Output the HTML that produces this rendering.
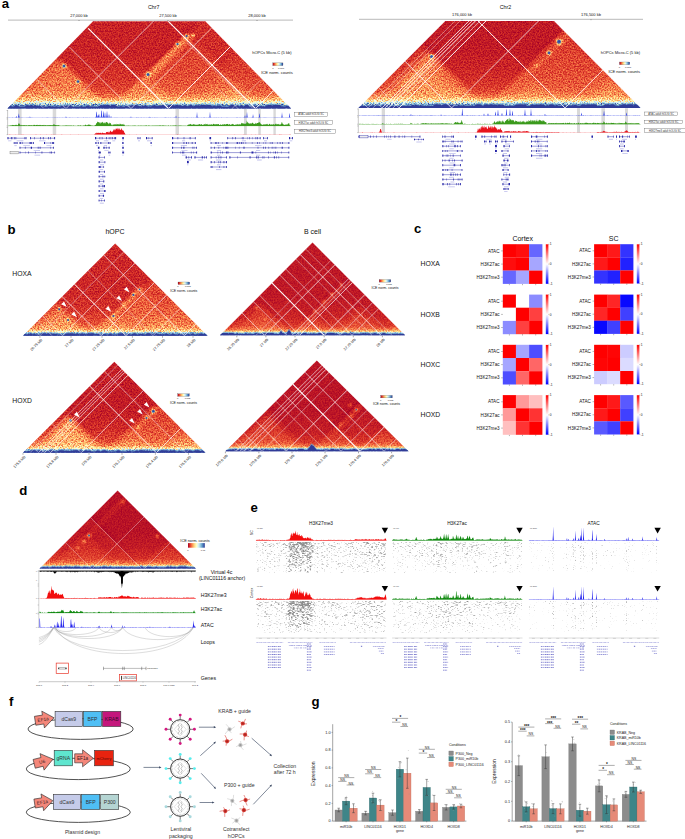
<!DOCTYPE html>
<html><head><meta charset="utf-8"><title>Figure</title>
<style>
html,body{margin:0;padding:0;background:#fff;}
body{width:685px;height:839px;overflow:hidden;font-family:"Liberation Sans",sans-serif;}
svg{display:block;font-family:"Liberation Sans",sans-serif;}
</style></head><body>
<svg width="685" height="839" viewBox="0 0 685 839">
<defs>
<filter id="cm" filterUnits="userSpaceOnUse" x="0" y="0" width="685" height="839" color-interpolation-filters="sRGB">
<feTurbulence type="fractalNoise" baseFrequency="0.71" numOctaves="2" seed="7" result="t"/>
<feColorMatrix in="t" type="matrix" values="2.2 0 0 0 -0.6  2.2 0 0 0 -0.6  2.2 0 0 0 -0.6  0 0 0 0 1" result="n"/>
<feComposite in="SourceGraphic" in2="n" operator="arithmetic" k1="0.74" k2="0.63" k3="0.07" k4="-0.03" result="v"/>
<feComponentTransfer in="v">
<feFuncR type="table" tableValues="0.647 0.843 0.957 0.992 0.996 1 0.878 0.671 0.455 0.271 0.192"/>
<feFuncG type="table" tableValues="0 0.188 0.427 0.682 0.878 1 0.953 0.851 0.678 0.459 0.212"/>
<feFuncB type="table" tableValues="0.149 0.153 0.263 0.380 0.565 0.749 0.973 0.914 0.820 0.706 0.584"/>
</feComponentTransfer>
</filter>
<filter id="cm2" filterUnits="userSpaceOnUse" x="0" y="0" width="685" height="839" color-interpolation-filters="sRGB">
<feTurbulence type="fractalNoise" baseFrequency="0.71" numOctaves="2" seed="9" result="t"/>
<feColorMatrix in="t" type="matrix" values="2.2 0 0 0 -0.6  2.2 0 0 0 -0.6  2.2 0 0 0 -0.6  0 0 0 0 1" result="n"/>
<feComposite in="SourceGraphic" in2="n" operator="arithmetic" k1="0.5" k2="0.75" k3="0.04" k4="-0.02" result="v"/>
<feComponentTransfer in="v">
<feFuncR type="table" tableValues="0.647 0.843 0.957 0.992 0.996 1 0.878 0.671 0.455 0.271 0.192"/>
<feFuncG type="table" tableValues="0 0.188 0.427 0.682 0.878 1 0.953 0.851 0.678 0.459 0.212"/>
<feFuncB type="table" tableValues="0.149 0.153 0.263 0.380 0.565 0.749 0.973 0.914 0.820 0.706 0.584"/>
</feComponentTransfer>
</filter>
<filter id="b1" filterUnits="userSpaceOnUse" x="0" y="0" width="685" height="839"><feGaussianBlur stdDeviation="1"/></filter>
<filter id="b2" filterUnits="userSpaceOnUse" x="0" y="0" width="685" height="839"><feGaussianBlur stdDeviation="2"/></filter>
<filter id="b3" filterUnits="userSpaceOnUse" x="0" y="0" width="685" height="839"><feGaussianBlur stdDeviation="3.5"/></filter>
<filter id="b05" filterUnits="userSpaceOnUse" x="0" y="0" width="685" height="839"><feGaussianBlur stdDeviation="0.5"/></filter>
<linearGradient id="cbar" x1="0" x2="1" y1="0" y2="0">
<stop offset="0" stop-color="#a50026"/><stop offset="0.1" stop-color="#d73027"/><stop offset="0.2" stop-color="#f46d43"/><stop offset="0.3" stop-color="#fdae61"/><stop offset="0.4" stop-color="#fee090"/><stop offset="0.5" stop-color="#ffffbf"/><stop offset="0.6" stop-color="#e0f3f8"/><stop offset="0.7" stop-color="#abd9e9"/><stop offset="0.8" stop-color="#74add1"/><stop offset="0.9" stop-color="#4575b4"/><stop offset="1" stop-color="#313695"/>
</linearGradient>
<linearGradient id="bwr" x1="0" x2="0" y1="0" y2="1">
<stop offset="0" stop-color="#ff0000"/><stop offset="0.5" stop-color="#ffffff"/><stop offset="1" stop-color="#0000ff"/>
</linearGradient>
</defs>

<text x="1.8" y="8.4" font-size="13.2" text-anchor="start" font-weight="bold" fill="#000" >a</text>
<text x="153.7" y="8.6" font-size="5.3" text-anchor="middle" fill="#111" >Chr7</text>
<line x1="8" y1="20.1" x2="293" y2="20.1" stroke="#333" stroke-width="0.35" />
<text x="79" y="16.8" font-size="4" text-anchor="middle" fill="#111" >27,000 kb</text>
<line x1="79" y1="20.1" x2="79" y2="21" stroke="#222" stroke-width="0.4" />
<text x="168" y="16.8" font-size="4" text-anchor="middle" fill="#111" >27,500 kb</text>
<line x1="168" y1="20.1" x2="168" y2="21" stroke="#222" stroke-width="0.4" />
<text x="257" y="16.8" font-size="4" text-anchor="middle" fill="#111" >28,000 kb</text>
<line x1="257" y1="20.1" x2="257" y2="21" stroke="#222" stroke-width="0.4" />
<clipPath id="hc1"><polygon points="7.5,108.6 93,21.3 205.3,21.3 291,108.6"/></clipPath>
<linearGradient id="hc1g" gradientUnits="userSpaceOnUse" x1="0" x2="0" y1="108.6" y2="48.6">
<stop offset="0.000" stop-color="rgb(255,255,255)" stop-opacity="1"/>
<stop offset="0.042" stop-color="rgb(242,242,242)" stop-opacity="1"/>
<stop offset="0.075" stop-color="rgb(184,184,184)" stop-opacity="0.95"/>
<stop offset="0.108" stop-color="rgb(140,140,140)" stop-opacity="0.85"/>
<stop offset="0.150" stop-color="rgb(115,115,115)" stop-opacity="0.6"/>
<stop offset="0.217" stop-color="rgb(102,102,102)" stop-opacity="0.35"/>
<stop offset="0.333" stop-color="rgb(94,94,94)" stop-opacity="0.2"/>
<stop offset="0.567" stop-color="rgb(89,89,89)" stop-opacity="0.1"/>
<stop offset="1.000" stop-color="rgb(76,76,76)" stop-opacity="0"/>
</linearGradient>
<g clip-path="url(#hc1)">
<g filter="url(#cm)">
<rect x="-2.5" y="11.3" width="303.5" height="107.3" fill="rgb(17,17,17)" />
<polygon points="114,108.6 207,201.6 300,108.6 207,15.6" fill="rgb(24,24,24)" filter="url(#b3)"/>
<polygon points="5,111.6 111,111.6 58,58.6" fill="rgb(33,33,33)" filter="url(#b3)"/>
<polygon points="5,111.6 109,111.6 57,59.6" fill="rgb(48,48,48)" filter="url(#b2)" opacity="0.8"/>
<polygon points="21,111.6 109,111.6 65,67.6" fill="rgb(59,59,59)" filter="url(#b3)" opacity="0.7"/>
<polygon points="34,82.6 60,108.6 83,85.6 57,59.6" fill="rgb(44,44,44)" filter="url(#b3)" opacity="0.4"/>
<polygon points="118.5,103.1 124,108.6 193,39.6 187.5,34.1" fill="rgb(53,53,53)" filter="url(#b2)"/>
<polygon points="131.5,90.1 134.5,93.1 190.5,37.1 187.5,34.1" fill="rgb(72,72,72)" filter="url(#b1)" opacity="0.7"/>
<polygon points="109,111.6 185,111.6 147,73.6" fill="rgb(44,44,44)" filter="url(#b3)" opacity="0.8"/>
<polygon points="121,111.6 185,111.6 153,79.6" fill="rgb(57,57,57)" filter="url(#b3)" opacity="0.6"/>
<polygon points="179,111.6 265,111.6 222,68.6" fill="rgb(42,42,42)" filter="url(#b3)" opacity="0.9"/>
<polygon points="207,111.6 265,111.6 236,82.6" fill="rgb(59,59,59)" filter="url(#b3)" opacity="0.7"/>
<polygon points="153,79.6 182,108.6 222,68.6 193,39.6" fill="rgb(33,33,33)" filter="url(#b3)" opacity="0.8"/>
<polygon points="259,111.6 294,111.6 276.5,94.1" fill="rgb(59,59,59)" filter="url(#b2)"/>
<polygon points="222,68.6 262,108.6 281,89.6 241,49.6" fill="rgb(31,31,31)" filter="url(#b3)" opacity="0.7"/>
<circle cx="64" cy="66.1" r="2.3" fill="rgb(115,115,115)" filter="url(#b1)"/>
<circle cx="78" cy="81.6" r="2.1849999999999996" fill="rgb(115,115,115)" filter="url(#b1)"/>
<circle cx="148" cy="74.6" r="2.3" fill="rgb(115,115,115)" filter="url(#b1)"/>
<circle cx="186.5" cy="36.1" r="1.7249999999999999" fill="rgb(115,115,115)" filter="url(#b1)"/>
<circle cx="177.5" cy="44.1" r="1.8399999999999999" fill="rgb(115,115,115)" filter="url(#b1)"/>
<circle cx="193" cy="35.6" r="1.5" fill="rgb(130,130,130)" filter="url(#b1)"/>
<rect x="-2.5" y="48.6" width="303.5" height="61" fill="url(#hc1g)" />
</g>
<circle cx="64" cy="66.1" r="1.5" fill="#3d62ad" filter="url(#b05)"/>
<circle cx="64.2" cy="66" r="0.7" fill="#2f4199"/>
<circle cx="78" cy="81.6" r="1.4" fill="#3d62ad" filter="url(#b05)"/>
<circle cx="78.2" cy="81.5" r="0.6" fill="#2f4199"/>
<circle cx="148" cy="74.6" r="1.5" fill="#3d62ad" filter="url(#b05)"/>
<circle cx="148.2" cy="74.5" r="0.7" fill="#2f4199"/>
<circle cx="186.5" cy="36.1" r="1.1" fill="#3d62ad" filter="url(#b05)"/>
<circle cx="186.7" cy="36" r="0.5" fill="#2f4199"/>
<circle cx="177.5" cy="44.1" r="1.2" fill="#3d62ad" filter="url(#b05)"/>
<circle cx="177.7" cy="44" r="0.5" fill="#2f4199"/>
<polygon points="6,109.6 6,106 7.2,105 8.2,105 9.4,105.8 10.5,105.4 11.9,106.4 12.8,106.8 14.2,106.3 14.9,105.2 16.4,105 17.7,105.8 18.3,105.8 18.9,106.5 19.8,106.8 20.8,106.8 22.3,106.8 23.5,106.8 24.8,106.8 25.7,105.6 27.3,105 28.6,105.4 29.4,105.9 30.1,105.3 31.1,105 32,105 33.5,106.2 34.3,105.2 35.4,105 36.4,106 37.6,105.4 38.5,106.3 39.4,105.2 40.8,106.2 41.6,106.8 42.3,106.1 43,105.9 44.1,106.7 45.4,106.8 46.7,106.8 47.7,106.8 48.6,105.7 50,106.1 51.4,106.8 52.4,105.9 53.7,106.8 55.3,106.8 56.1,106.1 57.1,106.6 57.7,106.8 58.9,106.8 60.1,106.8 61.2,105.7 62.3,105.5 63.7,106.3 64.5,105.3 65.9,105.9 66.7,105.3 68.2,106.1 69.8,105.1 71,105.3 71.7,106.4 73.2,106.8 74.5,106.8 76,106.6 76.9,106.8 78.2,106.8 79,106.7 80.5,106.4 81.3,105.4 82.2,106.5 83,106.7 83.7,106.8 84.6,106.6 85.4,106.8 86.9,105.6 88.1,105.2 89.3,106.1 89.9,106.8 91.5,106.3 93,106.8 94.3,106.8 95.6,106.8 97.2,106.8 98.3,106.2 99.8,105.7 101.1,105 102.7,105.4 103.9,105 105.4,105.2 106.8,105 108,105 109,105 110.2,106 111.4,105 112.9,105 113.9,105 115.1,105.1 116.5,106.1 117.8,106.8 119,106.8 119.9,106.3 121,106 122.5,106.6 123.1,106.8 124.4,106.8 125.1,105.8 126.4,106 127.9,106.4 129.2,106.8 130.2,106.1 131.7,105.2 132.7,105 133.6,105.9 134.7,105.1 136.2,105 137.7,105.5 138.5,105.7 139.4,106.3 140.4,106 141.5,106.5 142.9,105.3 144,106.3 144.6,105.5 145.2,105 146.4,105.5 147.8,106.6 148.5,106.7 149.1,105.9 150,106.8 150.6,106.5 151.7,106.2 152.9,105.4 154.5,105 155.3,105.1 156.1,106.2 157.1,105.7 157.9,106.3 158.9,105.8 160,105.5 161.3,105.8 162.7,105 163.4,105 164.7,105.9 165.8,105.6 167.3,105.9 168.5,105 169.9,105 170.9,105 171.7,105 173.2,105 174.5,105.7 176,105 177.6,105 178.9,105.4 180.5,105 181.4,106 182.4,105.9 183.8,105.9 184.4,105.2 185.1,105 185.9,105.4 187.3,106.3 188,106.2 189.3,105.4 190.6,105 191.7,105 192.4,105.7 193.5,106.2 194.9,105.8 196,105 197.1,105.5 198.1,105 199.6,105.7 201.1,105 202.2,105 203,105 204.1,105 204.7,105 205.8,105.2 207.3,105.1 208.3,105 209,105 210,105 211.5,105.6 212.6,106.4 213.7,105.7 215.2,105.7 216.1,106.5 217.3,105.5 218,105 218.6,105.7 219.5,105.3 220.4,105.6 221.6,106.6 222.9,106.8 224,106.8 224.8,106.7 225.9,106.8 226.9,106.7 227.7,106.8 228.9,106.5 230,105.6 231.2,105 232.1,105 233.5,105 234.4,105.4 235.9,106.1 237.5,105.2 238.2,105.8 239.6,106.4 240.3,105.6 241.3,105 242,105.2 243.3,106.4 244.1,106 245.6,105 246.3,105 247.7,105 249,105.7 249.6,106.7 250.3,106.6 251.4,106.4 252.1,106.8 252.9,106 254.5,105 255.2,106.1 256.8,106.1 258.1,106.6 259.2,106.5 260.2,106.3 260.9,105.8 262.3,106.6 263.4,106 264.4,106.7 265.1,106.7 265.7,105.7 267.1,105.3 268.6,105 269.6,105 270.7,105 272.1,105.6 273.6,105 275,105 276,105 277.5,105 278.9,105 279.9,105 280.5,105.4 281.6,106.6 282.6,106.2 283.8,106.8 285.3,106.4 286.3,106 287.4,105.9 288.4,105 289.7,105 291,105 291.7,105 293,105.6 293,109.6" fill="#6fa3cc" transform="translate(0,-1.3)" opacity="0.75"/>
<polygon points="6,109.6 6,106 7.2,105 8.2,105 9.4,105.8 10.5,105.4 11.9,106.4 12.8,106.8 14.2,106.3 14.9,105.2 16.4,105 17.7,105.8 18.3,105.8 18.9,106.5 19.8,106.8 20.8,106.8 22.3,106.8 23.5,106.8 24.8,106.8 25.7,105.6 27.3,105 28.6,105.4 29.4,105.9 30.1,105.3 31.1,105 32,105 33.5,106.2 34.3,105.2 35.4,105 36.4,106 37.6,105.4 38.5,106.3 39.4,105.2 40.8,106.2 41.6,106.8 42.3,106.1 43,105.9 44.1,106.7 45.4,106.8 46.7,106.8 47.7,106.8 48.6,105.7 50,106.1 51.4,106.8 52.4,105.9 53.7,106.8 55.3,106.8 56.1,106.1 57.1,106.6 57.7,106.8 58.9,106.8 60.1,106.8 61.2,105.7 62.3,105.5 63.7,106.3 64.5,105.3 65.9,105.9 66.7,105.3 68.2,106.1 69.8,105.1 71,105.3 71.7,106.4 73.2,106.8 74.5,106.8 76,106.6 76.9,106.8 78.2,106.8 79,106.7 80.5,106.4 81.3,105.4 82.2,106.5 83,106.7 83.7,106.8 84.6,106.6 85.4,106.8 86.9,105.6 88.1,105.2 89.3,106.1 89.9,106.8 91.5,106.3 93,106.8 94.3,106.8 95.6,106.8 97.2,106.8 98.3,106.2 99.8,105.7 101.1,105 102.7,105.4 103.9,105 105.4,105.2 106.8,105 108,105 109,105 110.2,106 111.4,105 112.9,105 113.9,105 115.1,105.1 116.5,106.1 117.8,106.8 119,106.8 119.9,106.3 121,106 122.5,106.6 123.1,106.8 124.4,106.8 125.1,105.8 126.4,106 127.9,106.4 129.2,106.8 130.2,106.1 131.7,105.2 132.7,105 133.6,105.9 134.7,105.1 136.2,105 137.7,105.5 138.5,105.7 139.4,106.3 140.4,106 141.5,106.5 142.9,105.3 144,106.3 144.6,105.5 145.2,105 146.4,105.5 147.8,106.6 148.5,106.7 149.1,105.9 150,106.8 150.6,106.5 151.7,106.2 152.9,105.4 154.5,105 155.3,105.1 156.1,106.2 157.1,105.7 157.9,106.3 158.9,105.8 160,105.5 161.3,105.8 162.7,105 163.4,105 164.7,105.9 165.8,105.6 167.3,105.9 168.5,105 169.9,105 170.9,105 171.7,105 173.2,105 174.5,105.7 176,105 177.6,105 178.9,105.4 180.5,105 181.4,106 182.4,105.9 183.8,105.9 184.4,105.2 185.1,105 185.9,105.4 187.3,106.3 188,106.2 189.3,105.4 190.6,105 191.7,105 192.4,105.7 193.5,106.2 194.9,105.8 196,105 197.1,105.5 198.1,105 199.6,105.7 201.1,105 202.2,105 203,105 204.1,105 204.7,105 205.8,105.2 207.3,105.1 208.3,105 209,105 210,105 211.5,105.6 212.6,106.4 213.7,105.7 215.2,105.7 216.1,106.5 217.3,105.5 218,105 218.6,105.7 219.5,105.3 220.4,105.6 221.6,106.6 222.9,106.8 224,106.8 224.8,106.7 225.9,106.8 226.9,106.7 227.7,106.8 228.9,106.5 230,105.6 231.2,105 232.1,105 233.5,105 234.4,105.4 235.9,106.1 237.5,105.2 238.2,105.8 239.6,106.4 240.3,105.6 241.3,105 242,105.2 243.3,106.4 244.1,106 245.6,105 246.3,105 247.7,105 249,105.7 249.6,106.7 250.3,106.6 251.4,106.4 252.1,106.8 252.9,106 254.5,105 255.2,106.1 256.8,106.1 258.1,106.6 259.2,106.5 260.2,106.3 260.9,105.8 262.3,106.6 263.4,106 264.4,106.7 265.1,106.7 265.7,105.7 267.1,105.3 268.6,105 269.6,105 270.7,105 272.1,105.6 273.6,105 275,105 276,105 277.5,105 278.9,105 279.9,105 280.5,105.4 281.6,106.6 282.6,106.2 283.8,106.8 285.3,106.4 286.3,106 287.4,105.9 288.4,105 289.7,105 291,105 291.7,105 293,105.6 293,109.6" fill="#303c98" />
<line x1="66" y1="108.6" x2="183" y2="-8.4" stroke="#fff" stroke-width="0.61" />
<line x1="66" y1="108.6" x2="37" y2="79.6" stroke="#fff" stroke-width="0.61" />
<line x1="131" y1="108.6" x2="69.5" y2="47.1" stroke="#fff" stroke-width="0.61" />
<line x1="131" y1="108.6" x2="215.5" y2="24.1" stroke="#fff" stroke-width="0.61" />
<line x1="168.5" y1="108.6" x2="88.2" y2="28.3" stroke="#fff" stroke-width="1.17" />
<line x1="168.5" y1="108.6" x2="234.2" y2="42.8" stroke="#fff" stroke-width="0.95" />
<line x1="255.5" y1="108.6" x2="131.8" y2="-15.2" stroke="#fff" stroke-width="1.06" />
<line x1="255.5" y1="108.6" x2="277.8" y2="86.3" stroke="#fff" stroke-width="0.83" />
<line x1="253" y1="108.6" x2="186.5" y2="42.1" stroke="#fff" stroke-width="0.39" />
<line x1="44" y1="108.6" x2="26" y2="90.6" stroke="#fff" stroke-width="0.39" />
<line x1="232" y1="108.6" x2="266" y2="74.6" stroke="#fff" stroke-width="0.39" />
<line x1="238" y1="108.6" x2="219" y2="89.6" stroke="#fff" stroke-width="0.39" />
</g>
<text x="291.5" y="53.5" font-size="4" text-anchor="end" fill="#111" >hOPCs Micro-C (5 kb)</text>
<rect x="272.8" y="62.9" width="10.2" height="2.7" fill="url(#cbar)" stroke="#333" stroke-width="0.2"/>
<text x="272.8" y="68.6" font-size="2.4" text-anchor="middle" fill="#111" >0</text>
<text x="281" y="68.6" font-size="2.4" text-anchor="middle" fill="#111" >0.008</text>
<text x="292.8" y="73.8" font-size="4.1" text-anchor="end" fill="#111" >ICE norm. counts</text>
<rect x="18" y="109" width="3.6" height="25.8" fill="#d9d9d9" />
<rect x="52.7" y="109" width="3.5" height="25.8" fill="#d9d9d9" />
<rect x="175.5" y="109" width="3.5" height="25.8" fill="#d9d9d9" />
<rect x="244" y="109" width="2.8" height="25.8" fill="#d9d9d9" />
<rect x="258.3" y="109" width="2.5" height="25.8" fill="#d9d9d9" />
<rect x="273.4" y="109" width="2.4" height="25.8" fill="#d9d9d9" />
<line x1="7.6" y1="110" x2="7.6" y2="135" stroke="#444" stroke-width="0.3" />
<line x1="6.6" y1="110.5" x2="7.6" y2="110.5" stroke="#444" stroke-width="0.3" />
<line x1="6.6" y1="117.6" x2="7.6" y2="117.6" stroke="#444" stroke-width="0.3" />
<line x1="6.6" y1="119" x2="7.6" y2="119" stroke="#444" stroke-width="0.3" />
<line x1="6.6" y1="125.9" x2="7.6" y2="125.9" stroke="#444" stroke-width="0.3" />
<line x1="6.6" y1="127.5" x2="7.6" y2="127.5" stroke="#444" stroke-width="0.3" />
<line x1="6.6" y1="134.6" x2="7.6" y2="134.6" stroke="#444" stroke-width="0.3" />
<path d="M8,117.6 L8.0,117.6 L8.2,117.4 L8.5,117.4 L8.8,117.4 L9.0,117.6 L9.2,117.6 L9.5,117.3 L9.8,117.6 L10.0,117.6 L10.2,117.5 L10.5,117.4 L10.8,117.6 L11.0,117.5 L11.2,117.4 L11.5,117.5 L11.8,117.5 L12.0,117.4 L12.2,117.3 L12.5,117.3 L12.8,117.6 L13.0,117.6 L13.2,117.5 L13.5,117.6 L13.8,117.4 L14.0,117.6 L14.2,117.6 L14.5,117.5 L14.8,117.4 L15.0,117.5 L15.2,117.2 L15.5,117.5 L15.8,117.2 L16.0,116.9 L16.2,116.5 L16.5,116.3 L16.8,116.6 L17.0,117.2 L17.2,117.5 L17.5,117.5 L17.8,117.4 L18.0,117.0 L18.2,116.3 L18.5,114.9 L18.8,113.6 L19.0,113.7 L19.2,115.8 L19.5,116.8 L19.8,117.4 L20.0,117.5 L20.2,117.6 L20.5,117.5 L20.8,117.5 L21.0,117.6 L21.2,117.2 L21.5,117.4 L21.8,117.5 L22.0,117.3 L22.2,117.5 L22.5,117.4 L22.8,117.3 L23.0,117.4 L23.2,117.6 L23.5,117.4 L23.8,117.6 L24.0,117.4 L24.2,117.5 L24.5,117.5 L24.8,117.6 L25.0,117.4 L25.2,117.5 L25.5,117.6 L25.8,117.6 L26.0,117.5 L26.2,117.5 L26.5,117.2 L26.8,117.5 L27.0,117.5 L27.2,117.5 L27.5,117.3 L27.8,117.6 L28.0,117.4 L28.2,117.5 L28.5,117.3 L28.8,117.3 L29.0,117.4 L29.2,117.6 L29.5,117.3 L29.8,116.5 L30.0,116.5 L30.2,116.9 L30.5,117.2 L30.8,117.4 L31.0,117.3 L31.2,117.5 L31.5,117.5 L31.8,117.3 L32.0,117.5 L32.2,117.6 L32.5,117.4 L32.8,117.2 L33.0,117.6 L33.2,117.4 L33.5,117.5 L33.8,117.5 L34.0,117.5 L34.2,117.5 L34.5,117.4 L34.8,117.4 L35.0,117.5 L35.2,117.4 L35.5,117.6 L35.8,117.6 L36.0,117.3 L36.2,117.5 L36.5,117.6 L36.8,117.5 L37.0,117.6 L37.2,117.5 L37.5,117.5 L37.8,117.4 L38.0,117.6 L38.2,117.5 L38.5,117.5 L38.8,117.5 L39.0,117.5 L39.2,117.4 L39.5,117.5 L39.8,117.5 L40.0,117.5 L40.2,117.4 L40.5,117.5 L40.8,117.5 L41.0,117.6 L41.2,117.5 L41.5,117.5 L41.8,117.6 L42.0,117.5 L42.2,117.3 L42.5,117.5 L42.8,117.5 L43.0,117.5 L43.2,117.4 L43.5,117.5 L43.8,117.4 L44.0,117.5 L44.2,117.5 L44.5,117.6 L44.8,117.5 L45.0,117.5 L45.2,117.4 L45.5,117.4 L45.8,117.5 L46.0,117.5 L46.2,117.5 L46.5,117.2 L46.8,117.6 L47.0,117.2 L47.2,117.2 L47.5,117.2 L47.8,117.4 L48.0,117.5 L48.2,117.5 L48.5,117.6 L48.8,117.3 L49.0,117.5 L49.2,117.4 L49.5,117.6 L49.8,117.4 L50.0,117.6 L50.2,117.5 L50.5,117.5 L50.8,117.5 L51.0,117.6 L51.2,117.5 L51.5,117.4 L51.8,117.4 L52.0,117.3 L52.2,117.4 L52.5,117.4 L52.8,117.5 L53.0,117.3 L53.2,117.6 L53.5,117.5 L53.8,117.5 L54.0,117.5 L54.2,117.4 L54.5,117.2 L54.8,117.4 L55.0,117.5 L55.2,117.5 L55.5,117.6 L55.8,117.2 L56.0,117.3 L56.2,117.6 L56.5,117.5 L56.8,117.5 L57.0,117.3 L57.2,117.5 L57.5,117.4 L57.8,117.3 L58.0,117.3 L58.2,117.4 L58.5,117.6 L58.8,117.6 L59.0,117.4 L59.2,117.3 L59.5,117.5 L59.8,117.6 L60.0,117.6 L60.2,117.4 L60.5,117.4 L60.8,117.5 L61.0,117.6 L61.2,117.6 L61.5,117.5 L61.8,117.6 L62.0,117.6 L62.2,117.6 L62.5,117.3 L62.8,117.5 L63.0,117.4 L63.2,117.5 L63.5,117.5 L63.8,117.5 L64.0,117.4 L64.2,117.4 L64.5,117.5 L64.8,117.5 L65.0,117.5 L65.2,117.4 L65.5,117.3 L65.8,116.6 L66.0,116.4 L66.2,116.7 L66.5,117.3 L66.8,117.3 L67.0,117.3 L67.2,117.6 L67.5,117.5 L67.8,117.4 L68.0,117.6 L68.2,117.4 L68.5,117.6 L68.8,117.5 L69.0,117.4 L69.2,117.5 L69.5,117.3 L69.8,117.3 L70.0,117.3 L70.2,117.3 L70.5,117.6 L70.8,117.5 L71.0,117.5 L71.2,117.6 L71.5,117.5 L71.8,117.4 L72.0,117.4 L72.2,117.4 L72.5,117.5 L72.8,117.3 L73.0,117.5 L73.2,117.6 L73.5,117.6 L73.8,117.6 L74.0,117.4 L74.2,117.4 L74.5,117.5 L74.8,117.6 L75.0,117.3 L75.2,117.4 L75.5,117.6 L75.8,117.6 L76.0,117.6 L76.2,117.5 L76.5,117.5 L76.8,117.4 L77.0,117.4 L77.2,117.2 L77.5,117.3 L77.8,117.4 L78.0,117.3 L78.2,117.5 L78.5,117.3 L78.8,117.6 L79.0,117.4 L79.2,117.4 L79.5,117.5 L79.8,117.6 L80.0,117.5 L80.2,117.4 L80.5,117.5 L80.8,117.5 L81.0,117.5 L81.2,117.5 L81.5,117.4 L81.8,117.4 L82.0,117.5 L82.2,117.5 L82.5,117.5 L82.8,117.5 L83.0,117.5 L83.2,117.6 L83.5,117.1 L83.8,117.6 L84.0,117.3 L84.2,117.4 L84.5,117.5 L84.8,117.4 L85.0,117.6 L85.2,117.3 L85.5,117.4 L85.8,117.6 L86.0,117.4 L86.2,117.3 L86.5,117.6 L86.8,117.5 L87.0,117.6 L87.2,117.2 L87.5,117.4 L87.8,117.6 L88.0,117.6 L88.2,117.5 L88.5,117.6 L88.8,117.5 L89.0,117.5 L89.2,117.5 L89.5,117.6 L89.8,117.3 L90.0,117.5 L90.2,117.6 L90.5,117.5 L90.8,117.4 L91.0,117.5 L91.2,117.4 L91.5,117.6 L91.8,117.5 L92.0,117.4 L92.2,117.6 L92.5,117.5 L92.8,117.5 L93.0,117.5 L93.2,117.5 L93.5,117.6 L93.8,117.5 L94.0,117.4 L94.2,117.6 L94.5,117.4 L94.8,117.5 L95.0,117.4 L95.2,117.3 L95.5,117.2 L95.8,116.9 L96.0,115.2 L96.2,111.9 L96.5,111.5 L96.8,112.9 L97.0,115.0 L97.2,116.7 L97.5,116.7 L97.8,115.4 L98.0,115.1 L98.2,115.5 L98.5,115.7 L98.8,114.3 L99.0,113.5 L99.2,114.4 L99.5,116.6 L99.8,117.4 L100.0,117.3 L100.2,117.3 L100.5,117.2 L100.8,116.5 L101.0,114.9 L101.2,111.1 L101.5,110.2 L101.8,111.2 L102.0,114.5 L102.2,116.7 L102.5,117.3 L102.8,117.1 L103.0,115.8 L103.2,113.0 L103.5,110.7 L103.8,112.7 L104.0,115.8 L104.2,117.1 L104.5,116.4 L104.8,113.2 L105.0,112.2 L105.2,113.1 L105.5,116.3 L105.8,117.4 L106.0,117.3 L106.2,116.9 L106.5,115.0 L106.8,112.2 L107.0,110.8 L107.2,112.1 L107.5,115.2 L107.8,116.8 L108.0,117.4 L108.2,117.4 L108.5,116.9 L108.8,114.8 L109.0,114.2 L109.2,114.7 L109.5,116.6 L109.8,117.4 L110.0,117.5 L110.2,117.4 L110.5,117.2 L110.8,116.4 L111.0,115.6 L111.2,116.3 L111.5,117.2 L111.8,117.5 L112.0,117.4 L112.2,117.5 L112.5,117.5 L112.8,117.5 L113.0,117.5 L113.2,117.4 L113.5,117.4 L113.8,117.5 L114.0,117.6 L114.2,117.5 L114.5,117.2 L114.8,117.5 L115.0,117.4 L115.2,117.3 L115.5,117.6 L115.8,117.5 L116.0,117.4 L116.2,117.4 L116.5,117.3 L116.8,117.5 L117.0,117.6 L117.2,117.4 L117.5,117.5 L117.8,117.2 L118.0,117.5 L118.2,117.5 L118.5,117.6 L118.8,117.4 L119.0,117.6 L119.2,117.6 L119.5,117.5 L119.8,117.5 L120.0,117.5 L120.2,117.4 L120.5,117.5 L120.8,117.4 L121.0,117.4 L121.2,117.5 L121.5,117.5 L121.8,117.4 L122.0,117.6 L122.2,117.4 L122.5,117.4 L122.8,117.3 L123.0,117.6 L123.2,117.4 L123.5,117.4 L123.8,117.4 L124.0,117.5 L124.2,117.5 L124.5,117.5 L124.8,117.6 L125.0,117.6 L125.2,117.5 L125.5,117.5 L125.8,117.6 L126.0,117.6 L126.2,117.5 L126.5,117.5 L126.8,117.5 L127.0,117.5 L127.2,117.6 L127.5,117.5 L127.8,117.4 L128.0,117.6 L128.2,117.6 L128.5,117.4 L128.8,117.5 L129.0,117.6 L129.2,117.5 L129.5,117.5 L129.8,117.5 L130.0,117.1 L130.2,117.5 L130.5,117.3 L130.8,116.8 L131.0,116.1 L131.2,116.9 L131.5,117.5 L131.8,117.3 L132.0,117.6 L132.2,117.5 L132.5,117.6 L132.8,117.3 L133.0,117.5 L133.2,117.5 L133.5,117.4 L133.8,117.4 L134.0,117.4 L134.2,117.6 L134.5,117.6 L134.8,117.6 L135.0,117.5 L135.2,117.5 L135.5,117.5 L135.8,117.6 L136.0,117.4 L136.2,117.3 L136.5,117.5 L136.8,117.1 L137.0,117.3 L137.2,117.6 L137.5,117.2 L137.8,117.4 L138.0,117.5 L138.2,117.6 L138.5,117.3 L138.8,117.3 L139.0,117.5 L139.2,117.5 L139.5,117.5 L139.8,117.5 L140.0,117.5 L140.2,117.5 L140.5,117.4 L140.8,117.2 L141.0,117.5 L141.2,117.3 L141.5,117.6 L141.8,117.3 L142.0,117.2 L142.2,117.5 L142.5,117.5 L142.8,117.5 L143.0,117.6 L143.2,117.3 L143.5,117.5 L143.8,117.6 L144.0,117.5 L144.2,117.3 L144.5,117.4 L144.8,117.4 L145.0,117.4 L145.2,117.5 L145.5,117.4 L145.8,117.4 L146.0,117.4 L146.2,117.6 L146.5,117.6 L146.8,117.3 L147.0,117.5 L147.2,117.5 L147.5,117.5 L147.8,117.4 L148.0,117.3 L148.2,117.3 L148.5,117.2 L148.8,117.5 L149.0,117.6 L149.2,117.4 L149.5,117.0 L149.8,116.7 L150.0,116.7 L150.2,116.9 L150.5,117.3 L150.8,117.5 L151.0,117.5 L151.2,117.6 L151.5,117.6 L151.8,117.4 L152.0,117.3 L152.2,117.4 L152.5,117.3 L152.8,117.4 L153.0,117.5 L153.2,117.6 L153.5,117.6 L153.8,117.5 L154.0,117.6 L154.2,117.5 L154.5,117.1 L154.8,117.5 L155.0,117.5 L155.2,117.2 L155.5,117.4 L155.8,117.5 L156.0,117.5 L156.2,117.3 L156.5,117.4 L156.8,117.4 L157.0,117.6 L157.2,117.2 L157.5,117.5 L157.8,117.4 L158.0,117.5 L158.2,117.6 L158.5,117.5 L158.8,117.4 L159.0,117.6 L159.2,117.5 L159.5,117.4 L159.8,117.6 L160.0,117.6 L160.2,117.5 L160.5,117.5 L160.8,117.4 L161.0,117.4 L161.2,117.5 L161.5,117.6 L161.8,117.4 L162.0,117.5 L162.2,117.4 L162.5,117.6 L162.8,117.4 L163.0,117.4 L163.2,117.6 L163.5,117.5 L163.8,117.6 L164.0,117.6 L164.2,117.5 L164.5,117.3 L164.8,117.5 L165.0,117.2 L165.2,117.2 L165.5,117.3 L165.8,117.3 L166.0,117.4 L166.2,117.6 L166.5,117.2 L166.8,117.5 L167.0,117.4 L167.2,117.5 L167.5,117.6 L167.8,117.4 L168.0,117.2 L168.2,117.6 L168.5,117.5 L168.8,117.2 L169.0,117.6 L169.2,117.5 L169.5,117.6 L169.8,117.5 L170.0,117.3 L170.2,117.6 L170.5,117.3 L170.8,117.5 L171.0,117.6 L171.2,117.4 L171.5,117.4 L171.8,117.4 L172.0,117.6 L172.2,117.5 L172.5,117.5 L172.8,117.5 L173.0,117.5 L173.2,117.6 L173.5,117.4 L173.8,117.3 L174.0,117.4 L174.2,117.1 L174.5,117.2 L174.8,117.6 L175.0,117.5 L175.2,117.5 L175.5,116.9 L175.8,116.2 L176.0,115.5 L176.2,116.0 L176.5,117.1 L176.8,117.4 L177.0,117.4 L177.2,117.4 L177.5,117.6 L177.8,117.6 L178.0,117.5 L178.2,117.3 L178.5,117.1 L178.8,117.5 L179.0,117.5 L179.2,117.1 L179.5,117.5 L179.8,117.6 L180.0,117.4 L180.2,117.6 L180.5,117.6 L180.8,117.6 L181.0,117.5 L181.2,117.6 L181.5,117.5 L181.8,117.5 L182.0,117.5 L182.2,117.4 L182.5,117.6 L182.8,117.5 L183.0,117.4 L183.2,117.5 L183.5,117.4 L183.8,117.2 L184.0,117.6 L184.2,117.5 L184.5,117.4 L184.8,117.4 L185.0,117.5 L185.2,117.4 L185.5,117.5 L185.8,117.4 L186.0,117.6 L186.2,117.5 L186.5,117.3 L186.8,117.6 L187.0,117.3 L187.2,117.4 L187.5,117.3 L187.8,117.5 L188.0,117.3 L188.2,117.5 L188.5,117.5 L188.8,117.5 L189.0,117.5 L189.2,117.6 L189.5,117.5 L189.8,117.4 L190.0,117.4 L190.2,117.6 L190.5,117.5 L190.8,117.5 L191.0,117.3 L191.2,117.5 L191.5,117.2 L191.8,117.5 L192.0,117.5 L192.2,117.5 L192.5,117.4 L192.8,117.6 L193.0,117.4 L193.2,117.3 L193.5,117.4 L193.8,117.5 L194.0,117.4 L194.2,117.6 L194.5,117.4 L194.8,117.5 L195.0,117.5 L195.2,117.3 L195.5,117.5 L195.8,117.6 L196.0,117.5 L196.2,117.4 L196.5,116.5 L196.8,114.1 L197.0,111.7 L197.2,113.5 L197.5,116.8 L197.8,117.1 L198.0,117.5 L198.2,117.5 L198.5,117.6 L198.8,117.1 L199.0,117.5 L199.2,117.5 L199.5,117.6 L199.8,117.5 L200.0,117.3 L200.2,117.6 L200.5,117.5 L200.8,117.4 L201.0,117.6 L201.2,117.6 L201.5,117.5 L201.8,117.2 L202.0,117.5 L202.2,117.5 L202.5,117.5 L202.8,117.6 L203.0,117.5 L203.2,117.6 L203.5,117.6 L203.8,117.1 L204.0,117.4 L204.2,117.3 L204.5,117.4 L204.8,117.1 L205.0,117.5 L205.2,117.4 L205.5,117.6 L205.8,117.6 L206.0,117.6 L206.2,117.5 L206.5,117.5 L206.8,117.3 L207.0,117.6 L207.2,117.6 L207.5,117.4 L207.8,117.5 L208.0,117.5 L208.2,117.5 L208.5,117.2 L208.8,117.3 L209.0,117.6 L209.2,117.4 L209.5,116.5 L209.8,113.2 L210.0,111.4 L210.2,113.4 L210.5,116.5 L210.8,117.2 L211.0,117.6 L211.2,117.6 L211.5,117.6 L211.8,117.3 L212.0,117.4 L212.2,117.5 L212.5,117.4 L212.8,117.6 L213.0,117.3 L213.2,117.5 L213.5,117.5 L213.8,117.4 L214.0,117.3 L214.2,117.5 L214.5,117.4 L214.8,117.2 L215.0,117.5 L215.2,117.5 L215.5,117.6 L215.8,117.5 L216.0,117.1 L216.2,117.4 L216.5,117.3 L216.8,117.4 L217.0,117.6 L217.2,117.6 L217.5,117.4 L217.8,117.4 L218.0,117.3 L218.2,117.6 L218.5,117.3 L218.8,117.6 L219.0,117.4 L219.2,117.5 L219.5,117.5 L219.8,117.6 L220.0,117.5 L220.2,117.5 L220.5,117.4 L220.8,117.6 L221.0,117.5 L221.2,117.4 L221.5,117.2 L221.8,117.3 L222.0,117.3 L222.2,117.5 L222.5,117.5 L222.8,117.5 L223.0,117.5 L223.2,117.6 L223.5,117.4 L223.8,117.5 L224.0,117.6 L224.2,117.4 L224.5,117.5 L224.8,117.5 L225.0,117.4 L225.2,117.6 L225.5,117.4 L225.8,117.6 L226.0,117.2 L226.2,117.2 L226.5,117.4 L226.8,117.6 L227.0,117.5 L227.2,117.6 L227.5,117.3 L227.8,117.4 L228.0,117.6 L228.2,117.5 L228.5,117.5 L228.8,117.5 L229.0,117.4 L229.2,117.6 L229.5,117.5 L229.8,117.4 L230.0,117.5 L230.2,117.5 L230.5,117.4 L230.8,117.4 L231.0,117.5 L231.2,117.5 L231.5,117.4 L231.8,117.6 L232.0,117.4 L232.2,117.4 L232.5,117.4 L232.8,117.4 L233.0,117.5 L233.2,117.5 L233.5,117.4 L233.8,117.4 L234.0,117.6 L234.2,117.5 L234.5,117.5 L234.8,117.5 L235.0,117.4 L235.2,117.6 L235.5,117.4 L235.8,117.5 L236.0,117.6 L236.2,117.3 L236.5,117.4 L236.8,117.3 L237.0,117.3 L237.2,117.5 L237.5,117.3 L237.8,117.3 L238.0,117.5 L238.2,117.5 L238.5,117.5 L238.8,117.5 L239.0,117.5 L239.2,117.3 L239.5,117.5 L239.8,117.6 L240.0,117.4 L240.2,117.6 L240.5,117.3 L240.8,117.6 L241.0,117.5 L241.2,117.5 L241.5,117.4 L241.8,117.5 L242.0,117.4 L242.2,117.5 L242.5,117.5 L242.8,117.4 L243.0,117.2 L243.2,117.3 L243.5,117.6 L243.8,117.5 L244.0,117.3 L244.2,117.4 L244.5,116.8 L244.8,115.9 L245.0,114.8 L245.2,115.7 L245.5,116.9 L245.8,117.4 L246.0,117.6 L246.2,117.4 L246.5,116.2 L246.8,113.6 L247.0,111.8 L247.2,113.5 L247.5,116.1 L247.8,117.4 L248.0,117.4 L248.2,117.4 L248.5,117.4 L248.8,117.4 L249.0,117.3 L249.2,117.4 L249.5,117.6 L249.8,117.5 L250.0,117.4 L250.2,117.5 L250.5,117.6 L250.8,117.5 L251.0,117.5 L251.2,117.5 L251.5,117.4 L251.8,117.2 L252.0,117.3 L252.2,117.2 L252.5,116.9 L252.8,115.4 L253.0,113.9 L253.2,115.1 L253.5,116.8 L253.8,117.4 L254.0,117.5 L254.2,117.4 L254.5,117.6 L254.8,117.4 L255.0,117.5 L255.2,117.5 L255.5,117.6 L255.8,117.5 L256.0,117.5 L256.2,117.4 L256.5,117.5 L256.8,117.3 L257.0,117.4 L257.2,117.5 L257.5,117.4 L257.8,117.5 L258.0,117.5 L258.2,117.6 L258.5,117.5 L258.8,117.1 L259.0,116.7 L259.2,114.3 L259.5,113.2 L259.8,114.7 L260.0,116.7 L260.2,117.5 L260.5,117.6 L260.8,117.4 L261.0,117.3 L261.2,117.5 L261.5,117.4 L261.8,117.6 L262.0,117.5 L262.2,117.5 L262.5,117.4 L262.8,117.6 L263.0,117.5 L263.2,117.5 L263.5,117.3 L263.8,117.4 L264.0,117.5 L264.2,117.6 L264.5,117.3 L264.8,117.4 L265.0,117.1 L265.2,117.5 L265.5,117.4 L265.8,117.3 L266.0,117.6 L266.2,117.6 L266.5,117.5 L266.8,117.3 L267.0,117.5 L267.2,117.4 L267.5,117.5 L267.8,117.5 L268.0,117.5 L268.2,117.4 L268.5,117.5 L268.8,117.5 L269.0,117.5 L269.2,117.5 L269.5,117.6 L269.8,117.5 L270.0,117.5 L270.2,117.5 L270.5,117.4 L270.8,117.5 L271.0,117.6 L271.2,117.6 L271.5,117.5 L271.8,117.6 L272.0,117.5 L272.2,117.6 L272.5,117.4 L272.8,117.5 L273.0,117.3 L273.2,117.4 L273.5,117.4 L273.8,117.6 L274.0,117.5 L274.2,117.5 L274.5,117.4 L274.8,117.2 L275.0,117.3 L275.2,117.3 L275.5,117.4 L275.8,117.6 L276.0,117.6 L276.2,117.1 L276.5,117.5 L276.8,117.4 L277.0,117.5 L277.2,117.6 L277.5,117.5 L277.8,117.1 L278.0,117.5 L278.2,117.3 L278.5,117.5 L278.8,117.6 L279.0,117.5 L279.2,117.3 L279.5,117.6 L279.8,117.4 L280.0,117.4 L280.2,117.6 L280.5,117.6 L280.8,117.5 L281.0,117.5 L281.2,117.3 L281.5,116.4 L281.8,114.2 L282.0,112.1 L282.2,114.1 L282.5,116.3 L282.8,117.4 L283.0,117.5 L283.2,117.5 L283.5,117.2 L283.8,117.6 L284.0,117.4 L284.2,117.4 L284.5,117.6 L284.8,117.6 L285.0,117.3 L285.2,117.5 L285.5,117.5 L285.8,117.5 L286.0,117.3 L286.2,117.2 L286.5,117.6 L286.8,117.4 L287.0,117.6 L287.2,117.5 L287.5,117.3 L287.8,117.5 L288.0,117.5 L288.2,117.5 L288.5,117.4 L288.8,117.3 L289.0,116.7 L289.2,114.8 L289.5,113.1 L289.8,114.6 L290.0,116.7 L290.2,117.5 L290.5,117.6 L290.8,117.6 L291.0,117.4 L291,117.6 Z" fill="#3b4be8"/>
<line x1="8" y1="117.6" x2="291" y2="117.6" stroke="#3b4be8" stroke-width="0.35" opacity="0.6"/>
<path d="M8,125.9 L8.0,125.9 L8.4,125.8 L8.8,125.8 L9.2,125.8 L9.6,125.6 L10.0,125.8 L10.4,125.6 L10.8,125.2 L11.2,125.6 L11.6,125.4 L12.0,124.8 L12.4,125.0 L12.8,125.3 L13.2,125.1 L13.6,125.2 L14.0,124.9 L14.4,125.4 L14.8,125.1 L15.2,124.7 L15.6,125.0 L16.0,125.2 L16.4,124.6 L16.8,125.2 L17.2,125.3 L17.6,125.3 L18.0,124.7 L18.4,123.7 L18.8,123.3 L19.2,123.3 L19.6,124.2 L20.0,124.5 L20.4,125.0 L20.8,125.4 L21.2,125.5 L21.6,125.0 L22.0,124.7 L22.4,125.5 L22.8,125.2 L23.2,125.2 L23.6,125.1 L24.0,125.5 L24.4,125.2 L24.8,125.0 L25.2,125.3 L25.6,125.5 L26.0,125.3 L26.4,125.4 L26.8,125.0 L27.2,125.4 L27.6,125.5 L28.0,125.4 L28.4,125.2 L28.8,125.0 L29.2,125.6 L29.6,125.0 L30.0,125.1 L30.4,125.2 L30.8,125.6 L31.2,125.1 L31.6,125.2 L32.0,125.5 L32.4,125.5 L32.8,125.2 L33.2,125.4 L33.6,124.7 L34.0,125.0 L34.4,124.8 L34.8,124.9 L35.2,125.6 L35.6,125.2 L36.0,124.8 L36.4,125.0 L36.8,125.1 L37.2,124.8 L37.6,124.9 L38.0,125.5 L38.4,125.0 L38.8,124.9 L39.2,125.2 L39.6,125.1 L40.0,124.8 L40.4,125.1 L40.8,125.2 L41.2,124.9 L41.6,125.5 L42.0,125.1 L42.4,125.0 L42.8,125.2 L43.2,125.3 L43.6,124.7 L44.0,125.4 L44.4,124.8 L44.8,125.4 L45.2,125.3 L45.6,125.0 L46.0,125.2 L46.4,125.4 L46.8,125.2 L47.2,125.2 L47.6,125.3 L48.0,125.2 L48.4,125.1 L48.8,125.4 L49.2,125.0 L49.6,125.3 L50.0,125.2 L50.4,124.9 L50.8,125.3 L51.2,125.0 L51.6,125.3 L52.0,125.4 L52.4,125.3 L52.8,125.1 L53.2,124.7 L53.6,124.3 L54.0,124.5 L54.4,124.6 L54.8,124.8 L55.2,125.1 L55.6,125.1 L56.0,125.1 L56.4,125.3 L56.8,125.2 L57.2,125.0 L57.6,125.5 L58.0,125.2 L58.4,125.2 L58.8,124.9 L59.2,125.5 L59.6,125.4 L60.0,125.7 L60.4,125.8 L60.8,125.8 L61.2,125.7 L61.6,125.8 L62.0,125.9 L62.4,125.4 L62.8,125.7 L63.2,125.7 L63.6,125.4 L64.0,125.7 L64.4,125.8 L64.8,125.6 L65.2,125.7 L65.6,125.3 L66.0,125.6 L66.4,125.8 L66.8,125.1 L67.2,125.6 L67.6,125.6 L68.0,125.7 L68.4,125.5 L68.8,125.5 L69.2,125.5 L69.6,125.7 L70.0,125.2 L70.4,125.6 L70.8,125.7 L71.2,125.5 L71.6,125.6 L72.0,125.8 L72.4,125.7 L72.8,125.7 L73.2,125.5 L73.6,125.3 L74.0,125.9 L74.4,125.7 L74.8,125.7 L75.2,125.8 L75.6,125.7 L76.0,125.9 L76.4,125.9 L76.8,125.7 L77.2,125.6 L77.6,125.8 L78.0,125.5 L78.4,125.4 L78.8,125.3 L79.2,125.8 L79.6,125.8 L80.0,125.2 L80.4,125.6 L80.8,125.2 L81.2,125.8 L81.6,125.7 L82.0,125.7 L82.4,125.7 L82.8,125.8 L83.2,125.8 L83.6,125.2 L84.0,125.5 L84.4,125.4 L84.8,125.4 L85.2,124.5 L85.6,124.8 L86.0,125.0 L86.4,125.3 L86.8,125.5 L87.2,125.4 L87.6,124.8 L88.0,124.9 L88.4,124.5 L88.8,124.6 L89.2,124.5 L89.6,124.7 L90.0,125.0 L90.4,124.8 L90.8,125.4 L91.2,125.2 L91.6,125.7 L92.0,125.5 L92.4,125.6 L92.8,125.7 L93.2,125.7 L93.6,125.7 L94.0,125.7 L94.4,125.3 L94.8,125.8 L95.2,124.9 L95.6,125.1 L96.0,124.2 L96.4,122.8 L96.8,123.5 L97.2,122.3 L97.6,121.6 L98.0,122.1 L98.4,121.9 L98.8,122.6 L99.2,121.8 L99.6,123.4 L100.0,122.6 L100.4,123.9 L100.8,122.1 L101.2,122.6 L101.6,122.6 L102.0,123.0 L102.4,121.9 L102.8,121.7 L103.2,122.7 L103.6,122.7 L104.0,124.0 L104.4,122.6 L104.8,122.6 L105.2,123.8 L105.6,122.4 L106.0,122.0 L106.4,121.9 L106.8,122.2 L107.2,122.3 L107.6,122.9 L108.0,122.6 L108.4,124.4 L108.8,123.4 L109.2,122.2 L109.6,123.7 L110.0,122.9 L110.4,123.4 L110.8,122.7 L111.2,124.7 L111.6,124.5 L112.0,125.8 L112.4,125.2 L112.8,124.3 L113.2,125.0 L113.6,124.4 L114.0,123.8 L114.4,124.7 L114.8,124.2 L115.2,124.6 L115.6,124.0 L116.0,124.7 L116.4,123.5 L116.8,124.9 L117.2,123.9 L117.6,124.2 L118.0,124.5 L118.4,123.7 L118.8,124.7 L119.2,125.0 L119.6,123.4 L120.0,124.2 L120.4,123.6 L120.8,124.5 L121.2,124.0 L121.6,124.5 L122.0,124.8 L122.4,124.5 L122.8,123.9 L123.2,123.7 L123.6,124.9 L124.0,124.4 L124.4,124.5 L124.8,125.5 L125.2,125.9 L125.6,125.8 L126.0,125.5 L126.4,125.8 L126.8,125.8 L127.2,125.8 L127.6,125.7 L128.0,125.5 L128.4,125.8 L128.8,125.6 L129.2,125.8 L129.6,125.9 L130.0,125.3 L130.4,125.9 L130.8,125.8 L131.2,125.8 L131.6,125.7 L132.0,125.9 L132.4,125.5 L132.8,125.8 L133.2,125.5 L133.6,125.7 L134.0,125.7 L134.4,125.7 L134.8,125.2 L135.2,125.8 L135.6,125.6 L136.0,125.7 L136.4,125.9 L136.8,125.7 L137.2,125.9 L137.6,125.7 L138.0,125.5 L138.4,125.6 L138.8,125.8 L139.2,125.7 L139.6,125.8 L140.0,125.8 L140.4,125.6 L140.8,125.7 L141.2,125.7 L141.6,125.6 L142.0,125.8 L142.4,125.7 L142.8,125.8 L143.2,125.4 L143.6,125.8 L144.0,125.9 L144.4,125.6 L144.8,125.7 L145.2,125.7 L145.6,125.3 L146.0,125.7 L146.4,125.1 L146.8,125.8 L147.2,125.7 L147.6,125.9 L148.0,125.6 L148.4,125.6 L148.8,125.5 L149.2,125.6 L149.6,125.6 L150.0,125.9 L150.4,125.8 L150.8,125.7 L151.2,125.7 L151.6,125.8 L152.0,125.8 L152.4,125.6 L152.8,125.7 L153.2,125.5 L153.6,125.8 L154.0,125.7 L154.4,125.7 L154.8,125.6 L155.2,125.2 L155.6,125.7 L156.0,125.9 L156.4,125.6 L156.8,125.5 L157.2,125.8 L157.6,125.5 L158.0,125.5 L158.4,125.8 L158.8,125.6 L159.2,125.4 L159.6,125.5 L160.0,125.2 L160.4,125.4 L160.8,125.6 L161.2,125.5 L161.6,125.8 L162.0,125.8 L162.4,125.6 L162.8,125.3 L163.2,125.3 L163.6,125.6 L164.0,125.8 L164.4,125.5 L164.8,125.7 L165.2,125.8 L165.6,125.6 L166.0,125.8 L166.4,125.8 L166.8,125.7 L167.2,125.7 L167.6,125.9 L168.0,125.6 L168.4,125.2 L168.8,125.7 L169.2,125.7 L169.6,125.9 L170.0,125.9 L170.4,125.3 L170.8,125.8 L171.2,125.8 L171.6,125.8 L172.0,125.8 L172.4,125.9 L172.8,125.3 L173.2,125.6 L173.6,125.8 L174.0,125.3 L174.4,125.4 L174.8,125.7 L175.2,125.7 L175.6,125.3 L176.0,124.9 L176.4,125.4 L176.8,125.9 L177.2,125.9 L177.6,125.8 L178.0,125.5 L178.4,125.8 L178.8,125.8 L179.2,125.6 L179.6,125.6 L180.0,125.7 L180.4,125.6 L180.8,125.5 L181.2,125.8 L181.6,125.6 L182.0,125.8 L182.4,125.8 L182.8,125.8 L183.2,125.9 L183.6,125.6 L184.0,125.8 L184.4,125.7 L184.8,125.8 L185.2,125.8 L185.6,125.8 L186.0,125.8 L186.4,125.7 L186.8,125.9 L187.2,125.7 L187.6,125.1 L188.0,124.7 L188.4,124.3 L188.8,125.1 L189.2,124.3 L189.6,124.4 L190.0,124.3 L190.4,124.2 L190.8,123.7 L191.2,124.6 L191.6,124.8 L192.0,124.8 L192.4,124.8 L192.8,124.6 L193.2,124.5 L193.6,124.1 L194.0,124.3 L194.4,125.1 L194.8,123.9 L195.2,124.2 L195.6,125.3 L196.0,124.8 L196.4,124.7 L196.8,124.7 L197.2,124.7 L197.6,125.1 L198.0,124.1 L198.4,125.2 L198.8,124.1 L199.2,124.2 L199.6,123.9 L200.0,124.3 L200.4,125.0 L200.8,124.3 L201.2,124.3 L201.6,124.1 L202.0,124.7 L202.4,124.8 L202.8,125.1 L203.2,124.7 L203.6,124.3 L204.0,124.9 L204.4,123.9 L204.8,124.0 L205.2,125.0 L205.6,123.6 L206.0,124.0 L206.4,124.4 L206.8,123.9 L207.2,123.8 L207.6,124.7 L208.0,124.2 L208.4,124.5 L208.8,125.0 L209.2,124.5 L209.6,124.6 L210.0,124.6 L210.4,124.2 L210.8,125.1 L211.2,124.6 L211.6,123.9 L212.0,124.8 L212.4,124.8 L212.8,124.4 L213.2,123.8 L213.6,124.1 L214.0,123.7 L214.4,124.7 L214.8,124.1 L215.2,124.3 L215.6,123.9 L216.0,125.0 L216.4,124.1 L216.8,124.1 L217.2,124.2 L217.6,124.3 L218.0,124.3 L218.4,124.0 L218.8,124.1 L219.2,125.2 L219.6,124.7 L220.0,124.9 L220.4,123.9 L220.8,124.7 L221.2,125.1 L221.6,124.8 L222.0,124.8 L222.4,124.3 L222.8,124.6 L223.2,124.7 L223.6,123.9 L224.0,125.0 L224.4,124.1 L224.8,124.0 L225.2,124.4 L225.6,124.6 L226.0,124.6 L226.4,124.0 L226.8,124.0 L227.2,124.0 L227.6,124.0 L228.0,123.7 L228.4,124.9 L228.8,124.6 L229.2,124.1 L229.6,124.3 L230.0,124.5 L230.4,124.9 L230.8,124.8 L231.2,123.9 L231.6,124.7 L232.0,124.6 L232.4,124.1 L232.8,123.8 L233.2,124.5 L233.6,124.1 L234.0,124.9 L234.4,124.9 L234.8,124.7 L235.2,124.9 L235.6,124.5 L236.0,124.3 L236.4,124.5 L236.8,124.8 L237.2,123.8 L237.6,124.3 L238.0,125.1 L238.4,124.2 L238.8,124.4 L239.2,123.8 L239.6,124.3 L240.0,125.2 L240.4,123.9 L240.8,124.4 L241.2,123.6 L241.6,122.7 L242.0,123.0 L242.4,123.7 L242.8,123.0 L243.2,122.9 L243.6,124.1 L244.0,123.5 L244.4,123.9 L244.8,123.6 L245.2,124.0 L245.6,123.4 L246.0,123.5 L246.4,123.3 L246.8,120.2 L247.2,121.8 L247.6,122.6 L248.0,122.6 L248.4,123.1 L248.8,123.5 L249.2,123.6 L249.6,123.5 L250.0,123.7 L250.4,122.8 L250.8,124.1 L251.2,122.8 L251.6,124.2 L252.0,123.0 L252.4,122.4 L252.8,123.0 L253.2,123.3 L253.6,123.8 L254.0,124.0 L254.4,123.9 L254.8,123.7 L255.2,124.1 L255.6,122.7 L256.0,123.1 L256.4,123.7 L256.8,123.4 L257.2,123.0 L257.6,123.0 L258.0,123.0 L258.4,122.8 L258.8,122.2 L259.2,122.1 L259.6,122.6 L260.0,122.5 L260.4,123.2 L260.8,124.1 L261.2,124.2 L261.6,124.3 L262.0,124.9 L262.4,124.7 L262.8,124.8 L263.2,124.4 L263.6,124.4 L264.0,124.2 L264.4,124.6 L264.8,124.5 L265.2,124.0 L265.6,124.7 L266.0,124.3 L266.4,124.4 L266.8,123.8 L267.2,124.6 L267.6,123.6 L268.0,125.0 L268.4,124.6 L268.8,125.1 L269.2,124.0 L269.6,123.8 L270.0,124.0 L270.4,124.6 L270.8,124.9 L271.2,124.0 L271.6,124.8 L272.0,124.4 L272.4,124.2 L272.8,125.0 L273.2,124.0 L273.6,123.9 L274.0,124.9 L274.4,124.4 L274.8,124.5 L275.2,124.3 L275.6,123.6 L276.0,123.9 L276.4,124.8 L276.8,123.6 L277.2,124.3 L277.6,124.3 L278.0,124.3 L278.4,123.8 L278.8,124.5 L279.2,124.8 L279.6,124.6 L280.0,124.2 L280.4,124.4 L280.8,124.4 L281.2,124.0 L281.6,122.5 L282.0,121.7 L282.4,123.5 L282.8,123.7 L283.2,124.2 L283.6,124.4 L284.0,124.7 L284.4,125.0 L284.8,124.8 L285.2,124.5 L285.6,124.8 L286.0,124.5 L286.4,124.9 L286.8,124.1 L287.2,123.7 L287.6,125.0 L288.0,124.0 L288.4,123.5 L288.8,122.9 L289.2,123.2 L289.6,125.1 L290.0,125.6 L290.4,125.9 L290.8,125.7 L291,125.9 Z" fill="#3a9a1c"/>
<line x1="8" y1="125.9" x2="291" y2="125.9" stroke="#3a9a1c" stroke-width="0.35" opacity="0.6"/>
<path d="M8,134.6 L8.0,134.5 L8.4,134.5 L8.8,134.5 L9.2,134.3 L9.6,134.6 L10.0,134.3 L10.4,134.5 L10.8,134.6 L11.2,134.4 L11.6,134.5 L12.0,134.6 L12.4,134.6 L12.8,134.5 L13.2,134.6 L13.6,134.4 L14.0,134.6 L14.4,134.5 L14.8,134.6 L15.2,134.6 L15.6,134.3 L16.0,134.6 L16.4,134.5 L16.8,134.6 L17.2,134.5 L17.6,134.6 L18.0,134.6 L18.4,134.4 L18.8,134.6 L19.2,134.6 L19.6,134.5 L20.0,134.4 L20.4,134.6 L20.8,134.5 L21.2,134.3 L21.6,134.4 L22.0,134.6 L22.4,134.5 L22.8,134.3 L23.2,134.5 L23.6,134.3 L24.0,134.5 L24.4,134.5 L24.8,134.6 L25.2,134.5 L25.6,134.6 L26.0,134.6 L26.4,134.5 L26.8,134.4 L27.2,134.4 L27.6,134.6 L28.0,134.5 L28.4,134.5 L28.8,134.5 L29.2,134.5 L29.6,134.5 L30.0,134.5 L30.4,134.6 L30.8,134.6 L31.2,134.6 L31.6,134.6 L32.0,134.6 L32.4,134.4 L32.8,134.4 L33.2,134.6 L33.6,134.5 L34.0,134.5 L34.4,134.6 L34.8,134.6 L35.2,134.5 L35.6,134.3 L36.0,134.5 L36.4,134.4 L36.8,134.3 L37.2,134.5 L37.6,134.5 L38.0,134.5 L38.4,134.4 L38.8,134.6 L39.2,134.4 L39.6,134.5 L40.0,134.5 L40.4,134.4 L40.8,134.3 L41.2,134.5 L41.6,134.5 L42.0,134.5 L42.4,134.4 L42.8,134.4 L43.2,134.5 L43.6,134.4 L44.0,134.5 L44.4,134.6 L44.8,134.6 L45.2,134.5 L45.6,134.5 L46.0,134.6 L46.4,134.4 L46.8,134.2 L47.2,134.6 L47.6,134.6 L48.0,134.5 L48.4,134.6 L48.8,134.5 L49.2,134.6 L49.6,134.4 L50.0,134.5 L50.4,134.5 L50.8,134.6 L51.2,134.3 L51.6,134.5 L52.0,134.5 L52.4,134.6 L52.8,134.6 L53.2,134.5 L53.6,134.6 L54.0,134.3 L54.4,134.5 L54.8,134.4 L55.2,134.5 L55.6,134.5 L56.0,134.5 L56.4,134.4 L56.8,134.6 L57.2,134.5 L57.6,134.4 L58.0,134.6 L58.4,134.5 L58.8,134.6 L59.2,134.4 L59.6,134.6 L60.0,134.5 L60.4,134.6 L60.8,134.5 L61.2,134.6 L61.6,134.3 L62.0,134.3 L62.4,134.4 L62.8,134.6 L63.2,134.5 L63.6,134.6 L64.0,134.5 L64.4,134.5 L64.8,134.6 L65.2,134.4 L65.6,134.5 L66.0,134.4 L66.4,134.6 L66.8,134.4 L67.2,134.5 L67.6,134.4 L68.0,134.5 L68.4,134.5 L68.8,134.6 L69.2,134.5 L69.6,134.6 L70.0,134.4 L70.4,134.5 L70.8,134.3 L71.2,134.5 L71.6,134.5 L72.0,134.4 L72.4,134.6 L72.8,134.6 L73.2,134.4 L73.6,134.4 L74.0,134.5 L74.4,134.5 L74.8,134.4 L75.2,134.5 L75.6,134.5 L76.0,134.6 L76.4,134.4 L76.8,134.5 L77.2,134.4 L77.6,134.5 L78.0,134.5 L78.4,134.3 L78.8,134.6 L79.2,134.5 L79.6,134.6 L80.0,134.5 L80.4,134.4 L80.8,134.5 L81.2,134.5 L81.6,134.5 L82.0,134.4 L82.4,134.6 L82.8,134.5 L83.2,134.6 L83.6,134.4 L84.0,134.5 L84.4,134.5 L84.8,134.5 L85.2,134.5 L85.6,134.5 L86.0,134.5 L86.4,134.5 L86.8,134.6 L87.2,134.4 L87.6,134.5 L88.0,134.6 L88.4,134.4 L88.8,134.6 L89.2,134.6 L89.6,134.5 L90.0,134.6 L90.4,134.5 L90.8,134.6 L91.2,134.6 L91.6,134.5 L92.0,134.6 L92.4,134.6 L92.8,134.5 L93.2,134.6 L93.6,134.5 L94.0,134.5 L94.4,134.3 L94.8,134.0 L95.2,133.1 L95.6,133.4 L96.0,133.6 L96.4,133.2 L96.8,132.6 L97.2,132.7 L97.6,132.9 L98.0,133.3 L98.4,133.1 L98.8,132.5 L99.2,133.3 L99.6,132.7 L100.0,133.1 L100.4,133.1 L100.8,132.6 L101.2,133.3 L101.6,133.4 L102.0,132.6 L102.4,132.5 L102.8,132.9 L103.2,133.2 L103.6,133.0 L104.0,133.1 L104.4,133.2 L104.8,133.0 L105.2,133.5 L105.6,133.2 L106.0,132.5 L106.4,132.1 L106.8,132.0 L107.2,132.0 L107.6,132.3 L108.0,131.5 L108.4,133.2 L108.8,131.3 L109.2,133.0 L109.6,131.5 L110.0,131.8 L110.4,130.8 L110.8,130.6 L111.2,131.7 L111.6,132.0 L112.0,131.4 L112.4,131.6 L112.8,131.7 L113.2,129.0 L113.6,130.0 L114.0,131.2 L114.4,129.2 L114.8,129.8 L115.2,128.3 L115.6,130.6 L116.0,129.3 L116.4,128.4 L116.8,128.5 L117.2,129.7 L117.6,127.4 L118.0,129.4 L118.4,127.8 L118.8,129.9 L119.2,127.9 L119.6,129.0 L120.0,129.9 L120.4,129.8 L120.8,129.7 L121.2,129.2 L121.6,127.7 L122.0,129.7 L122.4,130.7 L122.8,129.4 L123.2,131.0 L123.6,130.3 L124.0,131.4 L124.4,132.8 L124.8,133.1 L125.2,133.9 L125.6,134.4 L126.0,134.5 L126.4,134.5 L126.8,134.5 L127.2,134.5 L127.6,134.5 L128.0,134.4 L128.4,134.5 L128.8,134.6 L129.2,134.6 L129.6,134.3 L130.0,134.5 L130.4,134.5 L130.8,134.6 L131.2,134.6 L131.6,134.6 L132.0,134.5 L132.4,134.5 L132.8,134.6 L133.2,134.6 L133.6,134.6 L134.0,134.6 L134.4,134.6 L134.8,134.6 L135.2,134.6 L135.6,134.5 L136.0,134.6 L136.4,134.6 L136.8,134.3 L137.2,134.5 L137.6,134.5 L138.0,134.5 L138.4,134.5 L138.8,134.5 L139.2,134.5 L139.6,134.5 L140.0,134.5 L140.4,134.5 L140.8,134.5 L141.2,134.5 L141.6,134.5 L142.0,134.5 L142.4,134.5 L142.8,134.6 L143.2,134.4 L143.6,134.6 L144.0,134.5 L144.4,134.5 L144.8,134.6 L145.2,134.3 L145.6,134.6 L146.0,134.5 L146.4,134.6 L146.8,134.5 L147.2,134.5 L147.6,134.5 L148.0,134.4 L148.4,134.5 L148.8,134.6 L149.2,134.5 L149.6,134.6 L150.0,134.6 L150.4,134.6 L150.8,134.5 L151.2,134.5 L151.6,134.5 L152.0,134.6 L152.4,134.6 L152.8,134.6 L153.2,134.6 L153.6,134.6 L154.0,134.5 L154.4,134.6 L154.8,134.6 L155.2,134.5 L155.6,134.6 L156.0,134.6 L156.4,134.4 L156.8,134.5 L157.2,134.5 L157.6,134.6 L158.0,134.4 L158.4,134.4 L158.8,134.5 L159.2,134.4 L159.6,134.4 L160.0,134.6 L160.4,134.4 L160.8,134.6 L161.2,134.4 L161.6,134.6 L162.0,134.6 L162.4,134.5 L162.8,134.6 L163.2,134.6 L163.6,134.4 L164.0,134.6 L164.4,134.6 L164.8,134.6 L165.2,134.4 L165.6,134.6 L166.0,134.6 L166.4,134.5 L166.8,134.5 L167.2,134.4 L167.6,134.4 L168.0,134.5 L168.4,134.5 L168.8,134.5 L169.2,134.6 L169.6,134.6 L170.0,134.6 L170.4,134.4 L170.8,134.5 L171.2,134.6 L171.6,134.5 L172.0,134.5 L172.4,134.6 L172.8,134.6 L173.2,134.5 L173.6,134.4 L174.0,134.5 L174.4,134.5 L174.8,134.5 L175.2,134.5 L175.6,134.5 L176.0,134.5 L176.4,134.5 L176.8,134.6 L177.2,134.3 L177.6,134.3 L178.0,134.5 L178.4,134.6 L178.8,134.6 L179.2,134.6 L179.6,134.5 L180.0,134.3 L180.4,134.5 L180.8,134.4 L181.2,134.6 L181.6,134.4 L182.0,134.6 L182.4,134.5 L182.8,134.5 L183.2,134.6 L183.6,134.5 L184.0,134.5 L184.4,134.6 L184.8,134.6 L185.2,134.5 L185.6,134.5 L186.0,134.5 L186.4,134.4 L186.8,134.6 L187.2,134.5 L187.6,134.5 L188.0,134.5 L188.4,134.6 L188.8,134.5 L189.2,134.5 L189.6,134.5 L190.0,134.6 L190.4,134.4 L190.8,134.5 L191.2,134.5 L191.6,134.6 L192.0,134.6 L192.4,134.5 L192.8,134.5 L193.2,134.4 L193.6,134.4 L194.0,134.4 L194.4,134.6 L194.8,134.6 L195.2,134.4 L195.6,134.6 L196.0,134.6 L196.4,134.5 L196.8,134.6 L197.2,134.6 L197.6,134.6 L198.0,134.5 L198.4,134.4 L198.8,134.6 L199.2,134.3 L199.6,134.4 L200.0,134.5 L200.4,134.4 L200.8,134.5 L201.2,134.4 L201.6,134.4 L202.0,134.6 L202.4,134.5 L202.8,134.5 L203.2,134.5 L203.6,134.5 L204.0,134.6 L204.4,134.6 L204.8,134.5 L205.2,134.5 L205.6,134.4 L206.0,134.5 L206.4,134.6 L206.8,134.5 L207.2,134.5 L207.6,134.6 L208.0,134.6 L208.4,134.6 L208.8,134.6 L209.2,134.4 L209.6,134.4 L210.0,134.5 L210.4,134.5 L210.8,134.4 L211.2,134.6 L211.6,134.4 L212.0,134.6 L212.4,134.5 L212.8,134.5 L213.2,134.5 L213.6,134.5 L214.0,134.6 L214.4,134.6 L214.8,134.6 L215.2,134.5 L215.6,134.6 L216.0,134.5 L216.4,134.4 L216.8,134.5 L217.2,134.5 L217.6,134.6 L218.0,134.6 L218.4,134.5 L218.8,134.5 L219.2,134.6 L219.6,134.5 L220.0,134.5 L220.4,134.5 L220.8,134.6 L221.2,134.5 L221.6,134.4 L222.0,134.4 L222.4,134.5 L222.8,134.5 L223.2,134.6 L223.6,134.5 L224.0,134.5 L224.4,134.5 L224.8,134.5 L225.2,134.4 L225.6,134.6 L226.0,134.5 L226.4,134.5 L226.8,134.5 L227.2,134.5 L227.6,134.5 L228.0,134.6 L228.4,134.4 L228.8,134.5 L229.2,134.6 L229.6,134.5 L230.0,134.6 L230.4,134.4 L230.8,134.5 L231.2,134.6 L231.6,134.5 L232.0,134.5 L232.4,134.5 L232.8,134.5 L233.2,134.4 L233.6,134.5 L234.0,134.5 L234.4,134.4 L234.8,134.3 L235.2,134.5 L235.6,134.4 L236.0,134.4 L236.4,134.4 L236.8,134.6 L237.2,134.4 L237.6,134.5 L238.0,134.5 L238.4,134.5 L238.8,134.6 L239.2,134.6 L239.6,134.6 L240.0,134.5 L240.4,134.5 L240.8,134.4 L241.2,134.5 L241.6,134.6 L242.0,134.4 L242.4,134.5 L242.8,134.4 L243.2,134.3 L243.6,134.5 L244.0,134.4 L244.4,134.4 L244.8,134.6 L245.2,134.6 L245.6,134.5 L246.0,134.6 L246.4,134.5 L246.8,134.5 L247.2,134.5 L247.6,134.4 L248.0,134.5 L248.4,134.5 L248.8,134.5 L249.2,134.6 L249.6,134.5 L250.0,134.5 L250.4,134.5 L250.8,134.5 L251.2,134.3 L251.6,134.6 L252.0,134.6 L252.4,134.6 L252.8,134.6 L253.2,134.4 L253.6,134.6 L254.0,134.5 L254.4,134.5 L254.8,134.6 L255.2,134.6 L255.6,134.3 L256.0,134.5 L256.4,134.5 L256.8,134.4 L257.2,134.6 L257.6,134.6 L258.0,134.4 L258.4,134.6 L258.8,134.5 L259.2,134.5 L259.6,134.5 L260.0,134.5 L260.4,134.6 L260.8,134.6 L261.2,134.4 L261.6,134.5 L262.0,134.6 L262.4,134.5 L262.8,134.5 L263.2,134.5 L263.6,134.6 L264.0,134.4 L264.4,134.4 L264.8,134.5 L265.2,134.5 L265.6,134.6 L266.0,134.6 L266.4,134.6 L266.8,134.5 L267.2,134.5 L267.6,134.6 L268.0,134.5 L268.4,134.6 L268.8,134.6 L269.2,134.6 L269.6,134.5 L270.0,134.3 L270.4,134.5 L270.8,134.6 L271.2,134.5 L271.6,134.6 L272.0,134.4 L272.4,134.5 L272.8,134.6 L273.2,134.6 L273.6,134.4 L274.0,134.5 L274.4,134.5 L274.8,134.5 L275.2,134.5 L275.6,134.5 L276.0,134.6 L276.4,134.6 L276.8,134.4 L277.2,134.6 L277.6,134.4 L278.0,134.5 L278.4,134.5 L278.8,134.4 L279.2,134.3 L279.6,134.3 L280.0,134.6 L280.4,134.3 L280.8,134.5 L281.2,134.4 L281.6,134.3 L282.0,134.4 L282.4,134.5 L282.8,134.6 L283.2,134.5 L283.6,134.6 L284.0,134.5 L284.4,134.6 L284.8,134.6 L285.2,134.5 L285.6,134.5 L286.0,134.5 L286.4,134.5 L286.8,134.5 L287.2,134.4 L287.6,134.4 L288.0,134.6 L288.4,134.6 L288.8,134.5 L289.2,134.3 L289.6,134.5 L290.0,134.6 L290.4,134.6 L290.8,134.3 L291,134.6 Z" fill="#e8141c"/>
<line x1="8" y1="134.6" x2="291" y2="134.6" stroke="#e8141c" stroke-width="0.35" opacity="0.5"/>
<rect x="294.4" y="112.5" width="33.3" height="3.9" fill="#fff" stroke="#555" stroke-width="0.35"/>
<text x="311" y="115.4" font-size="2.6" text-anchor="middle" fill="#333" >ATAC adult hOLIG SC</text>
<rect x="294.4" y="120.6" width="38.1" height="3.9" fill="#fff" stroke="#555" stroke-width="0.35"/>
<text x="313.4" y="123.5" font-size="2.6" text-anchor="middle" fill="#333" >H3K27ac adult hOLIG SC</text>
<rect x="294.4" y="129.5" width="41.1" height="3.9" fill="#fff" stroke="#555" stroke-width="0.35"/>
<text x="314.9" y="132.4" font-size="2.6" text-anchor="middle" fill="#333" >H3K27me3 adult hOLIG SC</text>
<line x1="7.5" y1="138.2" x2="12.5" y2="138.2" stroke="#2626a8" stroke-width="0.45" />
<path d="M7.5,137.1h1.0v2.1h-1.0zM11.7,137.1h0.7v2.1h-0.7zM10.9,137.1h0.5v2.1h-0.5z" fill="#2626a8"/>
<line x1="8.5" y1="140.8" x2="11.5" y2="140.8" stroke="#4848c8" stroke-width="0.8" opacity="0.6" stroke-dasharray="0.7 0.35"/>
<line x1="13.8" y1="138.2" x2="26.4" y2="138.2" stroke="#2626a8" stroke-width="0.45" />
<path d="M13.8,137.1h0.7v2.1h-0.7zM25.6,137.1h0.8v2.1h-0.8zM24.0,137.1h0.4v2.1h-0.4zM15.6,137.1h0.6v2.1h-0.6z" fill="#2626a8"/>
<line x1="16.8" y1="140.8" x2="23.4" y2="140.8" stroke="#4848c8" stroke-width="0.8" opacity="0.6" stroke-dasharray="0.7 0.35"/>
<line x1="30" y1="138.2" x2="55" y2="138.2" stroke="#2626a8" stroke-width="0.45" />
<path d="M30.0,137.1h0.8v2.1h-0.8zM54.2,137.1h0.9v2.1h-0.9zM50.3,137.1h0.6v2.1h-0.6zM48.3,137.1h0.6v2.1h-0.6zM43.5,137.1h0.3v2.1h-0.3zM42.9,137.1h0.4v2.1h-0.4zM34.3,137.1h0.5v2.1h-0.5zM40.3,137.1h0.6v2.1h-0.6z" fill="#2626a8"/>
<line x1="39.4" y1="140.8" x2="45.6" y2="140.8" stroke="#4848c8" stroke-width="0.8" opacity="0.6" stroke-dasharray="0.7 0.35"/>
<line x1="95" y1="138.2" x2="100.4" y2="138.2" stroke="#2626a8" stroke-width="0.45" />
<path d="M95.0,137.1h1.2v2.1h-1.2zM99.6,137.1h0.7v2.1h-0.7z" fill="#2626a8"/>
<line x1="96.1" y1="140.8" x2="99.3" y2="140.8" stroke="#4848c8" stroke-width="0.8" opacity="0.6" stroke-dasharray="0.7 0.35"/>
<line x1="101.7" y1="138.2" x2="110.5" y2="138.2" stroke="#2626a8" stroke-width="0.45" />
<path d="M101.7,137.1h0.7v2.1h-0.7zM109.7,137.1h0.7v2.1h-0.7zM108.8,137.1h0.3v2.1h-0.3zM106.3,137.1h0.7v2.1h-0.7z" fill="#2626a8"/>
<line x1="103.9" y1="140.8" x2="108.3" y2="140.8" stroke="#4848c8" stroke-width="0.8" opacity="0.6" stroke-dasharray="0.7 0.35"/>
<line x1="111.7" y1="138.2" x2="116" y2="138.2" stroke="#2626a8" stroke-width="0.45" />
<path d="M111.7,137.1h0.9v2.1h-0.9zM115.2,137.1h0.9v2.1h-0.9zM114.2,137.1h0.5v2.1h-0.5zM115.2,137.1h0.6v2.1h-0.6z" fill="#2626a8"/>
<line x1="112.6" y1="140.8" x2="115.1" y2="140.8" stroke="#4848c8" stroke-width="0.8" opacity="0.6" stroke-dasharray="0.7 0.35"/>
<line x1="122.3" y1="138.2" x2="123.7" y2="138.2" stroke="#2626a8" stroke-width="0.45" />
<path d="M122.3,137.1h0.7v2.1h-0.7zM122.9,137.1h0.8v2.1h-0.8zM123.4,137.1h0.4v2.1h-0.4z" fill="#2626a8"/>
<line x1="122.6" y1="140.8" x2="123.4" y2="140.8" stroke="#4848c8" stroke-width="0.8" opacity="0.6" stroke-dasharray="0.7 0.35"/>
<line x1="137.6" y1="138.2" x2="140.6" y2="138.2" stroke="#2626a8" stroke-width="0.45" />
<path d="M137.6,137.1h0.7v2.1h-0.7zM139.8,137.1h0.6v2.1h-0.6z" fill="#2626a8"/>
<line x1="138.2" y1="140.8" x2="140" y2="140.8" stroke="#4848c8" stroke-width="0.8" opacity="0.6" stroke-dasharray="0.7 0.35"/>
<line x1="146" y1="138.2" x2="152.6" y2="138.2" stroke="#2626a8" stroke-width="0.45" />
<path d="M146.0,137.1h1.1v2.1h-1.1zM151.8,137.1h0.7v2.1h-0.7zM148.7,137.1h0.4v2.1h-0.4z" fill="#2626a8"/>
<line x1="147.3" y1="140.8" x2="151.3" y2="140.8" stroke="#4848c8" stroke-width="0.8" opacity="0.6" stroke-dasharray="0.7 0.35"/>
<line x1="13.8" y1="143" x2="17.6" y2="143" stroke="#2626a8" stroke-width="0.45" />
<path d="M13.8,141.9h0.7v2.1h-0.7zM16.8,141.9h0.7v2.1h-0.7zM15.6,141.9h0.6v2.1h-0.6z" fill="#2626a8"/>
<line x1="14.6" y1="145.6" x2="16.8" y2="145.6" stroke="#4848c8" stroke-width="0.8" opacity="0.6" stroke-dasharray="0.7 0.35"/>
<line x1="19.6" y1="143" x2="33.9" y2="143" stroke="#2626a8" stroke-width="0.45" />
<path d="M19.6,141.9h1.1v2.1h-1.1zM33.1,141.9h0.7v2.1h-0.7zM31.0,141.9h0.7v2.1h-0.7zM21.9,141.9h0.5v2.1h-0.5zM29.6,141.9h0.7v2.1h-0.7zM30.6,141.9h0.4v2.1h-0.4z" fill="#2626a8"/>
<line x1="23.6" y1="145.6" x2="29.9" y2="145.6" stroke="#4848c8" stroke-width="0.8" opacity="0.6" stroke-dasharray="0.7 0.35"/>
<line x1="44" y1="143" x2="54" y2="143" stroke="#2626a8" stroke-width="0.45" />
<path d="M44.0,141.9h1.0v2.1h-1.0zM53.2,141.9h0.9v2.1h-0.9zM52.3,141.9h0.7v2.1h-0.7zM50.5,141.9h0.3v2.1h-0.3z" fill="#2626a8"/>
<line x1="46.7" y1="145.6" x2="51.3" y2="145.6" stroke="#4848c8" stroke-width="0.8" opacity="0.6" stroke-dasharray="0.7 0.35"/>
<line x1="95.4" y1="143" x2="99.2" y2="143" stroke="#2626a8" stroke-width="0.45" />
<path d="M95.4,141.9h1.0v2.1h-1.0zM98.4,141.9h0.6v2.1h-0.6z" fill="#2626a8"/>
<line x1="96.2" y1="145.6" x2="98.4" y2="145.6" stroke="#4848c8" stroke-width="0.8" opacity="0.6" stroke-dasharray="0.7 0.35"/>
<line x1="100.4" y1="143" x2="110.5" y2="143" stroke="#2626a8" stroke-width="0.45" />
<path d="M100.4,141.9h0.9v2.1h-0.9zM109.7,141.9h0.7v2.1h-0.7zM108.5,141.9h0.5v2.1h-0.5zM108.3,141.9h0.4v2.1h-0.4z" fill="#2626a8"/>
<line x1="103.9" y1="145.6" x2="107" y2="145.6" stroke="#4848c8" stroke-width="0.8" opacity="0.6" stroke-dasharray="0.7 0.35"/>
<line x1="122.3" y1="143" x2="123.7" y2="143" stroke="#2626a8" stroke-width="0.45" />
<path d="M122.3,141.9h1.1v2.1h-1.1zM122.9,141.9h0.6v2.1h-0.6z" fill="#2626a8"/>
<line x1="122.6" y1="145.6" x2="123.4" y2="145.6" stroke="#4848c8" stroke-width="0.8" opacity="0.6" stroke-dasharray="0.7 0.35"/>
<line x1="150.6" y1="143" x2="151.8" y2="143" stroke="#2626a8" stroke-width="0.45" />
<path d="M150.6,141.9h0.8v2.1h-0.8zM151.0,141.9h0.6v2.1h-0.6z" fill="#2626a8"/>
<line x1="150.8" y1="145.6" x2="151.6" y2="145.6" stroke="#4848c8" stroke-width="0.8" opacity="0.6" stroke-dasharray="0.7 0.35"/>
<line x1="19.6" y1="147.8" x2="54" y2="147.8" stroke="#2626a8" stroke-width="0.45" />
<path d="M19.6,146.7h0.8v2.1h-0.8zM53.2,146.7h0.7v2.1h-0.7zM31.0,146.7h0.5v2.1h-0.5zM38.1,146.7h0.4v2.1h-0.4zM50.0,146.7h0.4v2.1h-0.4zM40.0,146.7h0.5v2.1h-0.5zM31.4,146.7h0.6v2.1h-0.6zM37.8,146.7h0.3v2.1h-0.3zM30.8,146.7h0.6v2.1h-0.6zM24.9,146.7h0.6v2.1h-0.6zM39.7,146.7h0.4v2.1h-0.4z" fill="#2626a8"/>
<line x1="33.8" y1="150.4" x2="39.8" y2="150.4" stroke="#4848c8" stroke-width="0.8" opacity="0.6" stroke-dasharray="0.7 0.35"/>
<line x1="97.9" y1="147.8" x2="99.2" y2="147.8" stroke="#2626a8" stroke-width="0.45" />
<path d="M97.9,146.7h1.3v2.1h-1.3zM98.4,146.7h0.7v2.1h-0.7zM99.0,146.7h0.5v2.1h-0.5z" fill="#2626a8"/>
<line x1="98.2" y1="150.4" x2="98.9" y2="150.4" stroke="#4848c8" stroke-width="0.8" opacity="0.6" stroke-dasharray="0.7 0.35"/>
<line x1="103.4" y1="147.8" x2="109.5" y2="147.8" stroke="#2626a8" stroke-width="0.45" />
<path d="M103.4,146.7h1.2v2.1h-1.2zM108.7,146.7h0.9v2.1h-0.9zM105.9,146.7h0.6v2.1h-0.6z" fill="#2626a8"/>
<line x1="104.6" y1="150.4" x2="108.3" y2="150.4" stroke="#4848c8" stroke-width="0.8" opacity="0.6" stroke-dasharray="0.7 0.35"/>
<line x1="122.3" y1="147.8" x2="123.7" y2="147.8" stroke="#2626a8" stroke-width="0.45" />
<path d="M122.3,146.7h1.1v2.1h-1.1zM122.9,146.7h0.8v2.1h-0.8z" fill="#2626a8"/>
<line x1="122.6" y1="150.4" x2="123.4" y2="150.4" stroke="#4848c8" stroke-width="0.8" opacity="0.6" stroke-dasharray="0.7 0.35"/>
<line x1="19.6" y1="152.6" x2="55.2" y2="152.6" stroke="#2626a8" stroke-width="0.45" />
<path d="M19.6,151.5h0.8v2.1h-0.8zM54.4,151.5h0.5v2.1h-0.5zM51.2,151.5h0.4v2.1h-0.4zM41.0,151.5h0.4v2.1h-0.4zM49.8,151.5h0.5v2.1h-0.5zM28.1,151.5h0.6v2.1h-0.6zM42.1,151.5h0.3v2.1h-0.3zM35.2,151.5h0.4v2.1h-0.4zM25.5,151.5h0.3v2.1h-0.3zM51.2,151.5h0.7v2.1h-0.7z" fill="#2626a8"/>
<line x1="34.7" y1="155.2" x2="40.1" y2="155.2" stroke="#4848c8" stroke-width="0.8" opacity="0.6" stroke-dasharray="0.7 0.35"/>
<line x1="98.7" y1="152.6" x2="101" y2="152.6" stroke="#2626a8" stroke-width="0.45" />
<path d="M98.7,151.5h1.3v2.1h-1.3zM100.2,151.5h0.7v2.1h-0.7z" fill="#2626a8"/>
<line x1="99.2" y1="155.2" x2="100.5" y2="155.2" stroke="#4848c8" stroke-width="0.8" opacity="0.6" stroke-dasharray="0.7 0.35"/>
<line x1="108.4" y1="152.6" x2="110.5" y2="152.6" stroke="#2626a8" stroke-width="0.45" />
<path d="M108.4,151.5h0.7v2.1h-0.7zM109.7,151.5h0.7v2.1h-0.7zM108.6,151.5h0.6v2.1h-0.6z" fill="#2626a8"/>
<line x1="108.8" y1="155.2" x2="110.1" y2="155.2" stroke="#4848c8" stroke-width="0.8" opacity="0.6" stroke-dasharray="0.7 0.35"/>
<line x1="122.3" y1="152.6" x2="123.7" y2="152.6" stroke="#2626a8" stroke-width="0.45" />
<path d="M122.3,151.5h1.1v2.1h-1.1zM122.9,151.5h0.5v2.1h-0.5zM123.5,151.5h0.6v2.1h-0.6z" fill="#2626a8"/>
<line x1="122.6" y1="155.2" x2="123.4" y2="155.2" stroke="#4848c8" stroke-width="0.8" opacity="0.6" stroke-dasharray="0.7 0.35"/>
<line x1="172" y1="138.2" x2="195.7" y2="138.2" stroke="#2626a8" stroke-width="0.45" />
<path d="M172.0,137.1h1.2v2.1h-1.2zM194.9,137.1h0.7v2.1h-0.7zM189.6,137.1h0.3v2.1h-0.3zM183.7,137.1h0.6v2.1h-0.6zM190.2,137.1h0.5v2.1h-0.5zM177.6,137.1h0.6v2.1h-0.6z" fill="#2626a8"/>
<line x1="182.3" y1="140.8" x2="185.4" y2="140.8" stroke="#4848c8" stroke-width="0.8" opacity="0.6" stroke-dasharray="0.7 0.35"/>
<line x1="209.5" y1="138.2" x2="211" y2="138.2" stroke="#2626a8" stroke-width="0.45" />
<path d="M209.5,137.1h0.9v2.1h-0.9zM210.2,137.1h0.9v2.1h-0.9z" fill="#2626a8"/>
<line x1="209.8" y1="140.8" x2="210.7" y2="140.8" stroke="#4848c8" stroke-width="0.8" opacity="0.6" stroke-dasharray="0.7 0.35"/>
<line x1="227.4" y1="138.2" x2="260.6" y2="138.2" stroke="#2626a8" stroke-width="0.45" />
<path d="M227.4,137.1h0.7v2.1h-0.7zM259.8,137.1h0.7v2.1h-0.7zM257.1,137.1h0.6v2.1h-0.6zM249.0,137.1h0.5v2.1h-0.5zM232.5,137.1h0.6v2.1h-0.6zM255.6,137.1h0.6v2.1h-0.6zM235.4,137.1h0.6v2.1h-0.6zM247.0,137.1h0.3v2.1h-0.3zM243.5,137.1h0.4v2.1h-0.4zM252.6,137.1h0.3v2.1h-0.3zM241.9,137.1h0.5v2.1h-0.5z" fill="#2626a8"/>
<line x1="241.9" y1="140.8" x2="246.1" y2="140.8" stroke="#4848c8" stroke-width="0.8" opacity="0.6" stroke-dasharray="0.7 0.35"/>
<line x1="263" y1="138.2" x2="268" y2="138.2" stroke="#2626a8" stroke-width="0.45" />
<path d="M263.0,137.1h0.7v2.1h-0.7zM267.2,137.1h0.7v2.1h-0.7z" fill="#2626a8"/>
<line x1="264" y1="140.8" x2="267" y2="140.8" stroke="#4848c8" stroke-width="0.8" opacity="0.6" stroke-dasharray="0.7 0.35"/>
<line x1="289" y1="138.2" x2="293" y2="138.2" stroke="#2626a8" stroke-width="0.45" />
<path d="M289.0,137.1h1.1v2.1h-1.1zM292.2,137.1h0.8v2.1h-0.8zM292.4,137.1h0.6v2.1h-0.6z" fill="#2626a8"/>
<line x1="289.8" y1="140.8" x2="292.2" y2="140.8" stroke="#4848c8" stroke-width="0.8" opacity="0.6" stroke-dasharray="0.7 0.35"/>
<line x1="172" y1="143" x2="195.7" y2="143" stroke="#2626a8" stroke-width="0.45" />
<path d="M172.0,141.9h1.2v2.1h-1.2zM194.9,141.9h0.8v2.1h-0.8zM192.1,141.9h0.4v2.1h-0.4zM183.2,141.9h0.3v2.1h-0.3zM191.8,141.9h0.6v2.1h-0.6zM186.1,141.9h0.7v2.1h-0.7zM188.6,141.9h0.4v2.1h-0.4zM183.9,141.9h0.4v2.1h-0.4z" fill="#2626a8"/>
<line x1="180.9" y1="145.6" x2="186.8" y2="145.6" stroke="#4848c8" stroke-width="0.8" opacity="0.6" stroke-dasharray="0.7 0.35"/>
<line x1="210.7" y1="143" x2="227" y2="143" stroke="#2626a8" stroke-width="0.45" />
<path d="M210.7,141.9h0.7v2.1h-0.7zM226.2,141.9h0.7v2.1h-0.7zM218.3,141.9h0.5v2.1h-0.5zM216.5,141.9h0.6v2.1h-0.6zM215.0,141.9h0.6v2.1h-0.6zM222.6,141.9h0.3v2.1h-0.3z" fill="#2626a8"/>
<line x1="216.9" y1="145.6" x2="220.8" y2="145.6" stroke="#4848c8" stroke-width="0.8" opacity="0.6" stroke-dasharray="0.7 0.35"/>
<line x1="227.4" y1="143" x2="289.3" y2="143" stroke="#2626a8" stroke-width="0.45" />
<path d="M227.4,141.9h0.7v2.1h-0.7zM288.5,141.9h0.8v2.1h-0.8zM245.7,141.9h0.4v2.1h-0.4zM236.7,141.9h0.5v2.1h-0.5zM239.5,141.9h0.6v2.1h-0.6zM241.0,141.9h0.7v2.1h-0.7zM263.6,141.9h0.3v2.1h-0.3zM259.6,141.9h0.4v2.1h-0.4zM269.9,141.9h0.4v2.1h-0.4zM271.8,141.9h0.7v2.1h-0.7zM277.0,141.9h0.4v2.1h-0.4zM251.9,141.9h0.4v2.1h-0.4zM242.8,141.9h0.6v2.1h-0.6zM279.8,141.9h0.6v2.1h-0.6zM265.7,141.9h0.4v2.1h-0.4zM237.4,141.9h0.7v2.1h-0.7zM282.4,141.9h0.6v2.1h-0.6zM257.4,141.9h0.6v2.1h-0.6z" fill="#2626a8"/>
<line x1="255.4" y1="145.6" x2="261.3" y2="145.6" stroke="#4848c8" stroke-width="0.8" opacity="0.6" stroke-dasharray="0.7 0.35"/>
<line x1="172" y1="147.8" x2="197" y2="147.8" stroke="#2626a8" stroke-width="0.45" />
<path d="M172.0,146.7h1.1v2.1h-1.1zM196.2,146.7h0.7v2.1h-0.7zM193.7,146.7h0.6v2.1h-0.6zM192.4,146.7h0.4v2.1h-0.4zM181.3,146.7h0.6v2.1h-0.6zM184.6,146.7h0.4v2.1h-0.4zM183.1,146.7h0.7v2.1h-0.7zM183.4,146.7h0.3v2.1h-0.3z" fill="#2626a8"/>
<line x1="181.7" y1="150.4" x2="187.3" y2="150.4" stroke="#4848c8" stroke-width="0.8" opacity="0.6" stroke-dasharray="0.7 0.35"/>
<line x1="210.7" y1="147.8" x2="227" y2="147.8" stroke="#2626a8" stroke-width="0.45" />
<path d="M210.7,146.7h0.7v2.1h-0.7zM226.2,146.7h0.7v2.1h-0.7zM218.6,146.7h0.3v2.1h-0.3zM223.6,146.7h0.3v2.1h-0.3zM218.8,146.7h0.3v2.1h-0.3zM225.0,146.7h0.6v2.1h-0.6zM214.2,146.7h0.7v2.1h-0.7z" fill="#2626a8"/>
<line x1="216.9" y1="150.4" x2="220.8" y2="150.4" stroke="#4848c8" stroke-width="0.8" opacity="0.6" stroke-dasharray="0.7 0.35"/>
<line x1="227.4" y1="147.8" x2="289.3" y2="147.8" stroke="#2626a8" stroke-width="0.45" />
<path d="M227.4,146.7h0.9v2.1h-0.9zM288.5,146.7h0.8v2.1h-0.8zM275.6,146.7h0.6v2.1h-0.6zM282.1,146.7h0.6v2.1h-0.6zM235.1,146.7h0.4v2.1h-0.4zM265.4,146.7h0.6v2.1h-0.6zM263.3,146.7h0.6v2.1h-0.6zM268.6,146.7h0.5v2.1h-0.5zM273.8,146.7h0.4v2.1h-0.4zM243.3,146.7h0.5v2.1h-0.5zM281.7,146.7h0.4v2.1h-0.4zM244.3,146.7h0.5v2.1h-0.5zM271.9,146.7h0.5v2.1h-0.5zM257.7,146.7h0.6v2.1h-0.6zM271.8,146.7h0.3v2.1h-0.3zM238.9,146.7h0.4v2.1h-0.4z" fill="#2626a8"/>
<line x1="256.2" y1="150.4" x2="260.5" y2="150.4" stroke="#4848c8" stroke-width="0.8" opacity="0.6" stroke-dasharray="0.7 0.35"/>
<line x1="172" y1="152.6" x2="197" y2="152.6" stroke="#2626a8" stroke-width="0.45" />
<path d="M172.0,151.5h0.8v2.1h-0.8zM196.2,151.5h0.9v2.1h-0.9zM182.9,151.5h0.5v2.1h-0.5zM181.9,151.5h0.7v2.1h-0.7zM183.8,151.5h0.4v2.1h-0.4zM190.9,151.5h0.5v2.1h-0.5zM180.2,151.5h0.4v2.1h-0.4zM193.5,151.5h0.4v2.1h-0.4z" fill="#2626a8"/>
<line x1="182.3" y1="155.2" x2="186.7" y2="155.2" stroke="#4848c8" stroke-width="0.8" opacity="0.6" stroke-dasharray="0.7 0.35"/>
<line x1="210.7" y1="152.6" x2="227" y2="152.6" stroke="#2626a8" stroke-width="0.45" />
<path d="M210.7,151.5h1.1v2.1h-1.1zM226.2,151.5h0.8v2.1h-0.8zM222.2,151.5h0.6v2.1h-0.6zM217.7,151.5h0.4v2.1h-0.4zM220.5,151.5h0.4v2.1h-0.4z" fill="#2626a8"/>
<line x1="217.2" y1="155.2" x2="220.5" y2="155.2" stroke="#4848c8" stroke-width="0.8" opacity="0.6" stroke-dasharray="0.7 0.35"/>
<line x1="227.4" y1="152.6" x2="289.3" y2="152.6" stroke="#2626a8" stroke-width="0.45" />
<path d="M227.4,151.5h1.0v2.1h-1.0zM288.5,151.5h0.7v2.1h-0.7zM252.6,151.5h0.6v2.1h-0.6zM275.1,151.5h0.6v2.1h-0.6zM252.0,151.5h0.7v2.1h-0.7zM277.0,151.5h0.4v2.1h-0.4zM255.7,151.5h0.4v2.1h-0.4zM239.9,151.5h0.4v2.1h-0.4zM253.1,151.5h0.3v2.1h-0.3zM275.2,151.5h0.6v2.1h-0.6zM268.1,151.5h0.6v2.1h-0.6zM281.4,151.5h0.4v2.1h-0.4zM275.0,151.5h0.6v2.1h-0.6zM273.7,151.5h0.4v2.1h-0.4zM270.1,151.5h0.3v2.1h-0.3zM251.0,151.5h0.5v2.1h-0.5zM240.2,151.5h0.6v2.1h-0.6z" fill="#2626a8"/>
<line x1="256.3" y1="155.2" x2="260.4" y2="155.2" stroke="#4848c8" stroke-width="0.8" opacity="0.6" stroke-dasharray="0.7 0.35"/>
<line x1="185.7" y1="157.4" x2="192" y2="157.4" stroke="#2626a8" stroke-width="0.45" />
<path d="M185.7,156.3h1.1v2.1h-1.1zM191.2,156.3h0.8v2.1h-0.8zM188.6,156.3h0.5v2.1h-0.5z" fill="#2626a8"/>
<line x1="187" y1="160" x2="190.7" y2="160" stroke="#4848c8" stroke-width="0.8" opacity="0.6" stroke-dasharray="0.7 0.35"/>
<line x1="194.5" y1="157.4" x2="207" y2="157.4" stroke="#2626a8" stroke-width="0.45" />
<path d="M194.5,156.3h1.0v2.1h-1.0zM206.2,156.3h0.7v2.1h-0.7zM204.3,156.3h0.6v2.1h-0.6zM202.3,156.3h0.5v2.1h-0.5zM201.8,156.3h0.6v2.1h-0.6z" fill="#2626a8"/>
<line x1="198.1" y1="160" x2="203.4" y2="160" stroke="#4848c8" stroke-width="0.8" opacity="0.6" stroke-dasharray="0.7 0.35"/>
<line x1="210.7" y1="157.4" x2="227" y2="157.4" stroke="#2626a8" stroke-width="0.45" />
<path d="M210.7,156.3h0.8v2.1h-0.8zM226.2,156.3h0.7v2.1h-0.7zM215.9,156.3h0.4v2.1h-0.4zM219.8,156.3h0.6v2.1h-0.6zM218.2,156.3h0.5v2.1h-0.5zM221.4,156.3h0.3v2.1h-0.3z" fill="#2626a8"/>
<line x1="216.1" y1="160" x2="221.6" y2="160" stroke="#4848c8" stroke-width="0.8" opacity="0.6" stroke-dasharray="0.7 0.35"/>
<line x1="229.4" y1="157.4" x2="289.3" y2="157.4" stroke="#2626a8" stroke-width="0.45" />
<path d="M229.4,156.3h1.0v2.1h-1.0zM288.5,156.3h0.6v2.1h-0.6zM237.0,156.3h0.4v2.1h-0.4zM268.4,156.3h0.5v2.1h-0.5zM256.0,156.3h0.7v2.1h-0.7zM262.3,156.3h0.4v2.1h-0.4zM250.4,156.3h0.5v2.1h-0.5zM258.4,156.3h0.4v2.1h-0.4zM274.4,156.3h0.5v2.1h-0.5zM276.0,156.3h0.5v2.1h-0.5zM249.4,156.3h0.4v2.1h-0.4zM263.7,156.3h0.6v2.1h-0.6zM278.6,156.3h0.5v2.1h-0.5zM273.9,156.3h0.4v2.1h-0.4zM257.7,156.3h0.5v2.1h-0.5z" fill="#2626a8"/>
<line x1="257" y1="160" x2="261.7" y2="160" stroke="#4848c8" stroke-width="0.8" opacity="0.6" stroke-dasharray="0.7 0.35"/>
<line x1="210.7" y1="162.2" x2="227" y2="162.2" stroke="#2626a8" stroke-width="0.45" />
<path d="M210.7,161.1h0.9v2.1h-0.9zM226.2,161.1h0.8v2.1h-0.8zM219.9,161.1h0.6v2.1h-0.6zM218.6,161.1h0.4v2.1h-0.4zM214.1,161.1h0.5v2.1h-0.5zM223.6,161.1h0.7v2.1h-0.7z" fill="#2626a8"/>
<line x1="217" y1="164.8" x2="220.7" y2="164.8" stroke="#4848c8" stroke-width="0.8" opacity="0.6" stroke-dasharray="0.7 0.35"/>
<line x1="210.7" y1="167" x2="227" y2="167" stroke="#2626a8" stroke-width="0.45" />
<path d="M210.7,165.9h0.8v2.1h-0.8zM226.2,165.9h0.7v2.1h-0.7zM219.4,165.9h0.5v2.1h-0.5zM223.7,165.9h0.5v2.1h-0.5zM212.4,165.9h0.4v2.1h-0.4z" fill="#2626a8"/>
<line x1="216.1" y1="169.6" x2="221.6" y2="169.6" stroke="#4848c8" stroke-width="0.8" opacity="0.6" stroke-dasharray="0.7 0.35"/>
<line x1="187" y1="162.2" x2="189" y2="162.2" stroke="#2626a8" stroke-width="0.45" />
<path d="M187.0,161.1h1.0v2.1h-1.0zM188.2,161.1h0.7v2.1h-0.7z" fill="#2626a8"/>
<line x1="187.4" y1="164.8" x2="188.6" y2="164.8" stroke="#4848c8" stroke-width="0.8" opacity="0.6" stroke-dasharray="0.7 0.35"/>
<line x1="98.7" y1="157.4" x2="104.8" y2="157.4" stroke="#2626a8" stroke-width="0.45" />
<path d="M98.7,156.3h0.8v2.1h-0.8zM104.0,156.3h0.6v2.1h-0.6z" fill="#2626a8"/>
<line x1="100.1" y1="160" x2="103.4" y2="160" stroke="#4848c8" stroke-width="0.8" opacity="0.6" stroke-dasharray="0.7 0.35"/>
<line x1="98.7" y1="162.2" x2="105.4" y2="162.2" stroke="#2626a8" stroke-width="0.45" />
<path d="M98.7,161.1h0.9v2.1h-0.9zM104.6,161.1h0.6v2.1h-0.6z" fill="#2626a8"/>
<line x1="100" y1="164.8" x2="104.1" y2="164.8" stroke="#4848c8" stroke-width="0.8" opacity="0.6" stroke-dasharray="0.7 0.35"/>
<line x1="98.7" y1="167" x2="104.2" y2="167" stroke="#2626a8" stroke-width="0.45" />
<path d="M98.7,165.9h1.1v2.1h-1.1zM103.4,165.9h0.5v2.1h-0.5zM100.2,165.9h0.6v2.1h-0.6z" fill="#2626a8"/>
<line x1="99.8" y1="169.6" x2="103.1" y2="169.6" stroke="#4848c8" stroke-width="0.8" opacity="0.6" stroke-dasharray="0.7 0.35"/>
<line x1="98.7" y1="171.8" x2="104.8" y2="171.8" stroke="#2626a8" stroke-width="0.45" />
<path d="M98.7,170.7h1.1v2.1h-1.1zM104.0,170.7h0.8v2.1h-0.8z" fill="#2626a8"/>
<line x1="100.1" y1="174.4" x2="103.4" y2="174.4" stroke="#4848c8" stroke-width="0.8" opacity="0.6" stroke-dasharray="0.7 0.35"/>
<line x1="98.7" y1="176.6" x2="105.4" y2="176.6" stroke="#2626a8" stroke-width="0.45" />
<path d="M98.7,175.5h0.9v2.1h-0.9zM104.6,175.5h0.5v2.1h-0.5zM102.6,175.5h0.7v2.1h-0.7z" fill="#2626a8"/>
<line x1="100.3" y1="179.2" x2="103.8" y2="179.2" stroke="#4848c8" stroke-width="0.8" opacity="0.6" stroke-dasharray="0.7 0.35"/>
<line x1="98.7" y1="181.4" x2="104.2" y2="181.4" stroke="#2626a8" stroke-width="0.45" />
<path d="M98.7,180.3h0.9v2.1h-0.9zM103.4,180.3h0.8v2.1h-0.8z" fill="#2626a8"/>
<line x1="99.8" y1="184" x2="103.1" y2="184" stroke="#4848c8" stroke-width="0.8" opacity="0.6" stroke-dasharray="0.7 0.35"/>
<line x1="98.7" y1="186.2" x2="104.8" y2="186.2" stroke="#2626a8" stroke-width="0.45" />
<path d="M98.7,185.1h0.7v2.1h-0.7zM104.0,185.1h0.9v2.1h-0.9zM103.1,185.1h0.4v2.1h-0.4zM102.4,185.1h0.5v2.1h-0.5z" fill="#2626a8"/>
<line x1="100" y1="188.8" x2="103.5" y2="188.8" stroke="#4848c8" stroke-width="0.8" opacity="0.6" stroke-dasharray="0.7 0.35"/>
<line x1="98.7" y1="191" x2="105.4" y2="191" stroke="#2626a8" stroke-width="0.45" />
<path d="M98.7,189.9h0.9v2.1h-0.9zM104.6,189.9h0.9v2.1h-0.9zM104.1,189.9h0.4v2.1h-0.4z" fill="#2626a8"/>
<line x1="100" y1="193.6" x2="104.1" y2="193.6" stroke="#4848c8" stroke-width="0.8" opacity="0.6" stroke-dasharray="0.7 0.35"/>
<line x1="98.7" y1="195.8" x2="104.2" y2="195.8" stroke="#2626a8" stroke-width="0.45" />
<path d="M98.7,194.7h0.9v2.1h-0.9zM103.4,194.7h0.6v2.1h-0.6zM102.9,194.7h0.6v2.1h-0.6z" fill="#2626a8"/>
<line x1="99.8" y1="198.4" x2="103.1" y2="198.4" stroke="#4848c8" stroke-width="0.8" opacity="0.6" stroke-dasharray="0.7 0.35"/>
<line x1="98.7" y1="200.6" x2="104.8" y2="200.6" stroke="#2626a8" stroke-width="0.45" />
<path d="M98.7,199.5h0.7v2.1h-0.7zM104.0,199.5h0.6v2.1h-0.6zM101.2,199.5h0.4v2.1h-0.4z" fill="#2626a8"/>
<line x1="99.9" y1="203.2" x2="103.6" y2="203.2" stroke="#4848c8" stroke-width="0.8" opacity="0.6" stroke-dasharray="0.7 0.35"/>
<rect x="10" y="151.3" width="8.6" height="2.6" fill="#eee" stroke="#444" stroke-width="0.3"/>
<text x="505.5" y="8.6" font-size="5.3" text-anchor="middle" fill="#111" >Chr2</text>
<line x1="359" y1="19.3" x2="643" y2="19.3" stroke="#333" stroke-width="0.35" />
<text x="462" y="16.3" font-size="4" text-anchor="middle" fill="#111" >176,000 kb</text>
<line x1="462" y1="19.3" x2="462" y2="20.2" stroke="#222" stroke-width="0.4" />
<text x="591" y="16.3" font-size="4" text-anchor="middle" fill="#111" >176,500 kb</text>
<line x1="591" y1="19.3" x2="591" y2="20.2" stroke="#222" stroke-width="0.4" />
<clipPath id="hc2"><polygon points="358.5,107.9 445.3,21 554,21 640.5,107.9"/></clipPath>
<linearGradient id="hc2g" gradientUnits="userSpaceOnUse" x1="0" x2="0" y1="107.9" y2="47.9">
<stop offset="0.000" stop-color="rgb(255,255,255)" stop-opacity="1"/>
<stop offset="0.042" stop-color="rgb(242,242,242)" stop-opacity="1"/>
<stop offset="0.075" stop-color="rgb(184,184,184)" stop-opacity="0.95"/>
<stop offset="0.108" stop-color="rgb(140,140,140)" stop-opacity="0.85"/>
<stop offset="0.150" stop-color="rgb(115,115,115)" stop-opacity="0.6"/>
<stop offset="0.217" stop-color="rgb(102,102,102)" stop-opacity="0.35"/>
<stop offset="0.333" stop-color="rgb(94,94,94)" stop-opacity="0.2"/>
<stop offset="0.567" stop-color="rgb(89,89,89)" stop-opacity="0.1"/>
<stop offset="1.000" stop-color="rgb(76,76,76)" stop-opacity="0"/>
</linearGradient>
<g clip-path="url(#hc2)">
<g filter="url(#cm)">
<rect x="348.5" y="11" width="302" height="106.9" fill="rgb(13,13,13)" />
<polygon points="356,110.9 487,110.9 421.5,45.4" fill="rgb(29,29,29)" filter="url(#b3)"/>
<polygon points="367,110.9 486,110.9 426.5,51.4" fill="rgb(41,41,41)" filter="url(#b2)" opacity="0.9"/>
<polygon points="376,110.9 486,110.9 431,55.9" fill="rgb(51,51,51)" filter="url(#b3)" opacity="0.8"/>
<polygon points="389,110.9 471,110.9 430,69.9" fill="rgb(66,66,66)" filter="url(#b3)" opacity="0.6"/>
<polygon points="398,85.9 405,92.9 436.5,61.4 429.5,54.4" fill="rgb(69,69,69)" filter="url(#b2)" opacity="0.7"/>
<polygon points="488,107.9 574,193.9 660,107.9 574,21.9" fill="rgb(24,24,24)" filter="url(#b3)"/>
<polygon points="494.5,102.4 500,107.9 572.5,35.4 567,29.9" fill="rgb(44,44,44)" filter="url(#b2)"/>
<polygon points="486,110.9 569,110.9 527.5,69.4" fill="rgb(35,35,35)" filter="url(#b3)" opacity="0.9"/>
<polygon points="502,110.9 569,110.9 535.5,77.4" fill="rgb(53,53,53)" filter="url(#b3)" opacity="0.6"/>
<polygon points="563,110.9 643,110.9 603,70.9" fill="rgb(44,44,44)" filter="url(#b3)" opacity="0.9"/>
<polygon points="582,110.9 643,110.9 612.5,80.4" fill="rgb(59,59,59)" filter="url(#b3)" opacity="0.6"/>
<polygon points="533,74.9 566,107.9 603,70.9 570,37.9" fill="rgb(33,33,33)" filter="url(#b3)" opacity="0.8"/>
<circle cx="431.6" cy="56.7" r="2.415" fill="rgb(115,115,115)" filter="url(#b1)"/>
<circle cx="559" cy="41.7" r="2.9899999999999998" fill="rgb(115,115,115)" filter="url(#b1)"/>
<circle cx="549" cy="52.9" r="2.1849999999999996" fill="rgb(115,115,115)" filter="url(#b1)"/>
<circle cx="536" cy="65.3" r="1.5" fill="rgb(91,91,91)" filter="url(#b1)"/>
<rect x="348.5" y="47.9" width="302" height="61" fill="url(#hc2g)" />
</g>
<circle cx="431.6" cy="56.7" r="1.6" fill="#3d62ad" filter="url(#b05)"/>
<circle cx="431.8" cy="56.6" r="0.7" fill="#2f4199"/>
<circle cx="559" cy="41.7" r="2" fill="#3d62ad" filter="url(#b05)"/>
<circle cx="559.2" cy="41.6" r="0.9" fill="#2f4199"/>
<circle cx="549" cy="52.9" r="1.4" fill="#3d62ad" filter="url(#b05)"/>
<circle cx="549.2" cy="52.8" r="0.6" fill="#2f4199"/>
<polygon points="357,108.9 357,105.3 358.3,104.9 359,106 360,106.1 361.4,105.6 362.6,105.5 363.8,106.1 364.9,106.1 366.4,106.1 367.8,106.1 369.1,106.1 370.1,105.3 370.7,106.1 372.2,106.1 372.9,104.9 374.5,105.8 375.5,106.1 376.4,105.8 377.2,105.3 377.8,106.1 379.2,106.1 380.3,105.9 381.3,106.1 382,105.6 383.5,104.4 384.8,104.8 385.8,104.3 387,105.2 387.9,105.6 389,104.8 390.1,105.9 391.5,106.1 392.6,106.1 393.7,106.1 395,106.1 396.2,106.1 397.5,106.1 398.3,106.1 399.6,106.1 400.6,106.1 401.5,106.1 403.1,106.1 404.6,106.1 406.2,106.1 407,105.5 408.5,106.1 409.3,105.5 410.3,106.1 410.9,106.1 412.1,104.9 413.7,104.9 414.3,105.4 415.7,104.6 417,105.2 418.1,105.3 419.3,105.8 420.9,104.9 421.6,105.4 423.1,105.9 424.6,105.9 425.9,105.4 426.7,105.9 427.6,105.5 428.9,106.1 430.4,106.1 431.2,106.1 432.8,106 434,104.9 435.6,104.3 436.6,104.3 438.1,104.3 439.3,104.7 440.3,104.3 441.4,105.5 442.7,104.5 444.1,104.3 445.6,104.3 447,104.6 447.7,104.9 448.6,104.3 449.9,104.3 451.1,105.2 452.3,104.7 453.3,105.3 454.3,105.8 455.6,106.1 456.3,106.1 457.6,105.5 458.8,104.4 459.8,105.6 460.9,105.7 461.6,105.3 462.6,105.9 463.5,104.9 464.1,105.2 465,105.9 466,106.1 467.6,106.1 468.8,106.1 469.9,105.8 471.4,106.1 472.4,105.2 473.8,105.9 475,105.3 476,104.9 477.2,104.3 478.4,104.3 479.3,104.3 480.3,104.3 481.2,104.8 482,105.4 483.1,106 483.8,105.3 484.6,104.3 485.8,104.6 487.3,104.3 488.2,105.2 489.5,104.4 490.7,104.3 491.7,104.3 492.6,104.5 493.5,104.8 494.5,104.3 495.3,105 496.2,104.3 497.3,105.4 498.7,104.5 500.1,104.8 501.5,105.3 502.2,104.4 503.6,105.1 505.1,106.1 506,106.1 506.8,106.1 508.1,106.1 508.9,106.1 509.8,105.2 511,106.1 512.3,106 513.4,105.9 514.6,105.2 515.7,104.9 516.8,104.6 517.8,104.8 518.9,104.3 519.8,104.3 520.9,104.3 522.2,104.3 523.4,104.5 524.4,104.3 525.8,104.3 526.5,105.4 527.2,106.1 527.9,106.1 528.7,106.1 530,105.8 531.6,104.7 532.9,104.3 533.6,105 535.1,105 535.9,104.4 536.9,104.3 537.8,104.9 538.5,104.7 540.1,104.3 541.4,104.3 542.4,104.8 543.9,104.5 545.2,105.7 546,105.8 547.4,105 548.7,105.4 549.7,104.5 551.3,104.5 552.1,104.3 553.2,104.6 554,104.9 555.3,105.8 556.4,104.7 557.7,105.3 558.8,106.1 560.1,105.8 560.9,105.7 562.1,105.5 563,105.9 564,104.7 564.9,104.7 566,105.5 567,106.1 567.9,106.1 568.9,105 569.8,105.5 571,105.7 572.1,105.3 572.8,104.9 573.5,105.5 574.9,104.4 576.2,105.1 577.2,105.7 578.7,106.1 579.5,105.8 580.7,105.6 581.8,104.5 582.8,104.3 583.8,104.4 584.8,104.3 586.1,104.9 587.3,104.4 588.4,104.3 589.6,104.3 590.5,104.8 591.2,104.3 592.6,104.6 594.1,104.3 594.9,104.3 595.9,104.7 596.8,105 597.4,106 598.1,106.1 598.9,106.1 600.3,106.1 601.4,105.9 602.9,106.1 603.8,105.2 605.3,104.3 606.4,104.6 607.2,104.3 608.6,104.3 610,104.9 611.1,104.3 611.8,104.3 612.6,104.3 614,104.3 615.1,105.4 616.2,105.8 617.2,106.1 618.7,106 619.8,105.2 621.3,105.1 622.5,104.3 623.4,104.3 624.1,104.3 625.2,104.3 626.8,105 627.8,104.3 629.1,104.3 630.5,104.3 632,104.3 633,104.8 633.6,105.7 634.3,104.6 635,104.3 635.8,104.3 636.9,105.1 638.3,104.3 639.9,105 640.9,104.6 641.8,104.4 642.5,108.9" fill="#6fa3cc" transform="translate(0,-1.3)" opacity="0.75"/>
<polygon points="357,108.9 357,105.3 358.3,104.9 359,106 360,106.1 361.4,105.6 362.6,105.5 363.8,106.1 364.9,106.1 366.4,106.1 367.8,106.1 369.1,106.1 370.1,105.3 370.7,106.1 372.2,106.1 372.9,104.9 374.5,105.8 375.5,106.1 376.4,105.8 377.2,105.3 377.8,106.1 379.2,106.1 380.3,105.9 381.3,106.1 382,105.6 383.5,104.4 384.8,104.8 385.8,104.3 387,105.2 387.9,105.6 389,104.8 390.1,105.9 391.5,106.1 392.6,106.1 393.7,106.1 395,106.1 396.2,106.1 397.5,106.1 398.3,106.1 399.6,106.1 400.6,106.1 401.5,106.1 403.1,106.1 404.6,106.1 406.2,106.1 407,105.5 408.5,106.1 409.3,105.5 410.3,106.1 410.9,106.1 412.1,104.9 413.7,104.9 414.3,105.4 415.7,104.6 417,105.2 418.1,105.3 419.3,105.8 420.9,104.9 421.6,105.4 423.1,105.9 424.6,105.9 425.9,105.4 426.7,105.9 427.6,105.5 428.9,106.1 430.4,106.1 431.2,106.1 432.8,106 434,104.9 435.6,104.3 436.6,104.3 438.1,104.3 439.3,104.7 440.3,104.3 441.4,105.5 442.7,104.5 444.1,104.3 445.6,104.3 447,104.6 447.7,104.9 448.6,104.3 449.9,104.3 451.1,105.2 452.3,104.7 453.3,105.3 454.3,105.8 455.6,106.1 456.3,106.1 457.6,105.5 458.8,104.4 459.8,105.6 460.9,105.7 461.6,105.3 462.6,105.9 463.5,104.9 464.1,105.2 465,105.9 466,106.1 467.6,106.1 468.8,106.1 469.9,105.8 471.4,106.1 472.4,105.2 473.8,105.9 475,105.3 476,104.9 477.2,104.3 478.4,104.3 479.3,104.3 480.3,104.3 481.2,104.8 482,105.4 483.1,106 483.8,105.3 484.6,104.3 485.8,104.6 487.3,104.3 488.2,105.2 489.5,104.4 490.7,104.3 491.7,104.3 492.6,104.5 493.5,104.8 494.5,104.3 495.3,105 496.2,104.3 497.3,105.4 498.7,104.5 500.1,104.8 501.5,105.3 502.2,104.4 503.6,105.1 505.1,106.1 506,106.1 506.8,106.1 508.1,106.1 508.9,106.1 509.8,105.2 511,106.1 512.3,106 513.4,105.9 514.6,105.2 515.7,104.9 516.8,104.6 517.8,104.8 518.9,104.3 519.8,104.3 520.9,104.3 522.2,104.3 523.4,104.5 524.4,104.3 525.8,104.3 526.5,105.4 527.2,106.1 527.9,106.1 528.7,106.1 530,105.8 531.6,104.7 532.9,104.3 533.6,105 535.1,105 535.9,104.4 536.9,104.3 537.8,104.9 538.5,104.7 540.1,104.3 541.4,104.3 542.4,104.8 543.9,104.5 545.2,105.7 546,105.8 547.4,105 548.7,105.4 549.7,104.5 551.3,104.5 552.1,104.3 553.2,104.6 554,104.9 555.3,105.8 556.4,104.7 557.7,105.3 558.8,106.1 560.1,105.8 560.9,105.7 562.1,105.5 563,105.9 564,104.7 564.9,104.7 566,105.5 567,106.1 567.9,106.1 568.9,105 569.8,105.5 571,105.7 572.1,105.3 572.8,104.9 573.5,105.5 574.9,104.4 576.2,105.1 577.2,105.7 578.7,106.1 579.5,105.8 580.7,105.6 581.8,104.5 582.8,104.3 583.8,104.4 584.8,104.3 586.1,104.9 587.3,104.4 588.4,104.3 589.6,104.3 590.5,104.8 591.2,104.3 592.6,104.6 594.1,104.3 594.9,104.3 595.9,104.7 596.8,105 597.4,106 598.1,106.1 598.9,106.1 600.3,106.1 601.4,105.9 602.9,106.1 603.8,105.2 605.3,104.3 606.4,104.6 607.2,104.3 608.6,104.3 610,104.9 611.1,104.3 611.8,104.3 612.6,104.3 614,104.3 615.1,105.4 616.2,105.8 617.2,106.1 618.7,106 619.8,105.2 621.3,105.1 622.5,104.3 623.4,104.3 624.1,104.3 625.2,104.3 626.8,105 627.8,104.3 629.1,104.3 630.5,104.3 632,104.3 633,104.8 633.6,105.7 634.3,104.6 635,104.3 635.8,104.3 636.9,105.1 638.3,104.3 639.9,105 640.9,104.6 641.8,104.4 642.5,108.9" fill="#303c98" />
<line x1="382" y1="107.9" x2="541" y2="-51.1" stroke="#fff" stroke-width="0.83" />
<line x1="385" y1="107.9" x2="542.5" y2="-49.6" stroke="#fff" stroke-width="0.72" />
<line x1="388.5" y1="107.9" x2="544.2" y2="-47.8" stroke="#fff" stroke-width="0.95" />
<line x1="393" y1="107.9" x2="546.5" y2="-45.6" stroke="#fff" stroke-width="0.61" />
<line x1="399" y1="107.9" x2="549.5" y2="-42.6" stroke="#fff" stroke-width="0.95" />
<line x1="382" y1="107.9" x2="341" y2="66.9" stroke="#fff" stroke-width="0.5" />
<line x1="388.5" y1="107.9" x2="344.2" y2="63.7" stroke="#fff" stroke-width="0.5" />
<line x1="399" y1="107.9" x2="349.5" y2="58.4" stroke="#fff" stroke-width="0.5" />
<line x1="368" y1="107.9" x2="334" y2="73.9" stroke="#fff" stroke-width="0.5" />
<line x1="368" y1="107.9" x2="534" y2="-58.1" stroke="#fff" stroke-width="0.39" />
<line x1="373" y1="107.9" x2="536.5" y2="-55.6" stroke="#fff" stroke-width="0.39" />
<line x1="451.6" y1="107.9" x2="375.8" y2="32.1" stroke="#fff" stroke-width="0.83" />
<line x1="451.6" y1="107.9" x2="575.8" y2="-16.3" stroke="#fff" stroke-width="0.72" />
<line x1="565" y1="107.9" x2="432.5" y2="-24.6" stroke="#fff" stroke-width="0.95" />
<line x1="565" y1="107.9" x2="632.5" y2="40.4" stroke="#fff" stroke-width="0.83" />
</g>
<text x="640" y="53.5" font-size="4" text-anchor="end" fill="#111" >hOPCs Micro-C (5 kb)</text>
<rect x="619.5" y="62" width="10.2" height="2.7" fill="url(#cbar)" stroke="#333" stroke-width="0.2"/>
<text x="619.5" y="67.7" font-size="2.4" text-anchor="middle" fill="#111" >0</text>
<text x="628" y="67.7" font-size="2.4" text-anchor="middle" fill="#111" >0.008</text>
<text x="640" y="72.8" font-size="4.1" text-anchor="end" fill="#111" >ICE norm. counts</text>
<rect x="381.7" y="108.2" width="3.3" height="24.5" fill="#d9d9d9" />
<rect x="577" y="108.2" width="3" height="24.5" fill="#d9d9d9" />
<rect x="601.4" y="108.2" width="3.6" height="24.5" fill="#d9d9d9" />
<rect x="625" y="108.2" width="3" height="24.5" fill="#d9d9d9" />
<line x1="358.3" y1="108.5" x2="358.3" y2="133" stroke="#444" stroke-width="0.3" />
<line x1="357.3" y1="109" x2="358.3" y2="109" stroke="#444" stroke-width="0.3" />
<line x1="357.3" y1="115.5" x2="358.3" y2="115.5" stroke="#444" stroke-width="0.3" />
<line x1="357.3" y1="117" x2="358.3" y2="117" stroke="#444" stroke-width="0.3" />
<line x1="357.3" y1="124.2" x2="358.3" y2="124.2" stroke="#444" stroke-width="0.3" />
<line x1="357.3" y1="126" x2="358.3" y2="126" stroke="#444" stroke-width="0.3" />
<line x1="357.3" y1="132.6" x2="358.3" y2="132.6" stroke="#444" stroke-width="0.3" />
<path d="M359,115.5 L359.0,115.5 L359.2,115.2 L359.5,115.4 L359.8,115.2 L360.0,115.4 L360.2,115.4 L360.5,115.4 L360.8,115.4 L361.0,115.5 L361.2,115.4 L361.5,115.4 L361.8,115.5 L362.0,115.4 L362.2,115.3 L362.5,115.4 L362.8,115.3 L363.0,115.4 L363.2,115.5 L363.5,115.3 L363.8,115.2 L364.0,115.4 L364.2,115.2 L364.5,115.4 L364.8,115.2 L365.0,115.2 L365.2,115.4 L365.5,115.5 L365.8,115.1 L366.0,115.2 L366.2,115.5 L366.5,115.3 L366.8,115.4 L367.0,115.4 L367.2,115.4 L367.5,115.5 L367.8,115.4 L368.0,115.4 L368.2,115.2 L368.5,115.2 L368.8,115.5 L369.0,115.2 L369.2,115.4 L369.5,115.3 L369.8,115.3 L370.0,115.4 L370.2,115.5 L370.5,115.4 L370.8,115.3 L371.0,115.5 L371.2,115.3 L371.5,115.4 L371.8,115.4 L372.0,115.4 L372.2,115.3 L372.5,115.5 L372.8,115.4 L373.0,115.4 L373.2,115.3 L373.5,115.3 L373.8,115.4 L374.0,115.3 L374.2,115.4 L374.5,115.4 L374.8,115.1 L375.0,115.4 L375.2,115.5 L375.5,115.4 L375.8,115.2 L376.0,115.4 L376.2,115.4 L376.5,115.2 L376.8,115.3 L377.0,115.3 L377.2,115.3 L377.5,115.4 L377.8,115.2 L378.0,115.3 L378.2,115.3 L378.5,115.2 L378.8,115.1 L379.0,115.3 L379.2,115.3 L379.5,115.4 L379.8,115.3 L380.0,115.3 L380.2,115.4 L380.5,115.3 L380.8,115.3 L381.0,115.4 L381.2,115.4 L381.5,115.4 L381.8,115.3 L382.0,115.4 L382.2,115.4 L382.5,115.3 L382.8,115.4 L383.0,115.3 L383.2,115.4 L383.5,115.3 L383.8,115.5 L384.0,115.5 L384.2,115.4 L384.5,114.9 L384.8,115.5 L385.0,115.4 L385.2,115.4 L385.5,115.5 L385.8,115.3 L386.0,115.3 L386.2,115.4 L386.5,115.3 L386.8,115.2 L387.0,115.3 L387.2,115.5 L387.5,115.0 L387.8,115.5 L388.0,115.3 L388.2,115.5 L388.5,115.4 L388.8,115.4 L389.0,115.3 L389.2,115.5 L389.5,115.3 L389.8,115.3 L390.0,115.5 L390.2,115.2 L390.5,115.4 L390.8,115.4 L391.0,115.4 L391.2,115.4 L391.5,115.5 L391.8,115.4 L392.0,115.5 L392.2,115.3 L392.5,115.3 L392.8,115.5 L393.0,115.2 L393.2,115.3 L393.5,115.5 L393.8,115.5 L394.0,115.5 L394.2,115.4 L394.5,115.3 L394.8,115.5 L395.0,115.4 L395.2,115.4 L395.5,115.4 L395.8,115.5 L396.0,115.4 L396.2,115.4 L396.5,115.4 L396.8,115.4 L397.0,115.4 L397.2,115.3 L397.5,115.4 L397.8,115.5 L398.0,115.4 L398.2,115.4 L398.5,115.1 L398.8,115.1 L399.0,115.3 L399.2,115.4 L399.5,115.3 L399.8,115.3 L400.0,115.3 L400.2,115.2 L400.5,115.4 L400.8,115.5 L401.0,115.4 L401.2,115.5 L401.5,115.4 L401.8,115.4 L402.0,115.3 L402.2,115.5 L402.5,115.3 L402.8,115.2 L403.0,115.4 L403.2,115.2 L403.5,115.3 L403.8,115.1 L404.0,115.1 L404.2,115.4 L404.5,115.3 L404.8,115.4 L405.0,115.2 L405.2,115.3 L405.5,115.4 L405.8,115.4 L406.0,115.4 L406.2,115.3 L406.5,115.4 L406.8,115.3 L407.0,115.4 L407.2,115.1 L407.5,115.5 L407.8,115.4 L408.0,115.5 L408.2,115.5 L408.5,115.5 L408.8,115.4 L409.0,115.4 L409.2,115.1 L409.5,115.2 L409.8,115.5 L410.0,115.3 L410.2,115.3 L410.5,115.1 L410.8,114.3 L411.0,113.9 L411.2,114.6 L411.5,115.2 L411.8,115.5 L412.0,115.3 L412.2,115.1 L412.5,115.3 L412.8,115.2 L413.0,115.0 L413.2,115.2 L413.5,115.5 L413.8,115.3 L414.0,115.5 L414.2,115.3 L414.5,115.3 L414.8,115.4 L415.0,115.4 L415.2,115.3 L415.5,115.4 L415.8,115.5 L416.0,115.5 L416.2,115.5 L416.5,115.5 L416.8,115.4 L417.0,115.3 L417.2,115.4 L417.5,115.4 L417.8,115.1 L418.0,115.3 L418.2,115.5 L418.5,115.4 L418.8,115.4 L419.0,115.5 L419.2,115.2 L419.5,115.1 L419.8,115.3 L420.0,115.1 L420.2,115.5 L420.5,115.3 L420.8,115.2 L421.0,115.5 L421.2,115.5 L421.5,115.1 L421.8,115.5 L422.0,115.5 L422.2,115.3 L422.5,115.4 L422.8,115.4 L423.0,115.5 L423.2,115.5 L423.5,115.2 L423.8,115.4 L424.0,115.4 L424.2,115.4 L424.5,115.2 L424.8,115.4 L425.0,115.1 L425.2,115.3 L425.5,115.5 L425.8,115.4 L426.0,115.1 L426.2,115.3 L426.5,115.4 L426.8,115.2 L427.0,115.4 L427.2,115.2 L427.5,115.4 L427.8,115.3 L428.0,115.5 L428.2,115.4 L428.5,115.5 L428.8,115.3 L429.0,115.3 L429.2,115.4 L429.5,115.3 L429.8,115.4 L430.0,115.4 L430.2,115.1 L430.5,115.3 L430.8,115.3 L431.0,115.3 L431.2,115.5 L431.5,115.1 L431.8,115.3 L432.0,115.1 L432.2,115.3 L432.5,115.4 L432.8,115.3 L433.0,115.3 L433.2,115.4 L433.5,115.4 L433.8,115.4 L434.0,115.3 L434.2,115.5 L434.5,115.4 L434.8,115.2 L435.0,115.3 L435.2,115.5 L435.5,115.3 L435.8,115.4 L436.0,115.5 L436.2,115.4 L436.5,115.5 L436.8,115.4 L437.0,115.4 L437.2,115.4 L437.5,115.4 L437.8,115.5 L438.0,115.4 L438.2,115.4 L438.5,115.4 L438.8,115.0 L439.0,115.4 L439.2,115.5 L439.5,115.5 L439.8,115.5 L440.0,115.4 L440.2,115.4 L440.5,115.2 L440.8,114.7 L441.0,114.3 L441.2,114.6 L441.5,115.2 L441.8,115.1 L442.0,115.3 L442.2,115.4 L442.5,115.5 L442.8,115.4 L443.0,115.4 L443.2,115.3 L443.5,115.4 L443.8,115.4 L444.0,115.5 L444.2,115.3 L444.5,115.1 L444.8,115.4 L445.0,115.4 L445.2,115.2 L445.5,115.3 L445.8,115.4 L446.0,115.3 L446.2,115.2 L446.5,115.4 L446.8,115.5 L447.0,115.5 L447.2,115.4 L447.5,115.5 L447.8,115.4 L448.0,115.4 L448.2,115.5 L448.5,115.4 L448.8,115.3 L449.0,115.3 L449.2,115.4 L449.5,115.5 L449.8,115.3 L450.0,115.5 L450.2,115.5 L450.5,115.4 L450.8,115.4 L451.0,115.2 L451.2,115.3 L451.5,115.4 L451.8,115.3 L452.0,115.4 L452.2,115.5 L452.5,115.3 L452.8,115.5 L453.0,115.5 L453.2,115.4 L453.5,115.5 L453.8,115.5 L454.0,115.3 L454.2,115.3 L454.5,115.5 L454.8,115.4 L455.0,115.5 L455.2,115.3 L455.5,115.2 L455.8,115.2 L456.0,115.4 L456.2,115.3 L456.5,115.5 L456.8,115.3 L457.0,115.2 L457.2,115.4 L457.5,115.4 L457.8,115.4 L458.0,115.2 L458.2,115.5 L458.5,115.4 L458.8,115.3 L459.0,115.4 L459.2,115.3 L459.5,115.2 L459.8,115.3 L460.0,115.3 L460.2,115.4 L460.5,115.5 L460.8,115.3 L461.0,115.2 L461.2,115.4 L461.5,115.4 L461.8,114.0 L462.0,111.3 L462.2,108.3 L462.5,109.7 L462.8,113.5 L463.0,114.8 L463.2,115.4 L463.5,115.3 L463.8,115.4 L464.0,115.2 L464.2,115.3 L464.5,115.5 L464.8,115.3 L465.0,115.5 L465.2,115.5 L465.5,115.4 L465.8,115.3 L466.0,115.5 L466.2,115.3 L466.5,115.2 L466.8,115.3 L467.0,115.2 L467.2,115.2 L467.5,115.1 L467.8,115.3 L468.0,115.3 L468.2,115.4 L468.5,115.3 L468.8,115.4 L469.0,115.4 L469.2,115.5 L469.5,115.4 L469.8,115.3 L470.0,115.5 L470.2,115.4 L470.5,115.1 L470.8,115.3 L471.0,115.4 L471.2,115.4 L471.5,115.2 L471.8,115.4 L472.0,115.4 L472.2,115.2 L472.5,115.0 L472.8,115.5 L473.0,115.3 L473.2,115.2 L473.5,115.5 L473.8,115.5 L474.0,115.4 L474.2,115.4 L474.5,115.3 L474.8,115.1 L475.0,115.4 L475.2,115.3 L475.5,115.4 L475.8,115.4 L476.0,115.4 L476.2,115.5 L476.5,115.5 L476.8,115.4 L477.0,115.4 L477.2,115.5 L477.5,115.4 L477.8,115.5 L478.0,115.3 L478.2,115.5 L478.5,115.4 L478.8,115.1 L479.0,115.2 L479.2,115.0 L479.5,115.3 L479.8,115.3 L480.0,115.4 L480.2,115.4 L480.5,115.4 L480.8,115.4 L481.0,115.2 L481.2,115.5 L481.5,115.4 L481.8,115.3 L482.0,115.2 L482.2,115.4 L482.5,115.4 L482.8,115.5 L483.0,115.4 L483.2,115.4 L483.5,115.1 L483.8,114.1 L484.0,113.4 L484.2,114.1 L484.5,115.0 L484.8,115.4 L485.0,115.4 L485.2,115.3 L485.5,115.5 L485.8,115.3 L486.0,115.4 L486.2,115.4 L486.5,115.2 L486.8,115.4 L487.0,115.5 L487.2,115.3 L487.5,114.6 L487.8,113.8 L488.0,113.3 L488.2,113.7 L488.5,114.7 L488.8,115.3 L489.0,115.2 L489.2,115.4 L489.5,115.3 L489.8,115.3 L490.0,115.3 L490.2,115.2 L490.5,115.5 L490.8,115.1 L491.0,115.3 L491.2,115.3 L491.5,115.4 L491.8,115.5 L492.0,115.4 L492.2,115.5 L492.5,115.3 L492.8,115.4 L493.0,115.4 L493.2,115.2 L493.5,115.4 L493.8,115.4 L494.0,115.4 L494.2,115.3 L494.5,115.5 L494.8,115.4 L495.0,114.5 L495.2,112.8 L495.5,111.5 L495.8,113.0 L496.0,114.8 L496.2,115.4 L496.5,115.4 L496.8,115.4 L497.0,115.5 L497.2,115.0 L497.5,113.7 L497.8,110.6 L498.0,109.4 L498.2,110.7 L498.5,113.9 L498.8,115.1 L499.0,115.4 L499.2,115.5 L499.5,115.3 L499.8,115.2 L500.0,115.3 L500.2,115.2 L500.5,115.5 L500.8,115.5 L501.0,115.5 L501.2,115.3 L501.5,114.6 L501.8,113.4 L502.0,112.5 L502.2,113.6 L502.5,114.8 L502.8,115.4 L503.0,115.2 L503.2,115.2 L503.5,115.5 L503.8,115.3 L504.0,115.5 L504.2,115.4 L504.5,115.4 L504.8,115.3 L505.0,115.4 L505.2,115.3 L505.5,115.3 L505.8,115.1 L506.0,113.8 L506.2,110.4 L506.5,108.5 L506.8,110.5 L507.0,114.0 L507.2,115.2 L507.5,115.4 L507.8,115.3 L508.0,115.4 L508.2,115.3 L508.5,115.3 L508.8,115.4 L509.0,115.4 L509.2,115.3 L509.5,113.8 L509.8,110.1 L510.0,108.8 L510.2,110.4 L510.5,113.7 L510.8,115.3 L511.0,115.4 L511.2,115.4 L511.5,115.4 L511.8,115.3 L512.0,114.3 L512.2,112.3 L512.5,110.6 L512.8,112.2 L513.0,114.4 L513.2,115.3 L513.5,115.4 L513.8,115.4 L514.0,115.5 L514.2,115.5 L514.5,115.3 L514.8,115.4 L515.0,115.3 L515.2,115.5 L515.5,115.5 L515.8,115.5 L516.0,115.5 L516.2,115.4 L516.5,115.5 L516.8,115.4 L517.0,115.5 L517.2,115.5 L517.5,115.4 L517.8,115.4 L518.0,115.4 L518.2,115.2 L518.5,115.0 L518.8,115.4 L519.0,115.4 L519.2,115.3 L519.5,115.4 L519.8,115.5 L520.0,115.3 L520.2,115.4 L520.5,115.2 L520.8,115.3 L521.0,115.4 L521.2,115.5 L521.5,115.3 L521.8,115.4 L522.0,115.5 L522.2,115.1 L522.5,115.3 L522.8,115.5 L523.0,115.2 L523.2,115.4 L523.5,115.5 L523.8,115.3 L524.0,115.3 L524.2,115.1 L524.5,113.8 L524.8,110.3 L525.0,109.0 L525.2,110.6 L525.5,113.9 L525.8,115.2 L526.0,115.3 L526.2,115.3 L526.5,115.1 L526.8,115.3 L527.0,115.3 L527.2,115.3 L527.5,115.3 L527.8,115.4 L528.0,115.1 L528.2,115.5 L528.5,115.2 L528.8,115.4 L529.0,115.3 L529.2,115.2 L529.5,115.4 L529.8,115.5 L530.0,115.3 L530.2,115.2 L530.5,114.2 L530.8,110.7 L531.0,108.1 L531.2,110.8 L531.5,113.9 L531.8,115.1 L532.0,115.4 L532.2,115.2 L532.5,115.2 L532.8,115.4 L533.0,115.4 L533.2,115.4 L533.5,115.2 L533.8,115.2 L534.0,115.2 L534.2,115.5 L534.5,115.3 L534.8,115.4 L535.0,115.4 L535.2,115.4 L535.5,115.4 L535.8,115.4 L536.0,115.4 L536.2,115.5 L536.5,115.4 L536.8,115.5 L537.0,115.3 L537.2,115.3 L537.5,115.4 L537.8,115.4 L538.0,115.4 L538.2,115.4 L538.5,115.4 L538.8,115.4 L539.0,115.1 L539.2,115.4 L539.5,115.4 L539.8,115.1 L540.0,115.2 L540.2,115.2 L540.5,115.4 L540.8,115.5 L541.0,115.3 L541.2,115.4 L541.5,115.4 L541.8,115.2 L542.0,115.4 L542.2,115.5 L542.5,115.3 L542.8,115.3 L543.0,115.4 L543.2,115.5 L543.5,115.5 L543.8,115.5 L544.0,115.4 L544.2,115.4 L544.5,115.0 L544.8,114.1 L545.0,113.7 L545.2,114.3 L545.5,115.1 L545.8,115.4 L546.0,115.2 L546.2,115.0 L546.5,115.3 L546.8,115.4 L547.0,115.3 L547.2,115.4 L547.5,115.3 L547.8,115.4 L548.0,115.4 L548.2,115.4 L548.5,115.2 L548.8,115.4 L549.0,115.3 L549.2,115.5 L549.5,115.5 L549.8,115.2 L550.0,115.3 L550.2,115.5 L550.5,115.5 L550.8,115.3 L551.0,115.5 L551.2,115.4 L551.5,115.2 L551.8,115.2 L552.0,115.4 L552.2,115.2 L552.5,115.4 L552.8,115.4 L553.0,115.4 L553.2,115.4 L553.5,115.4 L553.8,115.3 L554.0,115.2 L554.2,115.5 L554.5,115.5 L554.8,115.5 L555.0,115.5 L555.2,115.3 L555.5,115.5 L555.8,115.4 L556.0,115.3 L556.2,115.4 L556.5,115.4 L556.8,115.2 L557.0,115.3 L557.2,115.4 L557.5,115.3 L557.8,115.2 L558.0,115.2 L558.2,115.5 L558.5,115.4 L558.8,115.3 L559.0,115.4 L559.2,115.5 L559.5,115.2 L559.8,115.2 L560.0,115.5 L560.2,115.2 L560.5,115.5 L560.8,115.3 L561.0,115.4 L561.2,115.3 L561.5,115.2 L561.8,115.4 L562.0,115.4 L562.2,115.4 L562.5,115.3 L562.8,115.3 L563.0,115.3 L563.2,115.3 L563.5,115.2 L563.8,115.3 L564.0,115.5 L564.2,115.5 L564.5,115.4 L564.8,115.5 L565.0,115.3 L565.2,115.4 L565.5,115.4 L565.8,115.5 L566.0,115.1 L566.2,115.4 L566.5,115.3 L566.8,115.4 L567.0,115.4 L567.2,115.4 L567.5,115.3 L567.8,115.5 L568.0,115.5 L568.2,115.3 L568.5,115.0 L568.8,115.5 L569.0,115.4 L569.2,115.3 L569.5,115.3 L569.8,115.3 L570.0,115.5 L570.2,115.4 L570.5,115.3 L570.8,115.4 L571.0,115.4 L571.2,115.4 L571.5,115.4 L571.8,115.3 L572.0,115.5 L572.2,115.4 L572.5,115.3 L572.8,115.5 L573.0,115.3 L573.2,115.5 L573.5,115.4 L573.8,115.5 L574.0,115.4 L574.2,115.5 L574.5,115.4 L574.8,115.4 L575.0,115.5 L575.2,115.4 L575.5,115.5 L575.8,115.5 L576.0,115.4 L576.2,115.3 L576.5,115.2 L576.8,115.3 L577.0,115.4 L577.2,115.5 L577.5,115.5 L577.8,115.4 L578.0,115.4 L578.2,115.4 L578.5,115.3 L578.8,115.1 L579.0,115.3 L579.2,114.9 L579.5,115.4 L579.8,115.4 L580.0,115.4 L580.2,115.5 L580.5,115.3 L580.8,115.4 L581.0,114.5 L581.2,113.8 L581.5,112.6 L581.8,114.0 L582.0,114.9 L582.2,115.4 L582.5,115.1 L582.8,115.5 L583.0,115.4 L583.2,115.3 L583.5,115.1 L583.8,115.1 L584.0,115.4 L584.2,115.4 L584.5,115.4 L584.8,115.4 L585.0,115.3 L585.2,115.1 L585.5,115.4 L585.8,115.4 L586.0,115.3 L586.2,115.4 L586.5,115.4 L586.8,115.4 L587.0,115.5 L587.2,115.5 L587.5,115.5 L587.8,115.3 L588.0,115.2 L588.2,115.5 L588.5,115.5 L588.8,115.4 L589.0,115.5 L589.2,115.4 L589.5,115.4 L589.8,115.3 L590.0,115.4 L590.2,115.3 L590.5,115.0 L590.8,115.4 L591.0,115.4 L591.2,115.0 L591.5,115.5 L591.8,115.3 L592.0,115.4 L592.2,115.5 L592.5,115.4 L592.8,115.3 L593.0,115.3 L593.2,115.3 L593.5,115.4 L593.8,115.5 L594.0,115.5 L594.2,115.4 L594.5,115.4 L594.8,115.5 L595.0,115.4 L595.2,115.5 L595.5,115.3 L595.8,115.3 L596.0,115.4 L596.2,115.2 L596.5,115.4 L596.8,115.5 L597.0,115.3 L597.2,115.5 L597.5,115.3 L597.8,115.5 L598.0,115.1 L598.2,115.4 L598.5,115.5 L598.8,115.4 L599.0,115.5 L599.2,115.2 L599.5,115.5 L599.8,115.4 L600.0,115.0 L600.2,115.5 L600.5,115.4 L600.8,115.5 L601.0,115.4 L601.2,115.5 L601.5,115.4 L601.8,115.5 L602.0,115.5 L602.2,115.4 L602.5,115.4 L602.8,115.4 L603.0,115.1 L603.2,115.3 L603.5,114.3 L603.8,112.0 L604.0,110.5 L604.2,111.6 L604.5,114.1 L604.8,115.2 L605.0,115.4 L605.2,115.4 L605.5,115.2 L605.8,115.4 L606.0,115.5 L606.2,115.2 L606.5,115.3 L606.8,115.5 L607.0,115.4 L607.2,115.3 L607.5,115.0 L607.8,115.1 L608.0,115.3 L608.2,115.5 L608.5,115.3 L608.8,115.3 L609.0,115.4 L609.2,115.4 L609.5,115.2 L609.8,115.5 L610.0,115.4 L610.2,115.3 L610.5,115.4 L610.8,115.3 L611.0,115.3 L611.2,115.4 L611.5,115.4 L611.8,115.4 L612.0,115.5 L612.2,115.5 L612.5,115.5 L612.8,115.5 L613.0,115.4 L613.2,115.4 L613.5,115.3 L613.8,115.2 L614.0,115.3 L614.2,115.3 L614.5,115.4 L614.8,115.4 L615.0,115.3 L615.2,115.4 L615.5,115.4 L615.8,115.4 L616.0,115.5 L616.2,115.5 L616.5,115.4 L616.8,115.3 L617.0,115.3 L617.2,115.3 L617.5,115.4 L617.8,115.4 L618.0,115.3 L618.2,115.3 L618.5,115.4 L618.8,115.4 L619.0,115.3 L619.2,115.4 L619.5,115.4 L619.8,115.5 L620.0,115.5 L620.2,115.3 L620.5,115.2 L620.8,115.3 L621.0,115.3 L621.2,115.3 L621.5,115.5 L621.8,115.3 L622.0,115.4 L622.2,115.5 L622.5,115.5 L622.8,115.3 L623.0,115.3 L623.2,115.4 L623.5,115.4 L623.8,115.3 L624.0,115.5 L624.2,115.1 L624.5,115.4 L624.8,115.4 L625.0,115.5 L625.2,115.5 L625.5,115.4 L625.8,115.4 L626.0,114.9 L626.2,113.6 L626.5,112.5 L626.8,113.4 L627.0,114.9 L627.2,115.3 L627.5,115.4 L627.8,115.4 L628.0,115.5 L628.2,115.3 L628.5,115.4 L628.8,115.4 L629.0,115.4 L629.2,115.5 L629.5,115.3 L629.8,115.4 L630.0,115.2 L630.2,115.4 L630.5,115.5 L630.8,115.4 L631.0,115.5 L631.2,115.5 L631.5,115.4 L631.8,115.4 L632.0,115.4 L632.2,115.5 L632.5,115.5 L632.8,115.5 L633.0,115.3 L633.2,115.3 L633.5,115.3 L633.8,115.4 L634.0,115.4 L634.2,115.2 L634.5,115.4 L634.8,115.2 L635.0,115.4 L635.2,115.3 L635.5,115.1 L635.8,115.5 L636.0,115.4 L636.2,115.5 L636.5,115.4 L636.8,115.3 L637.0,115.5 L637.2,115.2 L637.5,115.2 L637.8,115.4 L638.0,115.2 L638.2,115.5 L638.5,115.4 L638.8,115.5 L639.0,115.3 L639.2,115.4 L639.5,115.3 L639.8,115.3 L640.0,115.3 L640.2,115.5 L640.5,115.5 L640.5,115.5 Z" fill="#3b4be8"/>
<line x1="359" y1="115.5" x2="640.5" y2="115.5" stroke="#3b4be8" stroke-width="0.35" opacity="0.6"/>
<path d="M359,124.2 L359.0,123.8 L359.4,123.9 L359.8,123.8 L360.2,123.6 L360.6,124.2 L361.0,124.0 L361.4,124.2 L361.8,123.8 L362.2,124.1 L362.6,123.8 L363.0,123.8 L363.4,123.9 L363.8,124.0 L364.2,124.1 L364.6,124.0 L365.0,124.0 L365.4,124.2 L365.8,123.7 L366.2,124.1 L366.6,124.1 L367.0,123.8 L367.4,124.1 L367.8,124.0 L368.2,123.8 L368.6,124.0 L369.0,124.0 L369.4,124.0 L369.8,124.1 L370.2,123.9 L370.6,124.2 L371.0,123.9 L371.4,124.2 L371.8,123.7 L372.2,123.8 L372.6,124.1 L373.0,124.1 L373.4,123.8 L373.8,124.0 L374.2,124.1 L374.6,124.1 L375.0,123.9 L375.4,123.9 L375.8,124.1 L376.2,123.9 L376.6,124.1 L377.0,123.7 L377.4,124.1 L377.8,124.2 L378.2,124.1 L378.6,124.1 L379.0,124.2 L379.4,124.1 L379.8,124.2 L380.2,124.1 L380.6,124.1 L381.0,124.2 L381.4,123.7 L381.8,124.1 L382.2,123.7 L382.6,123.3 L383.0,123.1 L383.4,123.7 L383.8,123.9 L384.2,124.1 L384.6,123.7 L385.0,124.1 L385.4,124.0 L385.8,124.1 L386.2,123.6 L386.6,123.9 L387.0,124.2 L387.4,123.9 L387.8,124.0 L388.2,123.8 L388.6,124.0 L389.0,124.2 L389.4,124.1 L389.8,124.1 L390.2,123.9 L390.6,123.4 L391.0,124.0 L391.4,124.1 L391.8,123.9 L392.2,124.1 L392.6,124.2 L393.0,124.1 L393.4,124.1 L393.8,124.0 L394.2,124.1 L394.6,123.6 L395.0,124.2 L395.4,124.0 L395.8,123.7 L396.2,123.8 L396.6,124.1 L397.0,123.7 L397.4,123.9 L397.8,123.9 L398.2,123.6 L398.6,123.8 L399.0,124.2 L399.4,123.8 L399.8,124.0 L400.2,124.0 L400.6,123.6 L401.0,123.7 L401.4,123.7 L401.8,124.1 L402.2,123.9 L402.6,123.6 L403.0,124.0 L403.4,124.1 L403.8,123.9 L404.2,124.1 L404.6,124.1 L405.0,124.0 L405.4,124.0 L405.8,124.1 L406.2,124.1 L406.6,124.0 L407.0,124.2 L407.4,123.9 L407.8,123.9 L408.2,124.1 L408.6,124.1 L409.0,124.0 L409.4,124.0 L409.8,124.0 L410.2,124.1 L410.6,123.1 L411.0,122.7 L411.4,123.3 L411.8,123.7 L412.2,123.6 L412.6,123.9 L413.0,124.1 L413.4,124.2 L413.8,123.9 L414.2,123.7 L414.6,124.0 L415.0,123.8 L415.4,124.0 L415.8,123.9 L416.2,124.0 L416.6,123.7 L417.0,123.9 L417.4,123.4 L417.8,123.8 L418.2,123.8 L418.6,123.8 L419.0,124.1 L419.4,124.2 L419.8,124.1 L420.2,123.9 L420.6,123.8 L421.0,123.6 L421.4,123.6 L421.8,123.4 L422.2,123.3 L422.6,123.5 L423.0,122.8 L423.4,123.4 L423.8,122.9 L424.2,123.4 L424.6,123.2 L425.0,123.8 L425.4,123.0 L425.8,123.0 L426.2,123.1 L426.6,123.6 L427.0,123.6 L427.4,123.6 L427.8,123.5 L428.2,123.1 L428.6,123.7 L429.0,123.4 L429.4,123.4 L429.8,123.8 L430.2,123.7 L430.6,123.3 L431.0,123.5 L431.4,123.5 L431.8,123.1 L432.2,123.5 L432.6,123.8 L433.0,123.2 L433.4,123.5 L433.8,123.4 L434.2,123.5 L434.6,123.4 L435.0,123.7 L435.4,123.2 L435.8,123.5 L436.2,123.7 L436.6,123.3 L437.0,123.5 L437.4,123.4 L437.8,123.4 L438.2,123.2 L438.6,123.6 L439.0,123.6 L439.4,123.8 L439.8,123.2 L440.2,123.5 L440.6,123.3 L441.0,123.5 L441.4,123.3 L441.8,123.3 L442.2,123.2 L442.6,122.9 L443.0,123.6 L443.4,123.2 L443.8,123.4 L444.2,123.7 L444.6,123.6 L445.0,123.3 L445.4,123.0 L445.8,123.7 L446.2,123.5 L446.6,123.1 L447.0,123.4 L447.4,123.4 L447.8,123.3 L448.2,123.6 L448.6,123.5 L449.0,123.8 L449.4,123.2 L449.8,123.8 L450.2,123.4 L450.6,123.9 L451.0,123.5 L451.4,123.2 L451.8,124.0 L452.2,124.0 L452.6,123.7 L453.0,124.1 L453.4,123.8 L453.8,123.8 L454.2,123.1 L454.6,123.3 L455.0,121.8 L455.4,122.3 L455.8,122.1 L456.2,122.9 L456.6,122.5 L457.0,121.8 L457.4,123.1 L457.8,121.6 L458.2,122.7 L458.6,123.1 L459.0,122.2 L459.4,123.2 L459.8,123.2 L460.2,122.8 L460.6,122.5 L461.0,122.7 L461.4,120.8 L461.8,119.8 L462.2,121.7 L462.6,122.7 L463.0,123.8 L463.4,124.1 L463.8,124.1 L464.2,123.8 L464.6,123.6 L465.0,123.9 L465.4,123.5 L465.8,124.2 L466.2,124.1 L466.6,124.1 L467.0,124.2 L467.4,124.1 L467.8,123.9 L468.2,124.2 L468.6,124.0 L469.0,124.1 L469.4,124.0 L469.8,123.9 L470.2,124.2 L470.6,124.2 L471.0,124.1 L471.4,124.0 L471.8,123.9 L472.2,124.1 L472.6,123.5 L473.0,124.0 L473.4,124.0 L473.8,124.0 L474.2,124.0 L474.6,124.1 L475.0,124.1 L475.4,124.0 L475.8,123.8 L476.2,124.2 L476.6,124.1 L477.0,123.7 L477.4,123.5 L477.8,124.1 L478.2,123.5 L478.6,124.0 L479.0,124.1 L479.4,123.9 L479.8,123.8 L480.2,123.7 L480.6,123.7 L481.0,124.1 L481.4,124.0 L481.8,124.0 L482.2,123.7 L482.6,124.1 L483.0,124.1 L483.4,123.9 L483.8,124.1 L484.2,123.6 L484.6,123.8 L485.0,124.0 L485.4,124.1 L485.8,123.5 L486.2,123.9 L486.6,124.1 L487.0,123.7 L487.4,123.9 L487.8,123.7 L488.2,123.9 L488.6,124.2 L489.0,124.1 L489.4,124.0 L489.8,123.5 L490.2,123.9 L490.6,124.1 L491.0,124.0 L491.4,124.2 L491.8,124.1 L492.2,124.1 L492.6,123.3 L493.0,123.7 L493.4,123.4 L493.8,122.5 L494.2,121.6 L494.6,121.2 L495.0,121.7 L495.4,122.9 L495.8,122.7 L496.2,121.9 L496.6,121.5 L497.0,122.7 L497.4,121.3 L497.8,121.0 L498.2,122.4 L498.6,120.5 L499.0,121.7 L499.4,120.3 L499.8,121.6 L500.2,120.7 L500.6,121.6 L501.0,122.9 L501.4,122.4 L501.8,120.9 L502.2,120.6 L502.6,120.8 L503.0,122.6 L503.4,122.0 L503.8,120.4 L504.2,122.9 L504.6,122.7 L505.0,121.2 L505.4,120.8 L505.8,121.6 L506.2,119.9 L506.6,120.2 L507.0,119.6 L507.4,119.5 L507.8,118.9 L508.2,118.4 L508.6,120.9 L509.0,120.9 L509.4,120.0 L509.8,117.5 L510.2,119.2 L510.6,119.3 L511.0,120.1 L511.4,119.8 L511.8,120.7 L512.2,120.5 L512.6,119.9 L513.0,119.7 L513.4,120.2 L513.8,120.4 L514.2,121.7 L514.6,122.3 L515.0,120.6 L515.4,120.6 L515.8,121.6 L516.2,120.9 L516.6,121.3 L517.0,120.7 L517.4,122.3 L517.8,121.6 L518.2,121.3 L518.6,122.0 L519.0,121.8 L519.4,122.6 L519.8,120.7 L520.2,122.8 L520.6,121.0 L521.0,120.7 L521.4,122.2 L521.8,122.2 L522.2,121.6 L522.6,120.9 L523.0,122.2 L523.4,120.5 L523.8,121.5 L524.2,122.5 L524.6,121.1 L525.0,122.4 L525.4,122.4 L525.8,122.1 L526.2,120.5 L526.6,121.9 L527.0,122.1 L527.4,121.2 L527.8,121.3 L528.2,122.3 L528.6,119.9 L529.0,120.4 L529.4,121.2 L529.8,120.9 L530.2,120.5 L530.6,119.4 L531.0,122.3 L531.4,121.3 L531.8,119.7 L532.2,121.6 L532.6,119.7 L533.0,120.4 L533.4,120.3 L533.8,121.6 L534.2,121.3 L534.6,120.0 L535.0,120.3 L535.4,120.5 L535.8,122.0 L536.2,121.1 L536.6,120.4 L537.0,119.0 L537.4,121.8 L537.8,121.0 L538.2,121.7 L538.6,119.9 L539.0,120.7 L539.4,119.6 L539.8,120.1 L540.2,120.5 L540.6,120.3 L541.0,120.2 L541.4,121.5 L541.8,120.5 L542.2,121.7 L542.6,119.7 L543.0,121.3 L543.4,120.9 L543.8,119.8 L544.2,121.8 L544.6,120.6 L545.0,122.6 L545.4,121.9 L545.8,122.1 L546.2,121.9 L546.6,123.8 L547.0,124.1 L547.4,123.9 L547.8,123.6 L548.2,123.3 L548.6,123.3 L549.0,122.7 L549.4,123.1 L549.8,123.4 L550.2,123.2 L550.6,123.3 L551.0,123.1 L551.4,123.2 L551.8,123.0 L552.2,123.3 L552.6,123.2 L553.0,123.1 L553.4,123.1 L553.8,123.3 L554.2,123.2 L554.6,123.4 L555.0,122.7 L555.4,123.3 L555.8,123.1 L556.2,123.6 L556.6,122.7 L557.0,122.9 L557.4,123.4 L557.8,123.0 L558.2,123.3 L558.6,123.1 L559.0,123.6 L559.4,122.9 L559.8,123.2 L560.2,122.9 L560.6,123.2 L561.0,123.3 L561.4,123.2 L561.8,123.1 L562.2,123.2 L562.6,122.9 L563.0,123.1 L563.4,122.9 L563.8,122.7 L564.2,123.5 L564.6,123.4 L565.0,123.3 L565.4,122.6 L565.8,123.1 L566.2,123.7 L566.6,123.1 L567.0,123.1 L567.4,122.7 L567.8,123.1 L568.2,122.9 L568.6,123.3 L569.0,122.7 L569.4,122.7 L569.8,122.6 L570.2,123.5 L570.6,123.3 L571.0,123.3 L571.4,123.0 L571.8,123.6 L572.2,123.5 L572.6,123.3 L573.0,123.4 L573.4,123.4 L573.8,123.3 L574.2,123.0 L574.6,123.0 L575.0,123.5 L575.4,123.4 L575.8,123.7 L576.2,123.3 L576.6,123.0 L577.0,123.4 L577.4,123.2 L577.8,123.6 L578.2,122.5 L578.6,122.8 L579.0,123.2 L579.4,123.6 L579.8,123.4 L580.2,123.2 L580.6,123.1 L581.0,122.9 L581.4,123.7 L581.8,122.9 L582.2,123.0 L582.6,123.2 L583.0,123.4 L583.4,123.1 L583.8,123.4 L584.2,123.4 L584.6,122.8 L585.0,123.3 L585.4,122.8 L585.8,122.7 L586.2,122.6 L586.6,123.0 L587.0,122.8 L587.4,123.1 L587.8,123.1 L588.2,123.1 L588.6,123.5 L589.0,123.0 L589.4,123.1 L589.8,123.4 L590.2,123.0 L590.6,123.2 L591.0,123.3 L591.4,123.2 L591.8,123.6 L592.2,123.0 L592.6,123.3 L593.0,122.8 L593.4,123.1 L593.8,122.6 L594.2,122.7 L594.6,123.4 L595.0,122.8 L595.4,123.0 L595.8,123.0 L596.2,123.1 L596.6,123.5 L597.0,123.3 L597.4,122.7 L597.8,123.1 L598.2,123.1 L598.6,122.9 L599.0,123.3 L599.4,123.5 L599.8,122.8 L600.2,123.4 L600.6,123.3 L601.0,122.5 L601.4,122.8 L601.8,123.7 L602.2,123.1 L602.6,123.3 L603.0,123.1 L603.4,122.4 L603.8,121.0 L604.2,122.3 L604.6,122.2 L605.0,123.1 L605.4,123.5 L605.8,123.3 L606.2,123.2 L606.6,122.6 L607.0,123.0 L607.4,123.4 L607.8,123.2 L608.2,122.8 L608.6,123.6 L609.0,123.0 L609.4,123.1 L609.8,123.4 L610.2,123.4 L610.6,123.0 L611.0,122.8 L611.4,122.8 L611.8,123.0 L612.2,123.1 L612.6,122.9 L613.0,122.9 L613.4,122.9 L613.8,122.8 L614.2,123.2 L614.6,122.9 L615.0,123.8 L615.4,123.1 L615.8,123.3 L616.2,123.4 L616.6,123.5 L617.0,123.0 L617.4,123.5 L617.8,123.2 L618.2,123.6 L618.6,123.2 L619.0,122.6 L619.4,123.1 L619.8,123.5 L620.2,123.1 L620.6,123.3 L621.0,123.0 L621.4,122.9 L621.8,123.3 L622.2,123.0 L622.6,123.5 L623.0,122.8 L623.4,123.2 L623.8,123.5 L624.2,123.1 L624.6,123.5 L625.0,122.8 L625.4,122.2 L625.8,121.3 L626.2,122.0 L626.6,123.0 L627.0,123.2 L627.4,123.4 L627.8,123.3 L628.2,123.1 L628.6,123.6 L629.0,123.2 L629.4,123.6 L629.8,122.9 L630.2,123.2 L630.6,123.3 L631.0,122.9 L631.4,123.7 L631.8,122.7 L632.2,123.2 L632.6,123.4 L633.0,123.1 L633.4,123.3 L633.8,123.4 L634.2,123.4 L634.6,123.5 L635.0,122.8 L635.4,123.3 L635.8,123.5 L636.2,123.3 L636.6,123.3 L637.0,123.0 L637.4,123.1 L637.8,123.6 L638.2,123.0 L638.6,123.3 L639.0,123.2 L639.4,123.7 L639.8,123.8 L640.2,124.0 L640.5,124.2 Z" fill="#3a9a1c"/>
<line x1="359" y1="124.2" x2="640.5" y2="124.2" stroke="#3a9a1c" stroke-width="0.35" opacity="0.6"/>
<path d="M359,132.6 L359.0,132.6 L359.4,132.6 L359.8,132.6 L360.2,132.5 L360.6,132.6 L361.0,132.6 L361.4,132.4 L361.8,132.4 L362.2,132.2 L362.6,132.1 L363.0,132.6 L363.4,132.5 L363.8,132.6 L364.2,132.5 L364.6,132.6 L365.0,132.5 L365.4,132.4 L365.8,132.4 L366.2,132.6 L366.6,132.5 L367.0,132.4 L367.4,132.5 L367.8,132.6 L368.2,132.4 L368.6,132.5 L369.0,132.6 L369.4,132.5 L369.8,132.5 L370.2,132.3 L370.6,132.5 L371.0,132.5 L371.4,132.5 L371.8,132.3 L372.2,132.2 L372.6,132.2 L373.0,132.6 L373.4,132.5 L373.8,132.6 L374.2,132.4 L374.6,132.3 L375.0,132.5 L375.4,132.4 L375.8,132.6 L376.2,132.4 L376.6,132.5 L377.0,132.6 L377.4,132.6 L377.8,132.6 L378.2,132.3 L378.6,132.5 L379.0,132.4 L379.4,131.8 L379.8,131.1 L380.2,129.1 L380.6,129.0 L381.0,129.3 L381.4,131.1 L381.8,131.9 L382.2,132.4 L382.6,132.6 L383.0,132.6 L383.4,132.5 L383.8,132.3 L384.2,132.4 L384.6,132.5 L385.0,132.5 L385.4,132.2 L385.8,132.6 L386.2,132.5 L386.6,132.6 L387.0,132.5 L387.4,132.4 L387.8,132.3 L388.2,132.5 L388.6,132.4 L389.0,132.5 L389.4,132.6 L389.8,132.5 L390.2,132.5 L390.6,132.6 L391.0,132.5 L391.4,132.5 L391.8,132.5 L392.2,132.4 L392.6,132.5 L393.0,132.4 L393.4,132.5 L393.8,132.3 L394.2,132.5 L394.6,132.3 L395.0,132.6 L395.4,132.6 L395.8,132.5 L396.2,132.5 L396.6,132.5 L397.0,132.5 L397.4,132.5 L397.8,132.5 L398.2,132.5 L398.6,132.6 L399.0,132.4 L399.4,132.5 L399.8,132.5 L400.2,132.5 L400.6,132.4 L401.0,132.5 L401.4,132.6 L401.8,132.6 L402.2,132.5 L402.6,132.3 L403.0,132.6 L403.4,132.5 L403.8,132.5 L404.2,132.4 L404.6,132.4 L405.0,132.3 L405.4,132.6 L405.8,132.6 L406.2,132.5 L406.6,132.4 L407.0,132.4 L407.4,132.5 L407.8,132.5 L408.2,132.5 L408.6,132.6 L409.0,132.6 L409.4,132.6 L409.8,132.5 L410.2,132.4 L410.6,132.4 L411.0,132.5 L411.4,132.4 L411.8,132.4 L412.2,132.5 L412.6,132.5 L413.0,132.5 L413.4,132.4 L413.8,132.5 L414.2,132.5 L414.6,132.5 L415.0,132.5 L415.4,132.6 L415.8,132.5 L416.2,132.3 L416.6,132.4 L417.0,132.3 L417.4,132.4 L417.8,132.6 L418.2,132.5 L418.6,132.5 L419.0,132.5 L419.4,132.5 L419.8,132.5 L420.2,132.6 L420.6,132.4 L421.0,132.5 L421.4,132.6 L421.8,132.5 L422.2,132.5 L422.6,132.5 L423.0,132.5 L423.4,132.4 L423.8,132.6 L424.2,132.4 L424.6,132.5 L425.0,132.5 L425.4,132.4 L425.8,132.3 L426.2,132.5 L426.6,132.5 L427.0,132.3 L427.4,132.5 L427.8,132.5 L428.2,132.5 L428.6,132.4 L429.0,132.6 L429.4,132.4 L429.8,132.6 L430.2,132.5 L430.6,132.5 L431.0,132.3 L431.4,132.4 L431.8,132.5 L432.2,132.6 L432.6,132.6 L433.0,132.6 L433.4,132.4 L433.8,132.3 L434.2,132.5 L434.6,132.4 L435.0,132.4 L435.4,132.6 L435.8,132.6 L436.2,132.6 L436.6,132.4 L437.0,132.5 L437.4,132.6 L437.8,132.5 L438.2,132.5 L438.6,132.5 L439.0,132.4 L439.4,132.4 L439.8,132.4 L440.2,132.3 L440.6,132.4 L441.0,132.5 L441.4,132.4 L441.8,132.6 L442.2,132.5 L442.6,132.6 L443.0,132.6 L443.4,132.4 L443.8,132.4 L444.2,132.6 L444.6,132.5 L445.0,132.4 L445.4,132.5 L445.8,132.3 L446.2,132.5 L446.6,132.6 L447.0,132.4 L447.4,132.4 L447.8,132.4 L448.2,132.4 L448.6,132.6 L449.0,132.5 L449.4,132.3 L449.8,132.4 L450.2,132.5 L450.6,132.4 L451.0,132.6 L451.4,132.5 L451.8,132.1 L452.2,132.4 L452.6,132.5 L453.0,132.4 L453.4,132.5 L453.8,132.5 L454.2,132.4 L454.6,132.4 L455.0,132.5 L455.4,132.4 L455.8,132.5 L456.2,132.5 L456.6,132.5 L457.0,132.3 L457.4,132.6 L457.8,132.5 L458.2,132.3 L458.6,132.3 L459.0,132.4 L459.4,132.4 L459.8,132.5 L460.2,132.6 L460.6,132.6 L461.0,132.4 L461.4,132.6 L461.8,132.4 L462.2,132.4 L462.6,132.5 L463.0,132.6 L463.4,132.5 L463.8,132.6 L464.2,132.5 L464.6,132.5 L465.0,132.6 L465.4,132.6 L465.8,132.3 L466.2,132.5 L466.6,132.6 L467.0,132.4 L467.4,132.6 L467.8,132.4 L468.2,132.5 L468.6,132.3 L469.0,132.5 L469.4,132.5 L469.8,132.4 L470.2,132.4 L470.6,132.4 L471.0,132.4 L471.4,132.5 L471.8,132.6 L472.2,132.5 L472.6,132.5 L473.0,132.5 L473.4,132.4 L473.8,132.5 L474.2,132.5 L474.6,132.5 L475.0,132.4 L475.4,132.3 L475.8,132.6 L476.2,132.6 L476.6,132.4 L477.0,131.2 L477.4,131.5 L477.8,128.7 L478.2,128.7 L478.6,130.7 L479.0,128.1 L479.4,129.6 L479.8,128.1 L480.2,130.3 L480.6,126.8 L481.0,129.3 L481.4,126.6 L481.8,126.5 L482.2,127.9 L482.6,125.2 L483.0,126.8 L483.4,128.2 L483.8,126.6 L484.2,125.5 L484.6,128.8 L485.0,126.5 L485.4,127.4 L485.8,127.2 L486.2,126.2 L486.6,127.6 L487.0,128.7 L487.4,129.0 L487.8,128.6 L488.2,127.4 L488.6,125.5 L489.0,126.3 L489.4,127.9 L489.8,127.8 L490.2,125.6 L490.6,127.6 L491.0,127.6 L491.4,125.8 L491.8,129.2 L492.2,126.5 L492.6,126.3 L493.0,129.1 L493.4,126.8 L493.8,127.5 L494.2,127.2 L494.6,125.1 L495.0,127.0 L495.4,127.6 L495.8,127.5 L496.2,127.7 L496.6,129.3 L497.0,128.1 L497.4,130.4 L497.8,129.6 L498.2,129.3 L498.6,129.1 L499.0,130.0 L499.4,129.3 L499.8,129.4 L500.2,128.5 L500.6,127.7 L501.0,130.6 L501.4,129.9 L501.8,129.8 L502.2,130.9 L502.6,132.0 L503.0,132.6 L503.4,132.2 L503.8,131.7 L504.2,131.3 L504.6,131.9 L505.0,130.7 L505.4,131.6 L505.8,131.3 L506.2,131.1 L506.6,130.9 L507.0,131.7 L507.4,131.1 L507.8,131.1 L508.2,131.4 L508.6,131.1 L509.0,130.7 L509.4,131.1 L509.8,131.7 L510.2,130.9 L510.6,131.9 L511.0,131.9 L511.4,131.6 L511.8,131.1 L512.2,131.8 L512.6,131.5 L513.0,131.6 L513.4,131.3 L513.8,131.0 L514.2,131.1 L514.6,131.9 L515.0,131.1 L515.4,131.5 L515.8,131.2 L516.2,131.9 L516.6,131.2 L517.0,131.7 L517.4,131.8 L517.8,131.8 L518.2,131.1 L518.6,131.0 L519.0,131.5 L519.4,131.3 L519.8,131.3 L520.2,131.3 L520.6,131.7 L521.0,131.5 L521.4,132.0 L521.8,131.4 L522.2,131.7 L522.6,131.3 L523.0,131.6 L523.4,131.5 L523.8,131.1 L524.2,130.8 L524.6,131.7 L525.0,131.3 L525.4,131.8 L525.8,131.0 L526.2,131.1 L526.6,131.1 L527.0,131.3 L527.4,131.2 L527.8,131.0 L528.2,131.9 L528.6,131.3 L529.0,131.5 L529.4,132.0 L529.8,132.5 L530.2,132.5 L530.6,132.1 L531.0,132.2 L531.4,132.0 L531.8,132.3 L532.2,132.3 L532.6,132.2 L533.0,132.0 L533.4,131.9 L533.8,132.0 L534.2,132.4 L534.6,132.1 L535.0,132.0 L535.4,132.0 L535.8,132.2 L536.2,131.7 L536.6,132.1 L537.0,132.1 L537.4,132.0 L537.8,132.0 L538.2,132.2 L538.6,132.1 L539.0,132.2 L539.4,132.0 L539.8,132.0 L540.2,132.0 L540.6,132.1 L541.0,132.0 L541.4,132.2 L541.8,132.1 L542.2,132.3 L542.6,132.0 L543.0,132.2 L543.4,132.3 L543.8,131.8 L544.2,132.2 L544.6,132.2 L545.0,132.2 L545.4,132.0 L545.8,131.9 L546.2,132.0 L546.6,132.1 L547.0,132.0 L547.4,132.1 L547.8,132.1 L548.2,132.0 L548.6,132.1 L549.0,132.3 L549.4,132.0 L549.8,132.1 L550.2,132.1 L550.6,132.3 L551.0,132.3 L551.4,132.1 L551.8,132.1 L552.2,132.2 L552.6,132.1 L553.0,132.1 L553.4,132.2 L553.8,132.3 L554.2,132.3 L554.6,132.0 L555.0,132.0 L555.4,132.3 L555.8,132.2 L556.2,132.2 L556.6,132.0 L557.0,132.2 L557.4,132.0 L557.8,132.2 L558.2,132.1 L558.6,132.1 L559.0,132.3 L559.4,132.2 L559.8,132.4 L560.2,132.4 L560.6,132.5 L561.0,132.6 L561.4,132.4 L561.8,132.4 L562.2,132.5 L562.6,132.2 L563.0,132.6 L563.4,132.3 L563.8,132.5 L564.2,132.6 L564.6,132.5 L565.0,132.5 L565.4,132.4 L565.8,132.6 L566.2,132.2 L566.6,132.6 L567.0,132.5 L567.4,132.5 L567.8,132.5 L568.2,132.5 L568.6,132.6 L569.0,132.5 L569.4,132.6 L569.8,132.6 L570.2,132.3 L570.6,132.6 L571.0,132.6 L571.4,132.4 L571.8,132.6 L572.2,132.4 L572.6,132.5 L573.0,132.4 L573.4,132.4 L573.8,132.3 L574.2,132.3 L574.6,132.6 L575.0,132.4 L575.4,132.4 L575.8,132.6 L576.2,132.4 L576.6,132.5 L577.0,132.6 L577.4,132.6 L577.8,132.4 L578.2,132.6 L578.6,132.5 L579.0,132.6 L579.4,132.5 L579.8,132.5 L580.2,132.3 L580.6,132.6 L581.0,132.5 L581.4,132.5 L581.8,132.6 L582.2,132.6 L582.6,132.4 L583.0,132.5 L583.4,132.5 L583.8,132.5 L584.2,132.5 L584.6,132.5 L585.0,132.2 L585.4,132.6 L585.8,132.6 L586.2,132.4 L586.6,132.5 L587.0,132.5 L587.4,132.6 L587.8,132.6 L588.2,132.5 L588.6,132.5 L589.0,132.4 L589.4,132.5 L589.8,132.5 L590.2,132.4 L590.6,132.3 L591.0,132.5 L591.4,132.5 L591.8,132.6 L592.2,132.5 L592.6,132.5 L593.0,132.4 L593.4,132.6 L593.8,132.5 L594.2,132.6 L594.6,132.6 L595.0,132.6 L595.4,132.5 L595.8,132.5 L596.2,132.5 L596.6,132.4 L597.0,132.0 L597.4,132.1 L597.8,132.0 L598.2,132.1 L598.6,132.0 L599.0,131.9 L599.4,132.2 L599.8,132.2 L600.2,131.9 L600.6,132.1 L601.0,132.1 L601.4,131.6 L601.8,132.2 L602.2,131.9 L602.6,131.6 L603.0,131.4 L603.4,130.5 L603.8,131.2 L604.2,131.1 L604.6,131.2 L605.0,131.5 L605.4,131.6 L605.8,132.1 L606.2,131.7 L606.6,132.0 L607.0,131.7 L607.4,132.1 L607.8,132.0 L608.2,132.2 L608.6,132.2 L609.0,132.0 L609.4,131.9 L609.8,132.3 L610.2,132.2 L610.6,132.1 L611.0,132.0 L611.4,132.2 L611.8,132.0 L612.2,131.9 L612.6,132.1 L613.0,132.2 L613.4,131.8 L613.8,131.9 L614.2,131.8 L614.6,131.9 L615.0,131.7 L615.4,131.9 L615.8,131.9 L616.2,131.6 L616.6,131.8 L617.0,131.8 L617.4,132.0 L617.8,132.1 L618.2,131.8 L618.6,132.0 L619.0,132.2 L619.4,131.7 L619.8,131.9 L620.2,131.9 L620.6,132.0 L621.0,132.2 L621.4,131.8 L621.8,131.8 L622.2,131.9 L622.6,132.1 L623.0,132.0 L623.4,131.9 L623.8,131.9 L624.2,131.8 L624.6,131.4 L625.0,131.7 L625.4,131.0 L625.8,130.9 L626.2,130.1 L626.6,130.5 L627.0,131.0 L627.4,130.8 L627.8,131.6 L628.2,131.7 L628.6,132.1 L629.0,132.0 L629.4,132.1 L629.8,132.0 L630.2,132.0 L630.6,131.9 L631.0,132.1 L631.4,132.2 L631.8,132.0 L632.2,132.0 L632.6,132.0 L633.0,131.8 L633.4,132.2 L633.8,131.9 L634.2,131.9 L634.6,131.9 L635.0,131.9 L635.4,131.8 L635.8,132.2 L636.2,131.9 L636.6,132.2 L637.0,131.9 L637.4,131.8 L637.8,131.7 L638.2,131.9 L638.6,131.8 L639.0,132.2 L639.4,132.4 L639.8,132.4 L640.2,132.5 L640.5,132.6 Z" fill="#e8141c"/>
<line x1="359" y1="132.6" x2="640.5" y2="132.6" stroke="#e8141c" stroke-width="0.35" opacity="0.5"/>
<rect x="644.5" y="112" width="33.3" height="3.6" fill="#fff" stroke="#555" stroke-width="0.35"/>
<text x="661.1" y="114.7" font-size="2.6" text-anchor="middle" fill="#333" >ATAC adult hOLIG SC</text>
<rect x="644.5" y="120.2" width="38.1" height="3.6" fill="#fff" stroke="#555" stroke-width="0.35"/>
<text x="663.5" y="122.9" font-size="2.6" text-anchor="middle" fill="#333" >H3K27ac adult hOLIG SC</text>
<rect x="644.5" y="128.8" width="41.1" height="3.6" fill="#fff" stroke="#555" stroke-width="0.35"/>
<text x="665" y="131.5" font-size="2.6" text-anchor="middle" fill="#333" >H3K27me3 adult hOLIG SC</text>
<line x1="358.5" y1="136.7" x2="420.4" y2="136.7" stroke="#2626a8" stroke-width="0.45" />
<path d="M358.5,135.6h0.9v2.1h-0.9zM419.6,135.6h0.7v2.1h-0.7zM398.4,135.6h0.3v2.1h-0.3zM395.5,135.6h0.3v2.1h-0.3zM376.2,135.6h0.5v2.1h-0.5zM399.2,135.6h0.4v2.1h-0.4zM390.3,135.6h0.5v2.1h-0.5zM402.0,135.6h0.3v2.1h-0.3zM388.1,135.6h0.3v2.1h-0.3zM384.1,135.6h0.5v2.1h-0.5zM411.7,135.6h0.4v2.1h-0.4zM394.0,135.6h0.5v2.1h-0.5zM373.4,135.6h0.4v2.1h-0.4zM386.3,135.6h0.4v2.1h-0.4zM404.5,135.6h0.6v2.1h-0.6zM370.3,135.6h0.6v2.1h-0.6z" fill="#2626a8"/>
<line x1="387.5" y1="139.3" x2="391.4" y2="139.3" stroke="#4848c8" stroke-width="0.8" opacity="0.6" stroke-dasharray="0.7 0.35"/>
<line x1="442.4" y1="136.7" x2="454" y2="136.7" stroke="#2626a8" stroke-width="0.45" />
<path d="M442.4,135.6h0.6v2.1h-0.6zM453.2,135.6h0.8v2.1h-0.8zM444.4,135.6h0.4v2.1h-0.4zM445.4,135.6h0.4v2.1h-0.4zM451.6,135.6h0.6v2.1h-0.6z" fill="#2626a8"/>
<line x1="445.6" y1="139.3" x2="450.8" y2="139.3" stroke="#4848c8" stroke-width="0.8" opacity="0.6" stroke-dasharray="0.7 0.35"/>
<line x1="475" y1="136.7" x2="476.5" y2="136.7" stroke="#2626a8" stroke-width="0.45" />
<path d="M475.0,135.6h1.2v2.1h-1.2zM475.7,135.6h0.9v2.1h-0.9zM475.7,135.6h0.3v2.1h-0.3z" fill="#2626a8"/>
<line x1="475.3" y1="139.3" x2="476.2" y2="139.3" stroke="#4848c8" stroke-width="0.8" opacity="0.6" stroke-dasharray="0.7 0.35"/>
<line x1="481.5" y1="136.7" x2="496.5" y2="136.7" stroke="#2626a8" stroke-width="0.45" />
<path d="M481.5,135.6h1.0v2.1h-1.0zM495.7,135.6h0.7v2.1h-0.7zM494.4,135.6h0.4v2.1h-0.4zM491.2,135.6h0.5v2.1h-0.5zM484.4,135.6h0.7v2.1h-0.7z" fill="#2626a8"/>
<line x1="486.6" y1="139.3" x2="491.4" y2="139.3" stroke="#4848c8" stroke-width="0.8" opacity="0.6" stroke-dasharray="0.7 0.35"/>
<line x1="500" y1="136.7" x2="508" y2="136.7" stroke="#2626a8" stroke-width="0.45" />
<path d="M500.0,135.6h0.9v2.1h-0.9zM507.2,135.6h0.7v2.1h-0.7zM503.4,135.6h0.7v2.1h-0.7zM502.7,135.6h0.3v2.1h-0.3z" fill="#2626a8"/>
<line x1="501.6" y1="139.3" x2="506.4" y2="139.3" stroke="#4848c8" stroke-width="0.8" opacity="0.6" stroke-dasharray="0.7 0.35"/>
<line x1="510" y1="136.7" x2="511" y2="136.7" stroke="#2626a8" stroke-width="0.45" />
<path d="M510.0,135.6h0.9v2.1h-0.9zM510.2,135.6h0.9v2.1h-0.9z" fill="#2626a8"/>
<line x1="510.2" y1="139.3" x2="510.8" y2="139.3" stroke="#4848c8" stroke-width="0.8" opacity="0.6" stroke-dasharray="0.7 0.35"/>
<line x1="484" y1="141.4" x2="486.5" y2="141.4" stroke="#2626a8" stroke-width="0.45" />
<path d="M484.0,140.4h0.9v2.1h-0.9zM485.7,140.4h0.7v2.1h-0.7z" fill="#2626a8"/>
<line x1="484.5" y1="144" x2="486" y2="144" stroke="#4848c8" stroke-width="0.8" opacity="0.6" stroke-dasharray="0.7 0.35"/>
<line x1="489" y1="141.4" x2="491.5" y2="141.4" stroke="#2626a8" stroke-width="0.45" />
<path d="M489.0,140.4h1.1v2.1h-1.1zM490.7,140.4h0.5v2.1h-0.5zM490.7,140.4h0.7v2.1h-0.7z" fill="#2626a8"/>
<line x1="489.5" y1="144" x2="491" y2="144" stroke="#4848c8" stroke-width="0.8" opacity="0.6" stroke-dasharray="0.7 0.35"/>
<line x1="495" y1="141.4" x2="498" y2="141.4" stroke="#2626a8" stroke-width="0.45" />
<path d="M495.0,140.4h1.2v2.1h-1.2zM497.2,140.4h0.8v2.1h-0.8z" fill="#2626a8"/>
<line x1="495.6" y1="144" x2="497.4" y2="144" stroke="#4848c8" stroke-width="0.8" opacity="0.6" stroke-dasharray="0.7 0.35"/>
<line x1="501.5" y1="141.4" x2="514" y2="141.4" stroke="#2626a8" stroke-width="0.45" />
<path d="M501.5,140.4h0.9v2.1h-0.9zM513.2,140.4h0.6v2.1h-0.6zM506.0,140.4h0.4v2.1h-0.4zM505.3,140.4h0.7v2.1h-0.7z" fill="#2626a8"/>
<line x1="505.2" y1="144" x2="510.3" y2="144" stroke="#4848c8" stroke-width="0.8" opacity="0.6" stroke-dasharray="0.7 0.35"/>
<line x1="495" y1="146.2" x2="497" y2="146.2" stroke="#2626a8" stroke-width="0.45" />
<path d="M495.0,145.1h1.1v2.1h-1.1zM496.2,145.1h0.8v2.1h-0.8zM496.5,145.1h0.4v2.1h-0.4z" fill="#2626a8"/>
<line x1="495.4" y1="148.8" x2="496.6" y2="148.8" stroke="#4848c8" stroke-width="0.8" opacity="0.6" stroke-dasharray="0.7 0.35"/>
<line x1="495" y1="150.9" x2="497" y2="150.9" stroke="#2626a8" stroke-width="0.45" />
<path d="M495.0,149.9h1.1v2.1h-1.1zM496.2,149.9h0.7v2.1h-0.7zM496.1,149.9h0.4v2.1h-0.4z" fill="#2626a8"/>
<line x1="495.4" y1="153.5" x2="496.6" y2="153.5" stroke="#4848c8" stroke-width="0.8" opacity="0.6" stroke-dasharray="0.7 0.35"/>
<line x1="531" y1="136.7" x2="547.7" y2="136.7" stroke="#2626a8" stroke-width="0.45" />
<path d="M531.0,135.6h1.1v2.1h-1.1zM546.9,135.6h0.9v2.1h-0.9zM535.8,135.6h0.6v2.1h-0.6zM536.7,135.6h0.6v2.1h-0.6zM544.3,135.6h0.4v2.1h-0.4zM536.2,135.6h0.4v2.1h-0.4z" fill="#2626a8"/>
<line x1="536.5" y1="139.3" x2="542.2" y2="139.3" stroke="#4848c8" stroke-width="0.8" opacity="0.6" stroke-dasharray="0.7 0.35"/>
<line x1="591.5" y1="136.7" x2="593" y2="136.7" stroke="#2626a8" stroke-width="0.45" />
<path d="M591.5,135.6h1.3v2.1h-1.3zM592.2,135.6h0.8v2.1h-0.8z" fill="#2626a8"/>
<line x1="591.8" y1="139.3" x2="592.7" y2="139.3" stroke="#4848c8" stroke-width="0.8" opacity="0.6" stroke-dasharray="0.7 0.35"/>
<line x1="607.6" y1="136.7" x2="614" y2="136.7" stroke="#2626a8" stroke-width="0.45" />
<path d="M607.6,135.6h0.8v2.1h-0.8zM613.2,135.6h0.5v2.1h-0.5z" fill="#2626a8"/>
<line x1="608.9" y1="139.3" x2="612.7" y2="139.3" stroke="#4848c8" stroke-width="0.8" opacity="0.6" stroke-dasharray="0.7 0.35"/>
<line x1="616" y1="136.7" x2="617" y2="136.7" stroke="#2626a8" stroke-width="0.45" />
<path d="M616.0,135.6h1.0v2.1h-1.0zM616.2,135.6h0.8v2.1h-0.8z" fill="#2626a8"/>
<line x1="616.2" y1="139.3" x2="616.8" y2="139.3" stroke="#4848c8" stroke-width="0.8" opacity="0.6" stroke-dasharray="0.7 0.35"/>
<line x1="619" y1="136.7" x2="630" y2="136.7" stroke="#2626a8" stroke-width="0.45" />
<path d="M619.0,135.6h1.0v2.1h-1.0zM629.2,135.6h0.6v2.1h-0.6zM622.6,135.6h0.5v2.1h-0.5zM622.1,135.6h0.5v2.1h-0.5zM627.0,135.6h0.4v2.1h-0.4z" fill="#2626a8"/>
<line x1="621.9" y1="139.3" x2="627.1" y2="139.3" stroke="#4848c8" stroke-width="0.8" opacity="0.6" stroke-dasharray="0.7 0.35"/>
<line x1="635" y1="136.7" x2="636.5" y2="136.7" stroke="#2626a8" stroke-width="0.45" />
<path d="M635.0,135.6h0.6v2.1h-0.6zM635.7,135.6h0.8v2.1h-0.8zM636.1,135.6h0.7v2.1h-0.7z" fill="#2626a8"/>
<line x1="635.3" y1="139.3" x2="636.2" y2="139.3" stroke="#4848c8" stroke-width="0.8" opacity="0.6" stroke-dasharray="0.7 0.35"/>
<line x1="619" y1="141.4" x2="625" y2="141.4" stroke="#2626a8" stroke-width="0.45" />
<path d="M619.0,140.4h0.8v2.1h-0.8zM624.2,140.4h0.8v2.1h-0.8zM621.3,140.4h0.5v2.1h-0.5zM622.9,140.4h0.7v2.1h-0.7z" fill="#2626a8"/>
<line x1="620.2" y1="144" x2="623.8" y2="144" stroke="#4848c8" stroke-width="0.8" opacity="0.6" stroke-dasharray="0.7 0.35"/>
<line x1="619" y1="146.2" x2="625" y2="146.2" stroke="#2626a8" stroke-width="0.45" />
<path d="M619.0,145.1h0.8v2.1h-0.8zM624.2,145.1h0.8v2.1h-0.8z" fill="#2626a8"/>
<line x1="620.2" y1="148.8" x2="623.8" y2="148.8" stroke="#4848c8" stroke-width="0.8" opacity="0.6" stroke-dasharray="0.7 0.35"/>
<line x1="621" y1="150.9" x2="629" y2="150.9" stroke="#2626a8" stroke-width="0.45" />
<path d="M621.0,149.9h1.0v2.1h-1.0zM628.2,149.9h0.7v2.1h-0.7zM627.2,149.9h0.6v2.1h-0.6zM622.4,149.9h0.4v2.1h-0.4z" fill="#2626a8"/>
<line x1="622.6" y1="153.5" x2="627.4" y2="153.5" stroke="#4848c8" stroke-width="0.8" opacity="0.6" stroke-dasharray="0.7 0.35"/>
<line x1="442.4" y1="141.4" x2="462.5" y2="141.4" stroke="#2626a8" stroke-width="0.45" />
<path d="M442.4,140.4h1.2v2.1h-1.2zM461.7,140.4h0.7v2.1h-0.7zM444.8,140.4h0.5v2.1h-0.5zM453.4,140.4h0.5v2.1h-0.5zM451.6,140.4h0.7v2.1h-0.7zM460.2,140.4h0.3v2.1h-0.3zM457.8,140.4h0.5v2.1h-0.5z" fill="#2626a8"/>
<line x1="449.5" y1="144" x2="455.4" y2="144" stroke="#4848c8" stroke-width="0.8" opacity="0.6" stroke-dasharray="0.7 0.35"/>
<line x1="442.4" y1="146.2" x2="461" y2="146.2" stroke="#2626a8" stroke-width="0.45" />
<path d="M442.4,145.1h0.9v2.1h-0.9zM460.2,145.1h0.6v2.1h-0.6zM454.3,145.1h0.5v2.1h-0.5zM457.0,145.1h0.6v2.1h-0.6zM448.3,145.1h0.4v2.1h-0.4zM454.9,145.1h0.7v2.1h-0.7zM446.1,145.1h0.4v2.1h-0.4z" fill="#2626a8"/>
<line x1="449.6" y1="148.8" x2="453.8" y2="148.8" stroke="#4848c8" stroke-width="0.8" opacity="0.6" stroke-dasharray="0.7 0.35"/>
<line x1="442.4" y1="150.9" x2="462.5" y2="150.9" stroke="#2626a8" stroke-width="0.45" />
<path d="M442.4,149.9h0.7v2.1h-0.7zM461.7,149.9h0.8v2.1h-0.8zM456.9,149.9h0.5v2.1h-0.5zM444.9,149.9h0.5v2.1h-0.5zM457.7,149.9h0.4v2.1h-0.4zM446.9,149.9h0.5v2.1h-0.5z" fill="#2626a8"/>
<line x1="449.5" y1="153.5" x2="455.4" y2="153.5" stroke="#4848c8" stroke-width="0.8" opacity="0.6" stroke-dasharray="0.7 0.35"/>
<line x1="442.4" y1="155.7" x2="461" y2="155.7" stroke="#2626a8" stroke-width="0.45" />
<path d="M442.4,154.6h0.9v2.1h-0.9zM460.2,154.6h0.5v2.1h-0.5zM452.8,154.6h0.7v2.1h-0.7zM447.6,154.6h0.6v2.1h-0.6zM445.9,154.6h0.4v2.1h-0.4zM450.4,154.6h0.3v2.1h-0.3z" fill="#2626a8"/>
<line x1="449.6" y1="158.3" x2="453.8" y2="158.3" stroke="#4848c8" stroke-width="0.8" opacity="0.6" stroke-dasharray="0.7 0.35"/>
<line x1="442.4" y1="160.4" x2="462.5" y2="160.4" stroke="#2626a8" stroke-width="0.45" />
<path d="M442.4,159.4h0.6v2.1h-0.6zM461.7,159.4h0.8v2.1h-0.8zM454.1,159.4h0.7v2.1h-0.7zM449.6,159.4h0.3v2.1h-0.3zM448.7,159.4h0.6v2.1h-0.6zM444.8,159.4h0.5v2.1h-0.5zM452.4,159.4h0.4v2.1h-0.4z" fill="#2626a8"/>
<line x1="449.7" y1="163" x2="455.2" y2="163" stroke="#4848c8" stroke-width="0.8" opacity="0.6" stroke-dasharray="0.7 0.35"/>
<line x1="442.4" y1="165.2" x2="461" y2="165.2" stroke="#2626a8" stroke-width="0.45" />
<path d="M442.4,164.1h0.8v2.1h-0.8zM460.2,164.1h0.8v2.1h-0.8zM454.6,164.1h0.6v2.1h-0.6zM453.7,164.1h0.4v2.1h-0.4zM454.3,164.1h0.3v2.1h-0.3z" fill="#2626a8"/>
<line x1="449.6" y1="167.8" x2="453.8" y2="167.8" stroke="#4848c8" stroke-width="0.8" opacity="0.6" stroke-dasharray="0.7 0.35"/>
<line x1="442.4" y1="169.9" x2="462.5" y2="169.9" stroke="#2626a8" stroke-width="0.45" />
<path d="M442.4,168.9h1.1v2.1h-1.1zM461.7,168.9h0.6v2.1h-0.6zM451.8,168.9h0.5v2.1h-0.5zM445.6,168.9h0.5v2.1h-0.5zM447.4,168.9h0.3v2.1h-0.3zM447.6,168.9h0.5v2.1h-0.5z" fill="#2626a8"/>
<line x1="449.8" y1="172.5" x2="455.1" y2="172.5" stroke="#4848c8" stroke-width="0.8" opacity="0.6" stroke-dasharray="0.7 0.35"/>
<line x1="442.4" y1="174.7" x2="461" y2="174.7" stroke="#2626a8" stroke-width="0.45" />
<path d="M442.4,173.6h1.0v2.1h-1.0zM460.2,173.6h0.7v2.1h-0.7zM455.5,173.6h0.6v2.1h-0.6zM452.9,173.6h0.6v2.1h-0.6zM451.1,173.6h0.5v2.1h-0.5zM450.2,173.6h0.6v2.1h-0.6zM457.4,173.6h0.5v2.1h-0.5z" fill="#2626a8"/>
<line x1="449.4" y1="177.3" x2="454" y2="177.3" stroke="#4848c8" stroke-width="0.8" opacity="0.6" stroke-dasharray="0.7 0.35"/>
<line x1="442.4" y1="179.4" x2="462.5" y2="179.4" stroke="#2626a8" stroke-width="0.45" />
<path d="M442.4,178.4h1.0v2.1h-1.0zM461.7,178.4h0.7v2.1h-0.7zM459.7,178.4h0.5v2.1h-0.5zM457.8,178.4h0.6v2.1h-0.6zM453.3,178.4h0.7v2.1h-0.7zM446.4,178.4h0.4v2.1h-0.4z" fill="#2626a8"/>
<line x1="450.7" y1="182" x2="454.2" y2="182" stroke="#4848c8" stroke-width="0.8" opacity="0.6" stroke-dasharray="0.7 0.35"/>
<line x1="442.4" y1="184.2" x2="461" y2="184.2" stroke="#2626a8" stroke-width="0.45" />
<path d="M442.4,183.1h1.2v2.1h-1.2zM460.2,183.1h0.8v2.1h-0.8zM456.4,183.1h0.5v2.1h-0.5zM449.6,183.1h0.5v2.1h-0.5zM447.0,183.1h0.6v2.1h-0.6zM458.2,183.1h0.5v2.1h-0.5z" fill="#2626a8"/>
<line x1="448.5" y1="186.8" x2="454.9" y2="186.8" stroke="#4848c8" stroke-width="0.8" opacity="0.6" stroke-dasharray="0.7 0.35"/>
<line x1="503.5" y1="146.2" x2="510" y2="146.2" stroke="#2626a8" stroke-width="0.45" />
<path d="M503.5,145.1h1.1v2.1h-1.1zM509.2,145.1h0.6v2.1h-0.6z" fill="#2626a8"/>
<line x1="504.8" y1="148.8" x2="508.7" y2="148.8" stroke="#4848c8" stroke-width="0.8" opacity="0.6" stroke-dasharray="0.7 0.35"/>
<line x1="501.5" y1="150.9" x2="508.5" y2="150.9" stroke="#2626a8" stroke-width="0.45" />
<path d="M501.5,149.9h1.0v2.1h-1.0zM507.7,149.9h0.6v2.1h-0.6z" fill="#2626a8"/>
<line x1="502.9" y1="153.5" x2="507.1" y2="153.5" stroke="#4848c8" stroke-width="0.8" opacity="0.6" stroke-dasharray="0.7 0.35"/>
<line x1="502.5" y1="155.7" x2="510" y2="155.7" stroke="#2626a8" stroke-width="0.45" />
<path d="M502.5,154.6h1.1v2.1h-1.1zM509.2,154.6h0.7v2.1h-0.7zM508.9,154.6h0.6v2.1h-0.6z" fill="#2626a8"/>
<line x1="504" y1="158.3" x2="508.5" y2="158.3" stroke="#4848c8" stroke-width="0.8" opacity="0.6" stroke-dasharray="0.7 0.35"/>
<line x1="503.5" y1="160.4" x2="508.5" y2="160.4" stroke="#2626a8" stroke-width="0.45" />
<path d="M503.5,159.4h0.9v2.1h-0.9zM507.7,159.4h0.7v2.1h-0.7zM504.2,159.4h0.5v2.1h-0.5zM507.0,159.4h0.6v2.1h-0.6z" fill="#2626a8"/>
<line x1="504.5" y1="163" x2="507.5" y2="163" stroke="#4848c8" stroke-width="0.8" opacity="0.6" stroke-dasharray="0.7 0.35"/>
<line x1="501.5" y1="165.2" x2="510" y2="165.2" stroke="#2626a8" stroke-width="0.45" />
<path d="M501.5,164.1h0.8v2.1h-0.8zM509.2,164.1h0.7v2.1h-0.7zM502.8,164.1h0.4v2.1h-0.4zM505.5,164.1h0.4v2.1h-0.4zM503.9,164.1h0.5v2.1h-0.5z" fill="#2626a8"/>
<line x1="503.2" y1="167.8" x2="508.3" y2="167.8" stroke="#4848c8" stroke-width="0.8" opacity="0.6" stroke-dasharray="0.7 0.35"/>
<line x1="502.5" y1="169.9" x2="508.5" y2="169.9" stroke="#2626a8" stroke-width="0.45" />
<path d="M502.5,168.9h1.1v2.1h-1.1zM507.7,168.9h0.8v2.1h-0.8z" fill="#2626a8"/>
<line x1="503.7" y1="172.5" x2="507.3" y2="172.5" stroke="#4848c8" stroke-width="0.8" opacity="0.6" stroke-dasharray="0.7 0.35"/>
<line x1="503.5" y1="174.7" x2="510" y2="174.7" stroke="#2626a8" stroke-width="0.45" />
<path d="M503.5,173.6h0.6v2.1h-0.6zM509.2,173.6h0.9v2.1h-0.9zM506.6,173.6h0.4v2.1h-0.4z" fill="#2626a8"/>
<line x1="504.8" y1="177.3" x2="508.7" y2="177.3" stroke="#4848c8" stroke-width="0.8" opacity="0.6" stroke-dasharray="0.7 0.35"/>
<line x1="501.5" y1="179.4" x2="508.5" y2="179.4" stroke="#2626a8" stroke-width="0.45" />
<path d="M501.5,178.4h0.8v2.1h-0.8zM507.7,178.4h0.7v2.1h-0.7zM507.2,178.4h0.3v2.1h-0.3zM505.8,178.4h0.7v2.1h-0.7z" fill="#2626a8"/>
<line x1="502.9" y1="182" x2="507.1" y2="182" stroke="#4848c8" stroke-width="0.8" opacity="0.6" stroke-dasharray="0.7 0.35"/>
<line x1="502.5" y1="184.2" x2="510" y2="184.2" stroke="#2626a8" stroke-width="0.45" />
<path d="M502.5,183.1h0.9v2.1h-0.9zM509.2,183.1h0.8v2.1h-0.8zM508.5,183.1h0.4v2.1h-0.4zM508.9,183.1h0.5v2.1h-0.5z" fill="#2626a8"/>
<line x1="504" y1="186.8" x2="508.5" y2="186.8" stroke="#4848c8" stroke-width="0.8" opacity="0.6" stroke-dasharray="0.7 0.35"/>
<line x1="503.5" y1="188.9" x2="508.5" y2="188.9" stroke="#2626a8" stroke-width="0.45" />
<path d="M503.5,187.9h1.0v2.1h-1.0zM507.7,187.9h0.9v2.1h-0.9zM505.6,187.9h0.6v2.1h-0.6z" fill="#2626a8"/>
<line x1="504.5" y1="191.5" x2="507.5" y2="191.5" stroke="#4848c8" stroke-width="0.8" opacity="0.6" stroke-dasharray="0.7 0.35"/>
<line x1="531" y1="141.4" x2="547.7" y2="141.4" stroke="#2626a8" stroke-width="0.45" />
<path d="M531.0,140.4h0.9v2.1h-0.9zM546.9,140.4h0.5v2.1h-0.5zM538.6,140.4h0.6v2.1h-0.6zM536.9,140.4h0.7v2.1h-0.7zM534.8,140.4h0.7v2.1h-0.7z" fill="#2626a8"/>
<line x1="536.5" y1="144" x2="542.2" y2="144" stroke="#4848c8" stroke-width="0.8" opacity="0.6" stroke-dasharray="0.7 0.35"/>
<line x1="531" y1="146.2" x2="547.7" y2="146.2" stroke="#2626a8" stroke-width="0.45" />
<path d="M531.0,145.1h1.0v2.1h-1.0zM546.9,145.1h0.7v2.1h-0.7zM538.0,145.1h0.6v2.1h-0.6zM545.7,145.1h0.4v2.1h-0.4zM540.8,145.1h0.4v2.1h-0.4z" fill="#2626a8"/>
<line x1="536.2" y1="148.8" x2="542.5" y2="148.8" stroke="#4848c8" stroke-width="0.8" opacity="0.6" stroke-dasharray="0.7 0.35"/>
<line x1="531" y1="150.9" x2="547.7" y2="150.9" stroke="#2626a8" stroke-width="0.45" />
<path d="M531.0,149.9h0.6v2.1h-0.6zM546.9,149.9h0.6v2.1h-0.6zM538.7,149.9h0.6v2.1h-0.6zM536.0,149.9h0.3v2.1h-0.3zM545.6,149.9h0.3v2.1h-0.3zM536.5,149.9h0.5v2.1h-0.5z" fill="#2626a8"/>
<line x1="536.2" y1="153.5" x2="542.5" y2="153.5" stroke="#4848c8" stroke-width="0.8" opacity="0.6" stroke-dasharray="0.7 0.35"/>
<line x1="531" y1="155.7" x2="547.7" y2="155.7" stroke="#2626a8" stroke-width="0.45" />
<path d="M531.0,154.6h1.1v2.1h-1.1zM546.9,154.6h0.9v2.1h-0.9zM540.9,154.6h0.4v2.1h-0.4zM545.3,154.6h0.4v2.1h-0.4zM539.8,154.6h0.3v2.1h-0.3zM545.4,154.6h0.7v2.1h-0.7zM544.6,154.6h0.4v2.1h-0.4z" fill="#2626a8"/>
<line x1="536.4" y1="158.3" x2="542.3" y2="158.3" stroke="#4848c8" stroke-width="0.8" opacity="0.6" stroke-dasharray="0.7 0.35"/>
<line x1="414" y1="139.4" x2="424" y2="139.4" stroke="#2626a8" stroke-width="0.45" />
<path d="M414.0,138.7h1.0v1.5h-1.0zM423.2,138.7h0.8v1.5h-0.8zM421.0,138.7h0.3v1.5h-0.3zM418.0,138.7h0.6v1.5h-0.6z" fill="#2626a8"/>
<line x1="416.6" y1="142" x2="421.4" y2="142" stroke="#4848c8" stroke-width="0.8" opacity="0.6" stroke-dasharray="0.7 0.35"/>
<rect x="359.5" y="135.6" width="8.5" height="2.3" fill="#eee" stroke="#2626a8" stroke-width="0.4"/>
<text x="7.6" y="233.6" font-size="13.2" text-anchor="start" font-weight="bold" fill="#000" >b</text>
<text x="115" y="234.2" font-size="7" text-anchor="middle" fill="#111" >hOPC</text>
<text x="312.5" y="234.2" font-size="7" text-anchor="middle" fill="#111" >B cell</text>
<text x="12.3" y="276.3" font-size="6.8" text-anchor="start" fill="#111" >HOXA</text>
<text x="12.3" y="402.6" font-size="6.8" text-anchor="start" fill="#111" >HOXD</text>
<clipPath id="hc3"><polygon points="23,335.7 115.2,243.6 207.5,335.7"/></clipPath>
<linearGradient id="hc3g" gradientUnits="userSpaceOnUse" x1="0" x2="0" y1="335.7" y2="290.7">
<stop offset="0.000" stop-color="rgb(255,255,255)" stop-opacity="1"/>
<stop offset="0.033" stop-color="rgb(242,242,242)" stop-opacity="1"/>
<stop offset="0.067" stop-color="rgb(178,178,178)" stop-opacity="0.9"/>
<stop offset="0.100" stop-color="rgb(128,128,128)" stop-opacity="0.7"/>
<stop offset="0.156" stop-color="rgb(107,107,107)" stop-opacity="0.45"/>
<stop offset="0.267" stop-color="rgb(97,97,97)" stop-opacity="0.25"/>
<stop offset="0.533" stop-color="rgb(89,89,89)" stop-opacity="0.1"/>
<stop offset="1.000" stop-color="rgb(76,76,76)" stop-opacity="0"/>
</linearGradient>
<g clip-path="url(#hc3)">
<g filter="url(#cm)">
<rect x="13" y="233.6" width="204.5" height="112.1" fill="rgb(19,19,19)" />
<polygon points="97,335.7 163.5,402.2 230,335.7 163.5,269.2" fill="rgb(36,36,36)" filter="url(#b3)"/>
<polygon points="20,338.7 91,338.7 55.5,303.2" fill="rgb(43,43,43)" filter="url(#b3)"/>
<polygon points="27,338.7 90,338.7 58.5,307.2" fill="rgb(51,51,51)" filter="url(#b2)" opacity="0.8"/>
<polygon points="37,338.7 89,338.7 63,312.7" fill="rgb(61,61,61)" filter="url(#b3)" opacity="0.6"/>
<polygon points="95,331.7 99,335.7 145.5,289.2 141.5,285.2" fill="rgb(51,51,51)" filter="url(#b2)"/>
<polygon points="106,321.7 108,323.7 143,288.7 141,286.7" fill="rgb(71,71,71)" filter="url(#b1)" opacity="0.6"/>
<polygon points="88,338.7 137,338.7 112.5,314.2" fill="rgb(46,46,46)" filter="url(#b3)" opacity="0.8"/>
<polygon points="96,338.7 137,338.7 116.5,318.2" fill="rgb(59,59,59)" filter="url(#b3)" opacity="0.6"/>
<polygon points="131,338.7 191,338.7 161,308.7" fill="rgb(51,51,51)" filter="url(#b3)" opacity="0.9"/>
<polygon points="147,338.7 191,338.7 169,316.7" fill="rgb(59,59,59)" filter="url(#b3)" opacity="0.7"/>
<polygon points="116.5,318.2 134,335.7 161,308.7 143.5,291.2" fill="rgb(43,43,43)" filter="url(#b3)" opacity="0.8"/>
<polygon points="185,338.7 210.5,338.7 197.8,325.9" fill="rgb(56,56,56)" filter="url(#b2)"/>
<polygon points="161,308.7 188,335.7 201.5,322.2 174.5,295.2" fill="rgb(41,41,41)" filter="url(#b3)" opacity="0.7"/>
<circle cx="59.2" cy="309.3" r="1.7249999999999999" fill="rgb(115,115,115)" filter="url(#b1)"/>
<circle cx="68" cy="320" r="1.6099999999999999" fill="rgb(115,115,115)" filter="url(#b1)"/>
<circle cx="113.4" cy="316" r="1.7249999999999999" fill="rgb(115,115,115)" filter="url(#b1)"/>
<circle cx="133.4" cy="294.9" r="1.7249999999999999" fill="rgb(115,115,115)" filter="url(#b1)"/>
<circle cx="139.5" cy="289.4" r="1.15" fill="rgb(115,115,115)" filter="url(#b1)"/>
<circle cx="124" cy="304.7" r="1.3" fill="rgb(108,108,108)" filter="url(#b1)"/>
<rect x="13" y="290.7" width="204.5" height="46" fill="url(#hc3g)" />
</g>
<circle cx="59.2" cy="309.3" r="1.1" fill="#3d62ad" filter="url(#b05)"/>
<circle cx="59.4" cy="309.2" r="0.5" fill="#2f4199"/>
<circle cx="68" cy="320" r="1" fill="#3d62ad" filter="url(#b05)"/>
<circle cx="68.2" cy="319.9" r="0.5" fill="#2f4199"/>
<circle cx="113.4" cy="316" r="1.1" fill="#3d62ad" filter="url(#b05)"/>
<circle cx="113.6" cy="315.9" r="0.5" fill="#2f4199"/>
<circle cx="133.4" cy="294.9" r="1.1" fill="#3d62ad" filter="url(#b05)"/>
<circle cx="133.6" cy="294.8" r="0.5" fill="#2f4199"/>
<circle cx="139.5" cy="289.4" r="0.8" fill="#3d62ad" filter="url(#b05)"/>
<circle cx="139.7" cy="289.3" r="0.3" fill="#2f4199"/>
<polygon points="21,336.7 21,334.5 22.3,334.2 23.4,334.5 24.8,333.8 25.9,333.7 26.7,334.5 27.7,334.3 28.4,333.6 29.2,334.2 29.8,333.2 31.2,333.2 32.4,334.3 33.3,334.3 34,333.2 35,334.1 36.4,334.5 37.9,334.5 39.1,334.5 40.2,334.5 40.8,333.6 41.6,333.2 42.5,333.2 43.9,333.2 45.3,333.2 46.6,334.1 47.7,333.3 48.5,333.2 50,333.4 51,333.5 52,333.2 52.9,334.3 53.6,333.8 55.2,333.8 56.3,333.7 57.7,334.4 58.9,334.2 60.1,334.5 60.9,334.5 62.4,334.5 63.6,334.5 64.3,334.5 65.7,333.8 66.7,333.4 68,333.2 69.5,333.4 71.1,333.2 72.3,333.2 73.4,333.5 74.2,333.2 75,334.2 76.4,333.6 77.5,333.2 78.1,333.8 79,334 79.8,334.5 80.7,333.5 82.3,333.2 83.4,333.8 85,333.7 86.3,334.5 87.1,333.7 88.5,333.2 89.7,333.4 90.9,333.2 91.8,333.2 92.7,333.2 93.3,333.2 94.8,334.3 96,334 97.5,333.8 98.3,334 99.9,333.2 100.6,334.2 101.3,334.5 102.4,334.5 103.8,334.1 104.6,334 105.5,334 106.3,334.5 107.1,334.5 108.4,334.4 109,333.9 110.5,333.2 111.9,334.4 113,334.5 114.3,334.5 115.6,334.5 116.9,334.5 117.6,334.5 118.5,333.5 119.4,333.5 120.5,333.2 121.2,333.2 122.3,333.2 123.9,333.7 125.2,333.6 126.4,334.5 127.8,333.4 128.7,333.8 130.3,334.5 131,334.5 132.4,333.9 133.5,333.6 134.1,333.2 135.1,333.2 136.1,333.4 137,334.5 138,334.5 139.3,333.7 140.6,333.8 141.5,334.1 142.5,333.8 144.1,334.5 145.2,334.5 146.5,333.6 147.9,333.3 149.2,333.2 150.7,333.2 152,333.8 153.5,334.1 154.7,333.3 156.3,333.2 156.9,333.6 157.8,333.9 158.5,333.8 159.2,334.3 160.8,333.7 161.8,334.5 163.4,334 164.2,334.4 165.4,334 166.3,333.2 167.2,333.8 168.7,334.5 169.9,334.5 171.1,334.5 172.1,333.4 173.2,333.6 174.4,334.1 175.2,334.4 176,334.5 177.6,334.5 179,333.5 180.3,334.5 181.4,334.5 182.6,334 183.5,334.5 184.6,334.5 185.5,334.5 187,334.5 187.7,333.8 189.2,333.7 189.8,334.5 190.8,334.4 191.6,333.6 193.1,333.2 194.6,334.4 195.8,334.5 197.3,333.9 198.6,334.5 199.3,333.7 200.5,333.5 201.6,333.2 202.5,333.8 203.4,334.2 204.7,333.3 205.3,334.3 206.5,333.9 207.2,334.5 207.9,334.5 209,334.1 209.5,336.7" fill="#6fa3cc" transform="translate(0,-1.3)" opacity="0.75"/>
<polygon points="21,336.7 21,334.5 22.3,334.2 23.4,334.5 24.8,333.8 25.9,333.7 26.7,334.5 27.7,334.3 28.4,333.6 29.2,334.2 29.8,333.2 31.2,333.2 32.4,334.3 33.3,334.3 34,333.2 35,334.1 36.4,334.5 37.9,334.5 39.1,334.5 40.2,334.5 40.8,333.6 41.6,333.2 42.5,333.2 43.9,333.2 45.3,333.2 46.6,334.1 47.7,333.3 48.5,333.2 50,333.4 51,333.5 52,333.2 52.9,334.3 53.6,333.8 55.2,333.8 56.3,333.7 57.7,334.4 58.9,334.2 60.1,334.5 60.9,334.5 62.4,334.5 63.6,334.5 64.3,334.5 65.7,333.8 66.7,333.4 68,333.2 69.5,333.4 71.1,333.2 72.3,333.2 73.4,333.5 74.2,333.2 75,334.2 76.4,333.6 77.5,333.2 78.1,333.8 79,334 79.8,334.5 80.7,333.5 82.3,333.2 83.4,333.8 85,333.7 86.3,334.5 87.1,333.7 88.5,333.2 89.7,333.4 90.9,333.2 91.8,333.2 92.7,333.2 93.3,333.2 94.8,334.3 96,334 97.5,333.8 98.3,334 99.9,333.2 100.6,334.2 101.3,334.5 102.4,334.5 103.8,334.1 104.6,334 105.5,334 106.3,334.5 107.1,334.5 108.4,334.4 109,333.9 110.5,333.2 111.9,334.4 113,334.5 114.3,334.5 115.6,334.5 116.9,334.5 117.6,334.5 118.5,333.5 119.4,333.5 120.5,333.2 121.2,333.2 122.3,333.2 123.9,333.7 125.2,333.6 126.4,334.5 127.8,333.4 128.7,333.8 130.3,334.5 131,334.5 132.4,333.9 133.5,333.6 134.1,333.2 135.1,333.2 136.1,333.4 137,334.5 138,334.5 139.3,333.7 140.6,333.8 141.5,334.1 142.5,333.8 144.1,334.5 145.2,334.5 146.5,333.6 147.9,333.3 149.2,333.2 150.7,333.2 152,333.8 153.5,334.1 154.7,333.3 156.3,333.2 156.9,333.6 157.8,333.9 158.5,333.8 159.2,334.3 160.8,333.7 161.8,334.5 163.4,334 164.2,334.4 165.4,334 166.3,333.2 167.2,333.8 168.7,334.5 169.9,334.5 171.1,334.5 172.1,333.4 173.2,333.6 174.4,334.1 175.2,334.4 176,334.5 177.6,334.5 179,333.5 180.3,334.5 181.4,334.5 182.6,334 183.5,334.5 184.6,334.5 185.5,334.5 187,334.5 187.7,333.8 189.2,333.7 189.8,334.5 190.8,334.4 191.6,333.6 193.1,333.2 194.6,334.4 195.8,334.5 197.3,333.9 198.6,334.5 199.3,333.7 200.5,333.5 201.6,333.2 202.5,333.8 203.4,334.2 204.7,333.3 205.3,334.3 206.5,333.9 207.2,334.5 207.9,334.5 209,334.1 209.5,336.7" fill="#303c98" />
<line x1="52" y1="335.7" x2="26" y2="309.7" stroke="#fff" stroke-width="0.5" />
<line x1="62.5" y1="335.7" x2="181.2" y2="216.9" stroke="#fff" stroke-width="0.61" />
<line x1="62.5" y1="335.7" x2="31.2" y2="304.4" stroke="#fff" stroke-width="0.5" />
<line x1="101.3" y1="335.7" x2="50.6" y2="285.1" stroke="#fff" stroke-width="0.72" />
<line x1="101.3" y1="335.7" x2="200.7" y2="236.3" stroke="#fff" stroke-width="0.61" />
<line x1="126" y1="335.7" x2="63" y2="272.7" stroke="#fff" stroke-width="0.95" />
<line x1="126" y1="335.7" x2="213" y2="248.7" stroke="#fff" stroke-width="0.72" />
<line x1="184.3" y1="335.7" x2="92.2" y2="243.5" stroke="#fff" stroke-width="0.72" />
<line x1="184.3" y1="335.7" x2="242.2" y2="277.9" stroke="#fff" stroke-width="0.61" />
<line x1="153" y1="335.7" x2="226.5" y2="262.2" stroke="#fff" stroke-width="0.5" />
<line x1="153" y1="335.7" x2="76.5" y2="259.2" stroke="#fff" stroke-width="0.39" />
<line x1="40" y1="335.7" x2="20" y2="315.7" stroke="#fff" stroke-width="0.39" />
<line x1="40" y1="335.7" x2="170" y2="205.7" stroke="#fff" stroke-width="0.39" />
</g>
<polygon points="66.8,307.1 61.2,304.3 64,301.5" fill="#fff" />
<polygon points="76.9,317.2 71.3,314.4 74.1,311.6" fill="#fff" />
<polygon points="111.2,311.7 105.6,308.9 108.4,306.1" fill="#fff" />
<polygon points="122,301 116.4,298.2 119.2,295.4" fill="#fff" />
<polygon points="129.6,292.4 124,289.6 126.8,286.8" fill="#fff" />
<line x1="39.9" y1="336.2" x2="39.9" y2="337.7" stroke="#222" stroke-width="0.4" />
<text transform="translate(42.5,340.3) rotate(-45)" font-size="3.7" text-anchor="end" fill="#111">26.75 Mb</text>
<line x1="71" y1="336.2" x2="71" y2="337.7" stroke="#222" stroke-width="0.4" />
<text transform="translate(73.6,340.3) rotate(-45)" font-size="3.7" text-anchor="end" fill="#111">27 Mb</text>
<line x1="102" y1="336.2" x2="102" y2="337.7" stroke="#222" stroke-width="0.4" />
<text transform="translate(104.6,340.3) rotate(-45)" font-size="3.7" text-anchor="end" fill="#111">27.25 Mb</text>
<line x1="132.4" y1="336.2" x2="132.4" y2="337.7" stroke="#222" stroke-width="0.4" />
<text transform="translate(135,340.3) rotate(-45)" font-size="3.7" text-anchor="end" fill="#111">27.5 Mb</text>
<line x1="162.5" y1="336.2" x2="162.5" y2="337.7" stroke="#222" stroke-width="0.4" />
<text transform="translate(165.1,340.3) rotate(-45)" font-size="3.7" text-anchor="end" fill="#111">27.75 Mb</text>
<line x1="193" y1="336.2" x2="193" y2="337.7" stroke="#222" stroke-width="0.4" />
<text transform="translate(195.6,340.3) rotate(-45)" font-size="3.7" text-anchor="end" fill="#111">28 Mb</text>
<rect x="178" y="282" width="11.6" height="2.5" fill="url(#cbar)" stroke="#333" stroke-width="0.2"/>
<text x="178" y="287.3" font-size="2.3" text-anchor="middle" fill="#111" >0</text>
<text x="187.8" y="287.3" font-size="2.3" text-anchor="middle" fill="#111" >0.005</text>
<text x="183.8" y="291.8" font-size="3.5" text-anchor="middle" fill="#111" >ICE norm. counts</text>
<clipPath id="hc4"><polygon points="220,335.3 312.5,242.5 405,335.3"/></clipPath>
<linearGradient id="hc4g" gradientUnits="userSpaceOnUse" x1="0" x2="0" y1="335.3" y2="295.3">
<stop offset="0.000" stop-color="rgb(255,255,255)" stop-opacity="1"/>
<stop offset="0.037" stop-color="rgb(242,242,242)" stop-opacity="1"/>
<stop offset="0.065" stop-color="rgb(178,178,178)" stop-opacity="0.9"/>
<stop offset="0.090" stop-color="rgb(128,128,128)" stop-opacity="0.7"/>
<stop offset="0.138" stop-color="rgb(102,102,102)" stop-opacity="0.45"/>
<stop offset="0.225" stop-color="rgb(84,84,84)" stop-opacity="0.25"/>
<stop offset="0.450" stop-color="rgb(76,76,76)" stop-opacity="0.1"/>
<stop offset="1.000" stop-color="rgb(64,64,64)" stop-opacity="0"/>
</linearGradient>
<g clip-path="url(#hc4)">
<g filter="url(#cm2)">
<rect x="210" y="232.5" width="205" height="112.8" fill="rgb(13,13,13)" />
<polygon points="294,335.3 357,398.3 420,335.3 357,272.3" fill="rgb(17,17,17)" filter="url(#b3)"/>
<polygon points="225,338.3 293,338.3 259,304.3" fill="rgb(23,23,23)" filter="url(#b3)"/>
<polygon points="232,338.3 291,338.3 261.5,308.8" fill="rgb(33,33,33)" filter="url(#b3)" opacity="0.7"/>
<polygon points="293.5,331.8 297,335.3 343.5,288.8 340,285.3" fill="rgb(23,23,23)" filter="url(#b2)"/>
<polygon points="289,338.3 335,338.3 312,315.3" fill="rgb(26,26,26)" filter="url(#b3)" opacity="0.8"/>
<polygon points="329,338.3 389,338.3 359,308.3" fill="rgb(26,26,26)" filter="url(#b3)" opacity="0.8"/>
<polygon points="383,338.3 408,338.3 395.5,325.8" fill="rgb(41,41,41)" filter="url(#b2)"/>
<circle cx="256.8" cy="308.1" r="1.3" fill="rgb(69,69,69)" filter="url(#b1)"/>
<circle cx="265.2" cy="318.6" r="1.3" fill="rgb(69,69,69)" filter="url(#b1)"/>
<circle cx="324" cy="301.6" r="1.3" fill="rgb(65,65,65)" filter="url(#b1)"/>
<circle cx="331.8" cy="294.1" r="1.3" fill="rgb(65,65,65)" filter="url(#b1)"/>
<circle cx="341" cy="284.8" r="1.3" fill="rgb(65,65,65)" filter="url(#b1)"/>
<circle cx="314.5" cy="311.8" r="1.2" fill="rgb(65,65,65)" filter="url(#b1)"/>
<rect x="210" y="295.3" width="205" height="41" fill="url(#hc4g)" />
</g>
<polygon points="218,336.3 218,333.1 218.7,334.1 220.3,334.1 221.1,333.7 222,333.1 222.8,333.1 223.8,333.1 225.3,333.1 226.8,333.1 227.5,333.1 228.7,333.6 229.4,333.1 230.6,333.1 232,333.1 233.2,333.1 234.4,333.7 235.9,334.1 237.3,333.1 238.6,334 240,333.6 240.8,334.1 241.9,334.1 243.4,334.1 244.5,334.1 245.8,333.1 246.7,333.4 247.9,333.9 249.1,333.8 250.1,333.4 251.3,334.1 252.9,334.1 253.9,334.1 255.4,333.1 256.5,333.3 257.2,333.1 258,333.1 258.9,333.5 259.9,334.1 260.5,334 261.9,333.7 262.7,333.2 263.4,333.4 264.8,333.1 265.9,333.1 267,333.1 268.2,333.1 269.5,333.2 270.8,333.1 271.8,333.1 273.2,333.1 274.7,334.1 275.8,333.8 276.8,334.1 278.1,334.1 278.9,333.9 279.9,332.8 280.8,331.1 281.6,331.6 282.4,332.9 284,333.3 284.6,333.6 286.1,334.1 287.1,332.8 288.5,330.6 289.3,330.3 290.6,332 291.8,334.1 293,334.1 294.1,334.1 295.5,334.1 296.7,333.1 298.1,333.7 299.3,334.1 300.2,333.2 301.6,334.1 302.6,333.8 303.4,333.1 304.9,333.1 305.8,333.1 307,333.8 307.8,334.1 309.3,334.1 310.6,333.3 312.1,334.1 313.1,333.2 314.5,333.4 315.8,334.1 316.5,334.1 317.5,334.1 318.6,333.1 319.4,333.1 320.8,333.1 322,333.1 322.6,333.1 323.9,333.1 325.3,334.1 326,334.1 327.1,333.1 328.6,333.3 329.8,333.1 330.7,333.1 332.3,333.1 333.8,333.1 335,333.5 335.9,334.1 336.6,333.1 337.5,334.1 338.4,334.1 339.4,334.1 340.2,334.1 341.2,334.1 342.6,334.1 343.8,333.2 345.3,333.5 346,333.1 347.1,333.8 347.8,334.1 348.7,334.1 350.3,332.3 351.4,333.1 352.1,333.5 353.1,333.1 354.2,333.2 355.5,334.1 356.8,333.4 358,333.7 358.9,334.1 359.6,334.1 360.6,333.4 361.5,333.5 362.7,333.2 363.3,333.1 364.5,333.6 365.3,333.1 366.9,333.5 367.9,333.4 368.7,333.6 370.2,333.5 371.6,334 373.1,333.4 373.9,333.3 375.2,333.1 376.4,333.7 377.5,334.1 378.9,334.1 380.5,333.9 381.3,334.1 382.1,333.5 382.7,333.3 383.6,333.1 384.3,333.1 385.7,333.7 386.4,334 387.6,334.1 388.2,334.1 389.6,334.1 391.2,334.1 391.9,334.1 392.9,334.1 393.7,334.1 394.8,334.1 395.8,334.1 397.1,333.9 398,334.1 399.4,334.1 400.1,334.1 401.6,334 403.1,333.7 404,333.9 405.4,334.1 406.8,334.1 407,336.3" fill="#6fa3cc" transform="translate(0,-1.3)" opacity="0.75"/>
<polygon points="218,336.3 218,333.1 218.7,334.1 220.3,334.1 221.1,333.7 222,333.1 222.8,333.1 223.8,333.1 225.3,333.1 226.8,333.1 227.5,333.1 228.7,333.6 229.4,333.1 230.6,333.1 232,333.1 233.2,333.1 234.4,333.7 235.9,334.1 237.3,333.1 238.6,334 240,333.6 240.8,334.1 241.9,334.1 243.4,334.1 244.5,334.1 245.8,333.1 246.7,333.4 247.9,333.9 249.1,333.8 250.1,333.4 251.3,334.1 252.9,334.1 253.9,334.1 255.4,333.1 256.5,333.3 257.2,333.1 258,333.1 258.9,333.5 259.9,334.1 260.5,334 261.9,333.7 262.7,333.2 263.4,333.4 264.8,333.1 265.9,333.1 267,333.1 268.2,333.1 269.5,333.2 270.8,333.1 271.8,333.1 273.2,333.1 274.7,334.1 275.8,333.8 276.8,334.1 278.1,334.1 278.9,333.9 279.9,332.8 280.8,331.1 281.6,331.6 282.4,332.9 284,333.3 284.6,333.6 286.1,334.1 287.1,332.8 288.5,330.6 289.3,330.3 290.6,332 291.8,334.1 293,334.1 294.1,334.1 295.5,334.1 296.7,333.1 298.1,333.7 299.3,334.1 300.2,333.2 301.6,334.1 302.6,333.8 303.4,333.1 304.9,333.1 305.8,333.1 307,333.8 307.8,334.1 309.3,334.1 310.6,333.3 312.1,334.1 313.1,333.2 314.5,333.4 315.8,334.1 316.5,334.1 317.5,334.1 318.6,333.1 319.4,333.1 320.8,333.1 322,333.1 322.6,333.1 323.9,333.1 325.3,334.1 326,334.1 327.1,333.1 328.6,333.3 329.8,333.1 330.7,333.1 332.3,333.1 333.8,333.1 335,333.5 335.9,334.1 336.6,333.1 337.5,334.1 338.4,334.1 339.4,334.1 340.2,334.1 341.2,334.1 342.6,334.1 343.8,333.2 345.3,333.5 346,333.1 347.1,333.8 347.8,334.1 348.7,334.1 350.3,332.3 351.4,333.1 352.1,333.5 353.1,333.1 354.2,333.2 355.5,334.1 356.8,333.4 358,333.7 358.9,334.1 359.6,334.1 360.6,333.4 361.5,333.5 362.7,333.2 363.3,333.1 364.5,333.6 365.3,333.1 366.9,333.5 367.9,333.4 368.7,333.6 370.2,333.5 371.6,334 373.1,333.4 373.9,333.3 375.2,333.1 376.4,333.7 377.5,334.1 378.9,334.1 380.5,333.9 381.3,334.1 382.1,333.5 382.7,333.3 383.6,333.1 384.3,333.1 385.7,333.7 386.4,334 387.6,334.1 388.2,334.1 389.6,334.1 391.2,334.1 391.9,334.1 392.9,334.1 393.7,334.1 394.8,334.1 395.8,334.1 397.1,333.9 398,334.1 399.4,334.1 400.1,334.1 401.6,334 403.1,333.7 404,333.9 405.4,334.1 406.8,334.1 407,336.3" fill="#303c98" />
<line x1="324.2" y1="335.3" x2="162.1" y2="173.2" stroke="#fff" stroke-width="1.06" />
<line x1="324.2" y1="335.3" x2="412.1" y2="247.4" stroke="#fff" stroke-width="0.72" />
<line x1="381" y1="335.3" x2="190.5" y2="144.8" stroke="#fff" stroke-width="0.72" />
<line x1="264.4" y1="335.3" x2="382.2" y2="217.5" stroke="#fff" stroke-width="0.72" />
<line x1="264.4" y1="335.3" x2="132.2" y2="203.1" stroke="#fff" stroke-width="0.61" />
<line x1="292" y1="335.3" x2="396" y2="231.3" stroke="#fff" stroke-width="0.61" />
<line x1="299.6" y1="335.3" x2="399.8" y2="235.1" stroke="#fff" stroke-width="0.72" />
<line x1="299.6" y1="335.3" x2="149.8" y2="185.5" stroke="#fff" stroke-width="0.5" />
<line x1="296" y1="335.3" x2="398" y2="233.3" stroke="#fff" stroke-width="0.5" />
<line x1="340" y1="335.3" x2="170" y2="165.3" stroke="#fff" stroke-width="0.5" />
<line x1="340" y1="335.3" x2="420" y2="255.3" stroke="#fff" stroke-width="0.5" />
<line x1="352" y1="335.3" x2="176" y2="159.3" stroke="#fff" stroke-width="0.5" />
<line x1="352" y1="335.3" x2="426" y2="261.3" stroke="#fff" stroke-width="0.5" />
<line x1="256" y1="335.3" x2="378" y2="213.3" stroke="#fff" stroke-width="0.39" />
<line x1="372" y1="335.3" x2="186" y2="149.3" stroke="#fff" stroke-width="0.39" />
<line x1="392" y1="335.3" x2="196" y2="139.3" stroke="#fff" stroke-width="0.39" />
<line x1="287" y1="335.3" x2="143.5" y2="191.8" stroke="#fff" stroke-width="0.5" />
</g>
<line x1="236.8" y1="335.8" x2="236.8" y2="337.3" stroke="#222" stroke-width="0.4" />
<text transform="translate(239.4,339.9) rotate(-45)" font-size="3.7" text-anchor="end" fill="#111">26.75 Mb</text>
<line x1="265.9" y1="335.8" x2="265.9" y2="337.3" stroke="#222" stroke-width="0.4" />
<text transform="translate(268.5,339.9) rotate(-45)" font-size="3.7" text-anchor="end" fill="#111">27 Mb</text>
<line x1="295" y1="335.8" x2="295" y2="337.3" stroke="#222" stroke-width="0.4" />
<text transform="translate(297.6,339.9) rotate(-45)" font-size="3.7" text-anchor="end" fill="#111">27.25 Mb</text>
<line x1="324.2" y1="335.8" x2="324.2" y2="337.3" stroke="#222" stroke-width="0.4" />
<text transform="translate(326.8,339.9) rotate(-45)" font-size="3.7" text-anchor="end" fill="#111">27.5 Mb</text>
<line x1="353.3" y1="335.8" x2="353.3" y2="337.3" stroke="#222" stroke-width="0.4" />
<text transform="translate(355.9,339.9) rotate(-45)" font-size="3.7" text-anchor="end" fill="#111">27.75 Mb</text>
<line x1="382.4" y1="335.8" x2="382.4" y2="337.3" stroke="#222" stroke-width="0.4" />
<text transform="translate(385,339.9) rotate(-45)" font-size="3.7" text-anchor="end" fill="#111">28 Mb</text>
<rect x="379.2" y="279.6" width="11.6" height="2.5" fill="url(#cbar)" stroke="#333" stroke-width="0.2"/>
<text x="379.2" y="284.9" font-size="2.3" text-anchor="middle" fill="#111" >0</text>
<text x="389" y="284.9" font-size="2.3" text-anchor="middle" fill="#111" >0.005</text>
<text x="385" y="289.4" font-size="3.5" text-anchor="middle" fill="#111" >ICE norm. counts</text>
<clipPath id="hc5"><polygon points="23,452.7 114.3,361.8 205.5,452.7"/></clipPath>
<linearGradient id="hc5g" gradientUnits="userSpaceOnUse" x1="0" x2="0" y1="452.7" y2="407.7">
<stop offset="0.000" stop-color="rgb(255,255,255)" stop-opacity="1"/>
<stop offset="0.033" stop-color="rgb(242,242,242)" stop-opacity="1"/>
<stop offset="0.067" stop-color="rgb(178,178,178)" stop-opacity="0.9"/>
<stop offset="0.100" stop-color="rgb(128,128,128)" stop-opacity="0.7"/>
<stop offset="0.156" stop-color="rgb(107,107,107)" stop-opacity="0.45"/>
<stop offset="0.267" stop-color="rgb(97,97,97)" stop-opacity="0.25"/>
<stop offset="0.533" stop-color="rgb(89,89,89)" stop-opacity="0.1"/>
<stop offset="1.000" stop-color="rgb(76,76,76)" stop-opacity="0"/>
</linearGradient>
<g clip-path="url(#hc5)">
<g filter="url(#cm)">
<rect x="13" y="351.8" width="202.5" height="110.9" fill="rgb(14,14,14)" />
<polygon points="20,455.7 108,455.7 64,411.7" fill="rgb(31,31,31)" filter="url(#b3)"/>
<polygon points="28,455.7 107,455.7 67.5,416.2" fill="rgb(51,51,51)" filter="url(#b2)" opacity="0.9"/>
<polygon points="34,455.7 106,455.7 70,419.7" fill="rgb(66,66,66)" filter="url(#b3)" opacity="0.8"/>
<polygon points="42,455.7 101,455.7 71.5,426.2" fill="rgb(76,76,76)" filter="url(#b3)" opacity="0.6"/>
<polygon points="49,439.7 55,445.7 75.5,425.2 69.5,419.2" fill="rgb(76,76,76)" filter="url(#b2)" opacity="0.7"/>
<polygon points="108,452.7 169,513.7 230,452.7 169,391.7" fill="rgb(26,26,26)" filter="url(#b3)"/>
<polygon points="112.2,448.9 116,452.7 160.5,408.2 156.8,404.4" fill="rgb(43,43,43)" filter="url(#b2)"/>
<polygon points="105,455.7 160,455.7 132.5,428.2" fill="rgb(38,38,38)" filter="url(#b3)" opacity="0.9"/>
<polygon points="115,455.7 160,455.7 137.5,433.2" fill="rgb(54,54,54)" filter="url(#b3)" opacity="0.6"/>
<polygon points="154,455.7 208.5,455.7 181.2,428.4" fill="rgb(43,43,43)" filter="url(#b3)" opacity="0.9"/>
<polygon points="163,455.7 208.5,455.7 185.8,432.9" fill="rgb(59,59,59)" filter="url(#b3)" opacity="0.6"/>
<polygon points="136.5,432.2 157,452.7 181,428.7 160.5,408.2" fill="rgb(36,36,36)" filter="url(#b3)" opacity="0.8"/>
<circle cx="70.5" cy="420.5" r="1.8399999999999999" fill="rgb(115,115,115)" filter="url(#b1)"/>
<circle cx="153.3" cy="411.3" r="2.3" fill="rgb(115,115,115)" filter="url(#b1)"/>
<circle cx="146.5" cy="418" r="1.4949999999999999" fill="rgb(115,115,115)" filter="url(#b1)"/>
<circle cx="138.6" cy="427.3" r="1.5" fill="rgb(108,108,108)" filter="url(#b1)"/>
<rect x="13" y="407.7" width="202.5" height="46" fill="url(#hc5g)" />
</g>
<circle cx="70.5" cy="420.5" r="1.2" fill="#3d62ad" filter="url(#b05)"/>
<circle cx="70.7" cy="420.4" r="0.5" fill="#2f4199"/>
<circle cx="153.3" cy="411.3" r="1.5" fill="#3d62ad" filter="url(#b05)"/>
<circle cx="153.5" cy="411.2" r="0.7" fill="#2f4199"/>
<circle cx="146.5" cy="418" r="1" fill="#3d62ad" filter="url(#b05)"/>
<circle cx="146.7" cy="417.9" r="0.4" fill="#2f4199"/>
<polygon points="21,453.7 21,450.2 22.5,450.2 23.2,450.2 24.3,450.2 25,450.9 26,451.5 27.1,451.5 27.8,451 28.8,451 30.1,451.3 30.8,450.6 32,450.2 33.2,450.2 34.2,450.2 35.1,450.2 36.4,450.6 37.1,450.7 38.4,450.5 39.4,450.2 40.2,451 41.1,450.2 41.9,451.1 42.6,451.5 43.5,451.3 44.9,451.5 45.9,451.5 46.8,450.8 48,451.4 48.7,450.7 50,450.2 50.8,450.2 52.3,450.2 53.9,451 55.4,451.5 56.5,451.5 57.9,451.1 59.4,450.3 61,450.2 62.6,450.2 63.5,450.2 64.5,450.9 65.2,451 66,450.2 67.5,450.9 68.2,450.8 69,450.7 70.4,451.3 71.4,450.3 72.5,450.7 74,450.2 75.5,450.2 76.5,450.2 77.9,450.2 78.8,450.7 79.8,450.2 80.9,450.2 82.3,451.1 83.6,451.5 84.7,450.7 85.6,450.2 86.3,450.2 87.4,450.8 88.6,450.9 89.6,450.4 90.2,450.7 91.6,451.5 93.1,451.5 94.4,451.5 95.4,451.5 96.1,451 97.2,450.6 98.3,450.4 99.4,450.9 100.9,451.5 102.4,450.6 103.5,450.2 104.8,450.2 105.7,450.6 106.6,451.1 108.2,451.5 109.2,451.5 110.6,451.5 111.7,451.5 112.6,451.5 113.4,451.5 114.9,451.5 115.6,451.5 116.3,451.3 117.4,450.5 118.2,450.2 119.1,450.2 120.3,451.3 121.7,451.5 122.7,451.5 124.1,451.5 125.4,451.5 126.7,451.5 127.4,450.5 128.7,451.3 130.2,450.3 131,451.5 132.2,451.5 133.6,451.5 134.9,451.3 136.2,450.6 137.4,450.3 138.4,451.2 139.1,450.4 139.9,450.5 140.8,450.3 141.9,450.2 143,450.5 144.2,450.2 145.7,450.7 147.2,450.2 148.8,451.1 149.8,450.4 151.2,451.5 152.2,451 153.6,450.9 154.4,451.1 155,451.5 156.1,450.7 157.2,450.9 158.1,451.4 159.4,451.5 160.1,450.7 161.3,450.2 162.4,450.2 163.5,450.2 165,450.2 166.3,450.4 166.9,450.2 167.9,450.5 168.6,451.5 169.6,450.4 170.9,450.2 172.2,450.7 172.9,450.5 173.6,450.3 174.7,450.2 175.4,451.2 176.5,451.5 177.7,451.5 179,450.9 180.2,450.8 181,451.2 182.6,451.5 183.4,451.5 184.6,450.8 185.5,450.2 186.1,450.2 187.3,450.2 188,450.2 189.6,450.2 190.3,450.2 191.9,451.1 193.3,451.5 194,450.8 195.3,450.2 196.5,450.2 197.4,450.2 199,450.2 200.5,450.9 201.8,450.4 202.5,450.2 203.2,450.9 203.9,450.5 204.6,450.2 205.2,450.2 206.6,450.2 207.5,453.7" fill="#6fa3cc" transform="translate(0,-1.3)" opacity="0.75"/>
<polygon points="21,453.7 21,450.2 22.5,450.2 23.2,450.2 24.3,450.2 25,450.9 26,451.5 27.1,451.5 27.8,451 28.8,451 30.1,451.3 30.8,450.6 32,450.2 33.2,450.2 34.2,450.2 35.1,450.2 36.4,450.6 37.1,450.7 38.4,450.5 39.4,450.2 40.2,451 41.1,450.2 41.9,451.1 42.6,451.5 43.5,451.3 44.9,451.5 45.9,451.5 46.8,450.8 48,451.4 48.7,450.7 50,450.2 50.8,450.2 52.3,450.2 53.9,451 55.4,451.5 56.5,451.5 57.9,451.1 59.4,450.3 61,450.2 62.6,450.2 63.5,450.2 64.5,450.9 65.2,451 66,450.2 67.5,450.9 68.2,450.8 69,450.7 70.4,451.3 71.4,450.3 72.5,450.7 74,450.2 75.5,450.2 76.5,450.2 77.9,450.2 78.8,450.7 79.8,450.2 80.9,450.2 82.3,451.1 83.6,451.5 84.7,450.7 85.6,450.2 86.3,450.2 87.4,450.8 88.6,450.9 89.6,450.4 90.2,450.7 91.6,451.5 93.1,451.5 94.4,451.5 95.4,451.5 96.1,451 97.2,450.6 98.3,450.4 99.4,450.9 100.9,451.5 102.4,450.6 103.5,450.2 104.8,450.2 105.7,450.6 106.6,451.1 108.2,451.5 109.2,451.5 110.6,451.5 111.7,451.5 112.6,451.5 113.4,451.5 114.9,451.5 115.6,451.5 116.3,451.3 117.4,450.5 118.2,450.2 119.1,450.2 120.3,451.3 121.7,451.5 122.7,451.5 124.1,451.5 125.4,451.5 126.7,451.5 127.4,450.5 128.7,451.3 130.2,450.3 131,451.5 132.2,451.5 133.6,451.5 134.9,451.3 136.2,450.6 137.4,450.3 138.4,451.2 139.1,450.4 139.9,450.5 140.8,450.3 141.9,450.2 143,450.5 144.2,450.2 145.7,450.7 147.2,450.2 148.8,451.1 149.8,450.4 151.2,451.5 152.2,451 153.6,450.9 154.4,451.1 155,451.5 156.1,450.7 157.2,450.9 158.1,451.4 159.4,451.5 160.1,450.7 161.3,450.2 162.4,450.2 163.5,450.2 165,450.2 166.3,450.4 166.9,450.2 167.9,450.5 168.6,451.5 169.6,450.4 170.9,450.2 172.2,450.7 172.9,450.5 173.6,450.3 174.7,450.2 175.4,451.2 176.5,451.5 177.7,451.5 179,450.9 180.2,450.8 181,451.2 182.6,451.5 183.4,451.5 184.6,450.8 185.5,450.2 186.1,450.2 187.3,450.2 188,450.2 189.6,450.2 190.3,450.2 191.9,451.1 193.3,451.5 194,450.8 195.3,450.2 196.5,450.2 197.4,450.2 199,450.2 200.5,450.9 201.8,450.4 202.5,450.2 203.2,450.9 203.9,450.5 204.6,450.2 205.2,450.2 206.6,450.2 207.5,453.7" fill="#303c98" />
<line x1="38.5" y1="452.7" x2="169.2" y2="321.9" stroke="#fff" stroke-width="0.61" />
<line x1="41.5" y1="452.7" x2="170.8" y2="323.4" stroke="#fff" stroke-width="0.5" />
<line x1="44.5" y1="452.7" x2="172.2" y2="324.9" stroke="#fff" stroke-width="0.61" />
<line x1="50.5" y1="452.7" x2="175.2" y2="327.9" stroke="#fff" stroke-width="0.72" />
<line x1="38.5" y1="452.7" x2="19.2" y2="433.4" stroke="#fff" stroke-width="0.39" />
<line x1="44.5" y1="452.7" x2="22.2" y2="430.4" stroke="#fff" stroke-width="0.39" />
<line x1="50.5" y1="452.7" x2="25.2" y2="427.4" stroke="#fff" stroke-width="0.39" />
<line x1="156.3" y1="452.7" x2="78.2" y2="374.5" stroke="#fff" stroke-width="0.83" />
<line x1="156.3" y1="452.7" x2="228.2" y2="380.9" stroke="#fff" stroke-width="0.72" />
<line x1="81.2" y1="452.7" x2="190.6" y2="343.3" stroke="#fff" stroke-width="0.61" />
<line x1="81.2" y1="452.7" x2="40.6" y2="412.1" stroke="#fff" stroke-width="0.39" />
<line x1="186" y1="452.7" x2="93" y2="359.7" stroke="#fff" stroke-width="0.5" />
<line x1="186" y1="452.7" x2="243" y2="395.7" stroke="#fff" stroke-width="0.39" />
<line x1="30" y1="452.7" x2="165" y2="317.7" stroke="#fff" stroke-width="0.39" />
</g>
<polygon points="79.7,417.4 74.1,414.6 76.9,411.8" fill="#fff" />
<polygon points="149.5,407.6 143.9,404.8 146.7,402" fill="#fff" />
<polygon points="142.8,414.6 137.2,411.8 140,409" fill="#fff" />
<polygon points="134.8,423.5 129.2,420.7 132,417.9" fill="#fff" />
<line x1="23" y1="453.2" x2="23" y2="454.7" stroke="#222" stroke-width="0.4" />
<text transform="translate(25.6,457.3) rotate(-45)" font-size="3.7" text-anchor="end" fill="#111">175.6 Mb</text>
<line x1="56" y1="453.2" x2="56" y2="454.7" stroke="#222" stroke-width="0.4" />
<text transform="translate(58.6,457.3) rotate(-45)" font-size="3.7" text-anchor="end" fill="#111">175.8 Mb</text>
<line x1="89" y1="453.2" x2="89" y2="454.7" stroke="#222" stroke-width="0.4" />
<text transform="translate(91.6,457.3) rotate(-45)" font-size="3.7" text-anchor="end" fill="#111">176 Mb</text>
<line x1="122" y1="453.2" x2="122" y2="454.7" stroke="#222" stroke-width="0.4" />
<text transform="translate(124.6,457.3) rotate(-45)" font-size="3.7" text-anchor="end" fill="#111">176.2 Mb</text>
<line x1="155.4" y1="453.2" x2="155.4" y2="454.7" stroke="#222" stroke-width="0.4" />
<text transform="translate(158,457.3) rotate(-45)" font-size="3.7" text-anchor="end" fill="#111">176.4 Mb</text>
<line x1="188.5" y1="453.2" x2="188.5" y2="454.7" stroke="#222" stroke-width="0.4" />
<text transform="translate(191.1,457.3) rotate(-45)" font-size="3.7" text-anchor="end" fill="#111">176.6 Mb</text>
<rect x="177.7" y="393.8" width="11.6" height="2.5" fill="url(#cbar)" stroke="#333" stroke-width="0.2"/>
<text x="177.7" y="399.1" font-size="2.3" text-anchor="middle" fill="#111" >0</text>
<text x="187.5" y="399.1" font-size="2.3" text-anchor="middle" fill="#111" >0.005</text>
<text x="183.5" y="403.6" font-size="3.5" text-anchor="middle" fill="#111" >ICE norm. counts</text>
<clipPath id="hc6"><polygon points="225.4,451.3 316.8,360.6 408.5,451.3"/></clipPath>
<linearGradient id="hc6g" gradientUnits="userSpaceOnUse" x1="0" x2="0" y1="451.3" y2="411.3">
<stop offset="0.000" stop-color="rgb(255,255,255)" stop-opacity="1"/>
<stop offset="0.037" stop-color="rgb(242,242,242)" stop-opacity="1"/>
<stop offset="0.065" stop-color="rgb(178,178,178)" stop-opacity="0.9"/>
<stop offset="0.090" stop-color="rgb(128,128,128)" stop-opacity="0.7"/>
<stop offset="0.138" stop-color="rgb(102,102,102)" stop-opacity="0.45"/>
<stop offset="0.225" stop-color="rgb(84,84,84)" stop-opacity="0.25"/>
<stop offset="0.450" stop-color="rgb(76,76,76)" stop-opacity="0.1"/>
<stop offset="1.000" stop-color="rgb(64,64,64)" stop-opacity="0"/>
</linearGradient>
<g clip-path="url(#hc6)">
<g filter="url(#cm2)">
<rect x="215.4" y="350.6" width="203.1" height="110.7" fill="rgb(11,11,11)" />
<polygon points="222,454.3 311,454.3 266.5,409.8" fill="rgb(18,18,18)" filter="url(#b3)"/>
<polygon points="229,454.3 303,454.3 266,417.3" fill="rgb(26,26,26)" filter="url(#b3)" opacity="0.7"/>
<polygon points="312,451.3 371,510.3 430,451.3 371,392.3" fill="rgb(15,15,15)" filter="url(#b3)"/>
<polygon points="321,442.3 324.5,445.8 362,408.3 358.5,404.8" fill="rgb(23,23,23)" filter="url(#b2)"/>
<polygon points="309,454.3 364,454.3 336.5,426.8" fill="rgb(22,22,22)" filter="url(#b3)" opacity="0.8"/>
<polygon points="358,454.3 411,454.3 384.5,427.8" fill="rgb(26,26,26)" filter="url(#b3)" opacity="0.8"/>
<circle cx="356.3" cy="409.8" r="1.265" fill="rgb(115,115,115)" filter="url(#b1)"/>
<circle cx="350.2" cy="405.2" r="1.3" fill="rgb(65,65,65)" filter="url(#b1)"/>
<circle cx="351.7" cy="416" r="1.4" fill="rgb(65,65,65)" filter="url(#b1)"/>
<circle cx="341" cy="425" r="1.4" fill="rgb(65,65,65)" filter="url(#b1)"/>
<circle cx="273.5" cy="439.8" r="1.2" fill="rgb(76,76,76)" filter="url(#b1)"/>
<rect x="215.4" y="411.3" width="203.1" height="41" fill="url(#hc6g)" />
</g>
<circle cx="356.3" cy="409.8" r="0.8" fill="#3d62ad" filter="url(#b05)"/>
<circle cx="356.5" cy="409.7" r="0.4" fill="#2f4199"/>
<polygon points="223.4,452.3 223.4,449.1 224.8,449.9 226.4,450.1 227.7,450.1 229.1,450.1 230.4,449.6 231.7,449.7 233.2,449.1 233.9,449.1 235.5,449.1 236.5,449.6 238.1,450.1 239.4,449.3 240.2,449.7 241.1,449.6 242.1,449.1 243.6,449.5 245.1,450.1 245.8,449.7 247.2,449.1 248.8,449.1 249.6,449.1 251.2,450.1 252.3,450.1 253,450.1 254.3,449.1 255,449.1 256.6,449.1 257.7,449.7 259,450.1 260.2,449.7 261.2,449.1 262.2,449.2 263.6,449.8 264.4,449.6 265.5,449.1 266.3,449.4 267,449.5 267.9,449.6 269.2,450.1 270.8,449.6 272.2,449.5 273.4,449.7 274.4,450.1 275.3,450.1 276.3,449.1 277.6,449.1 278.3,449.7 279.4,449.2 280.4,449.1 281.9,449.7 282.9,449.1 283.8,449.1 284.8,450.1 285.9,450.1 287.3,449.3 288.4,449.1 289.2,449.2 290,450.1 291.4,450.1 293,450 294.3,450.1 295.8,449.4 296.5,450.1 297.2,450.1 297.9,449.4 299,449.1 299.8,449.1 300.9,449.1 301.9,449.1 303.3,449.1 304.3,449.8 305,450.1 306.6,450.1 307.4,449.8 308.4,448.4 309.9,447 310.6,445.5 311.7,444.8 313.1,445.9 313.7,446 315.1,448.1 316,448.7 316.8,450.1 318.4,450 319.9,450.1 321.1,449.9 322.7,450.1 323.5,449.3 325,449.3 326,450.1 327,449.1 328,449.2 329.1,449.9 329.8,449.8 331.4,449.1 332.3,449.1 333.7,449.1 334.7,449.8 336,449.4 336.8,450.1 337.5,449.3 339,449.3 340.2,449.1 341,449.1 342,449.1 342.8,449.1 343.5,449.1 345,450.1 346.1,450.1 347.2,450.1 348.8,450.1 350.3,449.5 351.7,449.9 352.4,449.6 353.1,449.3 353.9,449.1 355.3,449.1 356.1,449.9 357.1,449.1 358,449.2 359,450.1 360.1,450.1 361.2,449.5 362.4,450.1 363.7,450 365,450.1 365.9,449.7 367.1,449.7 368.2,449.4 369.5,449.1 370.9,449.1 372.1,449.9 373.1,449.1 374.4,449.1 375.2,449.9 376.4,450.1 377.2,449.1 378,449.1 379.3,449.1 380.6,449.8 381.5,449.1 382.5,449.1 383.8,449.1 385.2,449.1 386,449.1 386.8,449.1 388.2,450 388.8,449.1 389.6,449.1 390.4,450 391.3,450.1 392.7,449.5 394.1,450.1 395.1,450.1 396.5,449.1 398.1,449.1 399.3,449.1 400,450.1 401.2,449.1 402.8,449.3 403.9,449.1 404.8,449.1 406,449.3 407,450.1 407.7,450.1 409.3,449.3 409.9,449.1 410.5,452.3" fill="#6fa3cc" transform="translate(0,-1.3)" opacity="0.75"/>
<polygon points="223.4,452.3 223.4,449.1 224.8,449.9 226.4,450.1 227.7,450.1 229.1,450.1 230.4,449.6 231.7,449.7 233.2,449.1 233.9,449.1 235.5,449.1 236.5,449.6 238.1,450.1 239.4,449.3 240.2,449.7 241.1,449.6 242.1,449.1 243.6,449.5 245.1,450.1 245.8,449.7 247.2,449.1 248.8,449.1 249.6,449.1 251.2,450.1 252.3,450.1 253,450.1 254.3,449.1 255,449.1 256.6,449.1 257.7,449.7 259,450.1 260.2,449.7 261.2,449.1 262.2,449.2 263.6,449.8 264.4,449.6 265.5,449.1 266.3,449.4 267,449.5 267.9,449.6 269.2,450.1 270.8,449.6 272.2,449.5 273.4,449.7 274.4,450.1 275.3,450.1 276.3,449.1 277.6,449.1 278.3,449.7 279.4,449.2 280.4,449.1 281.9,449.7 282.9,449.1 283.8,449.1 284.8,450.1 285.9,450.1 287.3,449.3 288.4,449.1 289.2,449.2 290,450.1 291.4,450.1 293,450 294.3,450.1 295.8,449.4 296.5,450.1 297.2,450.1 297.9,449.4 299,449.1 299.8,449.1 300.9,449.1 301.9,449.1 303.3,449.1 304.3,449.8 305,450.1 306.6,450.1 307.4,449.8 308.4,448.4 309.9,447 310.6,445.5 311.7,444.8 313.1,445.9 313.7,446 315.1,448.1 316,448.7 316.8,450.1 318.4,450 319.9,450.1 321.1,449.9 322.7,450.1 323.5,449.3 325,449.3 326,450.1 327,449.1 328,449.2 329.1,449.9 329.8,449.8 331.4,449.1 332.3,449.1 333.7,449.1 334.7,449.8 336,449.4 336.8,450.1 337.5,449.3 339,449.3 340.2,449.1 341,449.1 342,449.1 342.8,449.1 343.5,449.1 345,450.1 346.1,450.1 347.2,450.1 348.8,450.1 350.3,449.5 351.7,449.9 352.4,449.6 353.1,449.3 353.9,449.1 355.3,449.1 356.1,449.9 357.1,449.1 358,449.2 359,450.1 360.1,450.1 361.2,449.5 362.4,450.1 363.7,450 365,450.1 365.9,449.7 367.1,449.7 368.2,449.4 369.5,449.1 370.9,449.1 372.1,449.9 373.1,449.1 374.4,449.1 375.2,449.9 376.4,450.1 377.2,449.1 378,449.1 379.3,449.1 380.6,449.8 381.5,449.1 382.5,449.1 383.8,449.1 385.2,449.1 386,449.1 386.8,449.1 388.2,450 388.8,449.1 389.6,449.1 390.4,450 391.3,450.1 392.7,449.5 394.1,450.1 395.1,450.1 396.5,449.1 398.1,449.1 399.3,449.1 400,450.1 401.2,449.1 402.8,449.3 403.9,449.1 404.8,449.1 406,449.3 407,450.1 407.7,450.1 409.3,449.3 409.9,449.1 410.5,452.3" fill="#303c98" />
<line x1="236" y1="451.3" x2="368" y2="319.3" stroke="#fff" stroke-width="0.61" />
<line x1="240" y1="451.3" x2="370" y2="321.3" stroke="#fff" stroke-width="0.61" />
<line x1="244" y1="451.3" x2="372" y2="323.3" stroke="#fff" stroke-width="0.72" />
<line x1="250" y1="451.3" x2="375" y2="326.3" stroke="#fff" stroke-width="0.61" />
<line x1="236" y1="451.3" x2="118" y2="333.3" stroke="#fff" stroke-width="0.39" />
<line x1="244" y1="451.3" x2="122" y2="329.3" stroke="#fff" stroke-width="0.39" />
<line x1="250" y1="451.3" x2="125" y2="326.3" stroke="#fff" stroke-width="0.39" />
<line x1="360" y1="451.3" x2="180" y2="271.3" stroke="#fff" stroke-width="1.17" />
<line x1="360" y1="451.3" x2="430" y2="381.3" stroke="#fff" stroke-width="0.83" />
<line x1="341" y1="451.3" x2="170.5" y2="280.8" stroke="#fff" stroke-width="0.61" />
<line x1="341" y1="451.3" x2="420.5" y2="371.8" stroke="#fff" stroke-width="0.5" />
<line x1="286" y1="451.3" x2="143" y2="308.3" stroke="#fff" stroke-width="0.61" />
<line x1="286" y1="451.3" x2="393" y2="344.3" stroke="#fff" stroke-width="0.72" />
<line x1="262" y1="451.3" x2="131" y2="320.3" stroke="#fff" stroke-width="0.5" />
<line x1="262" y1="451.3" x2="381" y2="332.3" stroke="#fff" stroke-width="0.39" />
<line x1="384" y1="451.3" x2="192" y2="259.3" stroke="#fff" stroke-width="0.61" />
<line x1="384" y1="451.3" x2="442" y2="393.3" stroke="#fff" stroke-width="0.5" />
<line x1="326" y1="451.3" x2="163" y2="288.3" stroke="#fff" stroke-width="0.39" />
<line x1="326" y1="451.3" x2="413" y2="364.3" stroke="#fff" stroke-width="0.39" />
</g>
<line x1="225.4" y1="451.8" x2="225.4" y2="453.3" stroke="#222" stroke-width="0.4" />
<text transform="translate(228,455.9) rotate(-45)" font-size="3.7" text-anchor="end" fill="#111">175.6 Mb</text>
<line x1="258.9" y1="451.8" x2="258.9" y2="453.3" stroke="#222" stroke-width="0.4" />
<text transform="translate(261.5,455.9) rotate(-45)" font-size="3.7" text-anchor="end" fill="#111">175.8 Mb</text>
<line x1="292" y1="451.8" x2="292" y2="453.3" stroke="#222" stroke-width="0.4" />
<text transform="translate(294.6,455.9) rotate(-45)" font-size="3.7" text-anchor="end" fill="#111">176 Mb</text>
<line x1="325" y1="451.8" x2="325" y2="453.3" stroke="#222" stroke-width="0.4" />
<text transform="translate(327.6,455.9) rotate(-45)" font-size="3.7" text-anchor="end" fill="#111">176.2 Mb</text>
<line x1="358.5" y1="451.8" x2="358.5" y2="453.3" stroke="#222" stroke-width="0.4" />
<text transform="translate(361.1,455.9) rotate(-45)" font-size="3.7" text-anchor="end" fill="#111">176.4 Mb</text>
<line x1="391.6" y1="451.8" x2="391.6" y2="453.3" stroke="#222" stroke-width="0.4" />
<text transform="translate(394.2,455.9) rotate(-45)" font-size="3.7" text-anchor="end" fill="#111">176.6 Mb</text>
<rect x="380.7" y="395.4" width="11.6" height="2.5" fill="url(#cbar)" stroke="#333" stroke-width="0.2"/>
<text x="380.7" y="400.7" font-size="2.3" text-anchor="middle" fill="#111" >0</text>
<text x="390.5" y="400.7" font-size="2.3" text-anchor="middle" fill="#111" >0.005</text>
<text x="386.5" y="405.2" font-size="3.5" text-anchor="middle" fill="#111" >ICE norm. counts</text>
<text x="414" y="232.9" font-size="13.2" text-anchor="start" font-weight="bold" fill="#000" >c</text>
<text x="522.7" y="241.2" font-size="7" text-anchor="middle" fill="#111" >Cortex</text>
<text x="613.6" y="241.2" font-size="7" text-anchor="middle" fill="#111" >SC</text>
<text x="420.6" y="266.4" font-size="6.8" text-anchor="start" fill="#111" >HOXA</text>
<rect x="502.8" y="244.2" width="13.3" height="13.3" fill="rgb(255,0,0)" />
<rect x="515.9" y="244.2" width="13.3" height="13.3" fill="rgb(255,13,13)" />
<rect x="529.1" y="244.2" width="13.3" height="13.3" fill="rgb(102,102,255)" />
<line x1="501.2" y1="250.9" x2="502.8" y2="250.9" stroke="#222" stroke-width="0.35" />
<line x1="509.4" y1="283.8" x2="509.4" y2="285.2" stroke="#222" stroke-width="0.35" />
<text x="499.5" y="252.5" font-size="4.6" text-anchor="end" fill="#111" >ATAC</text>
<rect x="502.8" y="257.4" width="13.3" height="13.3" fill="rgb(255,13,13)" />
<rect x="515.9" y="257.4" width="13.3" height="13.3" fill="rgb(255,0,0)" />
<rect x="529.1" y="257.4" width="13.3" height="13.3" fill="rgb(166,166,255)" />
<line x1="501.2" y1="264.1" x2="502.8" y2="264.1" stroke="#222" stroke-width="0.35" />
<line x1="522.5" y1="283.8" x2="522.5" y2="285.2" stroke="#222" stroke-width="0.35" />
<text x="499.5" y="265.7" font-size="4.6" text-anchor="end" fill="#111" >H3K27ac</text>
<rect x="502.8" y="270.6" width="13.3" height="13.3" fill="rgb(102,102,255)" />
<rect x="515.9" y="270.6" width="13.3" height="13.3" fill="rgb(166,166,255)" />
<rect x="529.1" y="270.6" width="13.3" height="13.3" fill="rgb(255,0,0)" />
<line x1="501.2" y1="277.2" x2="502.8" y2="277.2" stroke="#222" stroke-width="0.35" />
<line x1="535.7" y1="283.8" x2="535.7" y2="285.2" stroke="#222" stroke-width="0.35" />
<text x="499.5" y="278.8" font-size="4.6" text-anchor="end" fill="#111" >H3K27me3</text>
<rect x="545.8" y="244.3" width="2.6" height="39.5" fill="url(#bwr)" />
<line x1="548.4" y1="244.3" x2="549.3" y2="244.3" stroke="#222" stroke-width="0.3" />
<text x="549.7" y="245.4" font-size="3.2" text-anchor="start" fill="#111" >1</text>
<line x1="548.4" y1="264.1" x2="549.3" y2="264.1" stroke="#222" stroke-width="0.3" />
<text x="549.7" y="265.2" font-size="3.2" text-anchor="start" fill="#111" >0</text>
<line x1="548.4" y1="283.8" x2="549.3" y2="283.8" stroke="#222" stroke-width="0.3" />
<text x="549.7" y="284.9" font-size="3.2" text-anchor="start" fill="#111" >-1</text>
<rect x="594.1" y="244.2" width="13.2" height="13.2" fill="rgb(255,0,0)" />
<rect x="607.1" y="244.2" width="13.2" height="13.2" fill="rgb(255,25,25)" />
<rect x="620.2" y="244.2" width="13.2" height="13.2" fill="rgb(51,51,255)" />
<line x1="592.5" y1="250.8" x2="594.1" y2="250.8" stroke="#222" stroke-width="0.35" />
<line x1="600.6" y1="283.5" x2="600.6" y2="284.9" stroke="#222" stroke-width="0.35" />
<text x="590.8" y="252.4" font-size="4.6" text-anchor="end" fill="#111" >ATAC</text>
<rect x="594.1" y="257.3" width="13.2" height="13.2" fill="rgb(255,25,25)" />
<rect x="607.1" y="257.3" width="13.2" height="13.2" fill="rgb(255,0,0)" />
<rect x="620.2" y="257.3" width="13.2" height="13.2" fill="rgb(33,33,255)" />
<line x1="592.5" y1="263.9" x2="594.1" y2="263.9" stroke="#222" stroke-width="0.35" />
<line x1="613.7" y1="283.5" x2="613.7" y2="284.9" stroke="#222" stroke-width="0.35" />
<text x="590.8" y="265.5" font-size="4.6" text-anchor="end" fill="#111" >H3K27ac</text>
<rect x="594.1" y="270.4" width="13.2" height="13.2" fill="rgb(51,51,255)" />
<rect x="607.1" y="270.4" width="13.2" height="13.2" fill="rgb(33,33,255)" />
<rect x="620.2" y="270.4" width="13.2" height="13.2" fill="rgb(255,0,0)" />
<line x1="592.5" y1="277" x2="594.1" y2="277" stroke="#222" stroke-width="0.35" />
<line x1="626.8" y1="283.5" x2="626.8" y2="284.9" stroke="#222" stroke-width="0.35" />
<text x="590.8" y="278.6" font-size="4.6" text-anchor="end" fill="#111" >H3K27me3</text>
<rect x="636.8" y="244.3" width="2.6" height="39.2" fill="url(#bwr)" />
<line x1="639.4" y1="244.3" x2="640.3" y2="244.3" stroke="#222" stroke-width="0.3" />
<text x="640.7" y="245.4" font-size="3.2" text-anchor="start" fill="#111" >1</text>
<line x1="639.4" y1="263.9" x2="640.3" y2="263.9" stroke="#222" stroke-width="0.3" />
<text x="640.7" y="265" font-size="3.2" text-anchor="start" fill="#111" >0</text>
<line x1="639.4" y1="283.5" x2="640.3" y2="283.5" stroke="#222" stroke-width="0.3" />
<text x="640.7" y="284.6" font-size="3.2" text-anchor="start" fill="#111" >-1</text>
<text x="420.6" y="316.7" font-size="6.8" text-anchor="start" fill="#111" >HOXB</text>
<rect x="502.8" y="294.6" width="13.3" height="13.3" fill="rgb(255,0,0)" />
<rect x="515.9" y="294.6" width="13.3" height="13.3" fill="rgb(255,255,255)" />
<rect x="529.1" y="294.6" width="13.3" height="13.3" fill="rgb(140,140,255)" />
<line x1="501.2" y1="301.2" x2="502.8" y2="301.2" stroke="#222" stroke-width="0.35" />
<line x1="509.4" y1="334.1" x2="509.4" y2="335.5" stroke="#222" stroke-width="0.35" />
<text x="499.5" y="302.8" font-size="4.6" text-anchor="end" fill="#111" >ATAC</text>
<rect x="502.8" y="307.7" width="13.3" height="13.3" fill="rgb(255,255,255)" />
<rect x="515.9" y="307.7" width="13.3" height="13.3" fill="rgb(255,0,0)" />
<rect x="529.1" y="307.7" width="13.3" height="13.3" fill="rgb(255,64,64)" />
<line x1="501.2" y1="314.4" x2="502.8" y2="314.4" stroke="#222" stroke-width="0.35" />
<line x1="522.5" y1="334.1" x2="522.5" y2="335.5" stroke="#222" stroke-width="0.35" />
<text x="499.5" y="316" font-size="4.6" text-anchor="end" fill="#111" >H3K27ac</text>
<rect x="502.8" y="320.9" width="13.3" height="13.3" fill="rgb(140,140,255)" />
<rect x="515.9" y="320.9" width="13.3" height="13.3" fill="rgb(255,64,64)" />
<rect x="529.1" y="320.9" width="13.3" height="13.3" fill="rgb(255,0,0)" />
<line x1="501.2" y1="327.5" x2="502.8" y2="327.5" stroke="#222" stroke-width="0.35" />
<line x1="535.7" y1="334.1" x2="535.7" y2="335.5" stroke="#222" stroke-width="0.35" />
<text x="499.5" y="329.1" font-size="4.6" text-anchor="end" fill="#111" >H3K27me3</text>
<rect x="545.8" y="294.6" width="2.6" height="39.5" fill="url(#bwr)" />
<line x1="548.4" y1="294.6" x2="549.3" y2="294.6" stroke="#222" stroke-width="0.3" />
<text x="549.7" y="295.7" font-size="3.2" text-anchor="start" fill="#111" >1</text>
<line x1="548.4" y1="314.4" x2="549.3" y2="314.4" stroke="#222" stroke-width="0.3" />
<text x="549.7" y="315.5" font-size="3.2" text-anchor="start" fill="#111" >0</text>
<line x1="548.4" y1="334.1" x2="549.3" y2="334.1" stroke="#222" stroke-width="0.3" />
<text x="549.7" y="335.2" font-size="3.2" text-anchor="start" fill="#111" >-1</text>
<rect x="594.1" y="294.6" width="13.2" height="13.2" fill="rgb(255,0,0)" />
<rect x="607.1" y="294.6" width="13.2" height="13.2" fill="rgb(255,38,38)" />
<rect x="620.2" y="294.6" width="13.2" height="13.2" fill="rgb(8,8,255)" />
<line x1="592.5" y1="301.1" x2="594.1" y2="301.1" stroke="#222" stroke-width="0.35" />
<line x1="600.6" y1="333.8" x2="600.6" y2="335.2" stroke="#222" stroke-width="0.35" />
<text x="590.8" y="302.7" font-size="4.6" text-anchor="end" fill="#111" >ATAC</text>
<rect x="594.1" y="307.6" width="13.2" height="13.2" fill="rgb(255,38,38)" />
<rect x="607.1" y="307.6" width="13.2" height="13.2" fill="rgb(255,0,0)" />
<rect x="620.2" y="307.6" width="13.2" height="13.2" fill="rgb(64,64,255)" />
<line x1="592.5" y1="314.2" x2="594.1" y2="314.2" stroke="#222" stroke-width="0.35" />
<line x1="613.7" y1="333.8" x2="613.7" y2="335.2" stroke="#222" stroke-width="0.35" />
<text x="590.8" y="315.8" font-size="4.6" text-anchor="end" fill="#111" >H3K27ac</text>
<rect x="594.1" y="320.7" width="13.2" height="13.2" fill="rgb(8,8,255)" />
<rect x="607.1" y="320.7" width="13.2" height="13.2" fill="rgb(64,64,255)" />
<rect x="620.2" y="320.7" width="13.2" height="13.2" fill="rgb(255,0,0)" />
<line x1="592.5" y1="327.3" x2="594.1" y2="327.3" stroke="#222" stroke-width="0.35" />
<line x1="626.8" y1="333.8" x2="626.8" y2="335.2" stroke="#222" stroke-width="0.35" />
<text x="590.8" y="328.9" font-size="4.6" text-anchor="end" fill="#111" >H3K27me3</text>
<rect x="636.8" y="294.6" width="2.6" height="39.2" fill="url(#bwr)" />
<line x1="639.4" y1="294.6" x2="640.3" y2="294.6" stroke="#222" stroke-width="0.3" />
<text x="640.7" y="295.7" font-size="3.2" text-anchor="start" fill="#111" >1</text>
<line x1="639.4" y1="314.2" x2="640.3" y2="314.2" stroke="#222" stroke-width="0.3" />
<text x="640.7" y="315.3" font-size="3.2" text-anchor="start" fill="#111" >0</text>
<line x1="639.4" y1="333.8" x2="640.3" y2="333.8" stroke="#222" stroke-width="0.3" />
<text x="640.7" y="334.9" font-size="3.2" text-anchor="start" fill="#111" >-1</text>
<text x="420.6" y="367" font-size="6.8" text-anchor="start" fill="#111" >HOXC</text>
<rect x="502.8" y="344.8" width="13.3" height="13.3" fill="rgb(255,0,0)" />
<rect x="515.9" y="344.8" width="13.3" height="13.3" fill="rgb(166,166,255)" />
<rect x="529.1" y="344.8" width="13.3" height="13.3" fill="rgb(77,77,255)" />
<line x1="501.2" y1="351.5" x2="502.8" y2="351.5" stroke="#222" stroke-width="0.35" />
<line x1="509.4" y1="384.4" x2="509.4" y2="385.8" stroke="#222" stroke-width="0.35" />
<text x="499.5" y="353.1" font-size="4.6" text-anchor="end" fill="#111" >ATAC</text>
<rect x="502.8" y="358" width="13.3" height="13.3" fill="rgb(166,166,255)" />
<rect x="515.9" y="358" width="13.3" height="13.3" fill="rgb(255,0,0)" />
<rect x="529.1" y="358" width="13.3" height="13.3" fill="rgb(255,102,102)" />
<line x1="501.2" y1="364.6" x2="502.8" y2="364.6" stroke="#222" stroke-width="0.35" />
<line x1="522.5" y1="384.4" x2="522.5" y2="385.8" stroke="#222" stroke-width="0.35" />
<text x="499.5" y="366.2" font-size="4.6" text-anchor="end" fill="#111" >H3K27ac</text>
<rect x="502.8" y="371.2" width="13.3" height="13.3" fill="rgb(77,77,255)" />
<rect x="515.9" y="371.2" width="13.3" height="13.3" fill="rgb(255,102,102)" />
<rect x="529.1" y="371.2" width="13.3" height="13.3" fill="rgb(255,0,0)" />
<line x1="501.2" y1="377.8" x2="502.8" y2="377.8" stroke="#222" stroke-width="0.35" />
<line x1="535.7" y1="384.4" x2="535.7" y2="385.8" stroke="#222" stroke-width="0.35" />
<text x="499.5" y="379.4" font-size="4.6" text-anchor="end" fill="#111" >H3K27me3</text>
<rect x="545.8" y="344.9" width="2.6" height="39.5" fill="url(#bwr)" />
<line x1="548.4" y1="344.9" x2="549.3" y2="344.9" stroke="#222" stroke-width="0.3" />
<text x="549.7" y="346" font-size="3.2" text-anchor="start" fill="#111" >1</text>
<line x1="548.4" y1="364.6" x2="549.3" y2="364.6" stroke="#222" stroke-width="0.3" />
<text x="549.7" y="365.8" font-size="3.2" text-anchor="start" fill="#111" >0</text>
<line x1="548.4" y1="384.4" x2="549.3" y2="384.4" stroke="#222" stroke-width="0.3" />
<text x="549.7" y="385.5" font-size="3.2" text-anchor="start" fill="#111" >-1</text>
<rect x="594.1" y="344.8" width="13.2" height="13.2" fill="rgb(255,0,0)" />
<rect x="607.1" y="344.8" width="13.2" height="13.2" fill="rgb(255,5,5)" />
<rect x="620.2" y="344.8" width="13.2" height="13.2" fill="rgb(204,204,255)" />
<line x1="592.5" y1="351.4" x2="594.1" y2="351.4" stroke="#222" stroke-width="0.35" />
<line x1="600.6" y1="384.1" x2="600.6" y2="385.5" stroke="#222" stroke-width="0.35" />
<text x="590.8" y="353" font-size="4.6" text-anchor="end" fill="#111" >ATAC</text>
<rect x="594.1" y="357.9" width="13.2" height="13.2" fill="rgb(255,5,5)" />
<rect x="607.1" y="357.9" width="13.2" height="13.2" fill="rgb(255,0,0)" />
<rect x="620.2" y="357.9" width="13.2" height="13.2" fill="rgb(219,219,255)" />
<line x1="592.5" y1="364.5" x2="594.1" y2="364.5" stroke="#222" stroke-width="0.35" />
<line x1="613.7" y1="384.1" x2="613.7" y2="385.5" stroke="#222" stroke-width="0.35" />
<text x="590.8" y="366.1" font-size="4.6" text-anchor="end" fill="#111" >H3K27ac</text>
<rect x="594.1" y="371" width="13.2" height="13.2" fill="rgb(204,204,255)" />
<rect x="607.1" y="371" width="13.2" height="13.2" fill="rgb(219,219,255)" />
<rect x="620.2" y="371" width="13.2" height="13.2" fill="rgb(255,0,0)" />
<line x1="592.5" y1="377.6" x2="594.1" y2="377.6" stroke="#222" stroke-width="0.35" />
<line x1="626.8" y1="384.1" x2="626.8" y2="385.5" stroke="#222" stroke-width="0.35" />
<text x="590.8" y="379.2" font-size="4.6" text-anchor="end" fill="#111" >H3K27me3</text>
<rect x="636.8" y="344.9" width="2.6" height="39.2" fill="url(#bwr)" />
<line x1="639.4" y1="344.9" x2="640.3" y2="344.9" stroke="#222" stroke-width="0.3" />
<text x="640.7" y="346" font-size="3.2" text-anchor="start" fill="#111" >1</text>
<line x1="639.4" y1="364.5" x2="640.3" y2="364.5" stroke="#222" stroke-width="0.3" />
<text x="640.7" y="365.6" font-size="3.2" text-anchor="start" fill="#111" >0</text>
<line x1="639.4" y1="384.1" x2="640.3" y2="384.1" stroke="#222" stroke-width="0.3" />
<text x="640.7" y="385.2" font-size="3.2" text-anchor="start" fill="#111" >-1</text>
<text x="420.6" y="417.3" font-size="6.8" text-anchor="start" fill="#111" >HOXD</text>
<rect x="502.8" y="395.1" width="13.3" height="13.3" fill="rgb(255,0,0)" />
<rect x="515.9" y="395.1" width="13.3" height="13.3" fill="rgb(255,153,153)" />
<rect x="529.1" y="395.1" width="13.3" height="13.3" fill="rgb(255,191,191)" />
<line x1="501.2" y1="401.8" x2="502.8" y2="401.8" stroke="#222" stroke-width="0.35" />
<line x1="509.4" y1="434.7" x2="509.4" y2="436.1" stroke="#222" stroke-width="0.35" />
<text x="499.5" y="403.4" font-size="4.6" text-anchor="end" fill="#111" >ATAC</text>
<rect x="502.8" y="408.3" width="13.3" height="13.3" fill="rgb(255,153,153)" />
<rect x="515.9" y="408.3" width="13.3" height="13.3" fill="rgb(255,0,0)" />
<rect x="529.1" y="408.3" width="13.3" height="13.3" fill="rgb(255,51,51)" />
<line x1="501.2" y1="414.9" x2="502.8" y2="414.9" stroke="#222" stroke-width="0.35" />
<line x1="522.5" y1="434.7" x2="522.5" y2="436.1" stroke="#222" stroke-width="0.35" />
<text x="499.5" y="416.6" font-size="4.6" text-anchor="end" fill="#111" >H3K27ac</text>
<rect x="502.8" y="421.5" width="13.3" height="13.3" fill="rgb(255,191,191)" />
<rect x="515.9" y="421.5" width="13.3" height="13.3" fill="rgb(255,51,51)" />
<rect x="529.1" y="421.5" width="13.3" height="13.3" fill="rgb(255,0,0)" />
<line x1="501.2" y1="428.1" x2="502.8" y2="428.1" stroke="#222" stroke-width="0.35" />
<line x1="535.7" y1="434.7" x2="535.7" y2="436.1" stroke="#222" stroke-width="0.35" />
<text x="499.5" y="429.7" font-size="4.6" text-anchor="end" fill="#111" >H3K27me3</text>
<rect x="545.8" y="395.2" width="2.6" height="39.5" fill="url(#bwr)" />
<line x1="548.4" y1="395.2" x2="549.3" y2="395.2" stroke="#222" stroke-width="0.3" />
<text x="549.7" y="396.3" font-size="3.2" text-anchor="start" fill="#111" >1</text>
<line x1="548.4" y1="414.9" x2="549.3" y2="414.9" stroke="#222" stroke-width="0.3" />
<text x="549.7" y="416.1" font-size="3.2" text-anchor="start" fill="#111" >0</text>
<line x1="548.4" y1="434.7" x2="549.3" y2="434.7" stroke="#222" stroke-width="0.3" />
<text x="549.7" y="435.8" font-size="3.2" text-anchor="start" fill="#111" >-1</text>
<rect x="594.1" y="395.1" width="13.2" height="13.2" fill="rgb(255,0,0)" />
<rect x="607.1" y="395.1" width="13.2" height="13.2" fill="rgb(255,25,25)" />
<rect x="620.2" y="395.1" width="13.2" height="13.2" fill="rgb(89,89,255)" />
<line x1="592.5" y1="401.7" x2="594.1" y2="401.7" stroke="#222" stroke-width="0.35" />
<line x1="600.6" y1="434.4" x2="600.6" y2="435.8" stroke="#222" stroke-width="0.35" />
<text x="590.8" y="403.3" font-size="4.6" text-anchor="end" fill="#111" >ATAC</text>
<rect x="594.1" y="408.2" width="13.2" height="13.2" fill="rgb(255,25,25)" />
<rect x="607.1" y="408.2" width="13.2" height="13.2" fill="rgb(255,0,0)" />
<rect x="620.2" y="408.2" width="13.2" height="13.2" fill="rgb(64,64,255)" />
<line x1="592.5" y1="414.8" x2="594.1" y2="414.8" stroke="#222" stroke-width="0.35" />
<line x1="613.7" y1="434.4" x2="613.7" y2="435.8" stroke="#222" stroke-width="0.35" />
<text x="590.8" y="416.4" font-size="4.6" text-anchor="end" fill="#111" >H3K27ac</text>
<rect x="594.1" y="421.3" width="13.2" height="13.2" fill="rgb(89,89,255)" />
<rect x="607.1" y="421.3" width="13.2" height="13.2" fill="rgb(64,64,255)" />
<rect x="620.2" y="421.3" width="13.2" height="13.2" fill="rgb(255,0,0)" />
<line x1="592.5" y1="427.9" x2="594.1" y2="427.9" stroke="#222" stroke-width="0.35" />
<line x1="626.8" y1="434.4" x2="626.8" y2="435.8" stroke="#222" stroke-width="0.35" />
<text x="590.8" y="429.5" font-size="4.6" text-anchor="end" fill="#111" >H3K27me3</text>
<rect x="636.8" y="395.2" width="2.6" height="39.2" fill="url(#bwr)" />
<line x1="639.4" y1="395.2" x2="640.3" y2="395.2" stroke="#222" stroke-width="0.3" />
<text x="640.7" y="396.3" font-size="3.2" text-anchor="start" fill="#111" >1</text>
<line x1="639.4" y1="414.8" x2="640.3" y2="414.8" stroke="#222" stroke-width="0.3" />
<text x="640.7" y="415.9" font-size="3.2" text-anchor="start" fill="#111" >0</text>
<line x1="639.4" y1="434.4" x2="640.3" y2="434.4" stroke="#222" stroke-width="0.3" />
<text x="640.7" y="435.5" font-size="3.2" text-anchor="start" fill="#111" >-1</text>
<text x="19.2" y="495.2" font-size="13.2" text-anchor="start" font-weight="bold" fill="#000" >d</text>
<clipPath id="hc7"><polygon points="39.6,568.6 117.6,490.6 195.8,568.6"/></clipPath>
<linearGradient id="hc7g" gradientUnits="userSpaceOnUse" x1="0" x2="0" y1="568.6" y2="532.6">
<stop offset="0.000" stop-color="rgb(255,255,255)" stop-opacity="1"/>
<stop offset="0.033" stop-color="rgb(230,230,230)" stop-opacity="1"/>
<stop offset="0.061" stop-color="rgb(153,153,153)" stop-opacity="0.9"/>
<stop offset="0.097" stop-color="rgb(107,107,107)" stop-opacity="0.7"/>
<stop offset="0.167" stop-color="rgb(92,92,92)" stop-opacity="0.45"/>
<stop offset="0.278" stop-color="rgb(76,76,76)" stop-opacity="0.25"/>
<stop offset="0.556" stop-color="rgb(71,71,71)" stop-opacity="0.1"/>
<stop offset="1.000" stop-color="rgb(64,64,64)" stop-opacity="0"/>
</linearGradient>
<g clip-path="url(#hc7)">
<g filter="url(#cm2)">
<rect x="29.6" y="480.6" width="176.2" height="98" fill="rgb(10,10,10)" />
<polygon points="37,571.6 145,571.6 91,517.6" fill="rgb(15,15,15)" filter="url(#b3)"/>
<polygon points="47,571.6 123,571.6 85,533.6" fill="rgb(22,22,22)" filter="url(#b3)" opacity="0.8"/>
<polygon points="139,571.6 199,571.6 169,541.6" fill="rgb(18,18,18)" filter="url(#b3)" opacity="0.8"/>
<polygon points="56.5,565.1 58.5,567.1 126.5,499.1 124.5,497.1" fill="rgb(28,28,28)" filter="url(#b2)" opacity="0.8"/>
<circle cx="89" cy="535.4" r="1.4949999999999999" fill="rgb(115,115,115)" filter="url(#b1)"/>
<circle cx="84" cy="541.4" r="1.2" fill="rgb(108,108,108)" filter="url(#b1)"/>
<circle cx="122.6" cy="501.8" r="1.3" fill="rgb(72,72,72)" filter="url(#b1)"/>
<circle cx="157.2" cy="536.4" r="1.3" fill="rgb(72,72,72)" filter="url(#b1)"/>
<circle cx="78" cy="548.2" r="1.2" fill="rgb(76,76,76)" filter="url(#b1)"/>
<circle cx="105" cy="562.6" r="1.5" fill="rgb(87,87,87)" filter="url(#b1)"/>
<circle cx="117.5" cy="562.1" r="1.5" fill="rgb(87,87,87)" filter="url(#b1)"/>
<rect x="29.6" y="532.6" width="176.2" height="37" fill="url(#hc7g)" />
</g>
<circle cx="89" cy="535.4" r="1" fill="#3d62ad" filter="url(#b05)"/>
<circle cx="89.2" cy="535.3" r="0.4" fill="#2f4199"/>
<polygon points="37.6,569.6 37.6,567.6 38.3,567.6 39.6,567.6 40.3,567.6 41.7,567.6 43,567.2 43.7,567.1 44.8,567.3 46.4,567.6 47,566.6 48,567.3 48.9,567.6 50.5,567.6 51.3,567.4 52.5,566.6 53.9,566.9 54.7,566.6 56.3,567.6 57.6,566.7 58.9,567.4 60.3,566.8 61.1,566.6 61.9,567.6 62.8,567.6 63.8,567.2 65.3,566.6 66.8,566.6 68.2,567.1 69,566.8 70.1,566.6 70.8,567.3 72.4,567.1 73.7,567.6 74.7,566.6 75.9,566.6 76.7,566.7 78.1,566.8 79.5,566.7 80.2,567.6 81.8,567.6 82.6,567.6 83.9,566.8 85,566.8 86.4,567.3 87.3,567 88.6,567.6 89.3,567.6 90.6,567.1 92.2,566.6 93,566.6 94.6,567 95.2,567.3 96.1,567.6 96.8,567.6 98.2,567.6 99.4,567.6 100.2,566.8 101.1,567.6 102.2,567.1 103.3,566.6 104.3,566.6 105.6,566.7 106.9,566.8 107.7,567.6 109.1,567 110.6,566.6 111.8,567.4 113.2,567.6 114.3,567.6 115.2,567.6 116.3,567.1 117.4,567.6 118.8,567 120.2,567.6 121.4,566.7 122.3,567.4 123.7,567.6 124.7,566.8 125.7,567.6 126.5,567.6 127.8,567.6 129.2,567.6 130,567.3 131.1,567.3 132.6,567.6 133.4,567.6 134.5,567.6 135.6,567.6 136.2,567.6 137.5,567.6 139,567.4 140,566.7 140.9,566.6 142.3,566.6 143.2,567.6 144.4,567.6 145.4,567.5 146.9,567.1 148.1,566.6 149,566.9 150.2,566.7 151.1,567 152.5,567.6 153.8,567.6 155.3,567.2 156.3,566.6 157.7,567.6 158.5,567.6 160.1,567.6 160.8,567.6 161.4,567.6 162.5,567.6 163.3,567.6 164.7,567.6 165.8,567.6 167.1,566.6 168.5,566.6 169.4,567.4 170.1,566.6 170.8,566.6 172.3,567 173.3,567.2 174.8,566.8 176.2,567.6 177.6,567.6 178.6,566.8 179.9,566.6 181.3,566.6 182.3,566.6 183.7,566.7 184.4,566.6 185.9,566.6 186.6,566.9 187.4,567.3 189,567.5 189.9,567.6 190.9,567.2 191.9,567.6 192.7,567.6 194.2,567.6 195.6,567.6 197,567.6 197.8,569.6" fill="#6fa3cc" transform="translate(0,-1.3)" opacity="0.75"/>
<polygon points="37.6,569.6 37.6,567.6 38.3,567.6 39.6,567.6 40.3,567.6 41.7,567.6 43,567.2 43.7,567.1 44.8,567.3 46.4,567.6 47,566.6 48,567.3 48.9,567.6 50.5,567.6 51.3,567.4 52.5,566.6 53.9,566.9 54.7,566.6 56.3,567.6 57.6,566.7 58.9,567.4 60.3,566.8 61.1,566.6 61.9,567.6 62.8,567.6 63.8,567.2 65.3,566.6 66.8,566.6 68.2,567.1 69,566.8 70.1,566.6 70.8,567.3 72.4,567.1 73.7,567.6 74.7,566.6 75.9,566.6 76.7,566.7 78.1,566.8 79.5,566.7 80.2,567.6 81.8,567.6 82.6,567.6 83.9,566.8 85,566.8 86.4,567.3 87.3,567 88.6,567.6 89.3,567.6 90.6,567.1 92.2,566.6 93,566.6 94.6,567 95.2,567.3 96.1,567.6 96.8,567.6 98.2,567.6 99.4,567.6 100.2,566.8 101.1,567.6 102.2,567.1 103.3,566.6 104.3,566.6 105.6,566.7 106.9,566.8 107.7,567.6 109.1,567 110.6,566.6 111.8,567.4 113.2,567.6 114.3,567.6 115.2,567.6 116.3,567.1 117.4,567.6 118.8,567 120.2,567.6 121.4,566.7 122.3,567.4 123.7,567.6 124.7,566.8 125.7,567.6 126.5,567.6 127.8,567.6 129.2,567.6 130,567.3 131.1,567.3 132.6,567.6 133.4,567.6 134.5,567.6 135.6,567.6 136.2,567.6 137.5,567.6 139,567.4 140,566.7 140.9,566.6 142.3,566.6 143.2,567.6 144.4,567.6 145.4,567.5 146.9,567.1 148.1,566.6 149,566.9 150.2,566.7 151.1,567 152.5,567.6 153.8,567.6 155.3,567.2 156.3,566.6 157.7,567.6 158.5,567.6 160.1,567.6 160.8,567.6 161.4,567.6 162.5,567.6 163.3,567.6 164.7,567.6 165.8,567.6 167.1,566.6 168.5,566.6 169.4,567.4 170.1,566.6 170.8,566.6 172.3,567 173.3,567.2 174.8,566.8 176.2,567.6 177.6,567.6 178.6,566.8 179.9,566.6 181.3,566.6 182.3,566.6 183.7,566.7 184.4,566.6 185.9,566.6 186.6,566.9 187.4,567.3 189,567.5 189.9,567.6 190.9,567.2 191.9,567.6 192.7,567.6 194.2,567.6 195.6,567.6 197,567.6 197.8,569.6" fill="#303c98" />
<line x1="141.5" y1="568.6" x2="70.8" y2="497.9" stroke="#fff" stroke-width="0.39" />
<line x1="92.3" y1="568.6" x2="196.2" y2="464.8" stroke="#fff" stroke-width="0.39" />
<line x1="91.5" y1="568.6" x2="45.8" y2="522.9" stroke="#fff" stroke-width="0.33" />
<line x1="144.4" y1="568.6" x2="222.2" y2="490.8" stroke="#fff" stroke-width="0.39" />
</g>
<text x="195" y="541.6" font-size="3.8" text-anchor="middle" fill="#111" >ICE norm. counts</text>
<rect x="188" y="543.1" width="16.8" height="4.6" fill="url(#cbar)" />
<text x="188" y="551.3" font-size="2.3" text-anchor="middle" fill="#111" >0</text>
<text x="203" y="551.3" font-size="2.3" text-anchor="middle" fill="#111" >0.01</text>
<line x1="38.8" y1="570" x2="38.8" y2="628" stroke="#666" stroke-width="0.3" />
<line x1="37.6" y1="571.2" x2="38.8" y2="571.2" stroke="#666" stroke-width="0.3" />
<line x1="37.6" y1="584" x2="38.8" y2="584" stroke="#666" stroke-width="0.3" />
<line x1="37.6" y1="598.5" x2="38.8" y2="598.5" stroke="#666" stroke-width="0.3" />
<line x1="37.6" y1="586" x2="38.8" y2="586" stroke="#666" stroke-width="0.3" />
<line x1="37.6" y1="613" x2="38.8" y2="613" stroke="#666" stroke-width="0.3" />
<line x1="37.6" y1="605" x2="38.8" y2="605" stroke="#666" stroke-width="0.3" />
<line x1="37.6" y1="627.4" x2="38.8" y2="627.4" stroke="#666" stroke-width="0.3" />
<line x1="37.6" y1="614" x2="38.8" y2="614" stroke="#666" stroke-width="0.3" />
<text x="37" y="572" font-size="1.8" text-anchor="end" fill="#555" >0</text>
<text x="37" y="580.5" font-size="1.8" text-anchor="end" fill="#555" >0</text>
<text x="37" y="599" font-size="1.8" text-anchor="end" fill="#555" >0</text>
<text x="37" y="613.5" font-size="1.8" text-anchor="end" fill="#555" >0</text>
<text x="37" y="628" font-size="1.8" text-anchor="end" fill="#555" >0</text>
<path d="M39.5,571.2 L39.5,571.4 L39.9,571.4 L40.3,571.7 L40.7,572.1 L41.1,571.8 L41.5,571.5 L41.9,571.6 L42.3,571.3 L42.7,571.3 L43.1,571.8 L43.5,571.3 L43.9,571.8 L44.3,571.5 L44.7,571.6 L45.1,571.3 L45.5,571.4 L45.9,571.2 L46.3,571.5 L46.7,571.6 L47.1,571.7 L47.5,571.9 L47.9,571.5 L48.3,572.1 L48.7,571.4 L49.1,571.4 L49.5,571.5 L49.9,571.3 L50.3,571.9 L50.7,571.7 L51.1,571.7 L51.5,571.9 L51.9,571.9 L52.3,571.6 L52.7,571.4 L53.1,571.8 L53.5,572.6 L53.9,572.6 L54.3,573.3 L54.7,573.8 L55.1,573.3 L55.5,573.5 L55.9,572.4 L56.3,572.6 L56.7,571.7 L57.1,571.4 L57.5,571.3 L57.9,571.7 L58.3,571.6 L58.7,571.6 L59.1,571.5 L59.5,571.2 L59.9,571.7 L60.3,571.6 L60.7,571.5 L61.1,571.4 L61.5,571.9 L61.9,571.7 L62.3,572.1 L62.7,571.2 L63.1,571.9 L63.5,571.5 L63.9,571.3 L64.3,571.3 L64.7,571.8 L65.1,571.3 L65.5,571.9 L65.9,571.8 L66.3,571.7 L66.7,572.2 L67.1,571.5 L67.5,572.2 L67.9,571.9 L68.3,571.5 L68.7,571.6 L69.1,571.9 L69.5,571.6 L69.9,571.8 L70.3,572.4 L70.7,572.0 L71.1,572.2 L71.5,571.8 L71.9,571.8 L72.3,571.8 L72.7,572.3 L73.1,571.9 L73.5,571.8 L73.9,572.1 L74.3,571.9 L74.7,572.4 L75.1,571.9 L75.5,572.4 L75.9,571.8 L76.3,571.9 L76.7,572.0 L77.1,571.8 L77.5,572.5 L77.9,571.9 L78.3,572.0 L78.7,571.5 L79.1,571.6 L79.5,571.7 L79.9,571.6 L80.3,571.6 L80.7,571.9 L81.1,571.5 L81.5,571.6 L81.9,571.6 L82.3,572.1 L82.7,571.6 L83.1,571.5 L83.5,571.9 L83.9,571.3 L84.3,571.3 L84.7,571.4 L85.1,571.4 L85.5,571.4 L85.9,571.4 L86.3,571.5 L86.7,572.2 L87.1,571.9 L87.5,571.6 L87.9,571.3 L88.3,571.6 L88.7,571.5 L89.1,571.3 L89.5,571.9 L89.9,571.4 L90.3,571.5 L90.7,571.4 L91.1,571.6 L91.5,572.1 L91.9,571.8 L92.3,571.4 L92.7,571.6 L93.1,571.3 L93.5,571.9 L93.9,571.5 L94.3,571.9 L94.7,572.4 L95.1,571.5 L95.5,572.0 L95.9,571.6 L96.3,571.9 L96.7,572.0 L97.1,572.5 L97.5,572.2 L97.9,572.3 L98.3,573.1 L98.7,572.2 L99.1,572.0 L99.5,572.2 L99.9,572.8 L100.3,572.1 L100.7,572.0 L101.1,572.0 L101.5,572.5 L101.9,572.1 L102.3,572.1 L102.7,572.1 L103.1,571.8 L103.5,571.9 L103.9,572.0 L104.3,571.9 L104.7,571.6 L105.1,571.6 L105.5,571.6 L105.9,571.9 L106.3,571.8 L106.7,571.5 L107.1,571.7 L107.5,571.4 L107.9,571.9 L108.3,571.9 L108.7,571.8 L109.1,571.9 L109.5,571.6 L109.9,572.5 L110.3,572.1 L110.7,571.7 L111.1,571.9 L111.5,572.2 L111.9,571.9 L112.3,571.9 L112.7,571.9 L113.1,572.0 L113.5,572.0 L113.9,572.6 L114.3,572.2 L114.7,572.6 L115.1,572.9 L115.5,572.9 L115.9,573.3 L116.3,573.7 L116.7,573.2 L117.1,573.5 L117.5,573.3 L117.9,573.9 L118.3,573.8 L118.7,574.2 L119.1,575.1 L119.5,575.7 L119.9,576.4 L120.3,576.1 L120.7,577.0 L121.1,578.4 L121.5,584.1 L121.9,588.5 L122.3,584.9 L122.7,578.5 L123.1,576.3 L123.5,576.6 L123.9,576.4 L124.3,575.4 L124.7,574.8 L125.1,574.9 L125.5,573.8 L125.9,573.5 L126.3,574.1 L126.7,573.3 L127.1,573.5 L127.5,573.6 L127.9,573.1 L128.3,573.0 L128.7,572.7 L129.1,572.5 L129.5,572.2 L129.9,572.4 L130.3,572.2 L130.7,572.2 L131.1,572.5 L131.5,572.8 L131.9,572.0 L132.3,571.9 L132.7,572.6 L133.1,572.2 L133.5,572.0 L133.9,571.6 L134.3,571.6 L134.7,571.6 L135.1,572.4 L135.5,571.6 L135.9,571.7 L136.3,571.5 L136.7,571.6 L137.1,571.8 L137.5,571.9 L137.9,571.4 L138.3,571.4 L138.7,571.7 L139.1,571.3 L139.5,571.4 L139.9,571.6 L140.3,571.5 L140.7,571.5 L141.1,571.7 L141.5,571.4 L141.9,571.6 L142.3,571.7 L142.7,572.2 L143.1,571.7 L143.5,571.9 L143.9,571.8 L144.3,571.8 L144.7,571.6 L145.1,571.5 L145.5,571.7 L145.9,571.6 L146.3,571.8 L146.7,571.7 L147.1,571.8 L147.5,572.1 L147.9,571.8 L148.3,571.7 L148.7,572.7 L149.1,572.1 L149.5,572.1 L149.9,571.9 L150.3,571.9 L150.7,572.1 L151.1,571.8 L151.5,572.2 L151.9,571.8 L152.3,571.8 L152.7,572.4 L153.1,572.9 L153.5,571.8 L153.9,572.2 L154.3,571.7 L154.7,571.8 L155.1,571.6 L155.5,571.6 L155.9,571.4 L156.3,571.4 L156.7,571.4 L157.1,571.6 L157.5,571.4 L157.9,572.1 L158.3,571.2 L158.7,571.8 L159.1,571.4 L159.5,571.4 L159.9,571.5 L160.3,572.3 L160.7,571.5 L161.1,571.2 L161.5,571.5 L161.9,571.6 L162.3,571.7 L162.7,571.7 L163.1,571.3 L163.5,571.3 L163.9,571.7 L164.3,571.2 L164.7,571.5 L165.1,571.7 L165.5,571.4 L165.9,571.9 L166.3,571.4 L166.7,571.4 L167.1,571.7 L167.5,571.3 L167.9,571.4 L168.3,571.7 L168.7,571.4 L169.1,571.5 L169.5,571.2 L169.9,571.5 L170.3,571.5 L170.7,571.7 L171.1,571.4 L171.5,571.9 L171.9,571.6 L172.3,572.0 L172.7,571.7 L173.1,571.7 L173.5,571.5 L173.9,571.3 L174.3,571.6 L174.7,571.7 L175.1,571.2 L175.5,571.6 L175.9,571.4 L176.3,572.2 L176.7,572.0 L177.1,572.3 L177.5,571.4 L177.9,571.9 L178.3,571.3 L178.7,571.4 L179.1,571.9 L179.5,571.4 L179.9,571.6 L180.3,571.6 L180.7,571.8 L181.1,572.3 L181.5,571.4 L181.9,571.5 L182.3,571.4 L182.7,571.4 L183.1,571.4 L183.5,572.0 L183.9,571.6 L184.3,572.1 L184.7,571.3 L185.1,571.5 L185.5,571.6 L185.9,571.5 L186.3,571.2 L186.7,571.2 L187.1,571.3 L187.5,571.2 L187.9,571.4 L188.3,571.4 L188.7,571.6 L189.1,571.3 L189.5,571.4 L189.9,571.2 L190.3,571.6 L190.7,571.6 L191.1,571.5 L191.5,572.7 L191.9,571.3 L192.3,571.3 L192.7,571.8 L193.1,571.4 L193.5,571.6 L193.9,571.5 L194.3,571.8 L194.7,571.6 L195.1,571.3 L195.5,571.6 L195.8,571.2 Z" fill="#000"/>
<line x1="39.5" y1="571.2" x2="195.8" y2="571.2" stroke="#000" stroke-width="0.35" opacity="1"/>
<line x1="39.5" y1="570.9" x2="195.8" y2="570.9" stroke="#000" stroke-width="0.6" />
<rect x="121.1" y="571" width="1.7" height="12.6" fill="#000" />
<rect x="120.5" y="571" width="2.9" height="5" fill="#000" />
<path d="M39.5,598.5 L39.5,598.5 L39.9,598.5 L40.3,598.5 L40.7,598.4 L41.1,598.5 L41.5,598.2 L41.9,598.4 L42.3,598.4 L42.7,598.5 L43.1,598.5 L43.5,598.5 L43.9,598.3 L44.3,598.4 L44.7,598.5 L45.1,598.4 L45.5,598.3 L45.9,598.2 L46.3,597.9 L46.7,597.7 L47.1,597.0 L47.5,595.2 L47.9,593.2 L48.3,592.9 L48.7,591.9 L49.1,590.3 L49.5,591.0 L49.9,592.8 L50.3,593.9 L50.7,591.2 L51.1,589.7 L51.5,585.5 L51.9,590.1 L52.3,589.6 L52.7,589.8 L53.1,591.1 L53.5,589.9 L53.9,590.5 L54.3,593.9 L54.7,593.9 L55.1,593.1 L55.5,592.6 L55.9,593.6 L56.3,592.9 L56.7,592.2 L57.1,593.6 L57.5,594.8 L57.9,594.6 L58.3,593.3 L58.7,593.7 L59.1,594.2 L59.5,595.1 L59.9,595.3 L60.3,594.3 L60.7,594.8 L61.1,594.3 L61.5,594.9 L61.9,594.8 L62.3,593.9 L62.7,593.7 L63.1,595.3 L63.5,596.6 L63.9,597.3 L64.3,597.9 L64.7,598.2 L65.1,598.0 L65.5,598.1 L65.9,597.9 L66.3,598.1 L66.7,598.1 L67.1,597.9 L67.5,598.1 L67.9,598.2 L68.3,598.1 L68.7,598.1 L69.1,598.0 L69.5,598.0 L69.9,598.2 L70.3,598.0 L70.7,598.2 L71.1,598.0 L71.5,597.9 L71.9,598.0 L72.3,598.2 L72.7,598.1 L73.1,598.0 L73.5,598.0 L73.9,598.0 L74.3,597.8 L74.7,598.1 L75.1,598.3 L75.5,598.1 L75.9,597.9 L76.3,598.1 L76.7,598.0 L77.1,598.2 L77.5,598.2 L77.9,597.7 L78.3,598.3 L78.7,598.2 L79.1,598.1 L79.5,598.1 L79.9,598.1 L80.3,598.3 L80.7,598.1 L81.1,597.9 L81.5,598.1 L81.9,598.2 L82.3,598.0 L82.7,598.0 L83.1,597.9 L83.5,598.2 L83.9,598.0 L84.3,598.1 L84.7,598.0 L85.1,597.8 L85.5,597.7 L85.9,598.0 L86.3,598.1 L86.7,598.0 L87.1,597.9 L87.5,598.1 L87.9,598.0 L88.3,598.2 L88.7,597.9 L89.1,598.3 L89.5,598.2 L89.9,597.9 L90.3,597.9 L90.7,598.0 L91.1,598.1 L91.5,598.0 L91.9,598.3 L92.3,598.2 L92.7,598.2 L93.1,598.2 L93.5,598.1 L93.9,598.1 L94.3,598.0 L94.7,597.8 L95.1,598.2 L95.5,598.3 L95.9,598.1 L96.3,598.3 L96.7,598.3 L97.1,598.5 L97.5,598.3 L97.9,598.1 L98.3,598.0 L98.7,597.1 L99.1,596.9 L99.5,597.3 L99.9,597.9 L100.3,597.4 L100.7,597.1 L101.1,597.6 L101.5,597.5 L101.9,597.5 L102.3,597.7 L102.7,597.4 L103.1,597.1 L103.5,597.8 L103.9,597.5 L104.3,597.4 L104.7,597.1 L105.1,597.2 L105.5,597.7 L105.9,597.7 L106.3,597.1 L106.7,596.9 L107.1,597.9 L107.5,596.9 L107.9,597.4 L108.3,597.0 L108.7,597.5 L109.1,596.9 L109.5,597.1 L109.9,597.0 L110.3,597.1 L110.7,597.1 L111.1,597.1 L111.5,597.7 L111.9,597.5 L112.3,597.2 L112.7,597.4 L113.1,597.5 L113.5,597.8 L113.9,597.9 L114.3,597.1 L114.7,597.0 L115.1,597.2 L115.5,597.7 L115.9,596.9 L116.3,596.9 L116.7,596.9 L117.1,597.7 L117.5,596.9 L117.9,597.4 L118.3,597.4 L118.7,596.3 L119.1,596.8 L119.5,596.4 L119.9,596.6 L120.3,596.3 L120.7,596.0 L121.1,596.0 L121.5,595.0 L121.9,596.0 L122.3,595.6 L122.7,595.5 L123.1,596.3 L123.5,595.9 L123.9,596.9 L124.3,596.3 L124.7,596.2 L125.1,596.4 L125.5,596.3 L125.9,596.5 L126.3,596.8 L126.7,596.7 L127.1,596.3 L127.5,595.5 L127.9,596.3 L128.3,595.8 L128.7,596.3 L129.1,596.4 L129.5,596.2 L129.9,596.7 L130.3,597.0 L130.7,596.7 L131.1,597.4 L131.5,596.7 L131.9,597.3 L132.3,597.5 L132.7,597.2 L133.1,597.2 L133.5,596.5 L133.9,597.1 L134.3,597.8 L134.7,596.7 L135.1,597.7 L135.5,597.4 L135.9,597.0 L136.3,597.0 L136.7,597.2 L137.1,596.9 L137.5,596.9 L137.9,597.3 L138.3,597.0 L138.7,597.7 L139.1,597.8 L139.5,598.2 L139.9,598.4 L140.3,598.2 L140.7,598.2 L141.1,598.0 L141.5,597.6 L141.9,597.6 L142.3,597.7 L142.7,597.7 L143.1,597.8 L143.5,597.9 L143.9,597.9 L144.3,597.8 L144.7,597.8 L145.1,597.6 L145.5,597.5 L145.9,597.9 L146.3,598.2 L146.7,597.9 L147.1,598.1 L147.5,597.6 L147.9,597.6 L148.3,597.8 L148.7,598.2 L149.1,597.9 L149.5,597.5 L149.9,597.8 L150.3,597.7 L150.7,597.9 L151.1,597.8 L151.5,597.7 L151.9,597.9 L152.3,597.6 L152.7,597.9 L153.1,597.6 L153.5,597.8 L153.9,597.3 L154.3,597.9 L154.7,597.9 L155.1,597.8 L155.5,597.9 L155.9,597.7 L156.3,597.7 L156.7,598.1 L157.1,597.8 L157.5,598.1 L157.9,597.9 L158.3,597.6 L158.7,598.0 L159.1,597.7 L159.5,597.6 L159.9,598.1 L160.3,597.8 L160.7,597.5 L161.1,597.6 L161.5,597.5 L161.9,597.7 L162.3,597.9 L162.7,597.6 L163.1,598.0 L163.5,597.6 L163.9,597.7 L164.3,597.9 L164.7,597.7 L165.1,597.8 L165.5,598.1 L165.9,598.0 L166.3,597.6 L166.7,597.5 L167.1,597.7 L167.5,597.6 L167.9,597.5 L168.3,597.9 L168.7,597.9 L169.1,597.7 L169.5,597.6 L169.9,597.7 L170.3,597.8 L170.7,597.6 L171.1,597.9 L171.5,597.7 L171.9,597.5 L172.3,597.9 L172.7,597.7 L173.1,598.2 L173.5,597.8 L173.9,597.4 L174.3,597.5 L174.7,597.8 L175.1,597.7 L175.5,597.5 L175.9,598.1 L176.3,598.0 L176.7,598.0 L177.1,597.6 L177.5,598.1 L177.9,597.5 L178.3,597.9 L178.7,597.9 L179.1,598.0 L179.5,597.8 L179.9,597.7 L180.3,597.9 L180.7,597.9 L181.1,597.8 L181.5,597.9 L181.9,597.9 L182.3,597.9 L182.7,597.9 L183.1,597.4 L183.5,597.7 L183.9,597.5 L184.3,597.6 L184.7,598.1 L185.1,597.6 L185.5,597.9 L185.9,598.0 L186.3,597.6 L186.7,597.6 L187.1,597.7 L187.5,597.6 L187.9,597.6 L188.3,597.8 L188.7,597.6 L189.1,597.7 L189.5,598.0 L189.9,597.5 L190.3,597.8 L190.7,597.8 L191.1,597.6 L191.5,597.5 L191.9,598.0 L192.3,597.8 L192.7,597.4 L193.1,597.5 L193.5,597.5 L193.9,597.7 L194.3,598.0 L194.7,597.7 L195.1,598.1 L195.5,597.9 L195.8,598.5 Z" fill="#f20d0d"/>
<line x1="39.5" y1="598.5" x2="195.8" y2="598.5" stroke="#f20d0d" stroke-width="0.35" opacity="0.6"/>
<path d="M39.5,613 L39.5,612.5 L39.9,611.2 L40.3,612.1 L40.7,612.6 L41.1,612.7 L41.5,613.0 L41.9,612.7 L42.3,612.6 L42.7,612.6 L43.1,612.9 L43.5,612.9 L43.9,612.9 L44.3,612.7 L44.7,612.6 L45.1,612.9 L45.5,612.9 L45.9,612.7 L46.3,613.0 L46.7,613.0 L47.1,612.6 L47.5,612.6 L47.9,612.6 L48.3,612.0 L48.7,611.7 L49.1,611.8 L49.5,612.1 L49.9,612.2 L50.3,611.9 L50.7,612.2 L51.1,611.6 L51.5,611.9 L51.9,611.8 L52.3,612.0 L52.7,612.3 L53.1,611.6 L53.5,612.1 L53.9,611.4 L54.3,612.0 L54.7,611.5 L55.1,612.3 L55.5,612.0 L55.9,612.4 L56.3,612.1 L56.7,612.1 L57.1,611.9 L57.5,611.8 L57.9,611.5 L58.3,611.6 L58.7,611.9 L59.1,612.0 L59.5,611.5 L59.9,611.8 L60.3,612.0 L60.7,611.3 L61.1,611.0 L61.5,609.6 L61.9,610.4 L62.3,610.5 L62.7,610.2 L63.1,609.8 L63.5,610.9 L63.9,611.7 L64.3,612.5 L64.7,612.4 L65.1,612.2 L65.5,612.3 L65.9,612.1 L66.3,611.9 L66.7,612.3 L67.1,612.0 L67.5,612.5 L67.9,611.7 L68.3,612.1 L68.7,612.2 L69.1,612.0 L69.5,611.5 L69.9,610.6 L70.3,610.2 L70.7,610.2 L71.1,611.0 L71.5,611.1 L71.9,611.4 L72.3,611.9 L72.7,611.9 L73.1,611.3 L73.5,611.2 L73.9,610.9 L74.3,611.1 L74.7,611.7 L75.1,611.9 L75.5,612.2 L75.9,612.0 L76.3,611.5 L76.7,610.8 L77.1,611.0 L77.5,611.6 L77.9,611.9 L78.3,612.1 L78.7,612.2 L79.1,612.1 L79.5,612.3 L79.9,611.7 L80.3,611.6 L80.7,610.8 L81.1,611.0 L81.5,611.5 L81.9,611.5 L82.3,611.6 L82.7,611.8 L83.1,612.5 L83.5,612.6 L83.9,612.8 L84.3,612.8 L84.7,612.5 L85.1,612.4 L85.5,612.5 L85.9,612.6 L86.3,612.3 L86.7,612.5 L87.1,612.5 L87.5,612.3 L87.9,612.7 L88.3,612.8 L88.7,612.5 L89.1,612.7 L89.5,612.6 L89.9,612.5 L90.3,612.4 L90.7,612.5 L91.1,612.6 L91.5,612.6 L91.9,612.8 L92.3,612.5 L92.7,612.8 L93.1,612.4 L93.5,612.5 L93.9,612.1 L94.3,612.3 L94.7,612.4 L95.1,612.4 L95.5,612.6 L95.9,612.8 L96.3,612.7 L96.7,612.7 L97.1,612.5 L97.5,612.7 L97.9,612.6 L98.3,612.1 L98.7,611.7 L99.1,611.4 L99.5,611.9 L99.9,612.2 L100.3,612.5 L100.7,612.4 L101.1,612.6 L101.5,612.3 L101.9,612.4 L102.3,612.6 L102.7,612.5 L103.1,612.3 L103.5,612.6 L103.9,612.8 L104.3,612.6 L104.7,612.5 L105.1,612.3 L105.5,612.6 L105.9,612.6 L106.3,612.4 L106.7,612.5 L107.1,612.6 L107.5,612.4 L107.9,612.4 L108.3,612.4 L108.7,612.5 L109.1,612.3 L109.5,612.6 L109.9,612.6 L110.3,612.3 L110.7,611.1 L111.1,610.9 L111.5,612.1 L111.9,612.6 L112.3,612.5 L112.7,612.7 L113.1,612.4 L113.5,611.9 L113.9,612.1 L114.3,612.4 L114.7,612.6 L115.1,612.5 L115.5,612.4 L115.9,612.5 L116.3,612.4 L116.7,612.5 L117.1,612.5 L117.5,612.6 L117.9,612.5 L118.3,612.6 L118.7,612.6 L119.1,612.8 L119.5,612.5 L119.9,612.8 L120.3,612.7 L120.7,612.7 L121.1,612.3 L121.5,612.7 L121.9,612.3 L122.3,612.7 L122.7,612.3 L123.1,612.6 L123.5,612.4 L123.9,612.0 L124.3,612.5 L124.7,612.5 L125.1,612.3 L125.5,612.4 L125.9,612.5 L126.3,612.3 L126.7,612.5 L127.1,612.5 L127.5,612.5 L127.9,612.6 L128.3,612.6 L128.7,612.5 L129.1,612.5 L129.5,612.4 L129.9,612.7 L130.3,612.4 L130.7,612.6 L131.1,612.4 L131.5,612.5 L131.9,612.7 L132.3,612.7 L132.7,612.3 L133.1,612.5 L133.5,612.4 L133.9,612.4 L134.3,612.7 L134.7,612.4 L135.1,612.6 L135.5,612.4 L135.9,612.4 L136.3,612.6 L136.7,612.4 L137.1,612.6 L137.5,612.6 L137.9,612.4 L138.3,612.8 L138.7,612.3 L139.1,612.7 L139.5,612.1 L139.9,612.5 L140.3,612.6 L140.7,612.4 L141.1,612.5 L141.5,612.5 L141.9,612.8 L142.3,612.6 L142.7,612.5 L143.1,612.5 L143.5,612.6 L143.9,612.8 L144.3,612.3 L144.7,612.2 L145.1,612.6 L145.5,612.5 L145.9,612.6 L146.3,612.5 L146.7,612.2 L147.1,612.6 L147.5,612.6 L147.9,612.7 L148.3,612.8 L148.7,612.3 L149.1,612.6 L149.5,612.7 L149.9,612.5 L150.3,612.3 L150.7,612.7 L151.1,612.7 L151.5,612.5 L151.9,612.6 L152.3,612.5 L152.7,612.4 L153.1,612.5 L153.5,612.3 L153.9,612.5 L154.3,612.6 L154.7,612.8 L155.1,612.5 L155.5,612.7 L155.9,612.2 L156.3,612.8 L156.7,612.6 L157.1,612.6 L157.5,612.2 L157.9,612.4 L158.3,612.1 L158.7,612.7 L159.1,612.7 L159.5,612.4 L159.9,612.3 L160.3,612.6 L160.7,612.5 L161.1,612.6 L161.5,612.3 L161.9,612.3 L162.3,612.1 L162.7,612.6 L163.1,612.6 L163.5,612.3 L163.9,612.7 L164.3,612.5 L164.7,612.4 L165.1,612.7 L165.5,612.5 L165.9,612.2 L166.3,612.8 L166.7,612.5 L167.1,612.5 L167.5,612.3 L167.9,612.7 L168.3,612.5 L168.7,612.6 L169.1,612.6 L169.5,612.7 L169.9,612.6 L170.3,612.8 L170.7,612.2 L171.1,612.6 L171.5,612.8 L171.9,612.8 L172.3,612.4 L172.7,612.3 L173.1,612.5 L173.5,612.3 L173.9,612.3 L174.3,612.5 L174.7,612.5 L175.1,612.3 L175.5,612.5 L175.9,612.5 L176.3,612.6 L176.7,612.5 L177.1,612.7 L177.5,612.6 L177.9,612.2 L178.3,612.5 L178.7,612.7 L179.1,612.7 L179.5,612.7 L179.9,612.6 L180.3,612.2 L180.7,612.5 L181.1,612.6 L181.5,612.4 L181.9,612.6 L182.3,612.5 L182.7,612.7 L183.1,612.1 L183.5,612.3 L183.9,612.5 L184.3,612.4 L184.7,612.5 L185.1,612.8 L185.5,612.3 L185.9,612.5 L186.3,612.6 L186.7,612.4 L187.1,612.7 L187.5,612.5 L187.9,612.3 L188.3,612.4 L188.7,612.5 L189.1,612.6 L189.5,612.5 L189.9,612.6 L190.3,612.4 L190.7,612.6 L191.1,612.4 L191.5,612.6 L191.9,612.2 L192.3,612.6 L192.7,612.7 L193.1,612.6 L193.5,611.6 L193.9,610.5 L194.3,610.4 L194.7,612.2 L195.1,612.5 L195.5,612.9 L195.8,613 Z" fill="#118a11"/>
<line x1="39.5" y1="613" x2="195.8" y2="613" stroke="#118a11" stroke-width="0.35" opacity="0.6"/>
<path d="M39.5,627.4 L39.5,619.4 L39.9,617.7 L40.3,626.7 L40.7,627.4 L41.1,627.3 L41.5,627.3 L41.9,627.2 L42.3,627.4 L42.7,627.3 L43.1,627.3 L43.5,627.4 L43.9,627.3 L44.3,627.2 L44.7,627.3 L45.1,627.4 L45.5,627.4 L45.9,627.4 L46.3,627.4 L46.7,627.3 L47.1,627.4 L47.5,627.2 L47.9,627.2 L48.3,627.3 L48.7,627.4 L49.1,627.1 L49.5,627.4 L49.9,627.4 L50.3,627.1 L50.7,626.4 L51.1,626.3 L51.5,626.8 L51.9,627.1 L52.3,627.3 L52.7,627.3 L53.1,627.2 L53.5,627.3 L53.9,627.2 L54.3,626.4 L54.7,624.6 L55.1,625.0 L55.5,626.7 L55.9,627.2 L56.3,627.3 L56.7,626.3 L57.1,621.6 L57.5,622.5 L57.9,626.3 L58.3,625.8 L58.7,622.8 L59.1,625.8 L59.5,627.3 L59.9,627.2 L60.3,627.1 L60.7,623.6 L61.1,616.3 L61.5,616.3 L61.9,624.0 L62.3,627.1 L62.7,626.5 L63.1,620.4 L63.5,616.9 L63.9,624.4 L64.3,627.0 L64.7,627.3 L65.1,627.2 L65.5,627.4 L65.9,627.4 L66.3,627.2 L66.7,627.4 L67.1,627.4 L67.5,627.4 L67.9,627.3 L68.3,627.2 L68.7,627.2 L69.1,627.4 L69.5,627.3 L69.9,627.3 L70.3,626.4 L70.7,619.9 L71.1,618.9 L71.5,624.1 L71.9,624.9 L72.3,623.9 L72.7,626.4 L73.1,627.3 L73.5,627.0 L73.9,623.7 L74.3,621.6 L74.7,625.9 L75.1,627.3 L75.5,627.3 L75.9,627.3 L76.3,627.4 L76.7,627.3 L77.1,627.3 L77.5,627.3 L77.9,627.3 L78.3,627.2 L78.7,627.2 L79.1,627.4 L79.5,627.4 L79.9,627.4 L80.3,627.3 L80.7,627.3 L81.1,627.2 L81.5,627.1 L81.9,626.5 L82.3,627.0 L82.7,627.4 L83.1,627.3 L83.5,627.2 L83.9,627.3 L84.3,627.4 L84.7,627.3 L85.1,627.3 L85.5,627.3 L85.9,627.3 L86.3,627.3 L86.7,627.4 L87.1,627.2 L87.5,627.3 L87.9,627.3 L88.3,627.3 L88.7,627.3 L89.1,627.4 L89.5,627.3 L89.9,627.3 L90.3,627.2 L90.7,627.2 L91.1,627.4 L91.5,627.4 L91.9,627.4 L92.3,627.4 L92.7,627.3 L93.1,627.3 L93.5,627.4 L93.9,627.3 L94.3,627.4 L94.7,627.2 L95.1,627.4 L95.5,627.4 L95.9,627.3 L96.3,627.3 L96.7,627.3 L97.1,627.3 L97.5,627.2 L97.9,627.3 L98.3,627.0 L98.7,626.2 L99.1,625.5 L99.5,626.6 L99.9,627.1 L100.3,627.1 L100.7,627.4 L101.1,627.3 L101.5,627.4 L101.9,627.4 L102.3,627.1 L102.7,627.3 L103.1,627.4 L103.5,627.4 L103.9,627.4 L104.3,627.2 L104.7,627.4 L105.1,627.2 L105.5,627.3 L105.9,627.1 L106.3,627.4 L106.7,627.4 L107.1,627.3 L107.5,627.3 L107.9,627.3 L108.3,627.4 L108.7,627.4 L109.1,627.2 L109.5,627.4 L109.9,627.4 L110.3,627.4 L110.7,627.3 L111.1,626.8 L111.5,624.2 L111.9,626.0 L112.3,627.2 L112.7,627.3 L113.1,627.3 L113.5,627.4 L113.9,627.3 L114.3,627.3 L114.7,627.3 L115.1,627.4 L115.5,627.4 L115.9,627.3 L116.3,627.4 L116.7,627.2 L117.1,627.4 L117.5,627.4 L117.9,627.2 L118.3,627.4 L118.7,627.3 L119.1,627.4 L119.5,627.2 L119.9,627.4 L120.3,627.4 L120.7,627.4 L121.1,627.4 L121.5,627.3 L121.9,627.3 L122.3,626.9 L122.7,625.1 L123.1,627.0 L123.5,627.3 L123.9,627.4 L124.3,627.2 L124.7,625.8 L125.1,627.2 L125.5,627.3 L125.9,627.2 L126.3,627.4 L126.7,627.3 L127.1,627.4 L127.5,627.4 L127.9,627.1 L128.3,627.4 L128.7,627.3 L129.1,627.4 L129.5,627.4 L129.9,627.1 L130.3,627.2 L130.7,627.2 L131.1,627.3 L131.5,627.4 L131.9,627.2 L132.3,627.3 L132.7,627.2 L133.1,627.1 L133.5,627.4 L133.9,627.3 L134.3,627.4 L134.7,627.3 L135.1,627.3 L135.5,627.3 L135.9,627.3 L136.3,627.3 L136.7,627.3 L137.1,627.4 L137.5,627.4 L137.9,627.4 L138.3,627.4 L138.7,627.3 L139.1,627.3 L139.5,627.3 L139.9,627.4 L140.3,627.3 L140.7,627.3 L141.1,627.3 L141.5,627.3 L141.9,627.4 L142.3,627.4 L142.7,627.3 L143.1,627.3 L143.5,627.3 L143.9,627.3 L144.3,627.4 L144.7,627.3 L145.1,627.3 L145.5,627.4 L145.9,627.3 L146.3,627.3 L146.7,627.3 L147.1,627.2 L147.5,627.1 L147.9,627.3 L148.3,627.3 L148.7,627.4 L149.1,627.3 L149.5,627.2 L149.9,626.5 L150.3,626.9 L150.7,627.4 L151.1,627.3 L151.5,627.4 L151.9,627.2 L152.3,627.3 L152.7,627.2 L153.1,627.2 L153.5,627.2 L153.9,627.3 L154.3,627.4 L154.7,627.3 L155.1,627.4 L155.5,627.3 L155.9,627.3 L156.3,627.4 L156.7,627.2 L157.1,627.4 L157.5,627.2 L157.9,627.3 L158.3,627.4 L158.7,627.3 L159.1,627.3 L159.5,627.3 L159.9,627.4 L160.3,627.3 L160.7,627.4 L161.1,627.1 L161.5,627.4 L161.9,627.4 L162.3,627.4 L162.7,627.4 L163.1,627.4 L163.5,627.3 L163.9,627.3 L164.3,627.3 L164.7,627.4 L165.1,627.1 L165.5,627.3 L165.9,627.4 L166.3,627.4 L166.7,627.4 L167.1,627.3 L167.5,627.4 L167.9,627.4 L168.3,627.3 L168.7,627.3 L169.1,627.3 L169.5,627.0 L169.9,626.6 L170.3,626.9 L170.7,627.3 L171.1,627.4 L171.5,627.4 L171.9,627.3 L172.3,627.3 L172.7,627.3 L173.1,627.4 L173.5,627.3 L173.9,627.4 L174.3,627.3 L174.7,627.3 L175.1,627.3 L175.5,627.4 L175.9,627.3 L176.3,627.3 L176.7,627.4 L177.1,627.3 L177.5,627.2 L177.9,627.3 L178.3,627.3 L178.7,627.2 L179.1,627.3 L179.5,627.3 L179.9,627.4 L180.3,627.4 L180.7,627.2 L181.1,627.3 L181.5,627.3 L181.9,627.4 L182.3,627.2 L182.7,627.2 L183.1,627.3 L183.5,627.4 L183.9,627.3 L184.3,627.2 L184.7,627.3 L185.1,627.4 L185.5,627.4 L185.9,627.3 L186.3,627.4 L186.7,627.4 L187.1,627.3 L187.5,627.4 L187.9,627.3 L188.3,627.3 L188.7,627.3 L189.1,627.4 L189.5,627.3 L189.9,627.3 L190.3,627.2 L190.7,627.3 L191.1,627.4 L191.5,627.4 L191.9,627.3 L192.3,627.1 L192.7,627.0 L193.1,624.4 L193.5,620.3 L193.9,624.3 L194.3,626.9 L194.7,625.2 L195.1,626.2 L195.5,627.3 L195.8,627.4 Z" fill="#2a2aee"/>
<line x1="39.5" y1="627.4" x2="195.8" y2="627.4" stroke="#2a2aee" stroke-width="0.35" opacity="0.6"/>
<path d="M54,627.6 C59.4,636.9 93.6,636.9 99,627.6" fill="none" stroke="#8a8a8a" stroke-width="0.3"/>
<path d="M54.5,627.6 C61.4,639.6 104.7,639.6 111.6,627.6" fill="none" stroke="#8a8a8a" stroke-width="0.3"/>
<path d="M55,627.6 C63.1,642.2 114.6,642.2 122.7,627.6" fill="none" stroke="#8a8a8a" stroke-width="0.3"/>
<path d="M55.5,627.6 C72,662.2 176.5,662.2 193,627.6" fill="none" stroke="#8a8a8a" stroke-width="0.3"/>
<path d="M53.5,627.6 C70.1,658.2 175.4,658.2 192,627.6" fill="none" stroke="#8a8a8a" stroke-width="0.3"/>
<path d="M122.7,627.6 C131.1,643.6 184.6,643.6 193,627.6" fill="none" stroke="#8a8a8a" stroke-width="0.3"/>
<path d="M145,627.6 C150.8,639.6 187.7,639.6 193.5,627.6" fill="none" stroke="#8a8a8a" stroke-width="0.3"/>
<path d="M99,627.6 C101.8,634.2 119.2,634.2 122,627.6" fill="none" stroke="#8a8a8a" stroke-width="0.3"/>
<path d="M111.6,627.6 C112.9,631.6 121.4,631.6 122.7,627.6" fill="none" stroke="#8a8a8a" stroke-width="0.3"/>
<path d="M56,627.6 C58.4,632.9 73.6,632.9 76,627.6" fill="none" stroke="#8a8a8a" stroke-width="0.3"/>
<path d="M38.9,637.6 C46,635.6 51,631.6 53,627.6" fill="none" stroke="#8a8a8a" stroke-width="0.3"/>
<path d="M38.9,639.1 C46,637.1 51,631.6 53.3,627.6" fill="none" stroke="#8a8a8a" stroke-width="0.3"/>
<path d="M38.9,640.6 C46,638.6 51,631.6 53.6,627.6" fill="none" stroke="#8a8a8a" stroke-width="0.3"/>
<path d="M38.9,642.1 C46,640.1 51,631.6 53.9,627.6" fill="none" stroke="#8a8a8a" stroke-width="0.3"/>
<path d="M38.9,644.6 C46,642.6 51,631.6 54.2,627.6" fill="none" stroke="#8a8a8a" stroke-width="0.3"/>
<rect x="56.2" y="663.1" width="12.3" height="10.4" fill="none" stroke="#e8382c" stroke-width="0.7"/>
<line x1="58.2" y1="668.4" x2="66.6" y2="668.4" stroke="#222" stroke-width="1.6" />
<rect x="59.2" y="667.6" width="6.2" height="1.6" fill="#ddd" />
<line x1="103.5" y1="668.4" x2="146" y2="668.4" stroke="#444" stroke-width="0.35" />
<line x1="103.5" y1="666.7" x2="103.5" y2="670.1" stroke="#333" stroke-width="0.4" />
<line x1="122.7" y1="666.7" x2="122.7" y2="670.1" stroke="#333" stroke-width="0.4" />
<line x1="124.3" y1="666.7" x2="124.3" y2="670.1" stroke="#333" stroke-width="0.4" />
<line x1="141.7" y1="666.7" x2="141.7" y2="670.1" stroke="#333" stroke-width="0.4" />
<line x1="146" y1="666.7" x2="146" y2="670.1" stroke="#333" stroke-width="0.4" />
<text x="147" y="669.2" font-size="2.2" text-anchor="start" fill="#333" >LINC01117</text>
<rect x="119.4" y="674.6" width="17" height="6.3" fill="none" stroke="#e8382c" stroke-width="0.7"/>
<line x1="121.5" y1="675.9" x2="121.5" y2="679.9" stroke="#111" stroke-width="0.8" />
<text x="122.8" y="679" font-size="2.7" text-anchor="start" fill="#333" >LINC01116</text>
<line x1="39" y1="681.7" x2="195.8" y2="681.7" stroke="#444" stroke-width="0.3" />
<line x1="39" y1="681.7" x2="39" y2="682.6" stroke="#444" stroke-width="0.3" />
<text x="39" y="686.2" font-size="2.4" text-anchor="middle" fill="#333" >175.0</text>
<line x1="65" y1="681.7" x2="65" y2="682.6" stroke="#444" stroke-width="0.3" />
<text x="65" y="686.2" font-size="2.4" text-anchor="middle" fill="#333" >175.2</text>
<line x1="91" y1="681.7" x2="91" y2="682.6" stroke="#444" stroke-width="0.3" />
<text x="91" y="686.2" font-size="2.4" text-anchor="middle" fill="#333" >175.4</text>
<line x1="117" y1="681.7" x2="117" y2="682.6" stroke="#444" stroke-width="0.3" />
<text x="117" y="686.2" font-size="2.4" text-anchor="middle" fill="#333" >175.6</text>
<line x1="143" y1="681.7" x2="143" y2="682.6" stroke="#444" stroke-width="0.3" />
<text x="143" y="686.2" font-size="2.4" text-anchor="middle" fill="#333" >175.8</text>
<line x1="169" y1="681.7" x2="169" y2="682.6" stroke="#444" stroke-width="0.3" />
<text x="169" y="686.2" font-size="2.4" text-anchor="middle" fill="#333" >177.0 Mbp</text>
<line x1="195" y1="681.7" x2="195" y2="682.6" stroke="#444" stroke-width="0.3" />
<text x="195" y="686.2" font-size="2.4" text-anchor="middle" fill="#333" >177.2</text>
<text x="221.5" y="573.6" font-size="5.2" text-anchor="middle" fill="#111" >Virtual 4c</text>
<text x="222" y="580" font-size="5.2" text-anchor="middle" fill="#111" >(LINC01116 anchor)</text>
<text x="200.7" y="596.5" font-size="5.2" text-anchor="start" fill="#111" >H3K27me3</text>
<text x="200.7" y="611.4" font-size="5.2" text-anchor="start" fill="#111" >H3K27ac</text>
<text x="200.7" y="626.5" font-size="5.2" text-anchor="start" fill="#111" >ATAC</text>
<text x="200.7" y="643.8" font-size="5.2" text-anchor="start" fill="#111" >Loops</text>
<text x="200.7" y="680.4" font-size="5.2" text-anchor="start" fill="#111" >Genes</text>
<text x="250.6" y="511.6" font-size="13.2" text-anchor="start" font-weight="bold" fill="#000" >e</text>
<text x="321" y="524.6" font-size="4.8" text-anchor="middle" fill="#111" >H3K27me3</text>
<text x="457" y="524.6" font-size="4.8" text-anchor="middle" fill="#111" >H3K27ac</text>
<text x="593.6" y="524.6" font-size="4.8" text-anchor="middle" fill="#111" >ATAC</text>
<text transform="translate(252.8,532.7) rotate(-90)" font-size="3.6" text-anchor="middle" fill="#222">SC</text>
<text transform="translate(252.8,593) rotate(-90)" font-size="3.6" text-anchor="middle" fill="#222">Cortex</text>
<text x="257.1" y="528.6" font-size="2.2" text-anchor="start" fill="#333" >[0-80]</text>
<path d="M255.9,540.4 L255.9,540.3 L256.3,539.9 L256.7,539.8 L257.1,539.9 L257.5,539.8 L257.9,539.7 L258.3,540.2 L258.7,539.4 L259.1,539.8 L259.5,539.7 L259.9,539.6 L260.3,539.9 L260.7,540.0 L261.1,539.8 L261.5,540.0 L261.9,539.6 L262.3,539.4 L262.7,539.6 L263.1,539.8 L263.5,540.0 L263.9,539.9 L264.3,539.5 L264.7,539.9 L265.1,540.1 L265.5,539.9 L265.9,539.7 L266.3,539.5 L266.7,539.9 L267.1,539.9 L267.5,539.8 L267.9,540.0 L268.3,540.4 L268.7,539.6 L269.1,540.1 L269.5,540.0 L269.9,540.0 L270.3,540.3 L270.7,540.0 L271.1,540.3 L271.5,540.4 L271.9,540.3 L272.3,540.4 L272.7,539.7 L273.1,540.1 L273.5,539.9 L273.9,540.2 L274.3,540.4 L274.7,540.2 L275.1,540.1 L275.5,540.3 L275.9,540.1 L276.3,540.2 L276.7,540.2 L277.1,540.0 L277.5,540.4 L277.9,540.4 L278.3,540.2 L278.7,540.0 L279.1,540.4 L279.5,540.4 L279.9,540.3 L280.3,540.1 L280.7,540.1 L281.1,539.9 L281.5,540.3 L281.9,540.2 L282.3,540.0 L282.7,540.3 L283.1,540.2 L283.5,540.1 L283.9,540.3 L284.3,539.9 L284.7,539.9 L285.1,540.2 L285.5,540.2 L285.9,540.4 L286.3,540.1 L286.7,539.8 L287.1,539.9 L287.5,539.7 L287.9,539.4 L288.3,539.3 L288.7,539.8 L289.1,539.7 L289.5,539.2 L289.9,538.3 L290.3,537.9 L290.7,535.1 L291.1,534.2 L291.5,532.6 L291.9,535.4 L292.3,536.3 L292.7,533.8 L293.1,533.3 L293.5,532.2 L293.9,534.3 L294.3,533.5 L294.7,533.5 L295.1,532.8 L295.5,530.5 L295.9,533.5 L296.3,535.1 L296.7,535.1 L297.1,531.4 L297.5,534.5 L297.9,535.2 L298.3,535.4 L298.7,535.1 L299.1,534.0 L299.5,534.6 L299.9,536.0 L300.3,535.9 L300.7,535.7 L301.1,536.7 L301.5,535.1 L301.9,535.3 L302.3,536.2 L302.7,536.5 L303.1,538.6 L303.5,537.5 L303.9,538.0 L304.3,538.1 L304.7,538.6 L305.1,537.8 L305.5,538.2 L305.9,537.6 L306.3,538.2 L306.7,539.1 L307.1,537.0 L307.5,538.0 L307.9,536.8 L308.3,537.8 L308.7,538.2 L309.1,538.5 L309.5,538.8 L309.9,537.2 L310.3,537.7 L310.7,538.8 L311.1,538.4 L311.5,539.5 L311.9,539.5 L312.3,539.6 L312.7,539.3 L313.1,539.9 L313.5,540.3 L313.9,539.7 L314.3,540.4 L314.7,540.2 L315.1,540.3 L315.5,540.2 L315.9,540.0 L316.3,539.8 L316.7,540.1 L317.1,539.9 L317.5,540.0 L317.9,540.0 L318.3,540.2 L318.7,539.9 L319.1,540.0 L319.5,540.2 L319.9,540.0 L320.3,540.0 L320.7,540.0 L321.1,539.9 L321.5,539.7 L321.9,540.1 L322.3,540.2 L322.7,540.0 L323.1,540.0 L323.5,540.0 L323.9,539.8 L324.3,540.1 L324.7,540.0 L325.1,540.1 L325.5,540.0 L325.9,540.1 L326.3,540.0 L326.7,540.0 L327.1,539.9 L327.5,540.0 L327.9,539.9 L328.3,539.7 L328.7,539.8 L329.1,539.9 L329.5,540.0 L329.9,539.7 L330.3,539.8 L330.7,540.0 L331.1,540.2 L331.5,539.9 L331.9,539.8 L332.3,540.0 L332.7,540.1 L333.1,540.1 L333.5,540.2 L333.9,539.5 L334.3,539.8 L334.7,540.2 L335.1,540.1 L335.5,540.1 L335.9,540.1 L336.3,540.0 L336.7,539.9 L337.1,539.9 L337.5,539.8 L337.9,540.2 L338.3,539.8 L338.7,540.0 L339.1,539.8 L339.5,540.0 L339.9,540.2 L340.3,539.7 L340.7,540.2 L341.1,539.7 L341.5,540.0 L341.9,540.2 L342.3,539.7 L342.7,539.9 L343.1,540.1 L343.5,540.0 L343.9,539.9 L344.3,539.8 L344.7,540.2 L345.1,539.8 L345.5,540.2 L345.9,540.0 L346.3,540.1 L346.7,539.9 L347.1,540.2 L347.5,539.9 L347.9,539.9 L348.3,540.2 L348.7,540.1 L349.1,540.1 L349.5,540.0 L349.9,540.1 L350.3,539.7 L350.7,539.7 L351.1,540.1 L351.5,539.9 L351.9,540.1 L352.3,540.0 L352.7,540.2 L353.1,540.0 L353.5,540.1 L353.9,540.0 L354.3,540.1 L354.7,539.8 L355.1,538.9 L355.5,539.3 L355.9,539.5 L356.3,538.9 L356.7,539.5 L357.1,539.6 L357.5,539.6 L357.9,539.6 L358.3,539.7 L358.7,539.4 L359.1,539.2 L359.5,539.4 L359.9,539.8 L360.3,539.6 L360.7,539.7 L361.1,539.7 L361.5,539.1 L361.9,539.7 L362.3,539.5 L362.7,539.0 L363.1,539.6 L363.5,539.8 L363.9,539.3 L364.3,539.9 L364.7,539.3 L365.1,538.8 L365.5,539.5 L365.9,539.2 L366.3,539.5 L366.7,539.0 L367.1,539.8 L367.5,539.6 L367.9,539.7 L368.3,539.4 L368.7,539.5 L369.1,539.3 L369.5,539.1 L369.9,539.4 L370.3,539.5 L370.7,539.7 L371.1,539.6 L371.5,539.2 L371.9,539.8 L372.3,539.5 L372.7,539.5 L373.1,539.4 L373.5,539.0 L373.9,539.7 L374.3,539.9 L374.7,539.5 L375.1,539.7 L375.5,539.3 L375.9,538.9 L376.3,538.9 L376.7,539.4 L377.1,539.7 L377.5,539.2 L377.9,539.4 L378.3,539.3 L378.7,539.1 L379.1,539.4 L379.5,539.7 L379.9,539.4 L380.3,539.9 L380.7,539.1 L381.1,539.7 L381.5,539.5 L381.9,539.2 L382.3,540.0 L382.7,539.4 L383.1,539.5 L383.5,539.7 L383.9,539.4 L384.3,539.7 L384.7,538.8 L385.1,538.2 L385.5,538.5 L385.9,539.1 L386.3,539.9 L386.5,540.4 Z" fill="#f20d0d"/>
<line x1="255.9" y1="540.4" x2="386.5" y2="540.4" stroke="#f20d0d" stroke-width="0.35" opacity="0.9"/>
<filter id="rd00" filterUnits="userSpaceOnUse" x="255.9" y="541.6" width="130.6" height="31.9" color-interpolation-filters="sRGB">
<feTurbulence type="fractalNoise" baseFrequency="0.42 1.9" numOctaves="2" seed="70"/>
<feColorMatrix type="matrix" values="0 0 0 0 0.55  0 0 0 0 0.55  0 0 0 0 0.55  1 0 0 0 0"/>
<feComposite in2="SourceGraphic" operator="arithmetic" k1="1" k2="0" k3="0" k4="0"/>
<feComponentTransfer><feFuncA type="linear" slope="4.0" intercept="-1.6"/></feComponentTransfer></filter>
<g filter="url(#rd00)">
<linearGradient id="rd00g0" gradientUnits="userSpaceOnUse" x1="0" x2="0" y1="541.6" y2="573.5"><stop offset="0" stop-color="#fff" stop-opacity="0.75"/><stop offset="1" stop-color="#fff" stop-opacity="0.64"/></linearGradient>
<rect x="255.9" y="541.6" width="130.6" height="31.9" fill="url(#rd00g0)" />
<linearGradient id="rd00g1" gradientUnits="userSpaceOnUse" x1="0" x2="0" y1="541.6" y2="572.5"><stop offset="0" stop-color="#fff" stop-opacity="0.2"/><stop offset="1" stop-color="#fff" stop-opacity="0.103"/></linearGradient>
<rect x="285.9" y="541.6" width="2.5" height="30.9" fill="url(#rd00g1)" />
<linearGradient id="rd00g2" gradientUnits="userSpaceOnUse" x1="0" x2="0" y1="541.6" y2="572.5"><stop offset="0" stop-color="#fff" stop-opacity="1.0"/><stop offset="1" stop-color="#fff" stop-opacity="0.327"/></linearGradient>
<rect x="288.4" y="541.6" width="24" height="30.9" fill="url(#rd00g2)" />
<linearGradient id="rd00g3" gradientUnits="userSpaceOnUse" x1="0" x2="0" y1="541.6" y2="572.5"><stop offset="0" stop-color="#fff" stop-opacity="0.2"/><stop offset="1" stop-color="#fff" stop-opacity="0.103"/></linearGradient>
<rect x="312.4" y="541.6" width="2.5" height="30.9" fill="url(#rd00g3)" />
<linearGradient id="rd00g4" gradientUnits="userSpaceOnUse" x1="0" x2="0" y1="541.6" y2="573.5"><stop offset="0" stop-color="#fff" stop-opacity="0.12"/><stop offset="1" stop-color="#fff" stop-opacity="0.056"/></linearGradient>
<rect x="351.9" y="541.6" width="16" height="31.9" fill="url(#rd00g4)" />
<linearGradient id="rd00g5" gradientUnits="userSpaceOnUse" x1="0" x2="0" y1="541.6" y2="573.5"><stop offset="0" stop-color="#fff" stop-opacity="0.24"/><stop offset="1" stop-color="#fff" stop-opacity="0.083"/></linearGradient>
<rect x="367.9" y="541.6" width="18.6" height="31.9" fill="url(#rd00g5)" />
</g>
<filter id="rx00" filterUnits="userSpaceOnUse" x="289.1" y="541.6" width="22.3" height="14" color-interpolation-filters="sRGB">
<feTurbulence type="fractalNoise" baseFrequency="0.42 1.9" numOctaves="2" seed="90"/>
<feColorMatrix type="matrix" values="0 0 0 0 0.55  0 0 0 0 0.55  0 0 0 0 0.55  1 0 0 0 0"/>
<feComposite in2="SourceGraphic" operator="arithmetic" k1="1" k2="0" k3="0" k4="0"/>
<feComponentTransfer><feFuncA type="linear" slope="4.0" intercept="-1.6"/></feComponentTransfer></filter>
<g filter="url(#rx00)">
<linearGradient id="rx00g0" gradientUnits="userSpaceOnUse" x1="0" x2="0" y1="541.6" y2="555.6"><stop offset="0" stop-color="#fff" stop-opacity="1.0"/><stop offset="1" stop-color="#fff" stop-opacity="0.6"/></linearGradient>
<rect x="289.1" y="541.6" width="22.3" height="14" fill="url(#rx00g0)" />
</g>
<polygon points="381.7,527.8 388.1,527.8 384.9,533.4" fill="#000" />
<text x="257.1" y="587.4" font-size="2.2" text-anchor="start" fill="#333" >[0-80]</text>
<path d="M255.9,599.5 L255.9,599.1 L256.3,599.3 L256.7,598.9 L257.1,598.6 L257.5,598.8 L257.9,598.6 L258.3,598.4 L258.7,598.6 L259.1,598.5 L259.5,598.9 L259.9,598.7 L260.3,597.7 L260.7,598.4 L261.1,598.7 L261.5,598.8 L261.9,598.8 L262.3,598.9 L262.7,598.8 L263.1,598.2 L263.5,598.2 L263.9,598.9 L264.3,598.7 L264.7,598.8 L265.1,598.8 L265.5,598.8 L265.9,599.0 L266.3,598.6 L266.7,598.6 L267.1,599.0 L267.5,599.3 L267.9,599.3 L268.3,599.3 L268.7,599.1 L269.1,598.9 L269.5,599.1 L269.9,598.6 L270.3,599.2 L270.7,598.8 L271.1,598.9 L271.5,599.1 L271.9,599.2 L272.3,599.1 L272.7,598.5 L273.1,598.8 L273.5,599.1 L273.9,599.2 L274.3,599.1 L274.7,599.2 L275.1,598.5 L275.5,598.9 L275.9,599.2 L276.3,598.9 L276.7,599.0 L277.1,598.8 L277.5,599.1 L277.9,599.0 L278.3,598.9 L278.7,599.0 L279.1,599.0 L279.5,598.4 L279.9,599.0 L280.3,599.0 L280.7,598.8 L281.1,598.8 L281.5,598.9 L281.9,598.8 L282.3,599.0 L282.7,599.1 L283.1,599.2 L283.5,598.7 L283.9,598.8 L284.3,598.9 L284.7,599.1 L285.1,599.3 L285.5,599.2 L285.9,599.4 L286.3,599.1 L286.7,598.9 L287.1,598.4 L287.5,598.7 L287.9,598.6 L288.3,599.0 L288.7,598.5 L289.1,598.4 L289.5,598.0 L289.9,596.1 L290.3,593.8 L290.7,593.5 L291.1,591.7 L291.5,590.7 L291.9,592.4 L292.3,593.8 L292.7,589.9 L293.1,587.9 L293.5,592.1 L293.9,590.6 L294.3,594.2 L294.7,592.5 L295.1,591.1 L295.5,590.2 L295.9,589.9 L296.3,592.9 L296.7,591.7 L297.1,588.8 L297.5,588.2 L297.9,590.9 L298.3,592.8 L298.7,594.9 L299.1,592.0 L299.5,592.6 L299.9,588.2 L300.3,592.0 L300.7,593.1 L301.1,593.4 L301.5,592.9 L301.9,591.0 L302.3,594.1 L302.7,592.9 L303.1,592.5 L303.5,590.8 L303.9,594.8 L304.3,596.3 L304.7,596.5 L305.1,594.7 L305.5,593.7 L305.9,592.0 L306.3,591.8 L306.7,593.9 L307.1,592.6 L307.5,595.4 L307.9,594.9 L308.3,595.5 L308.7,594.4 L309.1,594.3 L309.5,592.7 L309.9,595.1 L310.3,594.7 L310.7,596.8 L311.1,597.5 L311.5,597.0 L311.9,597.8 L312.3,598.7 L312.7,598.5 L313.1,598.5 L313.5,598.9 L313.9,598.8 L314.3,599.0 L314.7,599.2 L315.1,599.3 L315.5,599.3 L315.9,599.2 L316.3,599.3 L316.7,598.8 L317.1,599.1 L317.5,598.6 L317.9,599.0 L318.3,598.9 L318.7,599.2 L319.1,599.2 L319.5,598.8 L319.9,598.7 L320.3,598.7 L320.7,598.7 L321.1,599.0 L321.5,599.0 L321.9,598.9 L322.3,599.0 L322.7,598.9 L323.1,598.7 L323.5,598.4 L323.9,599.2 L324.3,599.1 L324.7,598.5 L325.1,598.7 L325.5,598.7 L325.9,598.9 L326.3,599.1 L326.7,598.9 L327.1,599.1 L327.5,598.7 L327.9,599.2 L328.3,599.1 L328.7,599.0 L329.1,599.0 L329.5,598.8 L329.9,598.7 L330.3,598.9 L330.7,598.7 L331.1,599.0 L331.5,599.0 L331.9,599.0 L332.3,598.8 L332.7,598.9 L333.1,599.1 L333.5,598.9 L333.9,599.2 L334.3,599.1 L334.7,599.2 L335.1,598.8 L335.5,598.9 L335.9,598.4 L336.3,598.9 L336.7,598.9 L337.1,598.6 L337.5,598.9 L337.9,598.9 L338.3,599.1 L338.7,598.6 L339.1,598.4 L339.5,598.9 L339.9,599.1 L340.3,599.0 L340.7,598.6 L341.1,598.9 L341.5,598.7 L341.9,599.0 L342.3,598.9 L342.7,598.8 L343.1,598.9 L343.5,599.0 L343.9,599.1 L344.3,598.5 L344.7,599.0 L345.1,598.9 L345.5,599.1 L345.9,599.1 L346.3,599.0 L346.7,599.2 L347.1,598.8 L347.5,598.7 L347.9,599.1 L348.3,598.7 L348.7,599.1 L349.1,599.2 L349.5,599.0 L349.9,599.0 L350.3,599.2 L350.7,599.1 L351.1,599.0 L351.5,598.9 L351.9,599.0 L352.3,598.9 L352.7,598.8 L353.1,599.2 L353.5,599.1 L353.9,599.3 L354.3,599.2 L354.7,599.1 L355.1,599.0 L355.5,598.4 L355.9,598.7 L356.3,598.4 L356.7,598.3 L357.1,598.2 L357.5,598.0 L357.9,597.3 L358.3,598.3 L358.7,597.6 L359.1,597.4 L359.5,597.9 L359.9,596.8 L360.3,597.4 L360.7,597.2 L361.1,597.3 L361.5,597.1 L361.9,597.4 L362.3,597.4 L362.7,598.2 L363.1,597.3 L363.5,598.4 L363.9,597.9 L364.3,597.6 L364.7,598.5 L365.1,597.8 L365.5,598.0 L365.9,598.7 L366.3,598.3 L366.7,598.4 L367.1,597.9 L367.5,598.4 L367.9,598.3 L368.3,598.5 L368.7,597.7 L369.1,598.5 L369.5,598.0 L369.9,597.5 L370.3,597.8 L370.7,598.2 L371.1,597.9 L371.5,597.4 L371.9,597.6 L372.3,598.3 L372.7,597.8 L373.1,597.6 L373.5,597.9 L373.9,597.2 L374.3,596.7 L374.7,597.6 L375.1,597.0 L375.5,596.6 L375.9,596.4 L376.3,596.9 L376.7,596.2 L377.1,595.7 L377.5,596.8 L377.9,596.8 L378.3,596.3 L378.7,597.1 L379.1,596.2 L379.5,596.6 L379.9,597.1 L380.3,597.1 L380.7,596.9 L381.1,597.5 L381.5,597.2 L381.9,597.0 L382.3,597.0 L382.7,597.4 L383.1,598.1 L383.5,597.2 L383.9,597.7 L384.3,597.2 L384.7,596.9 L385.1,594.5 L385.5,594.6 L385.9,595.9 L386.3,597.5 L386.5,599.5 Z" fill="#f20d0d"/>
<line x1="255.9" y1="599.5" x2="386.5" y2="599.5" stroke="#f20d0d" stroke-width="0.35" opacity="0.9"/>
<filter id="rd01" filterUnits="userSpaceOnUse" x="255.9" y="600.8" width="130.6" height="32.2" color-interpolation-filters="sRGB">
<feTurbulence type="fractalNoise" baseFrequency="0.42 1.9" numOctaves="2" seed="71"/>
<feColorMatrix type="matrix" values="0 0 0 0 0.55  0 0 0 0 0.55  0 0 0 0 0.55  1 0 0 0 0"/>
<feComposite in2="SourceGraphic" operator="arithmetic" k1="1" k2="0" k3="0" k4="0"/>
<feComponentTransfer><feFuncA type="linear" slope="4.0" intercept="-1.6"/></feComponentTransfer></filter>
<g filter="url(#rd01)">
<linearGradient id="rd01g0" gradientUnits="userSpaceOnUse" x1="0" x2="0" y1="600.8" y2="633"><stop offset="0" stop-color="#fff" stop-opacity="0.75"/><stop offset="1" stop-color="#fff" stop-opacity="0.64"/></linearGradient>
<rect x="255.9" y="600.8" width="130.6" height="32.2" fill="url(#rd01g0)" />
<linearGradient id="rd01g1" gradientUnits="userSpaceOnUse" x1="0" x2="0" y1="600.8" y2="632"><stop offset="0" stop-color="#fff" stop-opacity="0.2"/><stop offset="1" stop-color="#fff" stop-opacity="0.103"/></linearGradient>
<rect x="285.9" y="600.8" width="2.5" height="31.2" fill="url(#rd01g1)" />
<linearGradient id="rd01g2" gradientUnits="userSpaceOnUse" x1="0" x2="0" y1="600.8" y2="632"><stop offset="0" stop-color="#fff" stop-opacity="1.0"/><stop offset="1" stop-color="#fff" stop-opacity="0.327"/></linearGradient>
<rect x="288.4" y="600.8" width="24" height="31.2" fill="url(#rd01g2)" />
<linearGradient id="rd01g3" gradientUnits="userSpaceOnUse" x1="0" x2="0" y1="600.8" y2="632"><stop offset="0" stop-color="#fff" stop-opacity="0.2"/><stop offset="1" stop-color="#fff" stop-opacity="0.103"/></linearGradient>
<rect x="312.4" y="600.8" width="2.5" height="31.2" fill="url(#rd01g3)" />
<linearGradient id="rd01g4" gradientUnits="userSpaceOnUse" x1="0" x2="0" y1="600.8" y2="633"><stop offset="0" stop-color="#fff" stop-opacity="0.12"/><stop offset="1" stop-color="#fff" stop-opacity="0.056"/></linearGradient>
<rect x="351.9" y="600.8" width="16" height="32.2" fill="url(#rd01g4)" />
<linearGradient id="rd01g5" gradientUnits="userSpaceOnUse" x1="0" x2="0" y1="600.8" y2="633"><stop offset="0" stop-color="#fff" stop-opacity="0.24"/><stop offset="1" stop-color="#fff" stop-opacity="0.083"/></linearGradient>
<rect x="367.9" y="600.8" width="18.6" height="32.2" fill="url(#rd01g5)" />
</g>
<filter id="rx01" filterUnits="userSpaceOnUse" x="289.1" y="600.8" width="22.3" height="14" color-interpolation-filters="sRGB">
<feTurbulence type="fractalNoise" baseFrequency="0.42 1.9" numOctaves="2" seed="91"/>
<feColorMatrix type="matrix" values="0 0 0 0 0.55  0 0 0 0 0.55  0 0 0 0 0.55  1 0 0 0 0"/>
<feComposite in2="SourceGraphic" operator="arithmetic" k1="1" k2="0" k3="0" k4="0"/>
<feComponentTransfer><feFuncA type="linear" slope="4.0" intercept="-1.6"/></feComponentTransfer></filter>
<g filter="url(#rx01)">
<linearGradient id="rx01g0" gradientUnits="userSpaceOnUse" x1="0" x2="0" y1="600.8" y2="614.8"><stop offset="0" stop-color="#fff" stop-opacity="1.0"/><stop offset="1" stop-color="#fff" stop-opacity="0.6"/></linearGradient>
<rect x="289.1" y="600.8" width="22.3" height="14" fill="url(#rx01g0)" />
</g>
<polygon points="381.7,585.9 388.1,585.9 384.9,591.5" fill="#000" />
<line x1="255.9" y1="638" x2="386.5" y2="638" stroke="#888" stroke-width="0.3" />
<line x1="258.9" y1="638.4" x2="386.5" y2="638.4" stroke="#aaa" stroke-width="0.4" stroke-dasharray="3 5.1"/>
<line x1="256.4" y1="642.7" x2="283.2" y2="642.7" stroke="#2a2ab0" stroke-width="0.45" stroke-dasharray="2.2 0.5 0.8 0.4" opacity="0.8"/>
<line x1="287.9" y1="642.7" x2="312.4" y2="642.7" stroke="#2a2ab0" stroke-width="0.45" stroke-dasharray="2.2 0.5 0.8 0.4" opacity="0.8"/>
<line x1="319.4" y1="642.7" x2="335.9" y2="642.7" stroke="#2a2ab0" stroke-width="0.45" stroke-dasharray="2.2 0.5 0.8 0.4" opacity="0.8"/>
<line x1="349.9" y1="642.7" x2="385.9" y2="642.7" stroke="#2a2ab0" stroke-width="0.45" stroke-dasharray="2.2 0.5 0.8 0.4" opacity="0.8"/>
<line x1="267.9" y1="646.6" x2="280.9" y2="646.6" stroke="#2a2ab0" stroke-width="0.7" stroke-dasharray="1.6 0.5 0.7 0.9 2 0.4" opacity="0.85"/>
<line x1="267.9" y1="649.2" x2="280.9" y2="649.2" stroke="#2a2ab0" stroke-width="0.7" stroke-dasharray="1.6 0.5 0.7 0.9 2 0.4" opacity="0.85"/>
<line x1="267.9" y1="651.9" x2="280.9" y2="651.9" stroke="#2a2ab0" stroke-width="0.7" stroke-dasharray="1.6 0.5 0.7 0.9 2 0.4" opacity="0.85"/>
<line x1="267.9" y1="654.5" x2="280.9" y2="654.5" stroke="#2a2ab0" stroke-width="0.7" stroke-dasharray="1.6 0.5 0.7 0.9 2 0.4" opacity="0.85"/>
<line x1="267.9" y1="657.1" x2="280.9" y2="657.1" stroke="#2a2ab0" stroke-width="0.7" stroke-dasharray="1.6 0.5 0.7 0.9 2 0.4" opacity="0.85"/>
<line x1="267.9" y1="659.7" x2="280.9" y2="659.7" stroke="#2a2ab0" stroke-width="0.7" stroke-dasharray="1.6 0.5 0.7 0.9 2 0.4" opacity="0.85"/>
<line x1="267.9" y1="662.3" x2="280.9" y2="662.3" stroke="#2a2ab0" stroke-width="0.7" stroke-dasharray="1.6 0.5 0.7 0.9 2 0.4" opacity="0.85"/>
<line x1="267.9" y1="665" x2="280.9" y2="665" stroke="#2a2ab0" stroke-width="0.7" stroke-dasharray="1.6 0.5 0.7 0.9 2 0.4" opacity="0.85"/>
<line x1="267.9" y1="667.6" x2="280.9" y2="667.6" stroke="#2a2ab0" stroke-width="0.7" stroke-dasharray="1.6 0.5 0.7 0.9 2 0.4" opacity="0.85"/>
<line x1="306.9" y1="644" x2="310.9" y2="644" stroke="#2a2ab0" stroke-width="0.7" stroke-dasharray="1.2 0.4" opacity="0.8"/>
<line x1="306.9" y1="646.6" x2="311.9" y2="646.6" stroke="#2a2ab0" stroke-width="0.7" stroke-dasharray="1.2 0.4" opacity="0.8"/>
<line x1="306.9" y1="649.2" x2="310.9" y2="649.2" stroke="#2a2ab0" stroke-width="0.7" stroke-dasharray="1.2 0.4" opacity="0.8"/>
<line x1="306.9" y1="651.9" x2="311.9" y2="651.9" stroke="#2a2ab0" stroke-width="0.7" stroke-dasharray="1.2 0.4" opacity="0.8"/>
<line x1="306.9" y1="654.5" x2="310.9" y2="654.5" stroke="#2a2ab0" stroke-width="0.7" stroke-dasharray="1.2 0.4" opacity="0.8"/>
<line x1="306.9" y1="657.1" x2="311.9" y2="657.1" stroke="#2a2ab0" stroke-width="0.7" stroke-dasharray="1.2 0.4" opacity="0.8"/>
<line x1="306.9" y1="659.7" x2="310.9" y2="659.7" stroke="#2a2ab0" stroke-width="0.7" stroke-dasharray="1.2 0.4" opacity="0.8"/>
<line x1="306.9" y1="662.3" x2="311.9" y2="662.3" stroke="#2a2ab0" stroke-width="0.7" stroke-dasharray="1.2 0.4" opacity="0.8"/>
<line x1="306.9" y1="665" x2="310.9" y2="665" stroke="#2a2ab0" stroke-width="0.7" stroke-dasharray="1.2 0.4" opacity="0.8"/>
<line x1="306.9" y1="667.6" x2="311.9" y2="667.6" stroke="#2a2ab0" stroke-width="0.7" stroke-dasharray="1.2 0.4" opacity="0.8"/>
<line x1="306.9" y1="670.2" x2="310.9" y2="670.2" stroke="#2a2ab0" stroke-width="0.7" stroke-dasharray="1.2 0.4" opacity="0.8"/>
<line x1="323.9" y1="646.6" x2="334.6" y2="646.6" stroke="#2a2ab0" stroke-width="0.6" stroke-dasharray="1 0.6 2 0.5" opacity="0.8"/>
<line x1="323.9" y1="649.2" x2="334.6" y2="649.2" stroke="#2a2ab0" stroke-width="0.6" stroke-dasharray="1 0.6 2 0.5" opacity="0.8"/>
<line x1="323.9" y1="651.9" x2="334.6" y2="651.9" stroke="#2a2ab0" stroke-width="0.6" stroke-dasharray="1 0.6 2 0.5" opacity="0.8"/>
<line x1="323.9" y1="654.5" x2="334.6" y2="654.5" stroke="#2a2ab0" stroke-width="0.6" stroke-dasharray="1 0.6 2 0.5" opacity="0.8"/>
<line x1="288.9" y1="645.3" x2="311.9" y2="645.3" stroke="#2a2ab0" stroke-width="0.6" stroke-dasharray="0.8 0.5 3 0.4 1.5 0.8" opacity="0.75"/>
<line x1="293.9" y1="647.9" x2="311.9" y2="647.9" stroke="#2a2ab0" stroke-width="0.5" stroke-dasharray="0.8 0.8 2 0.9" opacity="0.7"/>
<line x1="360.9" y1="646.3" x2="362.2" y2="646.3" stroke="#2a2ab0" stroke-width="0.7" />
<line x1="372.9" y1="646.3" x2="384.9" y2="646.3" stroke="#2a2ab0" stroke-width="0.55" stroke-dasharray="1 0.5 2 0.4" opacity="0.8"/>
<line x1="377.9" y1="648.7" x2="383.9" y2="648.7" stroke="#2a2ab0" stroke-width="0.55" stroke-dasharray="1 0.5 2 0.4" opacity="0.8"/>
<line x1="378.9" y1="651.1" x2="383.4" y2="651.1" stroke="#2a2ab0" stroke-width="0.55" stroke-dasharray="1 0.5 2 0.4" opacity="0.8"/>
<line x1="380.9" y1="653.5" x2="383.9" y2="653.5" stroke="#2a2ab0" stroke-width="0.55" stroke-dasharray="1 0.5 2 0.4" opacity="0.8"/>
<text x="393.3" y="528.6" font-size="2.2" text-anchor="start" fill="#333" >[0-40]</text>
<path d="M392.1,540.4 L392.1,540.2 L392.5,540.2 L392.9,539.4 L393.3,539.8 L393.7,539.1 L394.1,539.3 L394.5,539.6 L394.9,539.4 L395.3,539.8 L395.7,539.6 L396.1,539.4 L396.5,539.6 L396.9,539.7 L397.3,539.8 L397.7,539.7 L398.1,539.8 L398.5,539.9 L398.9,539.5 L399.3,539.7 L399.7,539.8 L400.1,539.4 L400.5,539.4 L400.9,539.6 L401.3,539.4 L401.7,539.6 L402.1,539.6 L402.5,539.4 L402.9,539.8 L403.3,539.7 L403.7,540.0 L404.1,539.7 L404.5,539.7 L404.9,539.8 L405.3,539.6 L405.7,539.5 L406.1,538.5 L406.5,539.1 L406.9,539.3 L407.3,539.5 L407.7,539.6 L408.1,540.0 L408.5,539.4 L408.9,539.8 L409.3,539.6 L409.7,540.2 L410.1,540.0 L410.5,540.3 L410.9,540.1 L411.3,540.0 L411.7,539.9 L412.1,539.9 L412.5,539.8 L412.9,539.7 L413.3,540.1 L413.7,539.7 L414.1,540.0 L414.5,539.7 L414.9,540.0 L415.3,539.6 L415.7,538.5 L416.1,537.0 L416.5,537.5 L416.9,539.1 L417.3,539.8 L417.7,539.8 L418.1,539.5 L418.5,540.2 L418.9,539.9 L419.3,539.8 L419.7,540.0 L420.1,539.9 L420.5,539.8 L420.9,539.7 L421.3,540.1 L421.7,539.6 L422.1,540.0 L422.5,539.9 L422.9,540.1 L423.3,539.6 L423.7,539.6 L424.1,539.9 L424.5,540.0 L424.9,539.8 L425.3,540.2 L425.7,540.3 L426.1,540.0 L426.5,539.6 L426.9,539.8 L427.3,539.9 L427.7,539.2 L428.1,539.1 L428.5,539.6 L428.9,538.9 L429.3,538.8 L429.7,539.5 L430.1,538.8 L430.5,539.3 L430.9,538.5 L431.3,539.0 L431.7,539.3 L432.1,539.0 L432.5,539.4 L432.9,539.7 L433.3,538.8 L433.7,538.7 L434.1,539.0 L434.5,538.7 L434.9,539.1 L435.3,538.8 L435.7,538.8 L436.1,538.8 L436.5,538.2 L436.9,536.4 L437.3,537.3 L437.7,538.4 L438.1,538.9 L438.5,539.2 L438.9,538.3 L439.3,538.8 L439.7,538.7 L440.1,537.9 L440.5,535.7 L440.9,537.2 L441.3,538.1 L441.7,539.0 L442.1,538.4 L442.5,539.0 L442.9,539.1 L443.3,538.1 L443.7,536.2 L444.1,533.6 L444.5,536.3 L444.9,538.5 L445.3,538.9 L445.7,537.2 L446.1,533.9 L446.5,535.6 L446.9,538.5 L447.3,538.8 L447.7,536.9 L448.1,533.8 L448.5,536.5 L448.9,538.3 L449.3,539.6 L449.7,539.4 L450.1,539.2 L450.5,539.5 L450.9,538.7 L451.3,538.8 L451.7,539.1 L452.1,538.8 L452.5,539.0 L452.9,536.1 L453.3,536.6 L453.7,538.1 L454.1,539.4 L454.5,538.2 L454.9,539.0 L455.3,539.2 L455.7,538.4 L456.1,535.4 L456.5,534.6 L456.9,537.9 L457.3,539.0 L457.7,537.1 L458.1,535.6 L458.5,538.0 L458.9,539.3 L459.3,539.0 L459.7,538.0 L460.1,537.6 L460.5,535.9 L460.9,536.5 L461.3,538.1 L461.7,539.4 L462.1,539.0 L462.5,538.2 L462.9,536.7 L463.3,537.3 L463.7,538.5 L464.1,538.9 L464.5,539.2 L464.9,538.8 L465.3,539.1 L465.7,539.2 L466.1,538.6 L466.5,538.3 L466.9,538.8 L467.3,536.1 L467.7,535.8 L468.1,537.5 L468.5,539.0 L468.9,538.2 L469.3,535.5 L469.7,536.7 L470.1,537.3 L470.5,539.3 L470.9,539.3 L471.3,538.9 L471.7,539.6 L472.1,538.4 L472.5,537.8 L472.9,537.7 L473.3,537.5 L473.7,539.4 L474.1,540.1 L474.5,540.2 L474.9,540.0 L475.3,540.1 L475.7,539.8 L476.1,539.5 L476.5,539.9 L476.9,539.1 L477.3,539.2 L477.7,539.8 L478.1,539.2 L478.5,539.4 L478.9,539.8 L479.3,538.9 L479.7,540.0 L480.1,539.1 L480.5,539.9 L480.9,539.8 L481.3,539.5 L481.7,539.6 L482.1,539.7 L482.5,539.0 L482.9,539.2 L483.3,539.8 L483.7,539.7 L484.1,539.5 L484.5,539.7 L484.9,539.9 L485.3,539.7 L485.7,539.7 L486.1,539.4 L486.5,539.7 L486.9,539.7 L487.3,539.7 L487.7,539.5 L488.1,539.3 L488.5,539.8 L488.9,539.6 L489.3,539.8 L489.7,538.9 L490.1,538.0 L490.5,538.4 L490.9,539.1 L491.3,539.3 L491.7,539.7 L492.1,539.2 L492.5,539.7 L492.9,539.3 L493.3,539.8 L493.7,539.5 L494.1,539.4 L494.5,539.6 L494.9,539.7 L495.3,539.7 L495.7,539.6 L496.1,538.9 L496.5,539.4 L496.9,539.8 L497.3,539.4 L497.7,539.2 L498.1,539.6 L498.5,539.9 L498.9,539.7 L499.3,539.5 L499.7,539.7 L500.1,539.7 L500.5,540.0 L500.9,539.6 L501.3,539.1 L501.7,539.3 L502.1,539.5 L502.5,539.6 L502.9,539.7 L503.3,539.5 L503.7,539.5 L504.1,539.6 L504.5,539.0 L504.9,536.5 L505.3,536.9 L505.7,539.3 L506.1,539.8 L506.5,539.3 L506.9,539.5 L507.3,539.8 L507.7,539.5 L508.1,539.9 L508.5,539.0 L508.9,539.5 L509.3,539.7 L509.7,539.5 L510.1,539.8 L510.5,539.7 L510.9,539.4 L511.3,539.1 L511.7,539.7 L512.1,539.8 L512.5,539.5 L512.9,539.8 L513.3,539.6 L513.7,539.9 L514.1,539.3 L514.5,539.6 L514.9,539.7 L515.3,539.3 L515.7,538.8 L516.1,540.0 L516.5,539.4 L516.9,540.0 L517.3,539.5 L517.7,539.8 L518.1,539.5 L518.5,539.5 L518.9,539.4 L519.3,539.3 L519.7,539.9 L520.1,539.3 L520.5,540.0 L520.9,539.8 L521.3,539.6 L521.7,540.0 L522.1,540.3 L522.5,540.4 L522.5,540.4 Z" fill="#118a11"/>
<line x1="392.1" y1="540.4" x2="522.5" y2="540.4" stroke="#118a11" stroke-width="0.35" opacity="0.9"/>
<filter id="rd10" filterUnits="userSpaceOnUse" x="392.1" y="541.6" width="130.4" height="31.9" color-interpolation-filters="sRGB">
<feTurbulence type="fractalNoise" baseFrequency="0.42 1.9" numOctaves="2" seed="72"/>
<feColorMatrix type="matrix" values="0 0 0 0 0.55  0 0 0 0 0.55  0 0 0 0 0.55  1 0 0 0 0"/>
<feComposite in2="SourceGraphic" operator="arithmetic" k1="1" k2="0" k3="0" k4="0"/>
<feComponentTransfer><feFuncA type="linear" slope="4.0" intercept="-1.6"/></feComponentTransfer></filter>
<g filter="url(#rd10)">
<linearGradient id="rd10g0" gradientUnits="userSpaceOnUse" x1="0" x2="0" y1="541.6" y2="573.5"><stop offset="0" stop-color="#fff" stop-opacity="0.71"/><stop offset="1" stop-color="#fff" stop-opacity="0.62"/></linearGradient>
<rect x="392.1" y="541.6" width="130.4" height="31.9" fill="url(#rd10g0)" />
<linearGradient id="rd10g1" gradientUnits="userSpaceOnUse" x1="0" x2="0" y1="541.6" y2="570.5"><stop offset="0" stop-color="#fff" stop-opacity="0.276"/><stop offset="1" stop-color="#fff" stop-opacity="0.085"/></linearGradient>
<rect x="436.1" y="541.6" width="14" height="28.9" fill="url(#rd10g1)" />
<linearGradient id="rd10g2" gradientUnits="userSpaceOnUse" x1="0" x2="0" y1="541.6" y2="569.5"><stop offset="0" stop-color="#fff" stop-opacity="0.241"/><stop offset="1" stop-color="#fff" stop-opacity="0.051"/></linearGradient>
<rect x="454.1" y="541.6" width="18" height="27.9" fill="url(#rd10g2)" />
<linearGradient id="rd10g3" gradientUnits="userSpaceOnUse" x1="0" x2="0" y1="541.6" y2="568.5"><stop offset="0" stop-color="#fff" stop-opacity="0.207"/><stop offset="1" stop-color="#fff" stop-opacity="0.043"/></linearGradient>
<rect x="414.1" y="541.6" width="4" height="26.9" fill="url(#rd10g3)" />
<linearGradient id="rd10g4" gradientUnits="userSpaceOnUse" x1="0" x2="0" y1="541.6" y2="568.5"><stop offset="0" stop-color="#fff" stop-opacity="0.207"/><stop offset="1" stop-color="#fff" stop-opacity="0.043"/></linearGradient>
<rect x="503.1" y="541.6" width="4" height="26.9" fill="url(#rd10g4)" />
<linearGradient id="rd10g5" gradientUnits="userSpaceOnUse" x1="0" x2="0" y1="541.6" y2="573.5"><stop offset="0" stop-color="#fff" stop-opacity="0.103"/><stop offset="1" stop-color="#fff" stop-opacity="0.026"/></linearGradient>
<rect x="425.1" y="541.6" width="11" height="31.9" fill="url(#rd10g5)" />
<linearGradient id="rd10g6" gradientUnits="userSpaceOnUse" x1="0" x2="0" y1="541.6" y2="573.5"><stop offset="0" stop-color="#fff" stop-opacity="0.103"/><stop offset="1" stop-color="#fff" stop-opacity="0.026"/></linearGradient>
<rect x="450.1" y="541.6" width="4" height="31.9" fill="url(#rd10g6)" />
<linearGradient id="rd10g7" gradientUnits="userSpaceOnUse" x1="0" x2="0" y1="541.6" y2="573.5"><stop offset="0" stop-color="#fff" stop-opacity="0.103"/><stop offset="1" stop-color="#fff" stop-opacity="0.026"/></linearGradient>
<rect x="472.1" y="541.6" width="4" height="31.9" fill="url(#rd10g7)" />
</g>
<polygon points="516.3,527.8 522.7,527.8 519.5,533.4" fill="#000" />
<text x="393.3" y="587.4" font-size="2.2" text-anchor="start" fill="#333" >[0-40]</text>
<path d="M392.1,599.5 L392.1,599.2 L392.5,599.3 L392.9,598.8 L393.3,598.9 L393.7,598.3 L394.1,598.7 L394.5,598.7 L394.9,598.4 L395.3,598.6 L395.7,598.2 L396.1,598.7 L396.5,598.5 L396.9,598.5 L397.3,598.9 L397.7,599.0 L398.1,599.0 L398.5,598.7 L398.9,598.7 L399.3,598.4 L399.7,598.5 L400.1,598.8 L400.5,598.9 L400.9,598.3 L401.3,598.9 L401.7,598.6 L402.1,598.6 L402.5,598.2 L402.9,599.0 L403.3,598.8 L403.7,598.7 L404.1,598.7 L404.5,598.8 L404.9,599.0 L405.3,598.8 L405.7,598.8 L406.1,598.9 L406.5,598.8 L406.9,598.5 L407.3,598.8 L407.7,598.6 L408.1,598.9 L408.5,599.0 L408.9,598.2 L409.3,598.6 L409.7,599.0 L410.1,599.4 L410.5,599.2 L410.9,599.3 L411.3,598.4 L411.7,598.5 L412.1,599.0 L412.5,599.1 L412.9,599.1 L413.3,598.8 L413.7,598.5 L414.1,599.1 L414.5,599.1 L414.9,599.0 L415.3,598.1 L415.7,597.4 L416.1,595.8 L416.5,597.1 L416.9,598.5 L417.3,599.0 L417.7,598.8 L418.1,598.9 L418.5,598.9 L418.9,599.1 L419.3,598.7 L419.7,599.0 L420.1,598.9 L420.5,598.8 L420.9,599.2 L421.3,599.1 L421.7,599.1 L422.1,599.0 L422.5,599.2 L422.9,598.8 L423.3,598.9 L423.7,599.1 L424.1,598.7 L424.5,599.0 L424.9,599.0 L425.3,599.2 L425.7,599.2 L426.1,599.4 L426.5,599.2 L426.9,598.3 L427.3,598.0 L427.7,598.7 L428.1,598.2 L428.5,598.4 L428.9,598.2 L429.3,597.4 L429.7,598.5 L430.1,597.9 L430.5,598.3 L430.9,598.3 L431.3,598.1 L431.7,597.9 L432.1,598.3 L432.5,598.2 L432.9,598.0 L433.3,598.2 L433.7,597.7 L434.1,597.5 L434.5,598.3 L434.9,598.2 L435.3,598.7 L435.7,598.2 L436.1,598.6 L436.5,596.4 L436.9,595.7 L437.3,596.6 L437.7,597.0 L438.1,597.8 L438.5,598.1 L438.9,597.6 L439.3,598.2 L439.7,598.5 L440.1,597.3 L440.5,595.4 L440.9,596.5 L441.3,598.2 L441.7,598.2 L442.1,597.8 L442.5,598.2 L442.9,598.3 L443.3,597.9 L443.7,595.5 L444.1,593.9 L444.5,595.5 L444.9,597.5 L445.3,598.1 L445.7,595.0 L446.1,593.3 L446.5,595.6 L446.9,598.4 L447.3,597.2 L447.7,595.4 L448.1,593.8 L448.5,594.7 L448.9,598.4 L449.3,597.9 L449.7,597.8 L450.1,597.8 L450.5,597.7 L450.9,597.4 L451.3,597.8 L451.7,598.1 L452.1,598.0 L452.5,597.5 L452.9,595.8 L453.3,595.6 L453.7,596.8 L454.1,598.5 L454.5,598.2 L454.9,597.6 L455.3,598.1 L455.7,597.5 L456.1,592.2 L456.5,590.7 L456.9,597.2 L457.3,597.4 L457.7,595.6 L458.1,594.8 L458.5,596.2 L458.9,598.4 L459.3,597.8 L459.7,597.7 L460.1,596.9 L460.5,594.1 L460.9,594.5 L461.3,597.7 L461.7,598.3 L462.1,598.0 L462.5,597.4 L462.9,596.4 L463.3,596.1 L463.7,597.5 L464.1,597.6 L464.5,598.4 L464.9,598.1 L465.3,598.2 L465.7,598.3 L466.1,598.5 L466.5,597.8 L466.9,597.7 L467.3,594.9 L467.7,593.3 L468.1,595.8 L468.5,598.0 L468.9,597.3 L469.3,594.9 L469.7,594.4 L470.1,596.1 L470.5,598.1 L470.9,597.7 L471.3,598.4 L471.7,598.4 L472.1,597.6 L472.5,597.3 L472.9,597.0 L473.3,596.7 L473.7,598.6 L474.1,599.4 L474.5,599.2 L474.9,599.1 L475.3,598.9 L475.7,598.5 L476.1,598.9 L476.5,598.5 L476.9,598.5 L477.3,598.4 L477.7,598.6 L478.1,598.7 L478.5,598.7 L478.9,599.0 L479.3,599.0 L479.7,598.9 L480.1,598.4 L480.5,599.0 L480.9,598.5 L481.3,598.5 L481.7,598.9 L482.1,598.7 L482.5,598.7 L482.9,598.5 L483.3,598.6 L483.7,598.7 L484.1,598.7 L484.5,598.7 L484.9,598.5 L485.3,598.9 L485.7,598.3 L486.1,597.9 L486.5,598.7 L486.9,598.6 L487.3,598.4 L487.7,598.5 L488.1,598.8 L488.5,597.8 L488.9,598.8 L489.3,598.9 L489.7,597.8 L490.1,596.9 L490.5,598.0 L490.9,598.1 L491.3,598.1 L491.7,598.8 L492.1,598.5 L492.5,598.8 L492.9,598.5 L493.3,598.9 L493.7,599.1 L494.1,598.5 L494.5,598.4 L494.9,598.9 L495.3,598.5 L495.7,598.2 L496.1,598.7 L496.5,598.4 L496.9,598.0 L497.3,598.8 L497.7,598.0 L498.1,598.1 L498.5,598.3 L498.9,599.1 L499.3,598.6 L499.7,598.7 L500.1,598.8 L500.5,598.9 L500.9,598.8 L501.3,598.6 L501.7,598.5 L502.1,598.2 L502.5,598.8 L502.9,598.9 L503.3,598.7 L503.7,598.7 L504.1,598.6 L504.5,597.5 L504.9,595.2 L505.3,597.5 L505.7,598.5 L506.1,599.0 L506.5,598.9 L506.9,598.5 L507.3,598.8 L507.7,598.6 L508.1,598.7 L508.5,598.6 L508.9,598.7 L509.3,598.2 L509.7,598.4 L510.1,598.8 L510.5,598.4 L510.9,598.3 L511.3,598.4 L511.7,598.7 L512.1,598.4 L512.5,598.6 L512.9,598.9 L513.3,598.3 L513.7,598.7 L514.1,598.9 L514.5,599.1 L514.9,598.8 L515.3,598.8 L515.7,598.5 L516.1,599.0 L516.5,598.5 L516.9,598.7 L517.3,598.0 L517.7,598.6 L518.1,598.6 L518.5,598.7 L518.9,598.9 L519.3,599.0 L519.7,598.5 L520.1,598.6 L520.5,598.1 L520.9,598.9 L521.3,598.8 L521.7,599.2 L522.1,599.4 L522.5,599.4 L522.5,599.5 Z" fill="#118a11"/>
<line x1="392.1" y1="599.5" x2="522.5" y2="599.5" stroke="#118a11" stroke-width="0.35" opacity="0.9"/>
<filter id="rd11" filterUnits="userSpaceOnUse" x="392.1" y="600.8" width="130.4" height="32.2" color-interpolation-filters="sRGB">
<feTurbulence type="fractalNoise" baseFrequency="0.42 1.9" numOctaves="2" seed="73"/>
<feColorMatrix type="matrix" values="0 0 0 0 0.55  0 0 0 0 0.55  0 0 0 0 0.55  1 0 0 0 0"/>
<feComposite in2="SourceGraphic" operator="arithmetic" k1="1" k2="0" k3="0" k4="0"/>
<feComponentTransfer><feFuncA type="linear" slope="4.0" intercept="-1.6"/></feComponentTransfer></filter>
<g filter="url(#rd11)">
<linearGradient id="rd11g0" gradientUnits="userSpaceOnUse" x1="0" x2="0" y1="600.8" y2="633"><stop offset="0" stop-color="#fff" stop-opacity="0.71"/><stop offset="1" stop-color="#fff" stop-opacity="0.62"/></linearGradient>
<rect x="392.1" y="600.8" width="130.4" height="32.2" fill="url(#rd11g0)" />
<linearGradient id="rd11g1" gradientUnits="userSpaceOnUse" x1="0" x2="0" y1="600.8" y2="630"><stop offset="0" stop-color="#fff" stop-opacity="0.276"/><stop offset="1" stop-color="#fff" stop-opacity="0.085"/></linearGradient>
<rect x="436.1" y="600.8" width="14" height="29.2" fill="url(#rd11g1)" />
<linearGradient id="rd11g2" gradientUnits="userSpaceOnUse" x1="0" x2="0" y1="600.8" y2="629"><stop offset="0" stop-color="#fff" stop-opacity="0.241"/><stop offset="1" stop-color="#fff" stop-opacity="0.051"/></linearGradient>
<rect x="454.1" y="600.8" width="18" height="28.2" fill="url(#rd11g2)" />
<linearGradient id="rd11g3" gradientUnits="userSpaceOnUse" x1="0" x2="0" y1="600.8" y2="628"><stop offset="0" stop-color="#fff" stop-opacity="0.207"/><stop offset="1" stop-color="#fff" stop-opacity="0.044"/></linearGradient>
<rect x="414.1" y="600.8" width="4" height="27.2" fill="url(#rd11g3)" />
<linearGradient id="rd11g4" gradientUnits="userSpaceOnUse" x1="0" x2="0" y1="600.8" y2="628"><stop offset="0" stop-color="#fff" stop-opacity="0.207"/><stop offset="1" stop-color="#fff" stop-opacity="0.044"/></linearGradient>
<rect x="503.1" y="600.8" width="4" height="27.2" fill="url(#rd11g4)" />
<linearGradient id="rd11g5" gradientUnits="userSpaceOnUse" x1="0" x2="0" y1="600.8" y2="633"><stop offset="0" stop-color="#fff" stop-opacity="0.103"/><stop offset="1" stop-color="#fff" stop-opacity="0.026"/></linearGradient>
<rect x="425.1" y="600.8" width="11" height="32.2" fill="url(#rd11g5)" />
<linearGradient id="rd11g6" gradientUnits="userSpaceOnUse" x1="0" x2="0" y1="600.8" y2="633"><stop offset="0" stop-color="#fff" stop-opacity="0.103"/><stop offset="1" stop-color="#fff" stop-opacity="0.026"/></linearGradient>
<rect x="450.1" y="600.8" width="4" height="32.2" fill="url(#rd11g6)" />
<linearGradient id="rd11g7" gradientUnits="userSpaceOnUse" x1="0" x2="0" y1="600.8" y2="633"><stop offset="0" stop-color="#fff" stop-opacity="0.103"/><stop offset="1" stop-color="#fff" stop-opacity="0.026"/></linearGradient>
<rect x="472.1" y="600.8" width="4" height="32.2" fill="url(#rd11g7)" />
</g>
<polygon points="516.3,585.9 522.7,585.9 519.5,591.5" fill="#000" />
<line x1="392.1" y1="638" x2="522.5" y2="638" stroke="#888" stroke-width="0.3" />
<line x1="395.1" y1="638.4" x2="522.5" y2="638.4" stroke="#aaa" stroke-width="0.4" stroke-dasharray="3 5.1"/>
<line x1="392.6" y1="642.7" x2="419.4" y2="642.7" stroke="#2a2ab0" stroke-width="0.45" stroke-dasharray="2.2 0.5 0.8 0.4" opacity="0.8"/>
<line x1="424.1" y1="642.7" x2="448.6" y2="642.7" stroke="#2a2ab0" stroke-width="0.45" stroke-dasharray="2.2 0.5 0.8 0.4" opacity="0.8"/>
<line x1="455.6" y1="642.7" x2="472.1" y2="642.7" stroke="#2a2ab0" stroke-width="0.45" stroke-dasharray="2.2 0.5 0.8 0.4" opacity="0.8"/>
<line x1="486.1" y1="642.7" x2="522.1" y2="642.7" stroke="#2a2ab0" stroke-width="0.45" stroke-dasharray="2.2 0.5 0.8 0.4" opacity="0.8"/>
<line x1="404.1" y1="646.6" x2="417.1" y2="646.6" stroke="#2a2ab0" stroke-width="0.7" stroke-dasharray="1.6 0.5 0.7 0.9 2 0.4" opacity="0.85"/>
<line x1="404.1" y1="649.2" x2="417.1" y2="649.2" stroke="#2a2ab0" stroke-width="0.7" stroke-dasharray="1.6 0.5 0.7 0.9 2 0.4" opacity="0.85"/>
<line x1="404.1" y1="651.9" x2="417.1" y2="651.9" stroke="#2a2ab0" stroke-width="0.7" stroke-dasharray="1.6 0.5 0.7 0.9 2 0.4" opacity="0.85"/>
<line x1="404.1" y1="654.5" x2="417.1" y2="654.5" stroke="#2a2ab0" stroke-width="0.7" stroke-dasharray="1.6 0.5 0.7 0.9 2 0.4" opacity="0.85"/>
<line x1="404.1" y1="657.1" x2="417.1" y2="657.1" stroke="#2a2ab0" stroke-width="0.7" stroke-dasharray="1.6 0.5 0.7 0.9 2 0.4" opacity="0.85"/>
<line x1="404.1" y1="659.7" x2="417.1" y2="659.7" stroke="#2a2ab0" stroke-width="0.7" stroke-dasharray="1.6 0.5 0.7 0.9 2 0.4" opacity="0.85"/>
<line x1="404.1" y1="662.3" x2="417.1" y2="662.3" stroke="#2a2ab0" stroke-width="0.7" stroke-dasharray="1.6 0.5 0.7 0.9 2 0.4" opacity="0.85"/>
<line x1="404.1" y1="665" x2="417.1" y2="665" stroke="#2a2ab0" stroke-width="0.7" stroke-dasharray="1.6 0.5 0.7 0.9 2 0.4" opacity="0.85"/>
<line x1="404.1" y1="667.6" x2="417.1" y2="667.6" stroke="#2a2ab0" stroke-width="0.7" stroke-dasharray="1.6 0.5 0.7 0.9 2 0.4" opacity="0.85"/>
<line x1="443.1" y1="644" x2="447.1" y2="644" stroke="#2a2ab0" stroke-width="0.7" stroke-dasharray="1.2 0.4" opacity="0.8"/>
<line x1="443.1" y1="646.6" x2="448.1" y2="646.6" stroke="#2a2ab0" stroke-width="0.7" stroke-dasharray="1.2 0.4" opacity="0.8"/>
<line x1="443.1" y1="649.2" x2="447.1" y2="649.2" stroke="#2a2ab0" stroke-width="0.7" stroke-dasharray="1.2 0.4" opacity="0.8"/>
<line x1="443.1" y1="651.9" x2="448.1" y2="651.9" stroke="#2a2ab0" stroke-width="0.7" stroke-dasharray="1.2 0.4" opacity="0.8"/>
<line x1="443.1" y1="654.5" x2="447.1" y2="654.5" stroke="#2a2ab0" stroke-width="0.7" stroke-dasharray="1.2 0.4" opacity="0.8"/>
<line x1="443.1" y1="657.1" x2="448.1" y2="657.1" stroke="#2a2ab0" stroke-width="0.7" stroke-dasharray="1.2 0.4" opacity="0.8"/>
<line x1="443.1" y1="659.7" x2="447.1" y2="659.7" stroke="#2a2ab0" stroke-width="0.7" stroke-dasharray="1.2 0.4" opacity="0.8"/>
<line x1="443.1" y1="662.3" x2="448.1" y2="662.3" stroke="#2a2ab0" stroke-width="0.7" stroke-dasharray="1.2 0.4" opacity="0.8"/>
<line x1="443.1" y1="665" x2="447.1" y2="665" stroke="#2a2ab0" stroke-width="0.7" stroke-dasharray="1.2 0.4" opacity="0.8"/>
<line x1="443.1" y1="667.6" x2="448.1" y2="667.6" stroke="#2a2ab0" stroke-width="0.7" stroke-dasharray="1.2 0.4" opacity="0.8"/>
<line x1="443.1" y1="670.2" x2="447.1" y2="670.2" stroke="#2a2ab0" stroke-width="0.7" stroke-dasharray="1.2 0.4" opacity="0.8"/>
<line x1="460.1" y1="646.6" x2="470.8" y2="646.6" stroke="#2a2ab0" stroke-width="0.6" stroke-dasharray="1 0.6 2 0.5" opacity="0.8"/>
<line x1="460.1" y1="649.2" x2="470.8" y2="649.2" stroke="#2a2ab0" stroke-width="0.6" stroke-dasharray="1 0.6 2 0.5" opacity="0.8"/>
<line x1="460.1" y1="651.9" x2="470.8" y2="651.9" stroke="#2a2ab0" stroke-width="0.6" stroke-dasharray="1 0.6 2 0.5" opacity="0.8"/>
<line x1="460.1" y1="654.5" x2="470.8" y2="654.5" stroke="#2a2ab0" stroke-width="0.6" stroke-dasharray="1 0.6 2 0.5" opacity="0.8"/>
<line x1="425.1" y1="645.3" x2="448.1" y2="645.3" stroke="#2a2ab0" stroke-width="0.6" stroke-dasharray="0.8 0.5 3 0.4 1.5 0.8" opacity="0.75"/>
<line x1="430.1" y1="647.9" x2="448.1" y2="647.9" stroke="#2a2ab0" stroke-width="0.5" stroke-dasharray="0.8 0.8 2 0.9" opacity="0.7"/>
<line x1="497.1" y1="646.3" x2="498.4" y2="646.3" stroke="#2a2ab0" stroke-width="0.7" />
<line x1="509.1" y1="646.3" x2="521.1" y2="646.3" stroke="#2a2ab0" stroke-width="0.55" stroke-dasharray="1 0.5 2 0.4" opacity="0.8"/>
<line x1="514.1" y1="648.7" x2="520.1" y2="648.7" stroke="#2a2ab0" stroke-width="0.55" stroke-dasharray="1 0.5 2 0.4" opacity="0.8"/>
<line x1="515.1" y1="651.1" x2="519.6" y2="651.1" stroke="#2a2ab0" stroke-width="0.55" stroke-dasharray="1 0.5 2 0.4" opacity="0.8"/>
<line x1="517.1" y1="653.5" x2="520.1" y2="653.5" stroke="#2a2ab0" stroke-width="0.55" stroke-dasharray="1 0.5 2 0.4" opacity="0.8"/>
<text x="530.1" y="528.6" font-size="2.2" text-anchor="start" fill="#333" >[0-167]</text>
<path d="M528.9,540.4 L528.9,540.3 L529.2,540.4 L529.5,540.2 L529.8,540.3 L530.1,540.1 L530.4,540.4 L530.7,540.3 L531.0,540.2 L531.3,540.4 L531.6,540.3 L531.9,540.3 L532.2,540.3 L532.5,540.3 L532.8,540.2 L533.1,540.3 L533.4,540.3 L533.7,540.3 L534.0,540.3 L534.3,540.4 L534.6,540.4 L534.9,540.4 L535.2,540.4 L535.5,540.3 L535.8,540.4 L536.1,540.3 L536.4,540.2 L536.7,540.4 L537.0,540.3 L537.3,540.4 L537.6,540.2 L537.9,540.3 L538.2,540.4 L538.5,540.4 L538.8,540.3 L539.1,540.3 L539.4,540.4 L539.7,540.3 L540.0,540.4 L540.3,540.4 L540.6,540.4 L540.9,540.4 L541.2,540.3 L541.5,540.4 L541.8,540.4 L542.1,540.4 L542.4,540.3 L542.7,540.3 L543.0,540.2 L543.3,540.4 L543.6,540.3 L543.9,540.3 L544.2,540.4 L544.5,540.3 L544.8,540.4 L545.1,540.3 L545.4,540.4 L545.7,540.4 L546.0,540.2 L546.3,540.4 L546.6,540.3 L546.9,540.4 L547.2,540.2 L547.5,540.4 L547.8,540.4 L548.1,540.2 L548.4,540.3 L548.7,540.3 L549.0,540.4 L549.3,540.3 L549.6,540.3 L549.9,540.3 L550.2,540.2 L550.5,540.3 L550.8,540.4 L551.1,540.4 L551.4,540.3 L551.7,540.2 L552.0,540.4 L552.3,540.3 L552.6,540.1 L552.9,535.5 L553.2,526.3 L553.5,535.2 L553.8,540.0 L554.1,540.4 L554.4,540.4 L554.7,540.3 L555.0,540.2 L555.3,540.3 L555.6,540.3 L555.9,540.3 L556.2,540.1 L556.5,540.4 L556.8,540.2 L557.1,540.3 L557.4,540.4 L557.7,540.3 L558.0,540.4 L558.3,540.1 L558.6,540.4 L558.9,540.3 L559.2,540.3 L559.5,540.4 L559.8,540.3 L560.1,540.1 L560.4,540.4 L560.7,540.4 L561.0,540.4 L561.3,540.4 L561.6,540.3 L561.9,540.2 L562.2,540.4 L562.5,540.2 L562.8,540.2 L563.1,540.3 L563.4,540.3 L563.7,540.4 L564.0,540.4 L564.3,540.4 L564.6,540.2 L564.9,540.3 L565.2,540.3 L565.5,540.4 L565.8,540.4 L566.1,540.4 L566.4,540.2 L566.7,538.9 L567.0,538.1 L567.3,539.9 L567.6,540.2 L567.9,540.3 L568.2,539.3 L568.5,539.0 L568.8,540.1 L569.1,540.4 L569.4,540.2 L569.7,540.4 L570.0,540.4 L570.3,540.4 L570.6,540.4 L570.9,540.3 L571.2,540.4 L571.5,540.4 L571.8,540.4 L572.1,540.3 L572.4,540.3 L572.7,540.3 L573.0,539.8 L573.3,538.0 L573.6,538.9 L573.9,540.2 L574.2,540.4 L574.5,540.4 L574.8,540.0 L575.1,536.9 L575.4,530.4 L575.7,536.7 L576.0,540.2 L576.3,540.4 L576.6,540.4 L576.9,540.4 L577.2,540.3 L577.5,540.3 L577.8,540.3 L578.1,539.2 L578.4,537.5 L578.7,539.3 L579.0,540.1 L579.3,540.2 L579.6,540.2 L579.9,539.2 L580.2,534.7 L580.5,536.2 L580.8,539.6 L581.1,535.6 L581.4,527.3 L581.7,535.7 L582.0,540.1 L582.3,540.4 L582.6,540.3 L582.9,540.0 L583.2,535.6 L583.5,527.1 L583.8,535.5 L584.1,540.1 L584.4,540.4 L584.7,540.2 L585.0,540.3 L585.3,540.2 L585.6,540.4 L585.9,540.4 L586.2,540.4 L586.5,540.3 L586.8,540.3 L587.1,540.3 L587.4,540.3 L587.7,540.3 L588.0,540.4 L588.3,540.3 L588.6,539.9 L588.9,539.2 L589.2,539.9 L589.5,540.3 L589.8,540.2 L590.1,540.2 L590.4,540.3 L590.7,540.4 L591.0,540.4 L591.3,540.3 L591.6,540.4 L591.9,539.6 L592.2,532.3 L592.5,529.4 L592.8,538.3 L593.1,540.3 L593.4,540.4 L593.7,540.4 L594.0,540.3 L594.3,540.3 L594.6,540.4 L594.9,540.3 L595.2,540.4 L595.5,540.4 L595.8,540.2 L596.1,537.7 L596.4,533.7 L596.7,538.0 L597.0,540.2 L597.3,540.4 L597.6,540.3 L597.9,540.4 L598.2,540.3 L598.5,540.4 L598.8,540.3 L599.1,540.3 L599.4,540.3 L599.7,540.4 L600.0,540.1 L600.3,540.1 L600.6,540.4 L600.9,540.3 L601.2,540.1 L601.5,540.2 L601.8,540.4 L602.1,540.2 L602.4,540.3 L602.7,540.4 L603.0,540.4 L603.3,540.4 L603.6,540.4 L603.9,540.4 L604.2,540.0 L604.5,539.1 L604.8,539.2 L605.1,540.3 L605.4,540.3 L605.7,540.3 L606.0,540.3 L606.3,540.4 L606.6,540.4 L606.9,540.4 L607.2,540.4 L607.5,540.4 L607.8,540.3 L608.1,540.2 L608.4,540.4 L608.7,540.2 L609.0,540.3 L609.3,540.2 L609.6,540.3 L609.9,540.4 L610.2,540.4 L610.5,540.4 L610.8,540.3 L611.1,540.2 L611.4,540.3 L611.7,540.4 L612.0,540.4 L612.3,540.4 L612.6,540.3 L612.9,540.2 L613.2,540.4 L613.5,540.4 L613.8,540.3 L614.1,540.2 L614.4,540.4 L614.7,540.3 L615.0,540.3 L615.3,540.3 L615.6,540.3 L615.9,540.3 L616.2,540.3 L616.5,540.4 L616.8,540.4 L617.1,540.1 L617.4,540.4 L617.7,540.4 L618.0,540.3 L618.3,540.3 L618.6,540.3 L618.9,540.2 L619.2,540.3 L619.5,540.3 L619.8,540.4 L620.1,540.3 L620.4,540.4 L620.7,540.4 L621.0,540.4 L621.3,540.4 L621.6,540.4 L621.9,540.3 L622.2,540.3 L622.5,540.4 L622.8,540.3 L623.1,540.3 L623.4,540.3 L623.7,540.3 L624.0,540.1 L624.3,540.3 L624.6,540.3 L624.9,540.3 L625.2,540.4 L625.5,540.4 L625.8,540.2 L626.1,538.8 L626.4,538.2 L626.7,539.9 L627.0,540.3 L627.3,540.4 L627.6,540.1 L627.9,538.8 L628.2,536.7 L628.5,538.8 L628.8,540.2 L629.1,540.3 L629.4,540.3 L629.7,540.3 L630.0,540.4 L630.3,540.3 L630.6,540.4 L630.9,540.3 L631.2,540.4 L631.5,540.2 L631.8,540.3 L632.1,540.2 L632.4,539.1 L632.7,538.6 L633.0,540.0 L633.3,540.3 L633.6,540.3 L633.9,540.3 L634.2,540.3 L634.5,540.3 L634.8,540.3 L635.1,540.3 L635.4,540.3 L635.7,540.3 L636.0,540.4 L636.3,540.2 L636.6,540.3 L636.9,540.4 L637.2,540.4 L637.5,540.2 L637.8,540.3 L638.1,540.3 L638.4,540.4 L638.7,540.3 L639.0,540.3 L639.3,540.4 L639.6,540.1 L639.9,540.2 L640.2,540.4 L640.5,540.4 L640.8,540.3 L641.1,540.3 L641.4,540.3 L641.7,540.2 L642.0,540.2 L642.3,538.9 L642.6,536.3 L642.9,538.9 L643.2,540.2 L643.5,540.3 L643.8,540.3 L644.1,540.3 L644.4,540.4 L644.7,540.4 L645.0,540.3 L645.3,540.3 L645.6,540.3 L645.9,540.4 L646.2,540.4 L646.5,540.4 L646.8,540.3 L647.1,540.2 L647.4,540.3 L647.7,540.3 L648.0,540.2 L648.3,540.3 L648.6,540.4 L648.9,540.3 L649.2,540.3 L649.5,540.2 L649.8,540.4 L650.1,540.3 L650.4,540.4 L650.7,540.3 L651.0,540.3 L651.3,540.3 L651.6,540.3 L651.9,540.4 L652.2,540.4 L652.5,540.3 L652.8,540.4 L653.1,540.3 L653.4,540.3 L653.7,540.4 L654.0,540.3 L654.3,540.4 L654.6,540.4 L654.9,540.3 L655.2,540.4 L655.5,540.3 L655.8,540.4 L656.1,540.3 L656.4,539.1 L656.7,537.1 L657.0,539.1 L657.3,540.2 L657.6,540.3 L657.9,540.2 L658.2,540.4 L658.5,540.3 L658.8,540.3 L659.1,540.4 L659.2,540.4 Z" fill="#2a2aee"/>
<line x1="528.9" y1="540.4" x2="659.2" y2="540.4" stroke="#2a2aee" stroke-width="0.35" opacity="0.9"/>
<filter id="rd20" filterUnits="userSpaceOnUse" x="528.9" y="541.6" width="130.3" height="31.9" color-interpolation-filters="sRGB">
<feTurbulence type="fractalNoise" baseFrequency="0.95 1.4" numOctaves="2" seed="74"/>
<feColorMatrix type="matrix" values="0 0 0 0 0.62  0 0 0 0 0.62  0 0 0 0 0.62  1 0 0 0 0"/>
<feComposite in2="SourceGraphic" operator="arithmetic" k1="1" k2="0" k3="0" k4="0"/>
<feComponentTransfer><feFuncA type="linear" slope="3.5" intercept="-1.8"/></feComponentTransfer></filter>
<g filter="url(#rd20)">
<linearGradient id="rd20g0" gradientUnits="userSpaceOnUse" x1="0" x2="0" y1="541.6" y2="573.5"><stop offset="0" stop-color="#fff" stop-opacity="0.78"/><stop offset="1" stop-color="#fff" stop-opacity="0.7"/></linearGradient>
<rect x="528.9" y="541.6" width="130.3" height="31.9" fill="url(#rd20g0)" />
<linearGradient id="rd20g1" gradientUnits="userSpaceOnUse" x1="0" x2="0" y1="541.6" y2="571.5"><stop offset="0" stop-color="#fff" stop-opacity="1.0"/><stop offset="1" stop-color="#fff" stop-opacity="0.661"/></linearGradient>
<rect x="552.6" y="541.6" width="1.2" height="29.9" fill="url(#rd20g1)" />
<linearGradient id="rd20g2" gradientUnits="userSpaceOnUse" x1="0" x2="0" y1="541.6" y2="571.5"><stop offset="0" stop-color="#fff" stop-opacity="0.682"/><stop offset="1" stop-color="#fff" stop-opacity="0.39"/></linearGradient>
<rect x="566.3" y="541.6" width="1.2" height="29.9" fill="url(#rd20g2)" />
<linearGradient id="rd20g3" gradientUnits="userSpaceOnUse" x1="0" x2="0" y1="541.6" y2="571.5"><stop offset="0" stop-color="#fff" stop-opacity="1.0"/><stop offset="1" stop-color="#fff" stop-opacity="0.661"/></linearGradient>
<rect x="574.8" y="541.6" width="1.2" height="29.9" fill="url(#rd20g3)" />
<linearGradient id="rd20g4" gradientUnits="userSpaceOnUse" x1="0" x2="0" y1="541.6" y2="571.5"><stop offset="0" stop-color="#fff" stop-opacity="0.682"/><stop offset="1" stop-color="#fff" stop-opacity="0.39"/></linearGradient>
<rect x="577.8" y="541.6" width="1.2" height="29.9" fill="url(#rd20g4)" />
<linearGradient id="rd20g5" gradientUnits="userSpaceOnUse" x1="0" x2="0" y1="541.6" y2="571.5"><stop offset="0" stop-color="#fff" stop-opacity="1.0"/><stop offset="1" stop-color="#fff" stop-opacity="0.661"/></linearGradient>
<rect x="579.7" y="541.6" width="1.2" height="29.9" fill="url(#rd20g5)" />
<linearGradient id="rd20g6" gradientUnits="userSpaceOnUse" x1="0" x2="0" y1="541.6" y2="571.5"><stop offset="0" stop-color="#fff" stop-opacity="1.0"/><stop offset="1" stop-color="#fff" stop-opacity="0.661"/></linearGradient>
<rect x="580.8" y="541.6" width="1.2" height="29.9" fill="url(#rd20g6)" />
<linearGradient id="rd20g7" gradientUnits="userSpaceOnUse" x1="0" x2="0" y1="541.6" y2="571.5"><stop offset="0" stop-color="#fff" stop-opacity="1.0"/><stop offset="1" stop-color="#fff" stop-opacity="0.661"/></linearGradient>
<rect x="582.9" y="541.6" width="1.2" height="29.9" fill="url(#rd20g7)" />
<linearGradient id="rd20g8" gradientUnits="userSpaceOnUse" x1="0" x2="0" y1="541.6" y2="571.5"><stop offset="0" stop-color="#fff" stop-opacity="1.0"/><stop offset="1" stop-color="#fff" stop-opacity="0.661"/></linearGradient>
<rect x="591.8" y="541.6" width="1.2" height="29.9" fill="url(#rd20g8)" />
<linearGradient id="rd20g9" gradientUnits="userSpaceOnUse" x1="0" x2="0" y1="541.6" y2="571.5"><stop offset="0" stop-color="#fff" stop-opacity="1.0"/><stop offset="1" stop-color="#fff" stop-opacity="0.661"/></linearGradient>
<rect x="595.8" y="541.6" width="1.2" height="29.9" fill="url(#rd20g9)" />
<linearGradient id="rd20g10" gradientUnits="userSpaceOnUse" x1="0" x2="0" y1="541.6" y2="571.5"><stop offset="0" stop-color="#fff" stop-opacity="0.682"/><stop offset="1" stop-color="#fff" stop-opacity="0.39"/></linearGradient>
<rect x="625.7" y="541.6" width="1.2" height="29.9" fill="url(#rd20g10)" />
<linearGradient id="rd20g11" gradientUnits="userSpaceOnUse" x1="0" x2="0" y1="541.6" y2="571.5"><stop offset="0" stop-color="#fff" stop-opacity="0.682"/><stop offset="1" stop-color="#fff" stop-opacity="0.39"/></linearGradient>
<rect x="627.6" y="541.6" width="1.2" height="29.9" fill="url(#rd20g11)" />
<linearGradient id="rd20g12" gradientUnits="userSpaceOnUse" x1="0" x2="0" y1="541.6" y2="571.5"><stop offset="0" stop-color="#fff" stop-opacity="0.682"/><stop offset="1" stop-color="#fff" stop-opacity="0.39"/></linearGradient>
<rect x="642" y="541.6" width="1.2" height="29.9" fill="url(#rd20g12)" />
<linearGradient id="rd20g13" gradientUnits="userSpaceOnUse" x1="0" x2="0" y1="541.6" y2="571.5"><stop offset="0" stop-color="#fff" stop-opacity="0.682"/><stop offset="1" stop-color="#fff" stop-opacity="0.39"/></linearGradient>
<rect x="656.1" y="541.6" width="1.2" height="29.9" fill="url(#rd20g13)" />
<linearGradient id="rd20g14" gradientUnits="userSpaceOnUse" x1="0" x2="0" y1="541.6" y2="571.5"><stop offset="0" stop-color="#fff" stop-opacity="0.682"/><stop offset="1" stop-color="#fff" stop-opacity="0.39"/></linearGradient>
<rect x="572.8" y="541.6" width="1.2" height="29.9" fill="url(#rd20g14)" />
<linearGradient id="rd20g15" gradientUnits="userSpaceOnUse" x1="0" x2="0" y1="541.6" y2="573.5"><stop offset="0" stop-color="#fff" stop-opacity="0.273"/><stop offset="1" stop-color="#fff" stop-opacity="0.133"/></linearGradient>
<rect x="571.9" y="541.6" width="2.9" height="31.9" fill="url(#rd20g15)" />
<linearGradient id="rd20g16" gradientUnits="userSpaceOnUse" x1="0" x2="0" y1="541.6" y2="573.5"><stop offset="0" stop-color="#fff" stop-opacity="0.273"/><stop offset="1" stop-color="#fff" stop-opacity="0.133"/></linearGradient>
<rect x="584.1" y="541.6" width="1.8" height="31.9" fill="url(#rd20g16)" />
</g>
<polygon points="654.4,527.8 660.8,527.8 657.6,533.4" fill="#000" />
<text x="530.1" y="587.4" font-size="2.2" text-anchor="start" fill="#333" >[0-167]</text>
<path d="M528.9,599.5 L528.9,599.4 L529.2,599.5 L529.5,599.4 L529.8,599.4 L530.1,599.4 L530.4,599.5 L530.7,599.4 L531.0,599.4 L531.3,599.5 L531.6,599.5 L531.9,599.4 L532.2,599.5 L532.5,599.4 L532.8,599.4 L533.1,599.5 L533.4,599.5 L533.7,599.3 L534.0,599.5 L534.3,599.4 L534.6,599.3 L534.9,599.4 L535.2,599.4 L535.5,599.4 L535.8,599.5 L536.1,599.5 L536.4,599.3 L536.7,599.4 L537.0,599.4 L537.3,599.3 L537.6,599.5 L537.9,599.5 L538.2,599.3 L538.5,599.4 L538.8,599.3 L539.1,599.5 L539.4,599.4 L539.7,599.5 L540.0,599.4 L540.3,599.5 L540.6,599.3 L540.9,599.3 L541.2,599.5 L541.5,599.4 L541.8,599.3 L542.1,599.5 L542.4,599.5 L542.7,599.4 L543.0,599.5 L543.3,599.4 L543.6,599.5 L543.9,599.5 L544.2,599.4 L544.5,599.5 L544.8,599.4 L545.1,599.5 L545.4,599.4 L545.7,599.4 L546.0,599.5 L546.3,599.5 L546.6,599.4 L546.9,599.4 L547.2,599.3 L547.5,599.5 L547.8,599.5 L548.1,599.5 L548.4,599.4 L548.7,599.5 L549.0,599.4 L549.3,599.3 L549.6,599.5 L549.9,599.3 L550.2,599.5 L550.5,599.4 L550.8,599.5 L551.1,599.4 L551.4,599.3 L551.7,599.4 L552.0,599.5 L552.3,599.5 L552.6,599.2 L552.9,594.4 L553.2,586.3 L553.5,594.7 L553.8,599.2 L554.1,599.5 L554.4,599.4 L554.7,599.4 L555.0,599.4 L555.3,599.5 L555.6,599.5 L555.9,599.4 L556.2,599.3 L556.5,599.5 L556.8,599.3 L557.1,599.5 L557.4,599.5 L557.7,599.4 L558.0,599.3 L558.3,599.5 L558.6,599.4 L558.9,599.4 L559.2,599.4 L559.5,599.3 L559.8,599.4 L560.1,599.4 L560.4,599.5 L560.7,599.5 L561.0,599.4 L561.3,599.5 L561.6,599.4 L561.9,599.5 L562.2,599.4 L562.5,599.5 L562.8,599.5 L563.1,599.5 L563.4,599.5 L563.7,599.5 L564.0,599.3 L564.3,599.5 L564.6,599.5 L564.9,599.5 L565.2,599.4 L565.5,599.3 L565.8,599.4 L566.1,599.5 L566.4,599.2 L566.7,597.8 L567.0,597.2 L567.3,599.1 L567.6,599.4 L567.9,599.3 L568.2,598.5 L568.5,598.1 L568.8,599.3 L569.1,599.4 L569.4,599.5 L569.7,599.4 L570.0,599.4 L570.3,599.3 L570.6,599.2 L570.9,599.3 L571.2,599.5 L571.5,599.4 L571.8,599.5 L572.1,599.5 L572.4,599.5 L572.7,599.5 L573.0,599.0 L573.3,597.4 L573.6,597.9 L573.9,599.3 L574.2,599.4 L574.5,599.5 L574.8,599.2 L575.1,595.9 L575.4,589.4 L575.7,596.1 L576.0,599.3 L576.3,599.5 L576.6,599.5 L576.9,599.4 L577.2,599.5 L577.5,599.5 L577.8,599.3 L578.1,598.4 L578.4,596.6 L578.7,598.5 L579.0,599.3 L579.3,599.4 L579.6,599.4 L579.9,598.2 L580.2,593.6 L580.5,595.2 L580.8,598.9 L581.1,594.8 L581.4,586.0 L581.7,594.7 L582.0,599.2 L582.3,599.3 L582.6,599.4 L582.9,599.1 L583.2,594.8 L583.5,586.3 L583.8,594.7 L584.1,599.2 L584.4,599.5 L584.7,599.4 L585.0,599.4 L585.3,599.5 L585.6,599.4 L585.9,599.5 L586.2,599.4 L586.5,599.5 L586.8,599.3 L587.1,599.5 L587.4,599.4 L587.7,599.5 L588.0,599.4 L588.3,599.5 L588.6,599.0 L588.9,598.2 L589.2,599.0 L589.5,599.4 L589.8,599.4 L590.1,599.4 L590.4,599.4 L590.7,599.3 L591.0,599.4 L591.3,599.4 L591.6,599.4 L591.9,598.6 L592.2,591.9 L592.5,588.5 L592.8,597.3 L593.1,599.4 L593.4,599.5 L593.7,599.4 L594.0,599.4 L594.3,599.5 L594.6,599.3 L594.9,599.5 L595.2,599.4 L595.5,599.5 L595.8,599.4 L596.1,597.0 L596.4,592.7 L596.7,596.9 L597.0,599.3 L597.3,599.4 L597.6,599.5 L597.9,599.5 L598.2,599.5 L598.5,599.4 L598.8,599.5 L599.1,599.3 L599.4,599.5 L599.7,599.4 L600.0,599.5 L600.3,599.5 L600.6,599.3 L600.9,599.4 L601.2,599.5 L601.5,599.5 L601.8,599.4 L602.1,599.4 L602.4,599.5 L602.7,599.4 L603.0,599.4 L603.3,599.5 L603.6,599.3 L603.9,599.3 L604.2,599.2 L604.5,598.1 L604.8,598.5 L605.1,599.4 L605.4,599.4 L605.7,599.4 L606.0,599.3 L606.3,599.4 L606.6,599.4 L606.9,599.4 L607.2,599.5 L607.5,599.4 L607.8,599.5 L608.1,599.5 L608.4,599.5 L608.7,599.4 L609.0,599.5 L609.3,599.4 L609.6,599.4 L609.9,599.5 L610.2,599.3 L610.5,599.4 L610.8,599.4 L611.1,599.5 L611.4,599.5 L611.7,599.4 L612.0,599.5 L612.3,599.4 L612.6,599.5 L612.9,599.3 L613.2,599.4 L613.5,599.4 L613.8,599.4 L614.1,599.3 L614.4,599.5 L614.7,599.4 L615.0,599.5 L615.3,599.3 L615.6,599.5 L615.9,599.4 L616.2,599.5 L616.5,599.5 L616.8,599.4 L617.1,599.4 L617.4,599.5 L617.7,599.5 L618.0,599.4 L618.3,599.4 L618.6,599.4 L618.9,599.4 L619.2,599.4 L619.5,599.5 L619.8,599.5 L620.1,599.4 L620.4,599.5 L620.7,599.5 L621.0,599.4 L621.3,599.4 L621.6,599.4 L621.9,599.5 L622.2,599.4 L622.5,599.4 L622.8,599.3 L623.1,599.5 L623.4,599.5 L623.7,599.5 L624.0,599.5 L624.3,599.3 L624.6,599.4 L624.9,599.3 L625.2,599.3 L625.5,599.4 L625.8,599.3 L626.1,597.9 L626.4,597.2 L626.7,598.9 L627.0,599.5 L627.3,599.4 L627.6,599.4 L627.9,598.7 L628.2,597.5 L628.5,598.7 L628.8,599.4 L629.1,599.4 L629.4,599.4 L629.7,599.4 L630.0,599.4 L630.3,599.5 L630.6,599.4 L630.9,599.4 L631.2,599.4 L631.5,599.5 L631.8,599.2 L632.1,599.4 L632.4,598.2 L632.7,597.7 L633.0,599.0 L633.3,599.3 L633.6,599.5 L633.9,599.4 L634.2,599.5 L634.5,599.4 L634.8,599.4 L635.1,599.2 L635.4,599.4 L635.7,599.4 L636.0,599.5 L636.3,599.4 L636.6,599.3 L636.9,599.4 L637.2,599.4 L637.5,599.5 L637.8,599.4 L638.1,599.4 L638.4,599.4 L638.7,599.4 L639.0,599.4 L639.3,599.4 L639.6,599.4 L639.9,599.3 L640.2,599.5 L640.5,599.3 L640.8,599.5 L641.1,599.5 L641.4,599.3 L641.7,599.5 L642.0,599.3 L642.3,598.6 L642.6,597.1 L642.9,598.6 L643.2,599.4 L643.5,599.3 L643.8,599.4 L644.1,599.5 L644.4,599.4 L644.7,599.5 L645.0,599.4 L645.3,599.5 L645.6,599.5 L645.9,599.2 L646.2,599.4 L646.5,599.2 L646.8,599.5 L647.1,599.5 L647.4,599.4 L647.7,599.5 L648.0,599.4 L648.3,599.4 L648.6,599.4 L648.9,599.4 L649.2,599.4 L649.5,599.3 L649.8,599.4 L650.1,599.4 L650.4,599.3 L650.7,599.5 L651.0,599.5 L651.3,599.4 L651.6,599.4 L651.9,599.4 L652.2,599.5 L652.5,599.5 L652.8,599.4 L653.1,599.5 L653.4,599.5 L653.7,599.3 L654.0,599.3 L654.3,599.2 L654.6,599.4 L654.9,599.4 L655.2,599.4 L655.5,599.4 L655.8,599.4 L656.1,599.3 L656.4,598.3 L656.7,596.1 L657.0,598.3 L657.3,599.4 L657.6,599.4 L657.9,599.4 L658.2,599.4 L658.5,599.4 L658.8,599.5 L659.1,599.4 L659.2,599.5 Z" fill="#2a2aee"/>
<line x1="528.9" y1="599.5" x2="659.2" y2="599.5" stroke="#2a2aee" stroke-width="0.35" opacity="0.9"/>
<filter id="rd21" filterUnits="userSpaceOnUse" x="528.9" y="600.8" width="130.3" height="32.2" color-interpolation-filters="sRGB">
<feTurbulence type="fractalNoise" baseFrequency="0.95 1.4" numOctaves="2" seed="75"/>
<feColorMatrix type="matrix" values="0 0 0 0 0.62  0 0 0 0 0.62  0 0 0 0 0.62  1 0 0 0 0"/>
<feComposite in2="SourceGraphic" operator="arithmetic" k1="1" k2="0" k3="0" k4="0"/>
<feComponentTransfer><feFuncA type="linear" slope="3.5" intercept="-1.8"/></feComponentTransfer></filter>
<g filter="url(#rd21)">
<linearGradient id="rd21g0" gradientUnits="userSpaceOnUse" x1="0" x2="0" y1="600.8" y2="633"><stop offset="0" stop-color="#fff" stop-opacity="0.78"/><stop offset="1" stop-color="#fff" stop-opacity="0.7"/></linearGradient>
<rect x="528.9" y="600.8" width="130.3" height="32.2" fill="url(#rd21g0)" />
<linearGradient id="rd21g1" gradientUnits="userSpaceOnUse" x1="0" x2="0" y1="600.8" y2="631"><stop offset="0" stop-color="#fff" stop-opacity="1.0"/><stop offset="1" stop-color="#fff" stop-opacity="0.661"/></linearGradient>
<rect x="552.6" y="600.8" width="1.2" height="30.2" fill="url(#rd21g1)" />
<linearGradient id="rd21g2" gradientUnits="userSpaceOnUse" x1="0" x2="0" y1="600.8" y2="631"><stop offset="0" stop-color="#fff" stop-opacity="0.682"/><stop offset="1" stop-color="#fff" stop-opacity="0.39"/></linearGradient>
<rect x="566.3" y="600.8" width="1.2" height="30.2" fill="url(#rd21g2)" />
<linearGradient id="rd21g3" gradientUnits="userSpaceOnUse" x1="0" x2="0" y1="600.8" y2="631"><stop offset="0" stop-color="#fff" stop-opacity="1.0"/><stop offset="1" stop-color="#fff" stop-opacity="0.661"/></linearGradient>
<rect x="574.8" y="600.8" width="1.2" height="30.2" fill="url(#rd21g3)" />
<linearGradient id="rd21g4" gradientUnits="userSpaceOnUse" x1="0" x2="0" y1="600.8" y2="631"><stop offset="0" stop-color="#fff" stop-opacity="0.682"/><stop offset="1" stop-color="#fff" stop-opacity="0.39"/></linearGradient>
<rect x="577.8" y="600.8" width="1.2" height="30.2" fill="url(#rd21g4)" />
<linearGradient id="rd21g5" gradientUnits="userSpaceOnUse" x1="0" x2="0" y1="600.8" y2="631"><stop offset="0" stop-color="#fff" stop-opacity="1.0"/><stop offset="1" stop-color="#fff" stop-opacity="0.661"/></linearGradient>
<rect x="579.7" y="600.8" width="1.2" height="30.2" fill="url(#rd21g5)" />
<linearGradient id="rd21g6" gradientUnits="userSpaceOnUse" x1="0" x2="0" y1="600.8" y2="631"><stop offset="0" stop-color="#fff" stop-opacity="1.0"/><stop offset="1" stop-color="#fff" stop-opacity="0.661"/></linearGradient>
<rect x="580.8" y="600.8" width="1.2" height="30.2" fill="url(#rd21g6)" />
<linearGradient id="rd21g7" gradientUnits="userSpaceOnUse" x1="0" x2="0" y1="600.8" y2="631"><stop offset="0" stop-color="#fff" stop-opacity="1.0"/><stop offset="1" stop-color="#fff" stop-opacity="0.661"/></linearGradient>
<rect x="582.9" y="600.8" width="1.2" height="30.2" fill="url(#rd21g7)" />
<linearGradient id="rd21g8" gradientUnits="userSpaceOnUse" x1="0" x2="0" y1="600.8" y2="631"><stop offset="0" stop-color="#fff" stop-opacity="1.0"/><stop offset="1" stop-color="#fff" stop-opacity="0.661"/></linearGradient>
<rect x="591.8" y="600.8" width="1.2" height="30.2" fill="url(#rd21g8)" />
<linearGradient id="rd21g9" gradientUnits="userSpaceOnUse" x1="0" x2="0" y1="600.8" y2="631"><stop offset="0" stop-color="#fff" stop-opacity="1.0"/><stop offset="1" stop-color="#fff" stop-opacity="0.661"/></linearGradient>
<rect x="595.8" y="600.8" width="1.2" height="30.2" fill="url(#rd21g9)" />
<linearGradient id="rd21g10" gradientUnits="userSpaceOnUse" x1="0" x2="0" y1="600.8" y2="631"><stop offset="0" stop-color="#fff" stop-opacity="0.682"/><stop offset="1" stop-color="#fff" stop-opacity="0.39"/></linearGradient>
<rect x="625.7" y="600.8" width="1.2" height="30.2" fill="url(#rd21g10)" />
<linearGradient id="rd21g11" gradientUnits="userSpaceOnUse" x1="0" x2="0" y1="600.8" y2="631"><stop offset="0" stop-color="#fff" stop-opacity="0.682"/><stop offset="1" stop-color="#fff" stop-opacity="0.39"/></linearGradient>
<rect x="642" y="600.8" width="1.2" height="30.2" fill="url(#rd21g11)" />
<linearGradient id="rd21g12" gradientUnits="userSpaceOnUse" x1="0" x2="0" y1="600.8" y2="631"><stop offset="0" stop-color="#fff" stop-opacity="0.682"/><stop offset="1" stop-color="#fff" stop-opacity="0.39"/></linearGradient>
<rect x="656.1" y="600.8" width="1.2" height="30.2" fill="url(#rd21g12)" />
<linearGradient id="rd21g13" gradientUnits="userSpaceOnUse" x1="0" x2="0" y1="600.8" y2="631"><stop offset="0" stop-color="#fff" stop-opacity="0.682"/><stop offset="1" stop-color="#fff" stop-opacity="0.39"/></linearGradient>
<rect x="572.8" y="600.8" width="1.2" height="30.2" fill="url(#rd21g13)" />
<linearGradient id="rd21g14" gradientUnits="userSpaceOnUse" x1="0" x2="0" y1="600.8" y2="633"><stop offset="0" stop-color="#fff" stop-opacity="0.273"/><stop offset="1" stop-color="#fff" stop-opacity="0.133"/></linearGradient>
<rect x="571.9" y="600.8" width="2.9" height="32.2" fill="url(#rd21g14)" />
<linearGradient id="rd21g15" gradientUnits="userSpaceOnUse" x1="0" x2="0" y1="600.8" y2="633"><stop offset="0" stop-color="#fff" stop-opacity="0.273"/><stop offset="1" stop-color="#fff" stop-opacity="0.133"/></linearGradient>
<rect x="584.1" y="600.8" width="1.8" height="32.2" fill="url(#rd21g15)" />
</g>
<polygon points="654.4,585.9 660.8,585.9 657.6,591.5" fill="#000" />
<line x1="528.9" y1="638" x2="659.2" y2="638" stroke="#888" stroke-width="0.3" />
<line x1="531.9" y1="638.4" x2="659.2" y2="638.4" stroke="#aaa" stroke-width="0.4" stroke-dasharray="3 5.1"/>
<line x1="529.4" y1="642.7" x2="556.2" y2="642.7" stroke="#2a2ab0" stroke-width="0.45" stroke-dasharray="2.2 0.5 0.8 0.4" opacity="0.8"/>
<line x1="560.9" y1="642.7" x2="585.4" y2="642.7" stroke="#2a2ab0" stroke-width="0.45" stroke-dasharray="2.2 0.5 0.8 0.4" opacity="0.8"/>
<line x1="592.4" y1="642.7" x2="608.9" y2="642.7" stroke="#2a2ab0" stroke-width="0.45" stroke-dasharray="2.2 0.5 0.8 0.4" opacity="0.8"/>
<line x1="622.9" y1="642.7" x2="658.9" y2="642.7" stroke="#2a2ab0" stroke-width="0.45" stroke-dasharray="2.2 0.5 0.8 0.4" opacity="0.8"/>
<line x1="540.9" y1="646.6" x2="553.9" y2="646.6" stroke="#2a2ab0" stroke-width="0.7" stroke-dasharray="1.6 0.5 0.7 0.9 2 0.4" opacity="0.85"/>
<line x1="540.9" y1="649.2" x2="553.9" y2="649.2" stroke="#2a2ab0" stroke-width="0.7" stroke-dasharray="1.6 0.5 0.7 0.9 2 0.4" opacity="0.85"/>
<line x1="540.9" y1="651.9" x2="553.9" y2="651.9" stroke="#2a2ab0" stroke-width="0.7" stroke-dasharray="1.6 0.5 0.7 0.9 2 0.4" opacity="0.85"/>
<line x1="540.9" y1="654.5" x2="553.9" y2="654.5" stroke="#2a2ab0" stroke-width="0.7" stroke-dasharray="1.6 0.5 0.7 0.9 2 0.4" opacity="0.85"/>
<line x1="540.9" y1="657.1" x2="553.9" y2="657.1" stroke="#2a2ab0" stroke-width="0.7" stroke-dasharray="1.6 0.5 0.7 0.9 2 0.4" opacity="0.85"/>
<line x1="540.9" y1="659.7" x2="553.9" y2="659.7" stroke="#2a2ab0" stroke-width="0.7" stroke-dasharray="1.6 0.5 0.7 0.9 2 0.4" opacity="0.85"/>
<line x1="540.9" y1="662.3" x2="553.9" y2="662.3" stroke="#2a2ab0" stroke-width="0.7" stroke-dasharray="1.6 0.5 0.7 0.9 2 0.4" opacity="0.85"/>
<line x1="540.9" y1="665" x2="553.9" y2="665" stroke="#2a2ab0" stroke-width="0.7" stroke-dasharray="1.6 0.5 0.7 0.9 2 0.4" opacity="0.85"/>
<line x1="540.9" y1="667.6" x2="553.9" y2="667.6" stroke="#2a2ab0" stroke-width="0.7" stroke-dasharray="1.6 0.5 0.7 0.9 2 0.4" opacity="0.85"/>
<line x1="579.9" y1="644" x2="583.9" y2="644" stroke="#2a2ab0" stroke-width="0.7" stroke-dasharray="1.2 0.4" opacity="0.8"/>
<line x1="579.9" y1="646.6" x2="584.9" y2="646.6" stroke="#2a2ab0" stroke-width="0.7" stroke-dasharray="1.2 0.4" opacity="0.8"/>
<line x1="579.9" y1="649.2" x2="583.9" y2="649.2" stroke="#2a2ab0" stroke-width="0.7" stroke-dasharray="1.2 0.4" opacity="0.8"/>
<line x1="579.9" y1="651.9" x2="584.9" y2="651.9" stroke="#2a2ab0" stroke-width="0.7" stroke-dasharray="1.2 0.4" opacity="0.8"/>
<line x1="579.9" y1="654.5" x2="583.9" y2="654.5" stroke="#2a2ab0" stroke-width="0.7" stroke-dasharray="1.2 0.4" opacity="0.8"/>
<line x1="579.9" y1="657.1" x2="584.9" y2="657.1" stroke="#2a2ab0" stroke-width="0.7" stroke-dasharray="1.2 0.4" opacity="0.8"/>
<line x1="579.9" y1="659.7" x2="583.9" y2="659.7" stroke="#2a2ab0" stroke-width="0.7" stroke-dasharray="1.2 0.4" opacity="0.8"/>
<line x1="579.9" y1="662.3" x2="584.9" y2="662.3" stroke="#2a2ab0" stroke-width="0.7" stroke-dasharray="1.2 0.4" opacity="0.8"/>
<line x1="579.9" y1="665" x2="583.9" y2="665" stroke="#2a2ab0" stroke-width="0.7" stroke-dasharray="1.2 0.4" opacity="0.8"/>
<line x1="579.9" y1="667.6" x2="584.9" y2="667.6" stroke="#2a2ab0" stroke-width="0.7" stroke-dasharray="1.2 0.4" opacity="0.8"/>
<line x1="579.9" y1="670.2" x2="583.9" y2="670.2" stroke="#2a2ab0" stroke-width="0.7" stroke-dasharray="1.2 0.4" opacity="0.8"/>
<line x1="596.9" y1="646.6" x2="607.6" y2="646.6" stroke="#2a2ab0" stroke-width="0.6" stroke-dasharray="1 0.6 2 0.5" opacity="0.8"/>
<line x1="596.9" y1="649.2" x2="607.6" y2="649.2" stroke="#2a2ab0" stroke-width="0.6" stroke-dasharray="1 0.6 2 0.5" opacity="0.8"/>
<line x1="596.9" y1="651.9" x2="607.6" y2="651.9" stroke="#2a2ab0" stroke-width="0.6" stroke-dasharray="1 0.6 2 0.5" opacity="0.8"/>
<line x1="596.9" y1="654.5" x2="607.6" y2="654.5" stroke="#2a2ab0" stroke-width="0.6" stroke-dasharray="1 0.6 2 0.5" opacity="0.8"/>
<line x1="561.9" y1="645.3" x2="584.9" y2="645.3" stroke="#2a2ab0" stroke-width="0.6" stroke-dasharray="0.8 0.5 3 0.4 1.5 0.8" opacity="0.75"/>
<line x1="566.9" y1="647.9" x2="584.9" y2="647.9" stroke="#2a2ab0" stroke-width="0.5" stroke-dasharray="0.8 0.8 2 0.9" opacity="0.7"/>
<line x1="633.9" y1="646.3" x2="635.2" y2="646.3" stroke="#2a2ab0" stroke-width="0.7" />
<line x1="645.9" y1="646.3" x2="657.9" y2="646.3" stroke="#2a2ab0" stroke-width="0.55" stroke-dasharray="1 0.5 2 0.4" opacity="0.8"/>
<line x1="650.9" y1="648.7" x2="656.9" y2="648.7" stroke="#2a2ab0" stroke-width="0.55" stroke-dasharray="1 0.5 2 0.4" opacity="0.8"/>
<line x1="651.9" y1="651.1" x2="656.4" y2="651.1" stroke="#2a2ab0" stroke-width="0.55" stroke-dasharray="1 0.5 2 0.4" opacity="0.8"/>
<line x1="653.9" y1="653.5" x2="656.9" y2="653.5" stroke="#2a2ab0" stroke-width="0.55" stroke-dasharray="1 0.5 2 0.4" opacity="0.8"/>
<text x="270" y="622.5" font-size="2" text-anchor="start" fill="#888" >—</text>
<text x="9" y="706.3" font-size="13.2" text-anchor="start" font-weight="bold" fill="#000" >f</text>
<ellipse cx="80.6" cy="729" rx="52.6" ry="10.4" fill="none" stroke="#1a1a1a" stroke-width="0.75"/>
<g transform="rotate(-9 44.6 719.3)">
<polygon points="35,714.8 43.1,714.8 43.1,710.8 54.2,719.3 43.1,727.8 43.1,723.8 35,723.8" fill="#f4877a" stroke="#2b2b2b" stroke-width="0.6" stroke-linejoin="miter"/>
<text x="43.1" y="720.8" font-size="4.7" text-anchor="middle" fill="#3a1a1a" >EF1a</text>
</g>
<rect x="55.1" y="711.4" width="27.4" height="15.1" fill="#c5cbe9" stroke="#333" stroke-width="0.6"/>
<text x="68.8" y="720.8" font-size="5.1" text-anchor="middle" fill="#333" >dCas9</text>
<rect x="83.4" y="711.4" width="18.2" height="15.1" fill="#4fbff5" stroke="#333" stroke-width="0.6"/>
<text x="92.5" y="720.8" font-size="5.1" text-anchor="middle" fill="#333" >BFP</text>
<rect x="102.5" y="711.4" width="18.3" height="15.1" fill="#c4177c" stroke="#333" stroke-width="0.6"/>
<text x="111.7" y="720.8" font-size="5.1" text-anchor="middle" fill="#3a0a2a" >KRAB</text>
<ellipse cx="78.3" cy="768.9" rx="52" ry="10.7" fill="none" stroke="#1a1a1a" stroke-width="0.75"/>
<g transform="rotate(-14 43.6 761.5)">
<polygon points="33.9,757 42,757 42,753 53.3,761.5 42,770 42,766 33.9,766" fill="#f4877a" stroke="#2b2b2b" stroke-width="0.6" stroke-linejoin="miter"/>
<text x="42.1" y="763" font-size="4.7" text-anchor="middle" fill="#3a1a1a" >U6</text>
</g>
<rect x="54.2" y="750.4" width="18.2" height="15.4" fill="#5fe6cf" stroke="#333" stroke-width="0.6"/>
<text x="63.3" y="759.9" font-size="5.1" text-anchor="middle" fill="#333" >gRNA</text>
<g transform="rotate(0 84.1 758.3)">
<polygon points="74.7,753.8 82.6,753.8 82.6,749.8 93.4,758.3 82.6,766.8 82.6,762.8 74.7,762.8" fill="#f4877a" stroke="#2b2b2b" stroke-width="0.6" stroke-linejoin="miter"/>
<text x="82.6" y="759.8" font-size="4.7" text-anchor="middle" fill="#3a1a1a" >EF1a</text>
</g>
<rect x="94.6" y="750.4" width="18.7" height="15.4" fill="#e8230f" stroke="#333" stroke-width="0.6"/>
<text x="103.9" y="759.9" font-size="3.9" text-anchor="middle" fill="#5a0a05" >mCherry</text>
<ellipse cx="78.3" cy="812.2" rx="52" ry="10.2" fill="none" stroke="#1a1a1a" stroke-width="0.75"/>
<g transform="rotate(-9 43.8 802.1)">
<polygon points="34.5,797.6 42.3,797.6 42.3,793.6 53,802.1 42.3,810.6 42.3,806.6 34.5,806.6" fill="#f4877a" stroke="#2b2b2b" stroke-width="0.6" stroke-linejoin="miter"/>
<text x="42.4" y="803.6" font-size="4.7" text-anchor="middle" fill="#3a1a1a" >EF1a</text>
</g>
<rect x="53.3" y="794.3" width="27.3" height="15.2" fill="#c5cbe9" stroke="#333" stroke-width="0.6"/>
<text x="66.9" y="803.7" font-size="5.1" text-anchor="middle" fill="#333" >dCas9</text>
<rect x="81.5" y="794.3" width="18.2" height="15.2" fill="#4fbff5" stroke="#333" stroke-width="0.6"/>
<text x="90.6" y="803.7" font-size="5.1" text-anchor="middle" fill="#333" >BFP</text>
<rect x="100.7" y="794.3" width="18" height="15.2" fill="#b5d5d3" stroke="#333" stroke-width="0.6"/>
<text x="109.7" y="803.7" font-size="5.1" text-anchor="middle" fill="#333" >P300</text>
<text x="82.5" y="834.3" font-size="5.2" text-anchor="middle" fill="#333" >Plasmid design</text>
<line x1="189.8" y1="729.3" x2="193.4" y2="729.3" stroke="#222" stroke-width="0.6" />
<circle cx="194.4" cy="729.3" r="1.45" fill="#d3197f"/>
<line x1="187" y1="736.1" x2="189.5" y2="738.6" stroke="#222" stroke-width="0.6" />
<circle cx="190.2" cy="739.3" r="1.45" fill="#d3197f"/>
<line x1="180.2" y1="738.9" x2="180.2" y2="742.5" stroke="#222" stroke-width="0.6" />
<circle cx="180.2" cy="743.5" r="1.45" fill="#d3197f"/>
<line x1="173.4" y1="736.1" x2="170.9" y2="738.6" stroke="#222" stroke-width="0.6" />
<circle cx="170.2" cy="739.3" r="1.45" fill="#d3197f"/>
<line x1="170.6" y1="729.3" x2="167" y2="729.3" stroke="#222" stroke-width="0.6" />
<circle cx="166" cy="729.3" r="1.45" fill="#d3197f"/>
<line x1="173.4" y1="722.5" x2="170.9" y2="720" stroke="#222" stroke-width="0.6" />
<circle cx="170.2" cy="719.3" r="1.45" fill="#d3197f"/>
<line x1="180.2" y1="719.7" x2="180.2" y2="716.1" stroke="#222" stroke-width="0.6" />
<circle cx="180.2" cy="715.1" r="1.45" fill="#d3197f"/>
<line x1="187" y1="722.5" x2="189.5" y2="720" stroke="#222" stroke-width="0.6" />
<circle cx="190.2" cy="719.3" r="1.45" fill="#d3197f"/>
<circle cx="180.2" cy="729.3" r="9.6" fill="#fff" stroke="#222" stroke-width="0.9"/>
<circle cx="180.2" cy="729.3" r="8.1" fill="none" stroke="#444" stroke-width="0.5" stroke-dasharray="0.5 1"/>
<polygon points="174.2,729.3 180.2,722.8 186.2,729.3 180.2,735.8" fill="none" stroke="#bbb" stroke-width="0.4"/>
<path d="M178.8,724.3 q-1.3,1 0,2 q1.3,1 0,2 q-1.3,1 0,2 q1.3,1 0,2 q-1.3,1 0,2" fill="none" stroke="#666" stroke-width="0.45"/>
<path d="M181.6,724.3 q-1.3,1 0,2 q1.3,1 0,2 q-1.3,1 0,2 q1.3,1 0,2 q-1.3,1 0,2" fill="none" stroke="#666" stroke-width="0.45"/>
<line x1="189.8" y1="768.6" x2="193.4" y2="768.6" stroke="#222" stroke-width="0.6" />
<circle cx="194.4" cy="768.6" r="1.45" fill="#55eeee"/>
<line x1="187" y1="775.4" x2="189.5" y2="777.9" stroke="#222" stroke-width="0.6" />
<circle cx="190.2" cy="778.6" r="1.45" fill="#55eeee"/>
<line x1="180.2" y1="778.2" x2="180.2" y2="781.8" stroke="#222" stroke-width="0.6" />
<circle cx="180.2" cy="782.8" r="1.45" fill="#55eeee"/>
<line x1="173.4" y1="775.4" x2="170.9" y2="777.9" stroke="#222" stroke-width="0.6" />
<circle cx="170.2" cy="778.6" r="1.45" fill="#55eeee"/>
<line x1="170.6" y1="768.6" x2="167" y2="768.6" stroke="#222" stroke-width="0.6" />
<circle cx="166" cy="768.6" r="1.45" fill="#55eeee"/>
<line x1="173.4" y1="761.8" x2="170.9" y2="759.3" stroke="#222" stroke-width="0.6" />
<circle cx="170.2" cy="758.6" r="1.45" fill="#55eeee"/>
<line x1="180.2" y1="759" x2="180.2" y2="755.4" stroke="#222" stroke-width="0.6" />
<circle cx="180.2" cy="754.4" r="1.45" fill="#55eeee"/>
<line x1="187" y1="761.8" x2="189.5" y2="759.3" stroke="#222" stroke-width="0.6" />
<circle cx="190.2" cy="758.6" r="1.45" fill="#55eeee"/>
<circle cx="180.2" cy="768.6" r="9.6" fill="#fff" stroke="#222" stroke-width="0.9"/>
<circle cx="180.2" cy="768.6" r="8.1" fill="none" stroke="#444" stroke-width="0.5" stroke-dasharray="0.5 1"/>
<polygon points="174.2,768.6 180.2,762.1 186.2,768.6 180.2,775.1" fill="none" stroke="#bbb" stroke-width="0.4"/>
<path d="M178.8,763.6 q-1.3,1 0,2 q1.3,1 0,2 q-1.3,1 0,2 q1.3,1 0,2 q-1.3,1 0,2" fill="none" stroke="#666" stroke-width="0.45"/>
<path d="M181.6,763.6 q-1.3,1 0,2 q1.3,1 0,2 q-1.3,1 0,2 q1.3,1 0,2 q-1.3,1 0,2" fill="none" stroke="#666" stroke-width="0.45"/>
<line x1="189.8" y1="806.7" x2="193.4" y2="806.7" stroke="#222" stroke-width="0.6" />
<circle cx="194.4" cy="806.7" r="1.45" fill="#a9d9dd"/>
<line x1="187" y1="813.5" x2="189.5" y2="816" stroke="#222" stroke-width="0.6" />
<circle cx="190.2" cy="816.7" r="1.45" fill="#a9d9dd"/>
<line x1="180.2" y1="816.3" x2="180.2" y2="819.9" stroke="#222" stroke-width="0.6" />
<circle cx="180.2" cy="820.9" r="1.45" fill="#a9d9dd"/>
<line x1="173.4" y1="813.5" x2="170.9" y2="816" stroke="#222" stroke-width="0.6" />
<circle cx="170.2" cy="816.7" r="1.45" fill="#a9d9dd"/>
<line x1="170.6" y1="806.7" x2="167" y2="806.7" stroke="#222" stroke-width="0.6" />
<circle cx="166" cy="806.7" r="1.45" fill="#a9d9dd"/>
<line x1="173.4" y1="799.9" x2="170.9" y2="797.4" stroke="#222" stroke-width="0.6" />
<circle cx="170.2" cy="796.7" r="1.45" fill="#a9d9dd"/>
<line x1="180.2" y1="797.1" x2="180.2" y2="793.5" stroke="#222" stroke-width="0.6" />
<circle cx="180.2" cy="792.5" r="1.45" fill="#a9d9dd"/>
<line x1="187" y1="799.9" x2="189.5" y2="797.4" stroke="#222" stroke-width="0.6" />
<circle cx="190.2" cy="796.7" r="1.45" fill="#a9d9dd"/>
<circle cx="180.2" cy="806.7" r="9.6" fill="#fff" stroke="#222" stroke-width="0.9"/>
<circle cx="180.2" cy="806.7" r="8.1" fill="none" stroke="#444" stroke-width="0.5" stroke-dasharray="0.5 1"/>
<polygon points="174.2,806.7 180.2,800.2 186.2,806.7 180.2,813.2" fill="none" stroke="#bbb" stroke-width="0.4"/>
<path d="M178.8,801.7 q-1.3,1 0,2 q1.3,1 0,2 q-1.3,1 0,2 q1.3,1 0,2 q-1.3,1 0,2" fill="none" stroke="#666" stroke-width="0.45"/>
<path d="M181.6,801.7 q-1.3,1 0,2 q1.3,1 0,2 q-1.3,1 0,2 q1.3,1 0,2 q-1.3,1 0,2" fill="none" stroke="#666" stroke-width="0.45"/>
<line x1="143.5" y1="767.4" x2="160" y2="767.4" stroke="#3b4862" stroke-width="0.65" />
<polygon points="161.5,767.4 159.1,768.5 159.1,766.3" fill="#3b4862" />
<line x1="198.9" y1="727.2" x2="214.7" y2="727.2" stroke="#3b4862" stroke-width="0.65" />
<polygon points="216.2,727.2 213.8,728.3 213.8,726.1" fill="#3b4862" />
<line x1="200.3" y1="755.7" x2="214.9" y2="742.6" stroke="#3b4862" stroke-width="0.65" />
<polygon points="216,741.6 214.9,744 213.5,742.4" fill="#3b4862" />
<line x1="201.2" y1="773.3" x2="215" y2="787.9" stroke="#3b4862" stroke-width="0.65" />
<polygon points="216,789 213.6,788 215.1,786.5" fill="#3b4862" />
<line x1="199.6" y1="802.5" x2="213" y2="802.5" stroke="#3b4862" stroke-width="0.65" />
<polygon points="214.5,802.5 212.1,803.6 212.1,801.4" fill="#3b4862" />
<line x1="251.7" y1="738.2" x2="270.9" y2="755.2" stroke="#3b4862" stroke-width="0.65" />
<polygon points="272,756.2 269.5,755.4 270.9,753.8" fill="#3b4862" />
<line x1="253.3" y1="804.3" x2="271" y2="785.6" stroke="#3b4862" stroke-width="0.65" />
<polygon points="272,784.5 271.1,787 269.6,785.5" fill="#3b4862" />
<text x="234.6" y="712.6" font-size="5.2" text-anchor="middle" fill="#333" >KRAB + guide</text>
<text x="239.3" y="787.3" font-size="5.2" text-anchor="middle" fill="#333" >P300 + guide</text>
<text x="284.8" y="767.6" font-size="5.2" text-anchor="middle" fill="#333" >Collection</text>
<text x="284.8" y="773.8" font-size="5.2" text-anchor="middle" fill="#333" >after 72 h</text>
<text x="180.9" y="831.4" font-size="5.2" text-anchor="middle" fill="#333" >Lentiviral</text>
<text x="180.9" y="837.6" font-size="5.2" text-anchor="middle" fill="#333" >packaging</text>
<text x="236.2" y="831.4" font-size="5.2" text-anchor="middle" fill="#333" >Cotransfect</text>
<text x="236.2" y="837.6" font-size="5.2" text-anchor="middle" fill="#333" >hOPCs</text>
<path d="M229.5,729.3 Q228.3,726.2 226.1,724.3" fill="none" stroke="#c4c4c4" stroke-width="0.55"/>
<path d="M229.5,729.3 Q232.7,728.7 234.8,726.7" fill="none" stroke="#c4c4c4" stroke-width="0.55"/>
<path d="M229.5,729.3 Q230,731.6 231.4,733.1" fill="none" stroke="#c4c4c4" stroke-width="0.55"/>
<path d="M229.5,729.3 Q226.6,731.2 225.2,734" fill="none" stroke="#c4c4c4" stroke-width="0.55"/>
<circle cx="229.5" cy="729.3" r="2.1" fill="#c4c4c4"/>
<circle cx="229.5" cy="729.3" r="1.1" fill="#9a9a9a"/>
<path d="M242.8,723.5 Q244.9,721.4 245.5,718.9" fill="none" stroke="#d43a33" stroke-width="0.55"/>
<path d="M242.8,723.5 Q245,724.2 247,723.8" fill="none" stroke="#d43a33" stroke-width="0.55"/>
<path d="M242.8,723.5 Q241,725.8 240.8,728.4" fill="none" stroke="#d43a33" stroke-width="0.55"/>
<path d="M242.8,723.5 Q240.7,721.7 238.3,721.2" fill="none" stroke="#d43a33" stroke-width="0.55"/>
<circle cx="242.8" cy="723.5" r="2.1" fill="#d43a33"/>
<circle cx="242.8" cy="723.5" r="1.1" fill="#b0241f"/>
<path d="M245.1,734.7 Q243.8,737.5 244.1,740.3" fill="none" stroke="#d43a33" stroke-width="0.55"/>
<path d="M245.1,734.7 Q242.3,733.6 239.7,734" fill="none" stroke="#d43a33" stroke-width="0.55"/>
<path d="M245.1,734.7 Q246.5,732.7 246.6,730.6" fill="none" stroke="#d43a33" stroke-width="0.55"/>
<path d="M245.1,734.7 Q246.9,736.2 248.9,736.6" fill="none" stroke="#d43a33" stroke-width="0.55"/>
<circle cx="245.1" cy="734.7" r="2.1" fill="#d43a33"/>
<circle cx="245.1" cy="734.7" r="1.1" fill="#b0241f"/>
<path d="M227.1,741.3 Q226,743.5 226.1,745.7" fill="none" stroke="#d43a33" stroke-width="0.55"/>
<path d="M227.1,741.3 Q224.8,740.7 222.7,741.2" fill="none" stroke="#d43a33" stroke-width="0.55"/>
<path d="M227.1,741.3 Q226.7,737.7 224.9,735.2" fill="none" stroke="#d43a33" stroke-width="0.55"/>
<path d="M227.1,741.3 Q230.2,740.9 232.4,739.2" fill="none" stroke="#d43a33" stroke-width="0.55"/>
<circle cx="227.1" cy="741.3" r="2.1" fill="#d43a33"/>
<circle cx="227.1" cy="741.3" r="1.1" fill="#b0241f"/>
<path d="M240.4,745.2 Q237.9,745.4 236.1,746.7" fill="none" stroke="#c4c4c4" stroke-width="0.55"/>
<path d="M240.4,745.2 Q241.1,743 240.6,741" fill="none" stroke="#c4c4c4" stroke-width="0.55"/>
<path d="M240.4,745.2 Q243.8,745.3 246.5,743.8" fill="none" stroke="#c4c4c4" stroke-width="0.55"/>
<path d="M240.4,745.2 Q241.4,748.1 243.4,749.8" fill="none" stroke="#c4c4c4" stroke-width="0.55"/>
<circle cx="240.4" cy="745.2" r="2.1" fill="#c4c4c4"/>
<circle cx="240.4" cy="745.2" r="1.1" fill="#9a9a9a"/>
<path d="M232.3,800.8 Q229.9,799 227.2,798.7" fill="none" stroke="#c4c4c4" stroke-width="0.55"/>
<path d="M232.3,800.8 Q233.8,797.8 233.6,794.9" fill="none" stroke="#c4c4c4" stroke-width="0.55"/>
<path d="M232.3,800.8 Q234.1,803.4 236.6,804.5" fill="none" stroke="#c4c4c4" stroke-width="0.55"/>
<path d="M232.3,800.8 Q231.1,803.5 231.4,806.1" fill="none" stroke="#c4c4c4" stroke-width="0.55"/>
<circle cx="232.3" cy="800.8" r="2.1" fill="#c4c4c4"/>
<circle cx="232.3" cy="800.8" r="1.1" fill="#9a9a9a"/>
<path d="M245.6,800.1 Q242.1,800.1 239.5,801.7" fill="none" stroke="#d43a33" stroke-width="0.55"/>
<path d="M245.6,800.1 Q245.4,797.2 243.9,795" fill="none" stroke="#d43a33" stroke-width="0.55"/>
<path d="M245.6,800.1 Q248.1,800.1 250.1,799" fill="none" stroke="#d43a33" stroke-width="0.55"/>
<path d="M245.6,800.1 Q245.7,803.2 247.2,805.5" fill="none" stroke="#d43a33" stroke-width="0.55"/>
<circle cx="245.6" cy="800.1" r="2.1" fill="#d43a33"/>
<circle cx="245.6" cy="800.1" r="1.1" fill="#b0241f"/>
<path d="M225.3,811.1 Q222.2,810.4 219.6,811.3" fill="none" stroke="#d43a33" stroke-width="0.55"/>
<path d="M225.3,811.1 Q224.8,808.8 223.5,807.3" fill="none" stroke="#d43a33" stroke-width="0.55"/>
<path d="M225.3,811.1 Q228,811.1 230,809.8" fill="none" stroke="#d43a33" stroke-width="0.55"/>
<path d="M225.3,811.1 Q224.3,814.1 224.8,816.9" fill="none" stroke="#d43a33" stroke-width="0.55"/>
<circle cx="225.3" cy="811.1" r="2.1" fill="#d43a33"/>
<circle cx="225.3" cy="811.1" r="1.1" fill="#b0241f"/>
<path d="M243.9,810.2 Q242.5,813.1 242.7,815.9" fill="none" stroke="#d43a33" stroke-width="0.55"/>
<path d="M243.9,810.2 Q241.8,808.8 239.5,808.7" fill="none" stroke="#d43a33" stroke-width="0.55"/>
<path d="M243.9,810.2 Q244.1,807.7 243.2,805.7" fill="none" stroke="#d43a33" stroke-width="0.55"/>
<path d="M243.9,810.2 Q247.1,810.5 249.7,809.2" fill="none" stroke="#d43a33" stroke-width="0.55"/>
<circle cx="243.9" cy="810.2" r="2.1" fill="#d43a33"/>
<circle cx="243.9" cy="810.2" r="1.1" fill="#b0241f"/>
<path d="M236.5,820.7 Q238,823.5 240.3,824.9" fill="none" stroke="#c4c4c4" stroke-width="0.55"/>
<path d="M236.5,820.7 Q234,821.5 232.4,823.2" fill="none" stroke="#c4c4c4" stroke-width="0.55"/>
<path d="M236.5,820.7 Q234.1,818.6 231.3,818" fill="none" stroke="#c4c4c4" stroke-width="0.55"/>
<path d="M236.5,820.7 Q238.8,819.3 240,817.3" fill="none" stroke="#c4c4c4" stroke-width="0.55"/>
<circle cx="236.5" cy="820.7" r="2.1" fill="#c4c4c4"/>
<circle cx="236.5" cy="820.7" r="1.1" fill="#9a9a9a"/>
<text x="311.6" y="706.2" font-size="13.2" text-anchor="start" font-weight="bold" fill="#000" >g</text>
<line x1="332.7" y1="724.2" x2="332.7" y2="821.1" stroke="#333" stroke-width="0.45" />
<line x1="332.7" y1="821.1" x2="466.4" y2="821.1" stroke="#333" stroke-width="0.45" />
<line x1="331.5" y1="821.1" x2="332.7" y2="821.1" stroke="#333" stroke-width="0.35" />
<text x="330.5" y="822.3" font-size="3.8" text-anchor="end" fill="#222" >0</text>
<line x1="331.5" y1="803.4" x2="332.7" y2="803.4" stroke="#333" stroke-width="0.35" />
<text x="330.5" y="804.6" font-size="3.8" text-anchor="end" fill="#222" >0.2</text>
<line x1="331.5" y1="785.6" x2="332.7" y2="785.6" stroke="#333" stroke-width="0.35" />
<text x="330.5" y="786.8" font-size="3.8" text-anchor="end" fill="#222" >0.4</text>
<line x1="331.5" y1="767.9" x2="332.7" y2="767.9" stroke="#333" stroke-width="0.35" />
<text x="330.5" y="769.1" font-size="3.8" text-anchor="end" fill="#222" >0.6</text>
<line x1="331.5" y1="750.1" x2="332.7" y2="750.1" stroke="#333" stroke-width="0.35" />
<text x="330.5" y="751.3" font-size="3.8" text-anchor="end" fill="#222" >0.8</text>
<line x1="331.5" y1="732.4" x2="332.7" y2="732.4" stroke="#333" stroke-width="0.35" />
<text x="330.5" y="733.6" font-size="3.8" text-anchor="end" fill="#222" >1.0</text>
<text transform="translate(314.8,773.8) rotate(-90)" font-size="5" text-anchor="middle" fill="#222">Expression</text>
<rect x="335" y="810" width="7.4" height="11.1" fill="#8c8c8c" stroke="#6e6e6e" stroke-width="0.3"/>
<circle cx="338.5" cy="810" r="0.45" fill="#9a9a9a" opacity="0.8"/>
<circle cx="338.2" cy="810.3" r="0.45" fill="#9a9a9a" opacity="0.8"/>
<circle cx="337.3" cy="811.9" r="0.45" fill="#9a9a9a" opacity="0.8"/>
<circle cx="339.8" cy="809.7" r="0.45" fill="#9a9a9a" opacity="0.8"/>
<line x1="338.7" y1="808.2" x2="338.7" y2="811.8" stroke="#333" stroke-width="0.45" />
<line x1="337.4" y1="808.2" x2="340" y2="808.2" stroke="#333" stroke-width="0.45" />
<line x1="337.4" y1="811.8" x2="340" y2="811.8" stroke="#333" stroke-width="0.45" />
<rect x="342.4" y="801.1" width="7.4" height="20" fill="#3e8588" stroke="#2b6467" stroke-width="0.3"/>
<circle cx="347.7" cy="802.3" r="0.45" fill="#9a9a9a" opacity="0.8"/>
<circle cx="345.5" cy="798.7" r="0.45" fill="#9a9a9a" opacity="0.8"/>
<circle cx="344.6" cy="798.9" r="0.45" fill="#9a9a9a" opacity="0.8"/>
<circle cx="346.2" cy="796.3" r="0.45" fill="#9a9a9a" opacity="0.8"/>
<line x1="346.1" y1="797.6" x2="346.1" y2="804.7" stroke="#333" stroke-width="0.45" />
<line x1="344.8" y1="797.6" x2="347.4" y2="797.6" stroke="#333" stroke-width="0.45" />
<line x1="344.8" y1="804.7" x2="347.4" y2="804.7" stroke="#333" stroke-width="0.45" />
<rect x="349.8" y="808.2" width="7.4" height="12.9" fill="#e68a78" stroke="#b8634f" stroke-width="0.3"/>
<circle cx="353.8" cy="805.4" r="0.45" fill="#9a9a9a" opacity="0.8"/>
<circle cx="355.5" cy="814.8" r="0.45" fill="#9a9a9a" opacity="0.8"/>
<circle cx="352.8" cy="812.2" r="0.45" fill="#9a9a9a" opacity="0.8"/>
<circle cx="355.1" cy="806.6" r="0.45" fill="#9a9a9a" opacity="0.8"/>
<line x1="353.5" y1="803.8" x2="353.5" y2="812.7" stroke="#333" stroke-width="0.45" />
<line x1="352.2" y1="803.8" x2="354.8" y2="803.8" stroke="#333" stroke-width="0.45" />
<line x1="352.2" y1="812.7" x2="354.8" y2="812.7" stroke="#333" stroke-width="0.45" />
<line x1="338.2" y1="777.6" x2="354.3" y2="777.6" stroke="#333" stroke-width="0.4" />
<text x="346.6" y="777.1" font-size="3.4" text-anchor="middle" fill="#222" >NS</text>
<line x1="338.2" y1="781.4" x2="346.6" y2="781.4" stroke="#333" stroke-width="0.4" />
<text x="342.7" y="780.9" font-size="3.4" text-anchor="middle" fill="#222" >NS</text>
<line x1="346.6" y1="785" x2="354.3" y2="785" stroke="#333" stroke-width="0.4" />
<text x="350.8" y="784.5" font-size="3.4" text-anchor="middle" fill="#222" >NS</text>
<text x="346.1" y="827.7" font-size="3.6" text-anchor="middle" fill="#222" >miR10b</text>
<line x1="346.1" y1="821.1" x2="346.1" y2="822.3" stroke="#333" stroke-width="0.35" />
<rect x="361.9" y="813.1" width="7.4" height="8" fill="#8c8c8c" stroke="#6e6e6e" stroke-width="0.3"/>
<circle cx="366.9" cy="811.6" r="0.45" fill="#9a9a9a" opacity="0.8"/>
<circle cx="365.4" cy="811.7" r="0.45" fill="#9a9a9a" opacity="0.8"/>
<circle cx="367.4" cy="813.4" r="0.45" fill="#9a9a9a" opacity="0.8"/>
<circle cx="367" cy="814.4" r="0.45" fill="#9a9a9a" opacity="0.8"/>
<line x1="365.6" y1="811.3" x2="365.6" y2="814.9" stroke="#333" stroke-width="0.45" />
<line x1="364.3" y1="811.3" x2="366.9" y2="811.3" stroke="#333" stroke-width="0.45" />
<line x1="364.3" y1="814.9" x2="366.9" y2="814.9" stroke="#333" stroke-width="0.45" />
<rect x="369.3" y="798" width="7.4" height="23.1" fill="#3e8588" stroke="#2b6467" stroke-width="0.3"/>
<circle cx="372.4" cy="795.7" r="0.45" fill="#9a9a9a" opacity="0.8"/>
<circle cx="373.3" cy="803.8" r="0.45" fill="#9a9a9a" opacity="0.8"/>
<circle cx="371.4" cy="801.5" r="0.45" fill="#9a9a9a" opacity="0.8"/>
<circle cx="372.7" cy="791.2" r="0.45" fill="#9a9a9a" opacity="0.8"/>
<line x1="373" y1="793.2" x2="373" y2="802.9" stroke="#333" stroke-width="0.45" />
<line x1="371.7" y1="793.2" x2="374.3" y2="793.2" stroke="#333" stroke-width="0.45" />
<line x1="371.7" y1="802.9" x2="374.3" y2="802.9" stroke="#333" stroke-width="0.45" />
<rect x="376.7" y="805.1" width="7.4" height="16" fill="#e68a78" stroke="#b8634f" stroke-width="0.3"/>
<circle cx="379.5" cy="801.8" r="0.45" fill="#9a9a9a" opacity="0.8"/>
<circle cx="382.1" cy="810.5" r="0.45" fill="#9a9a9a" opacity="0.8"/>
<circle cx="378.8" cy="800.4" r="0.45" fill="#9a9a9a" opacity="0.8"/>
<circle cx="379.1" cy="799.8" r="0.45" fill="#9a9a9a" opacity="0.8"/>
<line x1="380.4" y1="799.8" x2="380.4" y2="810.5" stroke="#333" stroke-width="0.45" />
<line x1="379.1" y1="799.8" x2="381.7" y2="799.8" stroke="#333" stroke-width="0.45" />
<line x1="379.1" y1="810.5" x2="381.7" y2="810.5" stroke="#333" stroke-width="0.45" />
<line x1="365.1" y1="769.5" x2="381.2" y2="769.5" stroke="#333" stroke-width="0.4" />
<text x="373.4" y="769" font-size="3.4" text-anchor="middle" fill="#222" >NS</text>
<line x1="365.1" y1="773.8" x2="373.5" y2="773.8" stroke="#333" stroke-width="0.4" />
<text x="369.6" y="773.3" font-size="3.4" text-anchor="middle" fill="#222" >NS</text>
<line x1="373.5" y1="777.6" x2="381.2" y2="777.6" stroke="#333" stroke-width="0.4" />
<text x="377.7" y="777.1" font-size="3.4" text-anchor="middle" fill="#222" >NS</text>
<text x="373" y="827.7" font-size="3.6" text-anchor="middle" fill="#222" >LINC01116</text>
<line x1="373" y1="821.1" x2="373" y2="822.3" stroke="#333" stroke-width="0.35" />
<rect x="388.8" y="812.7" width="7.4" height="8.4" fill="#8c8c8c" stroke="#6e6e6e" stroke-width="0.3"/>
<circle cx="392" cy="814.6" r="0.45" fill="#9a9a9a" opacity="0.8"/>
<circle cx="390.6" cy="816.7" r="0.45" fill="#9a9a9a" opacity="0.8"/>
<circle cx="391" cy="813" r="0.45" fill="#9a9a9a" opacity="0.8"/>
<circle cx="392" cy="815.6" r="0.45" fill="#9a9a9a" opacity="0.8"/>
<line x1="392.5" y1="810" x2="392.5" y2="815.3" stroke="#333" stroke-width="0.45" />
<line x1="391.2" y1="810" x2="393.8" y2="810" stroke="#333" stroke-width="0.45" />
<line x1="391.2" y1="815.3" x2="393.8" y2="815.3" stroke="#333" stroke-width="0.45" />
<rect x="396.2" y="769.2" width="7.4" height="51.9" fill="#3e8588" stroke="#2b6467" stroke-width="0.3"/>
<circle cx="400.2" cy="763" r="0.45" fill="#9a9a9a" opacity="0.8"/>
<circle cx="398" cy="778.2" r="0.45" fill="#9a9a9a" opacity="0.8"/>
<circle cx="401.5" cy="762.7" r="0.45" fill="#9a9a9a" opacity="0.8"/>
<circle cx="398.3" cy="767.3" r="0.45" fill="#9a9a9a" opacity="0.8"/>
<line x1="399.9" y1="761.7" x2="399.9" y2="776.8" stroke="#333" stroke-width="0.45" />
<line x1="398.6" y1="761.7" x2="401.2" y2="761.7" stroke="#333" stroke-width="0.45" />
<line x1="398.6" y1="776.8" x2="401.2" y2="776.8" stroke="#333" stroke-width="0.45" />
<rect x="403.6" y="773.2" width="7.4" height="47.9" fill="#e68a78" stroke="#b8634f" stroke-width="0.3"/>
<circle cx="409.1" cy="794" r="0.45" fill="#9a9a9a" opacity="0.8"/>
<circle cx="406.1" cy="769.7" r="0.45" fill="#9a9a9a" opacity="0.8"/>
<circle cx="408.3" cy="750.4" r="0.45" fill="#9a9a9a" opacity="0.8"/>
<circle cx="408.3" cy="786.3" r="0.45" fill="#9a9a9a" opacity="0.8"/>
<line x1="407.3" y1="758.1" x2="407.3" y2="788.3" stroke="#333" stroke-width="0.45" />
<line x1="406" y1="758.1" x2="408.6" y2="758.1" stroke="#333" stroke-width="0.45" />
<line x1="406" y1="788.3" x2="408.6" y2="788.3" stroke="#333" stroke-width="0.45" />
<line x1="392" y1="718.4" x2="408.1" y2="718.4" stroke="#333" stroke-width="0.4" />
<text x="400.4" y="719.4" font-size="4.6" text-anchor="middle" font-weight="bold" fill="#111" >*</text>
<line x1="392" y1="722.2" x2="400.4" y2="722.2" stroke="#333" stroke-width="0.4" />
<text x="396.5" y="723.2" font-size="4.6" text-anchor="middle" font-weight="bold" fill="#111" >*</text>
<line x1="400.4" y1="726.5" x2="408.1" y2="726.5" stroke="#333" stroke-width="0.4" />
<text x="404.6" y="726" font-size="3.4" text-anchor="middle" fill="#222" >NS</text>
<text x="399.9" y="827.7" font-size="3.6" text-anchor="middle" fill="#222" >HOXD1</text>
<text x="399.9" y="832.1" font-size="3.6" text-anchor="middle" fill="#222" >gene</text>
<line x1="399.9" y1="821.1" x2="399.9" y2="822.3" stroke="#333" stroke-width="0.35" />
<rect x="415.6" y="811.3" width="7.4" height="9.8" fill="#8c8c8c" stroke="#6e6e6e" stroke-width="0.3"/>
<circle cx="418.7" cy="812.4" r="0.45" fill="#9a9a9a" opacity="0.8"/>
<circle cx="419.6" cy="810.1" r="0.45" fill="#9a9a9a" opacity="0.8"/>
<circle cx="419.2" cy="813" r="0.45" fill="#9a9a9a" opacity="0.8"/>
<circle cx="418.9" cy="811.4" r="0.45" fill="#9a9a9a" opacity="0.8"/>
<line x1="419.3" y1="809.6" x2="419.3" y2="813.1" stroke="#333" stroke-width="0.45" />
<line x1="418" y1="809.6" x2="420.6" y2="809.6" stroke="#333" stroke-width="0.45" />
<line x1="418" y1="813.1" x2="420.6" y2="813.1" stroke="#333" stroke-width="0.45" />
<rect x="423" y="787.4" width="7.4" height="33.7" fill="#3e8588" stroke="#2b6467" stroke-width="0.3"/>
<circle cx="428.5" cy="795.6" r="0.45" fill="#9a9a9a" opacity="0.8"/>
<circle cx="428.5" cy="781.6" r="0.45" fill="#9a9a9a" opacity="0.8"/>
<circle cx="426.3" cy="795.4" r="0.45" fill="#9a9a9a" opacity="0.8"/>
<circle cx="427.4" cy="781.1" r="0.45" fill="#9a9a9a" opacity="0.8"/>
<line x1="426.7" y1="779.4" x2="426.7" y2="795.4" stroke="#333" stroke-width="0.45" />
<line x1="425.4" y1="779.4" x2="428" y2="779.4" stroke="#333" stroke-width="0.45" />
<line x1="425.4" y1="795.4" x2="428" y2="795.4" stroke="#333" stroke-width="0.45" />
<rect x="430.4" y="802.9" width="7.4" height="18.2" fill="#e68a78" stroke="#b8634f" stroke-width="0.3"/>
<circle cx="434.5" cy="803.9" r="0.45" fill="#9a9a9a" opacity="0.8"/>
<circle cx="436" cy="814.8" r="0.45" fill="#9a9a9a" opacity="0.8"/>
<circle cx="434.2" cy="807.8" r="0.45" fill="#9a9a9a" opacity="0.8"/>
<circle cx="432.4" cy="794.9" r="0.45" fill="#9a9a9a" opacity="0.8"/>
<line x1="434.1" y1="795.4" x2="434.1" y2="810.5" stroke="#333" stroke-width="0.45" />
<line x1="432.8" y1="795.4" x2="435.4" y2="795.4" stroke="#333" stroke-width="0.45" />
<line x1="432.8" y1="810.5" x2="435.4" y2="810.5" stroke="#333" stroke-width="0.45" />
<line x1="418.8" y1="749.3" x2="434.9" y2="749.3" stroke="#333" stroke-width="0.4" />
<text x="427.2" y="748.8" font-size="3.4" text-anchor="middle" fill="#222" >NS</text>
<line x1="418.8" y1="753.1" x2="427.2" y2="753.1" stroke="#333" stroke-width="0.4" />
<text x="423.3" y="754.1" font-size="4.6" text-anchor="middle" font-weight="bold" fill="#111" >*</text>
<line x1="427.2" y1="757.5" x2="434.9" y2="757.5" stroke="#333" stroke-width="0.4" />
<text x="431.4" y="757" font-size="3.4" text-anchor="middle" fill="#222" >NS</text>
<text x="426.7" y="827.7" font-size="3.6" text-anchor="middle" fill="#222" >HOXD4</text>
<line x1="426.7" y1="821.1" x2="426.7" y2="822.3" stroke="#333" stroke-width="0.35" />
<rect x="442.5" y="807.4" width="7.4" height="13.7" fill="#8c8c8c" stroke="#6e6e6e" stroke-width="0.3"/>
<circle cx="445.2" cy="810.1" r="0.45" fill="#9a9a9a" opacity="0.8"/>
<circle cx="445.4" cy="808.9" r="0.45" fill="#9a9a9a" opacity="0.8"/>
<circle cx="446.9" cy="804.9" r="0.45" fill="#9a9a9a" opacity="0.8"/>
<circle cx="444.5" cy="804.6" r="0.45" fill="#9a9a9a" opacity="0.8"/>
<line x1="446.2" y1="804.7" x2="446.2" y2="810" stroke="#333" stroke-width="0.45" />
<line x1="444.9" y1="804.7" x2="447.5" y2="804.7" stroke="#333" stroke-width="0.45" />
<line x1="444.9" y1="810" x2="447.5" y2="810" stroke="#333" stroke-width="0.45" />
<rect x="449.9" y="806.9" width="7.4" height="14.2" fill="#3e8588" stroke="#2b6467" stroke-width="0.3"/>
<circle cx="453.2" cy="810.4" r="0.45" fill="#9a9a9a" opacity="0.8"/>
<circle cx="454.8" cy="805.9" r="0.45" fill="#9a9a9a" opacity="0.8"/>
<circle cx="454.8" cy="804.9" r="0.45" fill="#9a9a9a" opacity="0.8"/>
<circle cx="454.5" cy="805" r="0.45" fill="#9a9a9a" opacity="0.8"/>
<line x1="453.6" y1="804.7" x2="453.6" y2="809.1" stroke="#333" stroke-width="0.45" />
<line x1="452.3" y1="804.7" x2="454.9" y2="804.7" stroke="#333" stroke-width="0.45" />
<line x1="452.3" y1="809.1" x2="454.9" y2="809.1" stroke="#333" stroke-width="0.45" />
<rect x="457.3" y="806" width="7.4" height="15.1" fill="#e68a78" stroke="#b8634f" stroke-width="0.3"/>
<circle cx="459.4" cy="807.5" r="0.45" fill="#9a9a9a" opacity="0.8"/>
<circle cx="462.4" cy="805.4" r="0.45" fill="#9a9a9a" opacity="0.8"/>
<circle cx="460.7" cy="806" r="0.45" fill="#9a9a9a" opacity="0.8"/>
<circle cx="459.6" cy="803.6" r="0.45" fill="#9a9a9a" opacity="0.8"/>
<line x1="461" y1="804.2" x2="461" y2="807.8" stroke="#333" stroke-width="0.45" />
<line x1="459.7" y1="804.2" x2="462.3" y2="804.2" stroke="#333" stroke-width="0.45" />
<line x1="459.7" y1="807.8" x2="462.3" y2="807.8" stroke="#333" stroke-width="0.45" />
<line x1="445.7" y1="789.3" x2="461.8" y2="789.3" stroke="#333" stroke-width="0.4" />
<text x="454.1" y="788.8" font-size="3.4" text-anchor="middle" fill="#222" >NS</text>
<line x1="445.7" y1="793.4" x2="454.1" y2="793.4" stroke="#333" stroke-width="0.4" />
<text x="450.2" y="792.9" font-size="3.4" text-anchor="middle" fill="#222" >NS</text>
<line x1="454.1" y1="797.8" x2="461.8" y2="797.8" stroke="#333" stroke-width="0.4" />
<text x="458.3" y="797.3" font-size="3.4" text-anchor="middle" fill="#222" >NS</text>
<text x="453.6" y="827.7" font-size="3.6" text-anchor="middle" fill="#222" >HOXD8</text>
<line x1="453.6" y1="821.1" x2="453.6" y2="822.3" stroke="#333" stroke-width="0.35" />
<text x="448.9" y="746.4" font-size="3.6" text-anchor="start" fill="#222" >Conditions</text>
<rect x="448.9" y="751" width="4.5" height="4.5" fill="#8c8c8c" stroke="#6e6e6e" stroke-width="0.3"/>
<text x="455.6" y="754.5" font-size="3.6" text-anchor="start" fill="#222" >P300_Neg</text>
<rect x="448.9" y="756.5" width="4.5" height="4.5" fill="#3e8588" stroke="#2b6467" stroke-width="0.3"/>
<text x="455.6" y="760" font-size="3.6" text-anchor="start" fill="#222" >P300_miR10b</text>
<rect x="448.9" y="762.1" width="4.5" height="4.5" fill="#e68a78" stroke="#b8634f" stroke-width="0.3"/>
<text x="455.6" y="765.6" font-size="3.6" text-anchor="start" fill="#222" >P300_LINC01116</text>
<line x1="512.2" y1="722.2" x2="512.2" y2="821.1" stroke="#333" stroke-width="0.45" />
<line x1="512.2" y1="821.1" x2="646.5" y2="821.1" stroke="#333" stroke-width="0.45" />
<line x1="511" y1="821.1" x2="512.2" y2="821.1" stroke="#333" stroke-width="0.35" />
<text x="510" y="822.3" font-size="3.8" text-anchor="end" fill="#222" >0</text>
<line x1="511" y1="801.3" x2="512.2" y2="801.3" stroke="#333" stroke-width="0.35" />
<text x="510" y="802.5" font-size="3.8" text-anchor="end" fill="#222" >0.1</text>
<line x1="511" y1="781.5" x2="512.2" y2="781.5" stroke="#333" stroke-width="0.35" />
<text x="510" y="782.7" font-size="3.8" text-anchor="end" fill="#222" >0.2</text>
<line x1="511" y1="761.7" x2="512.2" y2="761.7" stroke="#333" stroke-width="0.35" />
<text x="510" y="762.9" font-size="3.8" text-anchor="end" fill="#222" >0.3</text>
<line x1="511" y1="741.9" x2="512.2" y2="741.9" stroke="#333" stroke-width="0.35" />
<text x="510" y="743.1" font-size="3.8" text-anchor="end" fill="#222" >0.4</text>
<line x1="511" y1="722.1" x2="512.2" y2="722.1" stroke="#333" stroke-width="0.35" />
<text x="510" y="723.3" font-size="3.8" text-anchor="end" fill="#222" >0.5</text>
<text transform="translate(495.6,771.5) rotate(-90)" font-size="5" text-anchor="middle" fill="#222">Expression</text>
<rect x="515.1" y="765.7" width="7.4" height="55.4" fill="#8c8c8c" stroke="#6e6e6e" stroke-width="0.3"/>
<circle cx="518.8" cy="754.4" r="0.45" fill="#9a9a9a" opacity="0.8"/>
<circle cx="520.7" cy="765.8" r="0.45" fill="#9a9a9a" opacity="0.8"/>
<circle cx="520" cy="775.5" r="0.45" fill="#9a9a9a" opacity="0.8"/>
<circle cx="517.4" cy="771.4" r="0.45" fill="#9a9a9a" opacity="0.8"/>
<line x1="518.8" y1="755.8" x2="518.8" y2="775.6" stroke="#333" stroke-width="0.45" />
<line x1="517.5" y1="755.8" x2="520.1" y2="755.8" stroke="#333" stroke-width="0.45" />
<line x1="517.5" y1="775.6" x2="520.1" y2="775.6" stroke="#333" stroke-width="0.45" />
<rect x="522.5" y="806.8" width="7.4" height="14.3" fill="#3e8588" stroke="#2b6467" stroke-width="0.3"/>
<circle cx="525.9" cy="813.4" r="0.45" fill="#9a9a9a" opacity="0.8"/>
<circle cx="524.6" cy="808.2" r="0.45" fill="#9a9a9a" opacity="0.8"/>
<circle cx="527.6" cy="803.8" r="0.45" fill="#9a9a9a" opacity="0.8"/>
<circle cx="524.5" cy="800.9" r="0.45" fill="#9a9a9a" opacity="0.8"/>
<line x1="526.2" y1="801.9" x2="526.2" y2="811.8" stroke="#333" stroke-width="0.45" />
<line x1="524.9" y1="801.9" x2="527.5" y2="801.9" stroke="#333" stroke-width="0.45" />
<line x1="524.9" y1="811.8" x2="527.5" y2="811.8" stroke="#333" stroke-width="0.45" />
<rect x="529.9" y="808.8" width="7.4" height="12.3" fill="#e68a78" stroke="#b8634f" stroke-width="0.3"/>
<circle cx="533" cy="806.1" r="0.45" fill="#9a9a9a" opacity="0.8"/>
<circle cx="533.5" cy="808.7" r="0.45" fill="#9a9a9a" opacity="0.8"/>
<circle cx="531.6" cy="803.8" r="0.45" fill="#9a9a9a" opacity="0.8"/>
<circle cx="532.8" cy="806.6" r="0.45" fill="#9a9a9a" opacity="0.8"/>
<line x1="533.6" y1="803.9" x2="533.6" y2="813.8" stroke="#333" stroke-width="0.45" />
<line x1="532.3" y1="803.9" x2="534.9" y2="803.9" stroke="#333" stroke-width="0.45" />
<line x1="532.3" y1="813.8" x2="534.9" y2="813.8" stroke="#333" stroke-width="0.45" />
<line x1="518.3" y1="727.1" x2="534.4" y2="727.1" stroke="#333" stroke-width="0.4" />
<text x="526.6" y="728.1" font-size="4.6" text-anchor="middle" font-weight="bold" fill="#111" >***</text>
<line x1="518.3" y1="731.2" x2="526.7" y2="731.2" stroke="#333" stroke-width="0.4" />
<text x="522.8" y="732.2" font-size="4.6" text-anchor="middle" font-weight="bold" fill="#111" >***</text>
<line x1="526.7" y1="735.9" x2="534.4" y2="735.9" stroke="#333" stroke-width="0.4" />
<text x="530.8" y="735.4" font-size="3.4" text-anchor="middle" fill="#222" >NS</text>
<text x="526.2" y="827.7" font-size="3.6" text-anchor="middle" fill="#222" >miR10b</text>
<line x1="526.2" y1="821.1" x2="526.2" y2="822.3" stroke="#333" stroke-width="0.35" />
<rect x="541.9" y="756.8" width="7.4" height="64.4" fill="#8c8c8c" stroke="#6e6e6e" stroke-width="0.3"/>
<circle cx="545.8" cy="758.2" r="0.45" fill="#9a9a9a" opacity="0.8"/>
<circle cx="545.4" cy="764.9" r="0.45" fill="#9a9a9a" opacity="0.8"/>
<circle cx="546.2" cy="752.4" r="0.45" fill="#9a9a9a" opacity="0.8"/>
<circle cx="546.2" cy="772.2" r="0.45" fill="#9a9a9a" opacity="0.8"/>
<line x1="545.6" y1="744.9" x2="545.6" y2="768.6" stroke="#333" stroke-width="0.45" />
<line x1="544.3" y1="744.9" x2="546.9" y2="744.9" stroke="#333" stroke-width="0.45" />
<line x1="544.3" y1="768.6" x2="546.9" y2="768.6" stroke="#333" stroke-width="0.45" />
<rect x="549.3" y="808.6" width="7.4" height="12.5" fill="#3e8588" stroke="#2b6467" stroke-width="0.3"/>
<circle cx="552.2" cy="801.1" r="0.45" fill="#9a9a9a" opacity="0.8"/>
<circle cx="554.9" cy="816" r="0.45" fill="#9a9a9a" opacity="0.8"/>
<circle cx="551.9" cy="805.4" r="0.45" fill="#9a9a9a" opacity="0.8"/>
<circle cx="551.5" cy="800.8" r="0.45" fill="#9a9a9a" opacity="0.8"/>
<line x1="553" y1="803.7" x2="553" y2="813.6" stroke="#333" stroke-width="0.45" />
<line x1="551.7" y1="803.7" x2="554.3" y2="803.7" stroke="#333" stroke-width="0.45" />
<line x1="551.7" y1="813.6" x2="554.3" y2="813.6" stroke="#333" stroke-width="0.45" />
<rect x="556.7" y="808.8" width="7.4" height="12.3" fill="#e68a78" stroke="#b8634f" stroke-width="0.3"/>
<circle cx="562.3" cy="802" r="0.45" fill="#9a9a9a" opacity="0.8"/>
<circle cx="559.7" cy="815.9" r="0.45" fill="#9a9a9a" opacity="0.8"/>
<circle cx="562.1" cy="801.3" r="0.45" fill="#9a9a9a" opacity="0.8"/>
<circle cx="562" cy="810.7" r="0.45" fill="#9a9a9a" opacity="0.8"/>
<line x1="560.4" y1="803.9" x2="560.4" y2="813.8" stroke="#333" stroke-width="0.45" />
<line x1="559.1" y1="803.9" x2="561.7" y2="803.9" stroke="#333" stroke-width="0.45" />
<line x1="559.1" y1="813.8" x2="561.7" y2="813.8" stroke="#333" stroke-width="0.45" />
<line x1="545.1" y1="718.9" x2="561.2" y2="718.9" stroke="#333" stroke-width="0.4" />
<text x="553.4" y="719.9" font-size="4.6" text-anchor="middle" font-weight="bold" fill="#111" >***</text>
<line x1="545.1" y1="723.6" x2="553.5" y2="723.6" stroke="#333" stroke-width="0.4" />
<text x="549.6" y="724.6" font-size="4.6" text-anchor="middle" font-weight="bold" fill="#111" >***</text>
<line x1="553.5" y1="728.3" x2="561.2" y2="728.3" stroke="#333" stroke-width="0.4" />
<text x="557.6" y="727.8" font-size="3.4" text-anchor="middle" fill="#222" >NS</text>
<text x="553" y="827.7" font-size="3.6" text-anchor="middle" fill="#222" >LINC01116</text>
<line x1="553" y1="821.1" x2="553" y2="822.3" stroke="#333" stroke-width="0.35" />
<rect x="568.8" y="743.9" width="7.4" height="77.2" fill="#8c8c8c" stroke="#6e6e6e" stroke-width="0.3"/>
<circle cx="573.9" cy="739.5" r="0.45" fill="#9a9a9a" opacity="0.8"/>
<circle cx="573.2" cy="750.6" r="0.45" fill="#9a9a9a" opacity="0.8"/>
<circle cx="573.3" cy="747.6" r="0.45" fill="#9a9a9a" opacity="0.8"/>
<circle cx="574.3" cy="743" r="0.45" fill="#9a9a9a" opacity="0.8"/>
<line x1="572.5" y1="737" x2="572.5" y2="750.8" stroke="#333" stroke-width="0.45" />
<line x1="571.2" y1="737" x2="573.8" y2="737" stroke="#333" stroke-width="0.45" />
<line x1="571.2" y1="750.8" x2="573.8" y2="750.8" stroke="#333" stroke-width="0.45" />
<rect x="576.2" y="810.2" width="7.4" height="10.9" fill="#3e8588" stroke="#2b6467" stroke-width="0.3"/>
<circle cx="579.5" cy="802.6" r="0.45" fill="#9a9a9a" opacity="0.8"/>
<circle cx="579.8" cy="807.7" r="0.45" fill="#9a9a9a" opacity="0.8"/>
<circle cx="578.2" cy="816.7" r="0.45" fill="#9a9a9a" opacity="0.8"/>
<circle cx="579.7" cy="808.6" r="0.45" fill="#9a9a9a" opacity="0.8"/>
<line x1="579.9" y1="804.3" x2="579.9" y2="816.2" stroke="#333" stroke-width="0.45" />
<line x1="578.6" y1="804.3" x2="581.2" y2="804.3" stroke="#333" stroke-width="0.45" />
<line x1="578.6" y1="816.2" x2="581.2" y2="816.2" stroke="#333" stroke-width="0.45" />
<rect x="583.6" y="811.2" width="7.4" height="9.9" fill="#e68a78" stroke="#b8634f" stroke-width="0.3"/>
<circle cx="587.7" cy="810" r="0.45" fill="#9a9a9a" opacity="0.8"/>
<circle cx="587.8" cy="813.1" r="0.45" fill="#9a9a9a" opacity="0.8"/>
<circle cx="586.8" cy="811.2" r="0.45" fill="#9a9a9a" opacity="0.8"/>
<circle cx="588.6" cy="815.8" r="0.45" fill="#9a9a9a" opacity="0.8"/>
<line x1="587.3" y1="808.2" x2="587.3" y2="814.2" stroke="#333" stroke-width="0.45" />
<line x1="586" y1="808.2" x2="588.6" y2="808.2" stroke="#333" stroke-width="0.45" />
<line x1="586" y1="814.2" x2="588.6" y2="814.2" stroke="#333" stroke-width="0.45" />
<line x1="572" y1="719.2" x2="588.1" y2="719.2" stroke="#333" stroke-width="0.4" />
<text x="580.3" y="720.2" font-size="4.6" text-anchor="middle" font-weight="bold" fill="#111" >***</text>
<line x1="572" y1="724.2" x2="580.4" y2="724.2" stroke="#333" stroke-width="0.4" />
<text x="576.5" y="725.2" font-size="4.6" text-anchor="middle" font-weight="bold" fill="#111" >**</text>
<line x1="580.4" y1="728.9" x2="588.1" y2="728.9" stroke="#333" stroke-width="0.4" />
<text x="584.5" y="728.4" font-size="3.4" text-anchor="middle" fill="#222" >NS</text>
<text x="579.9" y="827.7" font-size="3.6" text-anchor="middle" fill="#222" >HOXD1</text>
<text x="579.9" y="832.1" font-size="3.6" text-anchor="middle" fill="#222" >gene</text>
<line x1="579.9" y1="821.1" x2="579.9" y2="822.3" stroke="#333" stroke-width="0.35" />
<rect x="595.4" y="785.9" width="7.4" height="35.2" fill="#8c8c8c" stroke="#6e6e6e" stroke-width="0.3"/>
<circle cx="597.4" cy="789" r="0.45" fill="#9a9a9a" opacity="0.8"/>
<circle cx="599.9" cy="783.8" r="0.45" fill="#9a9a9a" opacity="0.8"/>
<circle cx="598.8" cy="779.9" r="0.45" fill="#9a9a9a" opacity="0.8"/>
<circle cx="597.7" cy="784.6" r="0.45" fill="#9a9a9a" opacity="0.8"/>
<line x1="599.1" y1="779.9" x2="599.1" y2="791.8" stroke="#333" stroke-width="0.45" />
<line x1="597.8" y1="779.9" x2="600.4" y2="779.9" stroke="#333" stroke-width="0.45" />
<line x1="597.8" y1="791.8" x2="600.4" y2="791.8" stroke="#333" stroke-width="0.45" />
<rect x="602.8" y="804.7" width="7.4" height="16.4" fill="#3e8588" stroke="#2b6467" stroke-width="0.3"/>
<circle cx="608.1" cy="814.4" r="0.45" fill="#9a9a9a" opacity="0.8"/>
<circle cx="605.1" cy="798.4" r="0.45" fill="#9a9a9a" opacity="0.8"/>
<circle cx="607.4" cy="797.7" r="0.45" fill="#9a9a9a" opacity="0.8"/>
<circle cx="607.5" cy="796.7" r="0.45" fill="#9a9a9a" opacity="0.8"/>
<line x1="606.5" y1="795.8" x2="606.5" y2="813.6" stroke="#333" stroke-width="0.45" />
<line x1="605.2" y1="795.8" x2="607.8" y2="795.8" stroke="#333" stroke-width="0.45" />
<line x1="605.2" y1="813.6" x2="607.8" y2="813.6" stroke="#333" stroke-width="0.45" />
<rect x="610.2" y="804.9" width="7.4" height="16.2" fill="#e68a78" stroke="#b8634f" stroke-width="0.3"/>
<circle cx="612.3" cy="812.7" r="0.45" fill="#9a9a9a" opacity="0.8"/>
<circle cx="614.7" cy="808.5" r="0.45" fill="#9a9a9a" opacity="0.8"/>
<circle cx="614.5" cy="807.2" r="0.45" fill="#9a9a9a" opacity="0.8"/>
<circle cx="612.5" cy="800.9" r="0.45" fill="#9a9a9a" opacity="0.8"/>
<line x1="613.9" y1="798.9" x2="613.9" y2="810.8" stroke="#333" stroke-width="0.45" />
<line x1="612.6" y1="798.9" x2="615.2" y2="798.9" stroke="#333" stroke-width="0.45" />
<line x1="612.6" y1="810.8" x2="615.2" y2="810.8" stroke="#333" stroke-width="0.45" />
<line x1="598.6" y1="765.4" x2="614.7" y2="765.4" stroke="#333" stroke-width="0.4" />
<text x="606.9" y="766.4" font-size="4.6" text-anchor="middle" font-weight="bold" fill="#111" >*</text>
<line x1="598.6" y1="770.3" x2="607" y2="770.3" stroke="#333" stroke-width="0.4" />
<text x="603.1" y="771.3" font-size="4.6" text-anchor="middle" font-weight="bold" fill="#111" >*</text>
<line x1="607" y1="774.7" x2="614.7" y2="774.7" stroke="#333" stroke-width="0.4" />
<text x="611.1" y="774.2" font-size="3.4" text-anchor="middle" fill="#222" >NS</text>
<text x="606.5" y="827.7" font-size="3.6" text-anchor="middle" fill="#222" >HOXD4</text>
<line x1="606.5" y1="821.1" x2="606.5" y2="822.3" stroke="#333" stroke-width="0.35" />
<rect x="622.2" y="794.4" width="7.4" height="26.7" fill="#8c8c8c" stroke="#6e6e6e" stroke-width="0.3"/>
<circle cx="624.6" cy="798.3" r="0.45" fill="#9a9a9a" opacity="0.8"/>
<circle cx="627.1" cy="798.3" r="0.45" fill="#9a9a9a" opacity="0.8"/>
<circle cx="625.8" cy="793.3" r="0.45" fill="#9a9a9a" opacity="0.8"/>
<circle cx="624.8" cy="792.4" r="0.45" fill="#9a9a9a" opacity="0.8"/>
<line x1="625.9" y1="791.4" x2="625.9" y2="797.3" stroke="#333" stroke-width="0.45" />
<line x1="624.6" y1="791.4" x2="627.2" y2="791.4" stroke="#333" stroke-width="0.45" />
<line x1="624.6" y1="797.3" x2="627.2" y2="797.3" stroke="#333" stroke-width="0.45" />
<rect x="629.6" y="787" width="7.4" height="34.1" fill="#3e8588" stroke="#2b6467" stroke-width="0.3"/>
<circle cx="631.6" cy="791.9" r="0.45" fill="#9a9a9a" opacity="0.8"/>
<circle cx="635.2" cy="782.4" r="0.45" fill="#9a9a9a" opacity="0.8"/>
<circle cx="633.7" cy="784.8" r="0.45" fill="#9a9a9a" opacity="0.8"/>
<circle cx="634" cy="788.9" r="0.45" fill="#9a9a9a" opacity="0.8"/>
<line x1="633.3" y1="782.1" x2="633.3" y2="792" stroke="#333" stroke-width="0.45" />
<line x1="632" y1="782.1" x2="634.6" y2="782.1" stroke="#333" stroke-width="0.45" />
<line x1="632" y1="792" x2="634.6" y2="792" stroke="#333" stroke-width="0.45" />
<rect x="637" y="791.8" width="7.4" height="29.3" fill="#e68a78" stroke="#b8634f" stroke-width="0.3"/>
<circle cx="641.9" cy="793.5" r="0.45" fill="#9a9a9a" opacity="0.8"/>
<circle cx="640.1" cy="790.7" r="0.45" fill="#9a9a9a" opacity="0.8"/>
<circle cx="642.3" cy="794.3" r="0.45" fill="#9a9a9a" opacity="0.8"/>
<circle cx="639.8" cy="791.4" r="0.45" fill="#9a9a9a" opacity="0.8"/>
<line x1="640.7" y1="790.2" x2="640.7" y2="793.4" stroke="#333" stroke-width="0.45" />
<line x1="639.4" y1="790.2" x2="642" y2="790.2" stroke="#333" stroke-width="0.45" />
<line x1="639.4" y1="793.4" x2="642" y2="793.4" stroke="#333" stroke-width="0.45" />
<line x1="625.4" y1="760.4" x2="641.5" y2="760.4" stroke="#333" stroke-width="0.4" />
<text x="633.8" y="759.9" font-size="3.4" text-anchor="middle" fill="#222" >NS</text>
<line x1="625.4" y1="764.5" x2="633.8" y2="764.5" stroke="#333" stroke-width="0.4" />
<text x="629.9" y="764" font-size="3.4" text-anchor="middle" fill="#222" >NS</text>
<line x1="633.8" y1="769.2" x2="641.5" y2="769.2" stroke="#333" stroke-width="0.4" />
<text x="638" y="768.7" font-size="3.4" text-anchor="middle" fill="#222" >NS</text>
<text x="633.3" y="827.7" font-size="3.6" text-anchor="middle" fill="#222" >HOXD8</text>
<line x1="633.3" y1="821.1" x2="633.3" y2="822.3" stroke="#333" stroke-width="0.35" />
<text x="610" y="725.4" font-size="3.6" text-anchor="start" fill="#222" >Conditions</text>
<rect x="610" y="730" width="4.5" height="4.5" fill="#8c8c8c" stroke="#6e6e6e" stroke-width="0.3"/>
<text x="616.7" y="733.5" font-size="3.6" text-anchor="start" fill="#222" >KRAB_Neg</text>
<rect x="610" y="735.5" width="4.5" height="4.5" fill="#3e8588" stroke="#2b6467" stroke-width="0.3"/>
<text x="616.7" y="739" font-size="3.6" text-anchor="start" fill="#222" >KRAB_miR10b</text>
<rect x="610" y="741.1" width="4.5" height="4.5" fill="#e68a78" stroke="#b8634f" stroke-width="0.3"/>
<text x="616.7" y="744.6" font-size="3.6" text-anchor="start" fill="#222" >KRAB_LINC01116</text>
</svg></body></html>
